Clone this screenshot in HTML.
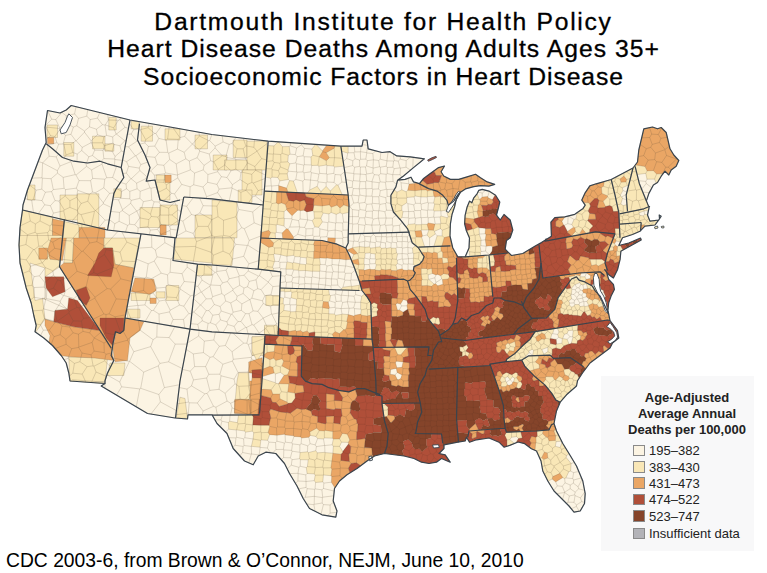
<!DOCTYPE html>
<html><head><meta charset="utf-8"><title>Heart Disease Deaths</title>
<style>
html,body{margin:0;padding:0;background:#fff}
body{width:767px;height:573px;position:relative;overflow:hidden;font-family:"Liberation Sans",sans-serif;color:#000}
.t{position:absolute;left:0;width:767px;text-align:center;font-size:23.5px;line-height:28px;white-space:nowrap;-webkit-text-stroke:0.3px #000;transform:scaleX(1.05);transform-origin:383px 0}
.foot{position:absolute;left:6px;top:549px;font-size:19.3px;line-height:24px;white-space:nowrap}
.lt{position:absolute;left:607px;width:160px;text-align:center;font-weight:bold;font-size:13px;line-height:16px;color:#222;white-space:nowrap}
.sw{position:absolute;left:633px;border:1px solid #8a8a8a;box-sizing:border-box;width:11.5px;height:11.5px}
.ll{position:absolute;left:649px;font-size:13px;line-height:17px;color:#222;white-space:nowrap}
</style></head><body>
<svg width="767" height="573" viewBox="0 0 767 573" style="position:absolute;left:0;top:0">
<rect x="601" y="376" width="153" height="175" fill="#f8f8f9"/>
<polygon points="47.5,110.5 60,113 66.2,110 71.2,105.5 130,120 170,127 211.8,134.5 268.2,141.2 340.8,146.2 362,146.2 363.2,140 367,140 368.2,148.8 382,152.5 390.1,151.7 396.8,155.9 410.2,156.8 424.4,158.8 413.5,167.6 403.5,176 397.6,180.2 405.1,179.4 411,177.2 413.5,181.9 419.4,183.6 423.6,178.5 430.3,173.5 438.6,167.6 444.5,166 441.1,171.8 443.7,176 450.4,179.4 458.7,179.4 467.1,176.9 475.5,174.3 480.5,177.7 487.2,181.9 494.7,184.4 488.9,186.1 480.5,185.6 473.8,186.6 465.4,188.9 460.4,192.3 456.2,199.5 454.5,207 452,214.5 450.4,223.8 450,236 452.8,248 457.8,256.8 465.2,256.8 469,248 469.5,238 466.3,230.5 464.6,223.8 465.1,215.4 467.1,207 469.6,201.1 471.8,202.8 473.8,197.8 477.2,193.6 478.8,190.3 482.2,189.4 488.9,191.1 495.6,195.3 499.8,202 498.5,207.5 496.5,215 500.2,220 504,214.5 510.2,220 512.8,230 510.2,237.8 506.5,240.5 505.2,249.2 511.5,255.5 522.8,253.5 535.2,246 541.4,242.6 551.4,236.3 550.9,222.1 554.8,217.6 564.8,216.8 574.8,214.3 583.1,208.4 585.2,205.1 581.8,200.1 584.8,193.4 589.8,185.9 596.2,183.8 611.2,179.5 633,168 637.5,162 638.8,150 643.8,128.8 652.5,127 657.5,128.8 661.2,127.5 666.2,132.5 670,148.8 673.8,155 678.8,160.5 676.2,166.2 671.2,170 668.8,175 665,171.2 661.2,176.2 657.5,182.5 653.4,185 648.9,193.4 646.4,200.9 649.1,207.6 647.5,215 650,221.2 658.8,220 661.2,216.2 659.2,215 659.5,218.8 655,225 645,226.2 640,231.2 632.5,234.5 622.5,237.8 618.8,245.5 628.8,243 640.5,238 641.2,240 631.2,245.5 621.2,251 620.9,251 620.1,259.4 617.6,269.4 613.4,278 608.4,274.4 604.7,269.7 606.4,271.9 608.7,279.4 613.4,284.4 614.4,289.4 611.1,296.1 608.7,302.7 607.9,310.8 608.7,314.1 610,320.5 617.5,330.5 618.8,338 612.5,343 610,348 600,355.5 590,363 582.5,373 577.5,380.8 576.5,386 566.5,394.8 560.2,402.2 556.5,411 554,423.5 556.5,431 562.8,443.5 569,453.5 576.5,466 582.8,481 585.2,493.5 584.5,503.5 580.2,511 574,512.2 569,506 561.5,498.5 554,491 547.8,481 542.8,471 541,461 536.5,451 531.4,448.7 524.7,443.7 518.1,442 509.7,445.4 504,447.2 499,442.2 489,438 476.5,439.8 469.5,442.2 466.5,437.2 465.2,441 457.8,442.2 444,444.8 444,448.5 439,453.5 445.2,454.8 450.2,462.2 441.5,458.5 436.5,462.2 429,463.5 421.5,462.2 414,458.5 404,456 384.5,453.5 374.5,456 367,461 357,468.5 347,474.8 339.5,481 334.5,488.5 333.2,501 337,511 335.8,517.2 322,514.8 309.5,508.5 303.2,498.5 297,486 289.5,473.5 284.5,463.5 275.8,453.5 265.8,452.2 258.2,456 253.2,464.8 244.5,461 233.2,448.5 227,433.5 217,423.5 212,414.8 188,414.8 187.5,419 175,418 147.5,413.5 101.2,386 105,383.5 70,381 68.8,373 66.2,363 61.2,355.5 52.5,345.5 43.8,338 35,331.8 36.2,325.5 33.8,315.5 31.2,303 26.2,288 22.5,273 20,263 19,245 20,227.5 22.5,210 23,205 27.5,190 35,170 42.5,150 46.2,142.5 45,127.5" fill="#fcf4e3"/>
<defs><clipPath id="west"><path d="M60 112.7l-12.4-2.5l-0.1 0l-0.1 0l-0.1 0l0 0.1l-0.1 0l0 0.1l0 0.1l-2.5 17l1.2 14.9l-0.4 0.9l-3.3 6.6l-15 40l-4.5 15l0 0.1l-0.5 5l-2.5 17.5l-1 17.5l1 18l0 0.1l2.5 10l3.7 15l5 15l2.6 12.5l2.4 9.9l-1.2 6.2l0 0.1l0 0.1l0 0.1l0.1 0l8.8 6.2l8.7 7.5l8.7 10l4.9 7.4l2.6 10l1.2 7.9l0 0.1l0 0.1l0.1 0l0 0.1l0.1 0l0.1 0l34.1 2.4l-3.1 2l0 0.1l-0.1 0.1l0 0.1l0 0.1l0 0.1l0.1 0l0 0.1l3.8 2.2l42.5 25.3l0.1 0l0.1 0l27.5 4.5l0.5 0l12 1l0.1 0l0.1-0.1l0.1-0.1l0-0.1l0.5-3.9l23.5 0l0.2 0.2l0 0.1l0.1 0.1l0.1 0l47.2-0.4l0.1 0l0.1-0.1l0.1 0l0-0.1l0-0.1l2.6-33.8l2.5-36.8l0.6-9.1l12.8 0.7l0.1 0l0.1 0l0-0.1l0.1 0l0-0.1l0-0.1l1.8-47.5l0.8-16.2l0-0.1l0-0.1l-0.1 0l-0.1-0.1l-0.1 0l-22.3-2.6l2.6-30.9l2.4-33l1.1-13.8l3.9-50l0-0.1l-0.1-0.1l-0.1-0.1l-0.1 0l-56.4-6.7l-41.7-7.5l-40-7l-58.8-14.5l-0.1 0l-0.1 0l-0.1 0l0 0.1l-5 4.4z"/></clipPath></defs>
<g clip-path="url(#west)" stroke="#5a4a3a" stroke-opacity="0.36" stroke-width="0.55">
<polygon points="108.8,117.5 116.2,117.5 116.2,130 108.8,130" fill="#f9e7b7"/>
<polygon points="92.5,136.2 105,136.2 105,148.8 92.5,148.8" fill="#f9e7b7"/>
<polygon points="105,143.8 113.8,143.8 113.8,151.2 105,151.2" fill="#f9e7b7"/>
<polygon points="47,125 57.5,125 57.5,137.5 47,137.5" fill="#f9e7b7"/>
<polygon points="63.8,142.5 73.8,142.5 73.8,156.2 63.8,156.2" fill="#f9e7b7"/>
<polygon points="131.2,121.2 138.8,121.2 138.8,128.8 131.2,128.8" fill="#f9e7b7"/>
<polygon points="141.2,126.2 152.5,126.2 152.5,141.2 141.2,141.2" fill="#f9e7b7"/>
<polygon points="165,128.8 180,128.8 180,140 165,140" fill="#f9e7b7"/>
<polygon points="195,135 207.5,135 207.5,148.8 195,148.8" fill="#f9e7b7"/>
<polygon points="156.2,175 165,175 165,181.2 156.2,181.2" fill="#f9e7b7"/>
<polygon points="60,195 80,195 80,220 60,220" fill="#f9e7b7"/>
<polygon points="77.5,193.8 98.8,193.8 98.8,230 77.5,230" fill="#f9e7b7"/>
<polygon points="27.5,185 35,185 35,200 27.5,200" fill="#f9e7b7"/>
<polygon points="113.8,188.8 121.2,188.8 121.2,197.5 113.8,197.5" fill="#f9e7b7"/>
<polygon points="140,207.5 160,207.5 160,227.5 140,227.5" fill="#f9e7b7"/>
<polygon points="160,205 177.5,205 177.5,225 160,225" fill="#f9e7b7"/>
<polygon points="195,215 211.8,215 211.8,237.8 195,237.8" fill="#f9e7b7"/>
<polygon points="155,180 170,180 170,200 160,200" fill="#f9e7b7"/>
<polygon points="22.5,210 52.5,217.5 52.5,237.8 20,237.8 20,227.5" fill="#f9e7b7"/>
<polygon points="47.5,137.5 53.8,137.5 53.8,143.8 47.5,143.8" fill="#eaa665"/>
<polygon points="165,175 171.2,175 171.2,182.5 165,182.5" fill="#eaa665"/>
<polygon points="78.8,227.5 105,227.5 105,237.8 78.8,237.8" fill="#eaa665"/>
<polygon points="160,225 166.2,225 166.2,235 160,235" fill="#eaa665"/>
<polygon points="52.5,218.8 64.5,221.5 63,238.8 52.5,238.8" fill="#eaa665"/>
<polygon points="64.5,221.5 78.8,225 78.8,238.8 63,238.8" fill="#f9e7b7"/>
<polygon points="233.2,140 247,140 247,157.5 233.2,157.5" fill="#f9e7b7"/>
<polygon points="247,141.2 267,141.2 267,170 247,170" fill="#f9e7b7"/>
<polygon points="213.2,155 227,155 227,170 213.2,170" fill="#f9e7b7"/>
<polygon points="224.5,160 247,160 247,170 224.5,170" fill="#f9e7b7"/>
<polygon points="242,170 262,170 262,195 242,195" fill="#f9e7b7"/>
<polygon points="238.2,190 252,190 252,202.5 238.2,202.5" fill="#f9e7b7"/>
<polygon points="268.2,148.8 287,148.8 287,177.5 268.2,177.5" fill="#f9e7b7"/>
<polygon points="278.2,167.5 287,167.5 287,180 278.2,180" fill="#f9e7b7"/>
<polygon points="287,182.5 295.8,182.5 295.8,191.2 287,191.2" fill="#f9e7b7"/>
<polygon points="264.5,192.5 275.8,192.5 275.8,237.8 264.5,237.8" fill="#f9e7b7"/>
<polygon points="275.8,205 287,205 287,225 275.8,225" fill="#f9e7b7"/>
<polygon points="212,200 237,202.5 237,237.8 212,237.8" fill="#f9e7b7"/>
<polygon points="275.8,193.8 287,193.8 287,205 275.8,205" fill="#eaa665"/>
<polygon points="277,187.5 287,187.5 287,192.5 277,192.5" fill="#eaa665"/>
<polygon points="287,200 305.8,200 305.8,208.8 287,208.8" fill="#eaa665"/>
<polygon points="287,208.8 297,208.8 297,213.8 287,213.8" fill="#eaa665"/>
<polygon points="260.8,231.2 272,231.2 272,237.8 260.8,237.8" fill="#eaa665"/>
<polygon points="283.2,233.8 289.5,233.8 289.5,237.8 283.2,237.8" fill="#eaa665"/>
<polygon points="287,193.8 304.5,193.8 304.5,200 287,200" fill="#b04f39"/>
<polygon points="17.5,235.5 62.5,235.5 59.5,266.8 45,276.8 45,319.2 35,333 17.5,263" fill="#f9e7b7"/>
<polygon points="30,263 45,268 45,298 35,300.5" fill="#fcf4e3"/>
<polygon points="42.5,298 67.5,309.2 55,310.5 53.8,321.8 45,319.2" fill="#fcf4e3"/>
<polygon points="68.8,356.8 107.5,358 105,381.8 70,381.8" fill="#f9e7b7"/>
<polygon points="66.2,238 73.8,238 72.5,263 63.8,263" fill="#f9e7b7"/>
<polygon points="103.8,238 140,238 133.8,268 115,264.2 112.5,248 103.8,248" fill="#f9e7b7"/>
<polygon points="131.2,293 150,293 150,300.5 131.2,300.5" fill="#f9e7b7"/>
<polygon points="166.2,285.5 178.8,285.5 178.8,300.5 166.2,300.5" fill="#f9e7b7"/>
<polygon points="156.2,291.8 165,291.8 165,298 156.2,298" fill="#f9e7b7"/>
<polygon points="127.5,309.2 140,309.2 140,318 127.5,318" fill="#f9e7b7"/>
<polygon points="110,363 125,363 123.8,375.5 107.5,375.5" fill="#f9e7b7"/>
<polygon points="176.2,238 211.8,238 211.8,263 173.8,259.2" fill="#f9e7b7"/>
<polygon points="197.5,264.2 211.8,266 211.8,275.5 196.2,275.5" fill="#f9e7b7"/>
<polygon points="51.2,238 66.2,238 62.5,260.5 50,259.2 47.5,250.5" fill="#eaa665"/>
<polygon points="38.8,248 47.5,248 47.5,259.2 38.8,259.2" fill="#eaa665"/>
<polygon points="45,319.2 53.8,321.8 73.8,326.8 100,330.5 111.2,348 113.8,360.5 95,358 70,356.8 60,355.5 48.8,343 50,335.5 45,325.5" fill="#eaa665"/>
<polygon points="63.8,263 72.5,263 73.8,238 103.8,238 103.8,248 112.5,248 115,264.2 133.8,268 125,318 123.8,330 120,333 115.5,331.8 112,350.5 59.5,266.8" fill="#eaa665"/>
<polygon points="135,278 153.8,279.2 156.2,290.5 150,294.2 131.2,291.8" fill="#eaa665"/>
<polygon points="150,298 156.2,298 156.2,303.5 150,303.5" fill="#eaa665"/>
<polygon points="125,318 143.8,321.8 140,330.5 130,338 127.5,360.5 115,361.8 113.8,355.5 113,348 116.2,331.8 123.8,330" fill="#eaa665"/>
<polygon points="45,276.8 63.8,276.8 65,291.8 52.5,296.8 46.2,288" fill="#b04f39"/>
<polygon points="68.8,298 77.5,300.5 100,330.5 73.8,326.8 53.8,321.8 55,310.5 67.5,309.2" fill="#b04f39"/>
<polygon points="103.8,248 112.5,248 113.8,265.5 111.2,276.8 87.5,275.5 95,263 98.8,253" fill="#b04f39"/>
<polygon points="76.2,290.5 86.2,286.8 90,298 86.2,305.5 78.8,299.2" fill="#b04f39"/>
<polygon points="100,318 123.8,318 123.8,330 120,333 115.5,331.8 112.5,345.5 106.2,338 100,325.5" fill="#b04f39"/>
<polygon points="212,238 234.5,238 232,265.5 212,264.2" fill="#f9e7b7"/>
<polygon points="260.8,238 322,240.5 345.8,248 362,290.5 280,288 280.8,271.8 258.2,269.2" fill="#f9e7b7"/>
<polygon points="274.5,255.5 347,255.5 354.5,268 359.5,288 280.8,288 280.8,271.8 274.5,270.5" fill="#fcf4e3"/>
<polygon points="287,264.2 312,264.2 312,271.8 287,271.8" fill="#f9e7b7"/>
<polygon points="280,288 359.5,290.5 370.8,303 372,339.2 278.2,335.5" fill="#f9e7b7"/>
<polygon points="282,290.5 294.5,290.5 294.5,313 282,313" fill="#fcf4e3"/>
<polygon points="265.8,295.5 279.5,295.5 279.5,305.5 265.8,305.5" fill="#f9e7b7"/>
<polygon points="264.5,326.8 278.2,326.8 278.2,335.5 264.5,335.5" fill="#f9e7b7"/>
<polygon points="252,336.8 264.5,336.8 264.5,355.5 252,355.5" fill="#f9e7b7"/>
<polygon points="265.8,239.2 273.2,239.2 273.2,246.8 265.8,246.8" fill="#eaa665"/>
<polygon points="264.5,344.2 302,346 302,380.8 262,380.8" fill="#eaa665"/>
<polygon points="265.8,345.5 287,345.5 287,355.5 265.8,355.5" fill="#f9e7b7"/>
<polygon points="269.5,363 284.5,363 284.5,380.8 269.5,380.8" fill="#f9e7b7"/>
<polygon points="249.5,363 263.2,363 263.2,373 249.5,373" fill="#eaa665"/>
<polygon points="278.2,331 289.5,331 289.5,336 278.2,336" fill="#b04f39"/>
<polygon points="264.5,336.2 302,338 302,346 264.5,344.2" fill="#b04f39"/>
<polygon points="287,345.5 302,345.5 302,355.5 287,355.5" fill="#b04f39"/>
<polygon points="253.2,370.5 262,370.5 262,380.8 253.2,380.8" fill="#b04f39"/>
<polygon points="72.5,379.8 105,382.2 101.2,386 70,382.2" fill="#f9e7b7"/>
<polygon points="180,397.2 185,398.5 187.5,418.5 176.2,418" fill="#f9e7b7"/>
<polygon points="237,383.5 250.8,383.5 250.8,401 237,401" fill="#f9e7b7"/>
<polygon points="230.8,418.5 252,418.5 252,433.5 230.8,433.5" fill="#f9e7b7"/>
<polygon points="252,428.5 270.8,428.5 270.8,443.5 252,443.5" fill="#f9e7b7"/>
<polygon points="249.5,381 260.8,381 260.8,398.5 249.5,398.5" fill="#eaa665"/>
<polygon points="234.5,399.8 259.5,399.8 259.5,413.5 234.5,413.5" fill="#eaa665"/>
<polygon points="260.8,381 267,381 267,401 274.5,401 274.5,408.5 264.5,408.5 264.5,416 269.5,416 269.5,426 252,426 252,416 259.5,414.8" fill="#b04f39"/>
<polygon points="267,381 287,381 287,401 267,393.5" fill="#f9e7b7"/>
<polygon points="272,387.2 279.5,387.2 279.5,401 272,401" fill="#eaa665"/>
<polygon points="287,381 302,381 307,396 292,396" fill="#eaa665"/>
<polygon points="269.5,408.5 322,416 329.5,426 317,438.5 287,438.5 269.5,431" fill="#eaa665"/>
<polygon points="283.5,235.2 292.7,235.2 292.7,239.3 283.5,239.3" fill="#eaa665"/>
<polygon points="279.3,330.3 289.4,330.3 289.4,332.8 279.3,332.8" fill="#b04f39"/>
<polygon points="264.5,325.2 277.1,325.2 277.1,335.2 264.5,334.7" fill="#f9e7b7"/>
<polygon points="277.9,331 288.7,331 288.7,336.3 277.9,335.7" fill="#b04f39"/>
<polygon points="289.6,331 308.8,331.8 308.8,337.7 289.6,336.7" fill="#eaa665"/>
<polygon points="265.4,336.3 302.1,337.7 302.1,346.9 263.7,345.2" fill="#b04f39"/>
<polygon points="277.1,337.3 289.6,337.7 289.6,346 277.1,345.5" fill="#eaa665"/>
<polygon points="263.7,345.2 302.1,346.9 301.3,376.1 301.3,399.4 260.4,399.4" fill="#eaa665"/>
<polygon points="264.5,346 274.6,346.4 274.6,351 264.5,351" fill="#f9e7b7"/>
<polygon points="263.7,358.5 282.1,358.5 282.1,366.1 263.7,366.1" fill="#f9e7b7"/>
<polygon points="272.9,366.1 287.1,366.1 287.1,373.6 272.9,373.6" fill="#f9e7b7"/>
<polygon points="267.9,372.7 282.1,372.7 282.1,380.2 267.9,380.2" fill="#fcf4e3"/>
<polygon points="267,380.2 287.1,380.2 287.1,392.8 267,392.8" fill="#f9e7b7"/>
<polygon points="280.4,392.8 293.7,392.8 293.7,401.1 280.4,401.1" fill="#f9e7b7"/>
<polygon points="289.6,346.9 295.4,346.9 295.4,353 289.6,352.7" fill="#b04f39"/>
<polygon points="295.4,353.5 301.3,353.5 301.3,376.1 305.4,381.1 312.1,383.6 312.1,396.1 305.4,404.4 293.7,404.4 293.7,396.1 302.1,389.4 295.4,381.1 289.6,381.1 289.6,374.4 295.4,374.4" fill="#b04f39"/>
<polygon points="260.4,399.4 280.4,401.1 282.1,409.4 290.4,414.4 290.4,422.8 253.7,422.8 259.5,409.4" fill="#b04f39"/>
<polygon points="270.4,409.4 277.1,409.4 277.1,416.1 270.4,416.1" fill="#eaa665"/>
<polygon points="252,336.8 264.5,336.3 263.4,351 257,361 252,351" fill="#f9e7b7"/>
<polygon points="248.7,361.9 262,357.7 261.7,369.4 252,370.2 248.7,372.7" fill="#eaa665"/>
<polygon points="238.7,372.7 248.7,372.7 250.4,392.8 245.4,399.4 235.3,399.4 237,381.1" fill="#f9e7b7"/>
<polygon points="252,377.7 260.7,377.7 259.5,409.4 250.4,414.4 250.4,392.8" fill="#eaa665"/>
<polygon points="252,370.2 261.5,369.4 261.2,377.7 252,377.7" fill="#b04f39"/>
<polygon points="235.3,399.4 248.7,399.4 250.4,414.4 234.5,412.8" fill="#eaa665"/>
<polygon points="251.2,399.2 259.5,399.2 257.8,416.7 251.2,416.7" fill="#eaa665"/>
<polygon points="259.5,399.2 380.5,399.2 380.5,455.1 375.5,456.7 368.8,455.1 365.5,446.7 357.1,440.1 358.8,430 352.1,423.4 345.5,425 338.8,421.7 328.8,418.4 322.1,421.7 307.1,416.7 268.7,410 268.7,421.7 262,421.7 262,426.7 251.2,425 251.2,416.7 257.8,416.7" fill="#b04f39"/>
<polygon points="268.7,410 307.1,416.7 322.1,421.7 327.1,431.7 318.8,435.9 307.1,439.2 287,437.5 268.7,430.9 267.9,421.7" fill="#eaa665"/>
<polygon points="278.7,399.2 283.7,399.2 283.7,406.7 278.7,406.7" fill="#eaa665"/>
<polygon points="270.4,409.2 277,409.2 277,416.7 270.4,416.7" fill="#eaa665"/>
<polygon points="251.2,426.7 262,428.4 270.4,433.4 272,440.1 262,445.1 251.2,438.4" fill="#f9e7b7"/>
</g>
<path d="M278.3 141.9l-4.4 3.9l-6.1-0.3l-2.5 31.6l5.4 1.1l1.4-0.9l5.6 0.3l2.1 3.4l8.6-1.5l-1.1-5.7l1.1-2.6l-0.3-1.1l1.8-6.3l-2.1-2l0.5-6.5l1.8-1.1l-0.8-7.7l-6.8 0.2zM264.2 191.2l-1 13.8l-2 27.4l0 0.1l7.5-2.1l1.9 2.3l-2.5 5.6l0.7 0.1l4.9 4.7l-0.8 3.3l-4.1 0.9l-8.4-5.2l-2.2 27.1l15.2 1.8l0-2.7l-0.7-1l1.7-5.6l0.4-0.3l-1.1-6.9l0.7-0.6l6.4 0.9l0.1 0.1l6 1.4l0.1 0l6.6-1l1.2 1.3l5.1 0.2l0.5 0.5l5.8 0.5l0.3 5.9l-0.9 0.8l-5.8-0.6l-0.1-0.2l-6.2-1.3l-0.8 0.6l-5.5-1.1l-0.3 0.3l-1.1 6.8l0.2 0.2l6.8 0l0.8 0.8l4.6 0.3l0.5 0.5l6.7-0.3l0.1 0.2l7 0.7l0.1-0.2l7 0.2l0.4-0.4l0-6l0.4-0.5l-0.8-6.3l-5.8 0.1l-0.1-0.1l0.1-6.7l0.6-0.5l-0.2-5.6l-0.7-0.8l1.5-4.4l-39.4-1.6l-0.3-5.4l1-0.8l0-7.4l0.8-0.6l7 1.6l0.3-7.5l-0.4-0.4l0.1-6.5l2.4-1.9l0.3-0.8l-1.4-4.4l-3.8-1.6l-3.3 1l-2-1l0.4-11.2zM280 288l-0.1 3.3l4.3-0.1l0.6 0.7l5.9-0.5l1.1 1l-0.8 5.4l5.6 1.4l-0.4 5.6l0.4 0.4l-0.8 6.3l-5.1 0.3l-0.4-0.5l-6.4-1l0.5-5.5l-1.3-1.2l0.4-5.4l-3.9-0.9l-1.1 29.9l2.9 2.8l6.9 1.2l0.3 0.4l6.7-1.2l1.2 0.9l4.1-0.7l2.3 1.8l4.3-1.4l2 2.1l5.2-1.1l0.6 0.4l-0.3 4.6l19 0.7l0.1 0l-1.4-3.5l2.6-2.7l4.5 2.2l4.3-4l0.9 0.1l1.5-1.4l1.3-6.2l-0.7-0.8l1.4-6.8l-6.2-0.6l-0.2 0.3l-6.2 1l-1.1-1.4l-5.7-0.2l0.1-5.1l-6.3-1l-0.2-0.4l1-5.7l4.8 0.5l1.5-1.1l0.8-5.4l-1-0.7l-0.9-5.3zM275 344.7l-10.5-0.5l-0.8 11l3.4-2.8l7.1-0.9zM273.5 358.2l-3.5 1.4l-6.4-3l-0.8 12.6l7.2-2.8l2.9 0.9l1.2 5.7l1.3 1l5-1.6l3.7 2.9l3.6-0.4l1.8-5.1l-7.5-4l1.7-4.7l-1.6-2.3l-6.1 1.5zM262.2 378.4l-0.9 10.8l9.9 0.6l1.6 4.3l6.8 0l0.3 4.7l7.2 3.3l0.9 1.3l3.7-0.3l3.7-5l-0.4-4.6l-0.6-0.6l-6.5-0.9l0.9-8.1l-10.2-0.2l-0.2 0.1l-2.5-0.6l-0.5-0.5zM238.5 414.9l-1.2 7.7l-7.7-1.4l-1.3 1.4l0.4 6.6l7.6 0.9l0.3-0.2l7.9 1.2l1 1.2l6.8-1.1l1.4 1.6l-0.7 6.2l-1.6 7.3l8.7 0.9l0.7-6.8l0.5-0.4l6.3 0.3l2.1-5.7l-1.5-2.2l1.6-6l-0.8-1.3l-8.2 0.1l-0.1-0.1l-7.8-0.2l0.5-8.1l-1.2-2zM322.7 151.7l-0.2-0.8l-6.3-6.4l-0.6-0.1l-3.8 4.7l0.9 6.2l-1.8 1.7l0.3 8l0.5 0.5l6.2-0.1l1 0.8l7.3-1.2l0.7 0.6l6.7 0.5l0.9 1l9.4-1l-2.3-14.8l6.2 1.9l0.4-0.3l0-6.7l-7.4-0.1l-5.7-0.3l-1 2.3l-8 4.6l3.2 5l-3 3l-6.9-4zM288 192.3l9.4 0.4l-4.1-11.7l-3.9-0.4l-2.9 7.5zM317.3 186.2l-7.6 3.8l-2.4 3.2l35 1.5l-4.3-9.6l-1.5-0.3l-6.1 6.2l-4.2-4.7l-5.3 5.2zM313.8 205.2l-1 5.5l1 1.1l0.5 6.4l-2 2.5l2.5 6.2l3.9 0.4l3.8-5.3l-1.6-3.7l2.2-5.2l5.8 0.9l2.4-1.4l4.9 1.8l3.8-1.6l2.3 1l6.6-1.4l0.1-5.7l-5.2-1.8l-3.8 2.9l-3.1-2.7l-5.6 2.1l-1.9-2.4l-7 1.1l-0.1 0.1zM316.8 428.2l-7 3.6l0.5 3.6l5.7 1.2l1.6 2l5.9 0.5l0.9-1.2l8.4 0.3l0-6.7l-7.7-1.2l-0.7 0.6l-5.2-0.3zM315.9 450.7l-7.5 1.8l-0.9-0.7l-7.4 0.8l-0.6 6.1l0.9 1.1l7.8 0l-0.8 6.8l-1.1 1l0.8 5.9l7.2 0.5l0.8 1.2l-0.8 5.4l1.2 1.9l7.3-0.6l0.7-6.8l0.1-0.1l7.4 0.7l0.9-6.6l-0.9-1.3l1.9-14.5l8.3 1l1.8-2l-0.1-0.7l-3.3-5.2l1.9-4.2l6.8 0.2l1.5-2.5l-2.5-5.8l-5-0.8l-2.8 5.5l-6.2 0.3l-1.1 5.7l1.1 1.5l-0.5 6.9l-7.6-0.6l-0.3-0.3l-7.6 0.5zM359.6 246.5l-6.9 1.1l-0.1 0.1l4.8 5.8l-3.7 1l-2.4 5.5l0.2 0.5l6.7-1.5l0.9 5.3l-0.4 0.6l-6.1-1.7l0 0.1l1.9 4.7l3.2 9l1.6-1.5l-0.5-5.8l5.1 0.1l0.7-5.3l-0.6-0.4l0.2-5.5l0.5-0.4l0.4-4.9l5-0.4l0.6 0.6l4.4 0.4l0.2 5l0.5 0.6l-0.6 4.1l1.1 1.3l-1.3 4.6l0.5 0.6l4.5 0.6l1.4-1.3l4.3 0.6l5-0.6l1 1.1l4.9 0.3l0.5-0.6l-1-5.1l1.3-1.5l-0.1-3.5l-0.8-0.8l1.1-5.5l-1-0.8l-0.5-4.8l-4.4-0.2l-0.7-0.5l-4.5 0.8l-0.7-0.4l-4.2 0.4l-1.5-1.5l-4.5 0.5l-0.3 0.2l-4.7 0.5l-1.2-1.2l-4.5 0.5l-0.3-0.3zM362.1 290.6l-1.9-6.4l-0.9 0.9l-7.6 1.2l-0.3-0.2l-8.5 1.1l-1.6 1.6l-0.1 1.1zM364.7 293.8l-2.9 2.3l-1.3 6.2l0.1 0.2l0 6.6l0.5 0.8l-0.4 4.3l1 1.1l5.6 0.9l0.4-0.4l3.5-0.6l0.1 2.4l6.1-1.8l-0.4-4l1.5-2.2l-1.4-2.2l0.5-3.3l-3.6-1.7l-3 2l-0.1 0l-0.1-1.4l-3.8-6.2zM434 196.3l-1-6.3l-5.6 1l-1.3-1.2l-4.6 0.2l-0.2-0.1l-6.2 0.8l-7.4-0.5l-1.6 1.6l-4.3-2l-4.8 2.1l-2.9-2.1l-3.2 5.5l0 8.4l2.5 8.3l6.4 7.2l2.3-1.8l1-5.7l-1.3-1.5l0.1-4.3l5-3.1l-0.2-4.7l0.2-0.5l7.2-0.7l1-0.9l5.8 0.9l6.3 0.1l0.2-0.2zM439.8 196.2l-4.9 0.8l-1.3 6l0.9 1.1l-1.2 6.1l0.9 0.9l6.4-0.3l0.3 0.3l5.3-0.9l2 6.7l-1 0.8l-6.3-1.7l-0.9 1l0.7 6.4l-0.4 0.4l-5.1 0.1l-0.3 0.2l-1.5 6.1l-4.7-0.2l-1.7 5l2.6 3l5.8-4l-0.9-2.7l6-2.5l1.7 1.4l-0.2 5.7l-4.9-0.2l-3.4 10.8l-8.9 0.4l-3.2-9.7l-5.6-0.2l-1-5.9l6.2-0.6l0.4-0.5l7-0.1l-1.4-5.6l-5.5-0.1l-0.4 0.4l-5.4 0.1l-0.9-1l-6.7 0.7l-2.2 2.6l1.5 1.8l4.6 14l3.5 2.9l-3.2 2.4l0.4 4.9l0.7 0.6l-0.2 4.6l-0.1 0.1l0 6l2 1.8l4.4-2l3.1-3.8l1.3-3.7l-2.9-4.3l5.4 0.4l1-0.7l4.7 1.1l1.6-1.1l3.4 1l0.5 5.3l4.3-0.2l0.8 5.2l5.3-0.9l-0.6-4.2l-4.9-0.7l0.1-5.2l-1.6-1.3l-0.3-4.7l1 0l2.4-8.7l5.8-1.4l0.3-12.4l1.6-9.3l2.5-7.5l0.4-1.4l-1.9-1.6l-6-0.5l-0.4-6.3l-6-0.3zM421.7 268.5l-0.6 0.5l0.1 5.2l0.9 5.4l-0.6 0.8l0 4.9l0.5 0.5l5.2-0.3l0.2 0.2l4.2 0.6l2.6-2.2l-5.4-4.7l-0.4-0.2l-0.1-4.4l4-1.3l-0.5-5.1l-4.5 1l-0.8-0.8zM442.5 279.7l5.5-0.7l1.6-2.2l-1.1-2.3l-4.9-0.9l-2.9 2.1l0.9 3.2zM433.4 317l-4.1 3.1l3 4l2.6-0.6l3.6 1.3l1.7-1.4l-1-5.2l-1.3-0.7l-1.7 0.6zM400.8 354.9l6.4-7.7l0-0.1l-12.6 0.2l0 0.2l3.1 7.1zM385 403.4l-3 0.1l1.9 13.5l2.6-0.3l1.5-1.6l0.1-4.9l-0.2-0.3l0.3-2.7l-3-2.6zM477 193.8l-3.2 4l-2 4.9l-2.2-1.6l-2.5 5.9l-2 8.4l-0.2 2.4l9.2 1.4l0.3-0.3l4.4-1.3l-1.7-6.2l0.7-0.5l0.5-5.7l1.6-1.2l0.4-2.8l-0.6-1.7l-0.3-0.2zM479.4 234.1l-0.4-6.4l-0.8-0.8l-5.1 2.2l-0.8-0.2l-5.9 1.8l3 7.3l-0.4 10l-1 2.3l1.5 1.4l0.1 4.8l11.4-0.9l-0.6-3.2l0.6-0.8l-0.9-5.2l0.8-0.7l0.2-5l0.2-0.3l-2-6.1zM493.3 254.5l-4.3 0.5l-3.2 0.2l-3.2 2.7l-4.4 0.2l-0.7 0.9l0.2 3.6l-0.5 0.5l0.2 5.1l4.8-0.6l0.4 0.3l4.1 0.1l2.1 2l1.6 0l-0.3-3.2l4.3-1l0.3-3.8l0.3-0.5zM535.1 331.7l-5 7.5l-6.7 5.8l-8.4 8.4l-8.3 5.8l-0.8 2.5l15.8-1.5l3.4 6.5l4.3 4.4l4.2-1.2l0.3-0.4l5.5-1.2l-0.1-3.6l-3.9-2.8l3.3-4l-0.6-2.3l12-0.4l1.1 1l1.1-2l0-5l4-1.4l0.7 0.7l3.5 0.8l3.2-3l0.1-0.3l5.2-2.1l-1.9-4.6l-4.4-0.8l1.7-4.2l2.8-0.8l1.1-2.8l4.1-0.4l0.8 0.6l-0.7 5.9l0.4 0.4l-1.6 6.1l5.8 0.6l0.4-3.1l2.6-1.1l0.8-3.8l-2.4-1.3l-0.7-4.3l-0.2-0.1l0.4-5.5l-20.7 3.4l-0.1 0l1.7 3.9l-1.3 2.5l1.1 2.9l3.6 1.3l-0.4 4.5l-5.3 0.8l-0.6 0.7l-5.5-1.2l-0.5-4.4l0.6-0.5l1.3-4.5l0.8-0.5l1.5-5zM539.2 334.8l2.6-1.6l3 1.1l1.1 4.1l-1.6 1l-2.5-0.4l-3.5 2.3l-1.4-0.3l-1.3-3.6l3.3-2.6zM529.1 352.6l-0.2-1.4l3.2-1.8l1.5 0.9l-1 4.9l0.2 0.5l-4.4 0.2l-2.7 1.6l-0.1-0.1l0.1-1.2zM547.8 351.6l-3.9 2.5l-2.1-4.6l6-2.2zM515.7 346.3l-0.8-4.8l-5.7 2.3l-1.2-0.8l-2.6 2.1l0.5 3l-1.8 1.8l2.6 4l0.5 0.1l2.3-3.3l4.4 0.7l0.8-4.2zM468.4 347.6l-1.9-3l-3.6 2.4l-3.4-0.3l0.5 4.6l2.1 0.8l-0.1 4.4l0.3 0.1l3.2-1.2l2.3 1.2l1.7-3.5l-3.7-2zM508.8 373.1l-2.7-0.7l-3.6 2.2l-0.3 1.6l-1 0.7l-1.3 3.3l1.6 2.2l-0.6 3l1 1.4l3.9-0.3l1.6-1.6l-0.8-2.9l-0.9-0.7l-0.6-3.3l2.6-1.3l2.4 3l2.4-2.8l2 1.3l-0.9 3.7l3.9 0.9l-1.1 4.7l2.1 1.1l2.2-0.8l1.7-3.7l-1.7-2.5l-1.4 0l-2.7-3.9l1.3-2.7l-0.5-2.2l-2-0.5l-3.5 2.3l-2.8-1zM518.5 438.6l3.9-0.6l-1.6-6.4l-14.3 0.5l-1.9 3.1l2.3 4.8l-0.1 0.1l0.1 6.2l2.8-0.9l5.1-2l-5.1-3.8l1.9-2.3l4.9-0.6zM565.4 287.5l-0.1 0l-1.3 1.9l-5.9 8.3l-0.6 1.9l0 0.1l4.4 0.6l1 2.7l-1.5 1.5l-0.2 3.2l-1.2 0.9l0.7 4.7l2 0.7l0.7 0.9l4.7-0.8l1.1 0.9l2.8-0.1l0.4 0.4l5.1 0.3l0.1 0.1l3.5 0.6l2.5-4.3l1-0.2l2.6 4l2.9-0.9l1.4-2.9l-0.5-1.6l-0.9-0.4l-1.7-4.2l-3.6 0.7l-0.7-0.5l-4 0.5l-1-1.9l-4.3-0.1l-0.5 1.3l-2.5 1.3l-2.5-2l0.5-2l-1.1-2.1l3-2.2l-0.8-3.6l0.3-0.7l0.2-0.2l0.6-5.2l-0.5-0.8l3.3-3.7l0.2 0l4.8-1.8l1.1 1.6l2 0.5l3.4-1.4l1.2 5.1l2.7-0.1l1.4 1.6l3-0.2l0.8 1.2l0.8 0.9l0.9-1.5l-1.3-3.5l-3.3-0.6l-0.2-0.3l-7.5-4.2l1.2-2.6l-1-2.6l-4.6 0l-0.3-0.8l-4.9-1.4l-0.7 1.2l-5.2 1l-0.5 0.9l0.6 2l1 0.9l-1.5 2l0.3 0.3l1.5 5.2l-3.8 1zM559.2 376.1l-3.6 4l-1.2-0.5l-1.6-2.9l-6.8-0.1l-0.5 1l0.2 1.8l-3 3.8l2.4 1.9l6.7 8.3l4.1 6.7l4.3 2.1l6.3-7.4l10-8.8l1-5.2l1.7-2.7l-1.7-3.7l-2.4-0.7l-1-1.6l-2.9-1l-2.1-2.4l-4.4 0.4l-1 1.7l1.1 4l3.7 1.5l1 2l-1.8 2.2l-2.3 0.3l-2.4-1.4l-0.2-1.6zM555.8 428.7l-0.1 0l-1.8 2.3l1.6 4.7l0.1 0.1l-0.3 4.6l-6.3 0.4l-1.2-3.4l-1.5-0.1l-3.6-3.5l0.3-3.5l-6 0.6l0.1 5.3l-1.2 0.9l0.1 5.6l-0.3 0.2l-0.8 7.4l1.6 0.7l4.5 10l1.8 10l5.1 10.2l4.3-2.1l0.6-2.5l7.1-3.1l2.9 4.1l1.9 1.1l1.3-0.8l2.8-6.1l1.9-0.7l0.4-7.5l0.1-0.1l-4.9-5.9l0.2-2l2.7-1.9l-6.4-10.2l-0.8-1.7l-0.1 0l-1.7 5.7l-4.9-1.2l0.9-4.7l5.5-0.3l-5.2-10.3zM544.4 452.2l2.8 0.7l0.6 5.1l-4 1.4l-2.1-1.7zM604.2 181.4l-0.7 4.9l-2.1 1.3l0.5 5.8l5.4 2.3l0.2 1.3l-4.5 4.3l2.5 5.2l4.2-1l2.2 1.2l1.3 5l5.3-0.3l0.3 1.1l0.7 16l-4.7-0.1l0.4 5.4l-0.2 0l-1.8 4.4l2.5 1l0.4 1.9l4 0.6l0.1 0.8l0 0.1l2.3-4.8l10-3.3l7.5-3.3l0.6-0.5l0.4-5.7l3.1-0.1l0.8 1.5l0.1-0.2l10-1.2l3.6-5l-8.6 1.1l-2.4-6.1l0-0.3l-3-0.5l-1.2 1.7l-3.4-0.7l-0.9-1.4l0.3-1l4.7-1.7l0-0.1l4.4-0.5l0.6-2.9l-9.8-24.2l-2.1-8.8l8.5-1.2l1.2 5.9l7.6-0.1l1.7 4.1l1.3-0.8l3.7-6.3l1.6-2l-0.3-0.5l-5.9 0.2l-3.2-3.3l-6.3 0.3l-2.1-4.5l-9.7-1.6l-2.3 3.2l-21.8 11.5zM621 182.1l-1-3l3.9-2.9l2.7 3.4l-0.6 2.2zM626.2 195l0.7 9.5l-3.6 1l-2.5-1.5l1.8-5.6l-0.8-1.5l-1.1-0.7l-0.3-1.1l2.5-4.6l-0.6-2.7l5.1-2.2l1 0.5zM589.7 203.8l-1.6-1.1l-4.5 0.1l1.5 2.3l-2 3.3l-6.3 4.4l0.2 0.3l-1.1 5.8l-1.9 0.6l-2.2 5l1.7 2.8l1.4 0.6l0.5 3.6l-4 4.2l0.1 0.6l7.9-1.5l-0.1-0.4l3.2-5.3l3.8 4.4l3.2-0.6l0.4-3.4l3.3-3.5l-5.5-5.5l0.7-1l1.3-6.1l-1.4-2.5l2.3-4.8zM615.3 245.3l-0.6-1.8l-3.1-1l-3.1 7.9l1 0.6l3.9-0.6l0-3.4zM590 259.2l1.6 6.4l4.6-1.1l2 1.7l6.9-3.6l0.3-0.9l-3.5-2.5zM598.1 299.3l-3.4-0.6l-2.2 1.7l-3.1-1.7l-0.5 0l-2.2 2.7l2 4l4.1-2l1.1 0.9l3.2 0.3l1.7 2.8l3.8-1.1l0.9-1.9l0.6-0.4l-2.2-4.4l-2.7 1.2zM623.1 250l-2.7-4.6l-2.9 1.1l-0.3 4.6l-0.9 0.5l0.4 4.7l3.8-0.7l0.4-4.5l0.3-0.1z" fill="#f9e7b7" fill-rule="evenodd"/>
<path d="M335.2 145.8l-0.1 0l-8.4-0.6l-4.3 5.7l0.2 0.7l-3.3 5.2l7.1 4l3-3.1l-3.2-5l8-4.5zM288 192.3l-1.4-4.2l-8-2.5l0.1 6.2l-2.1-0.1l-0.4 11.3l2.1 1l3.2-1l3.9 1.5l1.3 4.4l-0.3 0.8l5.6 6.1l5.8-5.5l1.9 0.1l0.6 0.3l3.8-0.4l2.4-5.9l-2-4.6l-4.7 1.5l-3.8-1.7l-2.4 1.5l-4.8-0.8l-2.8-8.1zM304.9 193l1.2 3.8l7.9 2l-0.6 5.6l0.4 0.9l8.5 0.8l0.1-0.1l6.9-1.1l1.9 2.4l5.7-2l3.1 2.6l3.8-2.9l5.2 1.7l0-1.7l-0.8-10zM286.4 228.8l-4.3 4.2l0.7 5.9l10.4 0.5l0.4-2.3l-5.7-8.2zM268.7 230.3l-7.5 2.1l-0.8 9.8l8.4 5.2l4.2-1l0.8-3.3l-4.9-4.8l-0.6 0l2.4-5.7zM314.9 240.2l-1.5 4.4l0.7 0.8l0.2 5.6l-0.6 0.5l-0.1 6.7l0.2 0.2l5.8-0.1l0.3-0.3l6.4 0.3l0.5-0.3l5.1 0.7l0.2 0.2l7.7 0.2l0.1-0.1l6.1 0.8l5-0.5l0-0.1l-1.5-3.7l-2.6-5.3l6.8 4.4l3.9-1l-5-5.9l-5.8 2.3l-1-2l-8.8-3.8l-2-0.6l0.5-5.3l-0.4-0.4l-7.2-0.1l-0.3 4l-5.6-1.3zM323.3 301.4l-1 5.8l0.3 0.5l6.3 1l0.6-0.8l-1.2-6zM295.4 330.3l-6.8 1.2l-0.3 4.3l-9-0.3l-3.7 4.7l1.8 4.6l-2.5-0.1l-0.8 6.8l-7 0.8l-3.4 2.8l-0.1 1.5l6.3 3.1l3.6-1.4l2.4 2.1l6.1-1.5l1.6 2.3l-1.7 4.7l7.5 4l-1.8 4.9l-3.5 0.4l-5.5 8.5l10.1 0.3l-0.9 8.1l6.6 0.9l0.5 0.6l9.4-1.6l-1.1-6.5l-7.1-0.7l-0.5-0.6l-5.8-1.2l-1.1-6.9l8.8 0.5l0-6.5l0.1-0.1l0.1-6.6l-1.6-1.4l1.2-5.1l4.5-1.8l0.2-9.1l-9.3-0.5l1.8 5.1l-0.9 2.8l-3.4 1.4l-2-1.2l-0.6-8.2l2.4 0l1.3-4.1l0.3-0.3l0.6-4.9l16.7 0.7l0.4-3.8l-2.1-2.1l-4.3 1.4l-2.3-1.8l-4.1 0.7zM272.9 367.2l-3-0.9l-7.1 2.8l-0.5 7.5l11.9-3.6zM271.3 389.7l-10-0.6l-0.5 6.3l9.8 2.6l1.7 4.4l3.7 0.2l3.1 3.9l8.5-2.4l0.4-0.7l-0.8-1.3l-7.3-3.3l-0.2-4.8l-6.8 0zM311.2 411.2l-5.4-2.4l-4.1 0.7l-4.7-1.4l-6.7 5.1l-3.5-0.7l-0.2 0.1l-7.7-0.9l-0.2-0.3l-8.2-2.4l-1.3 2.6l1.6 6.6l-0.6 0.7l-1.3 6.2l0.8 1.3l-1.6 6l1.5 2.3l7.2 0.5l0.1 0.1l7.7-1l0.5 0.6l8.4 0.9l0.4 0.7l6.7 0.5l1 1l7.3-0.8l1.4-1.8l-0.4-3.5l6.8-3.6l2.5 2.4l5.2 0.3l0.7-0.6l7.7 1.2l-0.1 6.6l0.6 0.9l6.2-0.2l2.9-5.4l4.8 0.7l2.5 5.7l-1.5 2.5l0.3 1.6l2.2 2.6l-0.6 6.7l-1.4 0.7l0.5 7.4l-8.2-1.1l0.2-6.1l-8.4-1l-1.9 14.6l0.9 1.4l-0.9 6.5l0.8 0.9l-0.3 5.6l3.5 5.7l4.6-6.9l7.5-6.2l3-1.9l-1.5-4.6l2.7-4.8l5.2-0.7l4.4 2.9l6.2-4.7l6.9-4.6l-1.5-1.5l-0.5-7l-7.4-0.3l0.9-8.5l-0.3-0.5l-8.1 1l-0.4-0.3l0.4-7.6l0.7-0.6l0.4-6.8l-0.9-1l-0.7-3.9l-2.3-0.7l-4.1-5.9l0.7-3.4l-0.5-1.1l1-5.3l1.3-1.8l2.4-1l2.4-4.3l-2.1-6.6l-6.5 2.5l-10-1.5l-0.9-0.3l4.8 7.8l-0.7 3.1l-7.7-0.6l0.2-5.8l-8.4-0.9l0 8.1l0.2 0.1l-0.1 6.8l7.9 1.2l1.4-1.2l5.7 0.4l0.8 6.8l-1.2 1l-0.8 7.2l-6.3-1.2l0.5-6.3l-0.5-0.6l-7.7 0.5l0.3 6.5l-0.9 0.9l-7.7-1.6l0.1-5.7l-5.4-1.3zM358.3 258.9l-6.8 1.5l1.1 2.9l6.1 1.7l0.5-0.7zM385.2 275.1l0.4-0.3l4.4 0.8l0.5-0.3l7.5 2.5l0.7 1.1l0 0.5l-1.7 0.1l0.5 8.2l-0.2 0.2l-0.1 4.4l0.9 1l-1.1 5.1l-4.7-0.5l-0.9 1.1l-0.1 5l0.1 0.1l0 6.2l0.2 0.1l-0.1 5.7l0.5 0.5l4.7 0.1l0.4 0.3l6.1-1.7l0-3.1l-3.8-2.3l-1.9 0.2l-1.6-5.7l1.2-1.2l3.4 0.8l2.8-4.6l3.8 1.4l1.8-2.1l5.4-1.1l1.5-1.6l5.3 7.4l0.8-0.8l-0.3-6.2l4.7 0.5l1.1 5l5.4-1.3l1.1 1.2l4.4-0.1l0.1 0.1l-0.3 5.6l5.4-0.6l0.4-0.6l5.6 0.8l1.9-1.8l-3.4-5.3l-2.1-0.6l-1.4-3.3l1.1-3.2l1.5-0.5l4.6 3.4l2.3-2.4l3.7 3.3l-0.3-9.4l4.1 1.4l2.8-0.9l0.8 0.7l4.5 0.3l0 3.9l0.5 0.6l-0.4 4.2l-0.5 0.6l1.3 4.4l4-0.4l0.4-0.4l4.5 1.1l1.2-1.1l3.4 0l0.1-5.4l0.1-0.1l4.5 0.9l0.8-0.9l3.2-0.7l-0.8-8.6l4.4 0.7l0.3-0.2l4.5-0.2l0.4-0.4l4.7-0.8l-0.5-4.2l0.6-0.6l4.3 0l0.9 4.1l4.9-0.3l0.3 0.3l4.8-0.2l1.1 4l5.4 0.8l-0.5-6.1l4.5-0.3l0.5-3.9l4.4-1.2l-1.1-4.5l0.5-0.9l-1.5-4.4l0.6-0.9l-0.6-4.8l0.5-0.6l-0.5-4.5l0-0.1l-0.2-4.6l-5.1 1.3l-0.5-0.5l0.1-4.1l-0.1 0l-6.2 3.8l-11.3 1.9l-2.6-2.6l-1.6 0.2l-3 3.3l0 3.7l1.1 0.9l0.5 4.3l4 0.1l0.4-0.3l5.2 0.5l0.5 3.9l-0.1 0.1l-5.3 0.4l-0.7 0.9l-4.4 0.3l-0.3 0.3l-4.2-0.2l-0.9-5l-4.3 1.1l-0.7 4.4l-4.6-0.3l-0.1-1.5l-1.6 0l-2-2l-4.2-0.1l-0.3-0.3l-4.8 0.6l-0.2-5l0.5-0.5l-0.2-3.6l0.6-0.8l4.4-0.2l3.2-2.7l0-0.1l-20.6 1.6l-3.9 0l1.8 1.8l4.8 0.7l-0.1 5.2l-0.2 0.2l0.6 3l4 1.4l1.7-1.2l3.4 0.4l0 4.2l1.7 1.6l3.3-1.8l3.8 1.7l0.2 2l1.1 1.1l0.2 4.2l-4.8 0.7l0-4.5l-3.7-1.6l-1.4 2.1l-4.5 0.1l-0.4-0.3l-2.9-0.3l-0.8-3.1l0.4-1.1l-2-4.3l-3.5 1.8l-0.2 2.6l-0.4 0.4l-3.5 0.4l-3-2.2l0.2 6.3l2.3-1l1.7 1.5l-1.4 3.8l-2.4 1l0-1.8l-4.4-4.4l-3.3-0.6l-1.6 2.1l-5.6 0.7l0.5 4.6l-5.1 1.6l-2.3-2.1l-1.4 0.3l-2.5 2.2l-4.2-0.6l-0.2-0.2l-5.2 0.3l-0.4-0.5l0-4.8l0.6-0.7l-0.9-5.4l-0.1-5.2l0.5-0.5l4.8 0.1l0.8 0.8l4.5-1l0.4 5l3.8 1.5l1.4-0.6l3.3 1.4l2.9-2.1l4.9 0.8l0.9-2.5l-2.4-3.8l1.7-2.2l3.4 1.9l4.6-4.1l-0.3-9.5l-3.6-6.3l-2.8-11.9l-5.8 1.4l-2.4 8.7l-1 0.1l0.3 4.7l1.6 1.4l-0.1 5.1l4.9 0.8l0.6 4.1l-5.2 0.8l-0.7-5.2l-4.3 0.2l-0.5-5.3l-3.5-1l-1.6 1.1l-4.7-1.1l-1 0.7l-5.5-0.4l0.4 0.6l2.5 3.8l-1.2 3.7l-3.1 3.8l-5.7 2.5l-0.6 3.6l-5.4-0.5l-0.8 0.6l-3.6-0.4l-1.5-1.2l-5.1 1.4l-0.4 0.6l-4.8-0.3l-1-1.1l-5.1 0.6l-4.3-0.6l-1.4 1.3l-4.4-0.6l-0.5-0.5l-4.5 0.1l-0.5-0.5l-5.8 1.1l-0.4-0.4l-5.2-0.2l0.5 5.9l-1.5 1.4l1.5 4.3l16-0.7l0-0.1l-0.6-4.2l0.8-0.7l4.3 0.2l0.9-0.8zM369.5 287.7l-8 1.2l0 0.1l0.5 1.5l2.9 3.7l5.9-0.2zM360.8 314.1l-6 1.1l-0.9 0.9l-5.7-1.6l0 0.1l-1.5 6.8l0.7 0.8l-1.2 6.2l-1.5 1.3l-1-0.1l-4.2 4l-4.5-2.2l-2.7 2.8l1.4 3.5l20.3 0.8l0.2-5.4l-0.4-4.7l0.6-1l-1-5.1l1-1.5l6.1 0.5l0.8 1l5.9 0.3l-0.3 5.9l-0.3 0.4l0.3 6l-0.2 0.2l-0.5 3.8l-3-0.1l-0.3 7l0.2 0.2l9.9 0.3l-1-7.1l-0.7-24.1l-3.7 0.6l-0.3 0.4l-5.6-0.9zM422.3 180l-2.9 3.5l-3.7-1l-1.1 0.9l-5.5 0.6l-1.4 6.3l7.3 0.5l6.3-0.8l0.2 0.1l4.6-0.2l1.3 1.2l5.5-1l1 6.2l1 0.7l4.9-0.7l0.7 0.7l6.1 0.3l0.3 6.3l6 0.5l1.9 1.5l1.4-6.1l4.2-7.2l5-3.4l8.4-2.3l6.7-0.9l8.4 0.4l5.8-1.7l-7.5-2.5l-6.7-4.2l-5-3.4l-16.8 5l-8.3 0l-6.7-3.3l-2.5-4.2l3.3-5.8l-5.9 1.6l-4.7 3.3l2.1 4.6l5.3 0l-2.2 6.5l-0.8 0.6l-4.4-0.1l-0.5 0.7l-6.4 1zM414.9 231l1.1 6.1l5.6 0.1l0.9-1.3l-1.2-5.4zM414.5 304l-6.8-0.5l-0.8 2.3l0.7 3.6l0.2 0.1l1.8 6.2l5.1 0.2l0.2-5.2l-1-1zM391.2 322l-5.8-1l-0.7 0.7l0.8 6.3l-0.2 0.2l0.4 4.9l-0.7 0.7l0.4 7.3l0.4 0.3l0 5.9l-4 0.1l-0.1 0.2l2.1 2.3l6.4 1l-0.6 5.5l-5.2-0.6l-1.2 1.2l1.2 5.2l-0.9 1.2l0.3 4.4l-0.2 0.3l0.5 6.6l0.1 0.2l4.7 0.9l0.8 4.2l1.3 1.2l0.2 4.1l5.2 1.4l1.7-1.3l4.5 1.7l0.1-0.1l6 0l0-5.8l-0.4-0.4l0.3-5.6l1.1-1.2l-1-5.2l0.7-0.9l0-5.3l-6.1-0.8l0-4.1l5.4-1.6l-1.1-9l-0.4 0l-6.4 7.7l-3-0.2l-3.1-7.1l0-0.2l-0.6-0.1l-4-7l1.2-1.2l-0.1-4.6l0.8-0.8l-0.1-5.6l-0.9-0.8l0.5-4.9zM396.5 361.3l6.6 0.6l-1.2 5.4l-5 0.4l-1.4-4.9zM397.1 372.5l4.8 2.5l-1.3 3.8l-2.5 1l-0.7-0.3l-2.3-4.6l-4.9-0.7l0.5-4.6l5.6-1.2zM397.5 340.1l-2.2 7.2l8.9-0.1l-1.9-6.9l-4.2-0.6zM387.9 415l-1.4 1.7l3.9 6l1.1-0.2l3.5-3.7l-0.1-1.9l-1-1.3zM474.2 219.1l-9.3-1.3l-0.3 5.1l6.4 1.6l1.3 4.5l0.8 0.2l5.2-2.3l-0.1-0.7l-3.9-4.5zM428.7 230.1l4.8 0.2l1.5-6.2l-6.8-1.2l-1.1 1.5l1.5 5.5zM473.2 355.3l-1.8-3l-2 0.7l-1.6 3.6l0.7 1.9l0.8 0.5l2.9-1zM487.8 196.6l-5.6 0.4l-2.5 2.5l0.5 1.7l-0.4 2.7l-1.6 1.2l-0.5 5.7l-0.7 0.6l1.7 6.3l0.3 0l4.1-1.8l-0.3-4.3l0.5-0.6l-1.7-5.7l5.3 0.3l1.1-1.2l3.2 0.1l2.3-2.5l-1-2.2l-4.3-2zM490.4 228.5l-4.9 0.2l-0.5 5l1 1.1l-0.8 5l0.1 0.1l0.9 6.3l4.9-0.4l1.5 1.3l5.4-1.7l-1.4-6l0.5-0.8l-0.9-4.3l-4.5-1l-0.5-4.2zM497.3 306.4l-3.1 2.1l0.6 2.1l-1.9 3.6l-0.2 0.1l-1.6 2.4l2 3.6l0.9 0.2l3.2-3.3l3.4 3l2.9-3.7l-0.9-2.6l-3-0.7l-0.4-0.9l1.2-4zM489.6 317l-2.1-1.6l-2.6 1.6l-1.8-1.1l-3 2.5l0 0.1l2.9 2.8l0 0.3l-2.3 3.1l0 0.3l4.5 1.8l1.4-2.5l0.7-0.4l2.5 0.4l1-3.1l-2.5-1.6zM500.8 340.9l-4.5 2l0.8 3.4l-1.2 1.5l0.6 3.6l1.7 1.4l1.9-0.4l1.7-2.7l2.4 0.2l1.8-1.8l-0.5-2.9l2.5-2.1l1.2 0.8l5.6-2.3l0.8 4.7l-1 0.9l-0.8 4.1l-4.4-0.7l-2.3 3.3l2.7 3.1l5.2-3.6l5.8-5.7l-0.5-0.6l0.6-4.3l-1.7-2.4l1.8-3.2l-4.6-3.1l-2.3 5.2l-3.4-1.2l-3.3 2.3l-1.8-1l-3.9 1.9zM502.6 374.7l-2.3-3.8l-1.1-0.1l-2.3 1.7l-0.2 2.9l-2.3 1.7l4 11.3l0.4 1.6l2.5-0.7l1.8 3l3.5-1.8l2.5 1l1.5-2.2l3.6-0.4l1-1.2l1.2-0.2l1.2-4.7l-4-1l-0.9 0.4l-0.9 2l-2.7 1.1l-1.7-0.5l-1.6 1.6l-3.8 0.3l-1-1.3l0.6-3l-1.6-2.2l1.2-3.3l1-0.6zM475.9 423.9l-0.6-0.4l-6.3 5.6l0.2 1.8l-0.2 0.1l-0.1 0.5l3.2 2.4l-0.5 4l0.8 0.9l4.2-1.8l-0.2-4.7l0.6-0.9l5.3 2.7l2-0.5l0.1-3.9l-5.5 0.5zM544.8 334.2l-3-1.1l-2.6 1.6l-0.4 0l-3.3 2.6l1.3 3.8l1.5 0.3l3.6-2.3l2.4 0.4l1.7-1.1zM538 355.5l0 0.1l0.6 2.2l-3.4 4.1l4 2.8l0.1 3.5l-5.5 1.3l-0.2 0.3l-4.3 1.2l4.4 4.4l-1.6 3.2l1.2 2.3l0.5 0.2l4.6-1.5l0.5 0.5l0.2 5.5l0.7 0.5l2.7 0l2.2-1.4l-1.9-1.5l3-3.8l-0.2-1.8l0.5-0.9l6.7 0.1l1.5 2.8l1.3 0.6l3.7-4l3.4 1.7l0.2 1.6l2.5 1.4l2.4-0.3l1.8-2.2l-1.1-2.2l-3.6-1.4l-1.1-4l0.9-1.7l-2.8-5.2l-4.2-0.1l-2.9-4.7l-4.7 3.9l0.7 2.8l-3.6 2.2l-1.3-0.8l-0.5-2.4l-4.3-1.3l1.2-4.2l0.4-0.2l4 2.9l0.5-0.2l1.7-3.7l5.9 0.8l0.2-0.6l-1.6 0l-3.3-3.2zM521.8 377l-3.9-2l-1.4 2.7l2.7 4l1.5 0l1.6-2.3zM516.4 397.5l-1 2.1l2.6 2.8l1.6-0.2l0.2-0.2l-1.2-5.1zM511 420.5l-3.5-3.2l-1.9 1.1l-1.6 0.1l0.6 4.8l2.3-0.6l0.9 0.4l2.1-0.9zM523.8 425.3l-0.9-1.3l-4.4 2l-0.1 0.3l-5.2 0.4l-0.1 0.1l0.6 2.1l2.8 1.5l2.2-1.5l1.9 2.8l2.9-0.1l0.1-0.6l-1.5-2.9zM529.4 440.5l1.7 2.5l-1.9 4.1l2.2 1.6l3.6 1.6l0.8-7.3l0.3-0.3l-0.1-5.6l-4.6-0.9zM584.8 193.4l-3 6.7l1.8 2.7l4.5 0l1.6 1l5.1-5.1l2.4-0.4l1.7 2.4l-1.7 6.4l0.8 1.1l6.8-0.6l0.8-1.1l-2.5-5.2l4.5-4.3l-0.2-1.3l-5.4-2.3l-0.5-5.8l2.1-1.3l0.7-4.8l-8.1 2.3l-6.4 2.1zM596.1 219.2l-0.9-5.2l-5.6-0.6l-1.3 6.2zM565 216.8l0-0.1l-7 0.6l0.1 2.3l-2.5 1.8l0 4.9l4.1 1.3l3.9-2.4l-1.6-3.9zM567.3 232.3l4.2 3.5l4-4.3l-0.6-3.7l-1.4-0.6l-6.1 4.4zM579.2 234.4l0.1 0.3l-13.1 2.5l-0.7 5.2l0.5 0.5l0.6 5.9l0.4 0.3l4.8-1.3l1.1-2.3l-1.3-3.2l1.8-3.5l3.8 1.1l3.5-2.5l4.3 2.1l1.5-0.8l5.3 2.3l2.5-1.7l3.3 0.3l2.2 2.6l4.9-1l3.6 3.3l-5.6 6.1l4.6 3.1l-2 7.9l3.6 0l1.5-2.4l2.8 0.9l1.5 3.2l5-1.9l0.4-2l0.4-3.9l-3.8 0.7l-0.3-4.6l0.9-0.5l0.3-4.6l-2.4-1.2l-1.9 1.7l0 3.3l-3.8 0.6l-0.9-0.6l3-7.7l3.1 1l1.5-2.5l-0.5-2l-2.4-0.9l-0.1 0.2l-5.5-2.8l-1.9 1.2l-5.4-3.4l-0.4-1.2l-4.5-0.4l-9.2 1.6l-3.8-4.4zM578.7 259.9l-2.4 0.8l-5.9-5.1l-0.9 0l-2.2 5.9l3.7 3.6l-2.9 4.5l2.4 4.5l-11.5 1.6l0 0.1l2.1 3.4l2.6 0.1l1.4-1.6l3.8 0l0.5-0.9l5.1-1l0.7-1.2l4.9 1.4l1.1-3.1l5.2-0.3l0.1 0.3l4.1 3l-0.4 2.6l-4.2 0.8l-1.3 2.6l5.8 3.2l0.8-5.1l4.3-0.3l0.6 2.4l2.5 2.1l0.9 0.1l1.1-0.8l0.3-5.3l-0.5-0.5l0.5-5l4.1 3.3l-2.9 2.1l0 0.1l3.4 2.9l3.3-1.5l-0.2-0.2l-2.3-7.5l-1.2-1.7l2-0.9l-2.1-6.3l0.1-0.5l-7 3.6l-1.9-1.7l-4.7 1.1l-1.6-6.3l-0.9-0.6l-0.3-0.8l-8.2-2l-0.2 0.1zM590.2 288.4l-2.6 0.1l-0.3 0.2l-3.6 0.2l-1.4 1.6l1 2.3l3 0.7l0 3.3l2.5 2l0.5 0l3.2 1.7l2.2-1.7l3.4 0.6l1.1 1.5l2.7-1.2l-1.8-3.6l-4.7-5l-0.7-1.3l-3 0.2zM563 303l-1.1-2.8l-4.4-0.6l-2.7 9.8l-6.2 6.2l1.1 3l1.8 0.4l2.1 3.2l-0.1 0.5l-0.3 0.4l-0.1 3.2l2.5 2.1l1.8-0.3l1.1-3.2l0-0.1l0.8-5.2l-1.4-0.9l-0.2-0.5l0.6-4l2.5-0.9l-0.7-4.7l1.2-0.8l0.2-3.3zM592.9 303.3l-4.2 2l-0.3 0.5l1.7 4.2l0.8 0.5l0.5 1.5l-1.4 2.9l2.1 2.7l2.2-0.8l2.5 2.5l3.2-2.3l2 3.9l5.5-0.8l2.5 0.4l-1.3-6.4l-0.7-3.3l0.3-3.9l-2.9 0.2l2.5 5.5l-2.1 0l-1.8-2.1l0.3-1.2l-1.7-3.1l-3.8 1.1l-1.7-2.8l-3.2-0.3zM581.3 330.3l-3.6 0l0.7 4.4l2.4 1.2l-0.8 3.8l2.6 1.2l3-2.9l-0.2-0.8l2.1-2.8l-1.2-2.8l-3.1 1.4zM592.1 350.8l-2.3 0.3l-1.5 1.9l-2.9 0.2l-1.3 2.9l2 2.4l-1 2.2l-2 0.8l-1.6 3.9l4.5 3l4-5.4l13.1-9.8l-4.5-2l-3.4 2.9zM554.7 420.1l-3.4 0.3l-3 0.9l-0.8 2.8l-1.7 1.4l3.6 3.5l-0.4 0.8l-6.1 0.6l-0.3 3.4l3.7 3.5l1.4 0.2l1.3 3.4l6.4-0.5l0.3-4.7l-0.1-0.1l-1.6-4.6l1.8-2.2l-1.7-5.3zM544.4 452.1l-2.8 5.6l2.2 1.8l4.1-1.5l-0.6-5.1zM552.1 479.1l3.6 2.8l7.2-4.3l-3-4.3l-7.2 3.2zM661.2 127.5l-3.7 1.2l-5-1.7l-8.7 1.8l-5 21.2l-1.3 12l-2.2 2.9l9.7 1.6l2.1 4.5l6.3-0.3l3.2 3.3l5.8-0.2l0.3 0.5l2.3-3l3.8 3.7l2.4-5l5-3.8l2.6-5.7l-5-5.5l-3.8-6.2l-3.8-16.3zM626.1 181.9l0.6-2.4l-2.7-3.4l-4.1 2.9l1.1 3.2zM641 224.9l-0.5 5.8l4.4-4.4l-0.8-1.5zM604.2 345.5l-1.4 0.8l1.3 6.2l4.5-3.4z" fill="#eaa665" fill-rule="evenodd"/>
<path d="M285.9 192.1l2.8 8.3l4.9 0.8l2.4-1.5l3.8 1.7l4.6-1.5l2 4.5l-2.4 5.9l2.9 1.6l6-1.1l0.9-5.6l-0.3-0.8l0.6-5.7l-8-2l-1.2-3.7zM354.4 320.7l-1.1 1.5l1 5.2l-0.6 0.9l0.4 4.8l-0.1 5.4l1.1 0.1l-0.2 7l0.1 0.1l8 0.2l0.3-7l3 0.1l0.5-3.8l0.2-0.2l-0.3-6.1l0.3-0.3l0.2-6l-5.9-0.4l-0.8-1zM278.5 327.2l-0.3 8.2l-13.2-0.7l-0.5 9.5l13 0.7l0.1-0.1l-1.9-4.6l3.6-4.6l9.1 0.3l0.3-4.3l-0.3-0.5l-6.9-1.2zM309.2 333l-0.4 3.7l-16.7-0.7l-0.6 5l-0.3 0.3l-1.3 4.1l-2.4-0.1l0.6 8.4l2.1 1.2l3.4-1.4l1-2.9l-1.8-5l7.7 0.4l0.8-1l2.3-0.4l3.7 5.7l4.8 0.5l0.3-0.2l1-6.5l-1-1.1l1.1-6.1l1.3 0.1l0.3-4.6l-0.7-0.5zM326.8 344.9l0.3-0.3l7.2-0.3l0.1 0.2l0 6.7l5.9 1.4l2.3-7.5l-0.5-0.5l-0.4-6.6l-21.3-0.9l0.1 6.6zM297.2 356.8l-1.2 5.2l1.6 1.4l-0.1 6.6l-0.1 0.1l0 6.5l-8.8-0.6l1.1 7.1l5.9 1.1l0.5 0.7l7 0.7l1.1 6.3l-9.3 1.6l0.4 4.5l-3.6 5l-3.8 0.3l-0.4 0.7l-8.3 2.4l-3.1-3.9l-3.8-0.2l-1.6-4.3l-9.8-2.6l-1.5 19.4l-7.3 0l1.2 2.1l-0.5 8l7.9 0.3l0.1 0.1l8.2-0.1l1.3-6.3l0.6-0.7l-1.6-6.6l1.3-2.5l8 2.4l0.2 0.3l7.8 0.9l0.2-0.1l3.5 0.7l6.7-5.1l4.6 1.3l0.1 0.1l4.2-0.7l5.5-6.6l-0.2-1.7l2.2-5.1l3-0.4l4.2 5.8l-2.3 3.4l2 4.9l-1.4 1.4l-4.9-1.6l-2.9 2.2l1.2 4.1l5.4 1.3l-0.1 5.6l7.8 1.7l1-1l-0.3-6.4l7.6-0.5l0.4 0.5l-0.5 6.4l6.5 1.1l0.8-7.1l1.2-1l-0.8-6.9l-5.8-0.5l-1.4 1.2l-7.8-1.2l0.1-6.7l-0.2-0.2l0-7.9l8.2 0.9l-0.2 5.8l7.8 0.6l0.8-3.2l-4.7-7.6l0.7 0.1l10 1.6l8-3.2l-2.6-2.3l-6.9 0.9l-0.7-0.7l-6.6 0.1l-0.3-8l-6.8 0.5l-0.5-0.5l-7 0l-0.5-0.5l-6.1-0.1l-1.4 1.1l-6.2-1.2l-3.9 3.8l-1.9-0.7l-4-5l0.4-21zM357.3 395.8l-2.4 4.4l4 3.2l1.3 6.4l-2 1.5l-7.4-2l-0.8 3.5l4.1 6l2.3 0.6l0.7 3.9l0.9 1l-0.4 6.8l-0.7 0.6l-0.4 7.7l0.4 0.3l8.2-1.1l0.9-4.3l7.1-1.3l0.5-0.7l7.9 0.3l-0.5-7.1l-7.3-1l0.2-5.8l10-2.2l-1.8-13l0-2.1l7.4-2.3l0.3 0.3l6.2-1l0.1-0.1l0-1.8l3.6-4l-3.2-2.2l-4.4 2l-0.8-0.1l-1.6-1.6l-0.7-2.2l-5-1.3l-3.6 7.5l-1.2 0.8l-3-0.6l0-0.2l-2.3 2.1l-8.1-2.1l-0.9 1zM350.2 453.3l0.6-6.8l-2.3-2.5l-5.7 7.6l0.1 0.7l-1.8 1.9l-0.2 6.2l8.4 1.1l-0.5-7.5zM348.4 468.3l1.6 4.7l7-4.5l3.8-2.8l-4.3-3l-5.4 0.7zM385.1 275l-4.5-0.2l-0.9 0.8l-4.4-0.2l-0.8 0.7l0.6 4.3l-15.9 0.7l2.3 7.9l8-1.2l1.3 6.1l-5.9 0.2l0 0.1l2.1 2.6l3.8 6.2l0 1.5l0.2 0l3-1.9l3.5 1.6l-0.5 3.3l1.3 2.1l-1.4 2.2l0.4 4l-6.1 1.7l0.3 8.9l7.3 1l0.6 0.8l-1.3 5.1l1 1.2l0 4.9l0.8 0.9l-1.5 4.8l1.1 2.3l-6.4 0.1l0.3 3.1l-4.8 2.7l-0.1 6.8l1.2 0.7l4.4-1.3l0.2 2.3l2.9-0.4l0.6 0.8l-0.5 7l6.4-1.1l0.2-0.2l-0.3-4.5l0.9-1.2l-1.2-5.2l1.1-1.1l5.3 0.5l0.6-5.6l-6.5-1l-2-2.3l4.1-0.1l0-6l-0.4-0.3l-0.4-7.3l0.7-0.7l-0.4-4.9l0.2-0.2l-0.8-6.3l0.6-0.6l5.8 0.9l0.9-5.5l-0.5-0.5l0.1-5.6l-0.2-0.1l0-6.2l-0.1-0.2l-5.5 0.5l-0.2 0.1l-2.2 0.2l-3.7-2.3l0.2-3.8l-0.3-0.3l0.5-5.1l5.7-0.4l0.4 0.5l5 0.5l0.9 4.2l4.9 0.5l1.1-5.2l-0.9-1l0.1-4.4l0.2-0.2l-0.5-8.2l1.7 0l0-0.7l-0.8-1.1l-7.5-2.5l-0.5 0.3l-4.4-0.8zM390 340.2l4 7.1l1.3 0l2.3-7.2l-6.4-1.2zM403.2 357.6l0 4.3l6.1 0.8l0 5.2l5.6 0.1l1.1-5.8l-0.6-0.5l0.1-5.2l-0.8-0.8l-0.4-8.7l-6.8 0.1l1.1 8.9zM381.8 380l2.6 2l5.3-2l-0.7-4.3l-4.8-0.9zM401.4 392.5l1.4 6.2l5.7-0.3l0.2-6l-7.1-0.2zM387.8 409.9l0.2 0.3l0 4.9l5.8 0.6l1.1 1.3l5.1-2.6l4.6 2.9l1.7-8.2l4.7 2.1l4-2.7l-1.2-5.5l-28.8 0.4l0.1 1.2l3 2.6zM408.2 439.3l-4.5 1.6l-0.9 1.7l1.6 3l-0.4 3.1l-2 2l2.2 5.4l9.8 2.4l7.5 3.7l7.5 1.3l7.5-1.3l5-3.6l8.7 3.6l-5-7.4l-6.1-1.3l4.5-4.5l-2.1-15l-9.8-0.2l-1 4.5l-4.5 0.9l0.1 5.8l1.3 1.9l-5.7 4.7l-2.3-2.9l-4.5 0.4l-2.2-2l-0.3-2.5l-0.5-0.7l-0.1-0.9zM433.9 170.9l-3.6 2.6l-6.7 5l-1.3 1.5l4.7 4.3l6.4-1l0.6-0.7l4.3 0.1l0.9-0.6l2.3-6.6l-5.4-0.1zM461.4 256.8l-3.6 0l-1.4-2.5l0.2 9.5l-4.5 3.9l-3.5-1.8l-1.7 2.3l2.4 3.9l-0.9 2.4l1.2 2.4l3.3 0.6l4.3 4.4l0.1 1.8l2.5-1l1.4-3.9l-1.8-1.6l-2.2 1l-0.2-6l2.9 2.1l3.5-0.4l0.5-0.5l0.2-2.5l3.3-1.7l2 4.2l-0.4 1l0.8 3.2l3 0.3l0.3 0.3l4.6-0.2l1.4-2l3.6 1.6l0 4.5l5-0.7l-0.2-4.4l-1.1-1.1l-0.3-2l-3.8-1.7l-3.3 1.8l-1.6-1.5l-0.1-4.3l-3.4-0.4l-1.7 1.2l-4-1.4l-0.5-2.9l0.2-0.2l0.1-5.2l-4.8-0.8zM447.1 292.2l-1.6 0.5l-1.1 3.4l1.4 3.2l2.1 0.6l3.4 5.3l-1.8 1.7l-5.6-0.8l-0.4 0.6l-5.3 0.6l0.3-5.5l-0.2-0.2l-4.4 0.1l-1.1-1.2l-5.3 1.3l-1.1-5l-4.9-0.5l0.3 6.3l-0.7 0.7l-5.3-7.4l-1.5 1.6l-5.5 1.1l-1.8 2.2l0.7 2.7l6.7 0.6l-0.6 5.6l1 1l-0.2 5.2l0.4 0.5l5.8-0.2l1.1 5.4l4 0l1.2-5.2l0.5 1.4l1.7 2.3l4.1-3l2.8 1.1l1.7-0.6l1.2 0.6l1 5.2l-1.6 1.3l-3.6-1.3l-2.6 0.6l5.3 6.1l1.3-1.7l5.7 1.2l1.4 1.7l3-2.1l3.8-5l5-1.2l2.2-2.9l2.2 0.8l2-1.5l1.6 0.8l1.7 2.9l-0.8 2.2l3.4 2l0.9 2.3l-0.5 1.8l-2.2 0.9l-0.3 4.4l-2.3 1l0.5 2.6l-1 0.1l-1.3 0l2.6 4l0 0.3l1.8 2.9l-2.6 3.5l3.7 2l1.9-0.7l1.8 2.9l-1 2.6l-2.8 1l-0.7-0.5l-0.8-1.8l-2.3-1.3l-3.2 1.2l-0.3-0.1l-2.5 0.3l-1 4.4l0.2 0.1l0.3 3.7l4.4 0.6l0.7 1.7l26.1-1.7l-0.1-0.8l4.4 12.5l2.3-1.8l0.2-2.9l2.2-1.6l1 0.1l2.3 3.7l3.7-2.2l2.5 0.7l0.4 0.5l2.8 1l3.5-2.3l2 0.5l0.4 2.2l3.9 2l0.5 2.3l-1.5 2.2l1.6 2.5l-1.6 3.7l3.3 2.2l1.8-0.9l0.1-4.1l1.8-1.1l2 0.5l1.6 2.7l3.2 0.1l0.9 3.4l2.9 0.7l-0.3 4.6l0.2 0.1l4.4 0l0.3 4.8l1 1.3l-3.2 3.8l0.3 1.9l-0.9 1.1l0 3.2l2.8 2.4l-0.9 2.9l1.3 2.1l2.4-0.2l2.6 2.1l3-0.9l3.4-0.4l1.8-9.1l2.2-5.2l-1.7-2.9l1.1-1.8l-2.2-1l-4.1-6.7l-6.7-8.3l-0.5-0.4l-2.1 1.3l-2.7 0l-0.6-0.5l-0.2-5.5l-0.6-0.5l-4.6 1.5l-0.4-0.1l-1.2-2.3l1.6-3.2l-8.7-8.7l-3.4-6.6l-15.7 1.5l0.7-2.4l3.2-2.2l-2.7-3.1l-0.5-0.1l-2.5-3.9l-2.4-0.3l-1.8 2.8l-1.8 0.3l-1.6-1.3l-0.6-3.6l1.2-1.5l-0.8-3.4l4.4-1.9l0.9 0.4l3.9-1.9l1.9 1l3.2-2.3l3.4 1.2l2.3-5.2l4.5 3l-1.8 3.2l1.7 2.5l-0.6 4.2l0.6 0.6l2.6-2.7l6.7-5.8l5-7.5l-51.8 6.3l-0.3-0.9l-0.9-0.9l-3.5-0.5l-0.4-3.2l2.9-1.9l1.1 0.5l0.5-0.2l2.7-3.5l-0.2-0.7l-4.4-1.8l0-0.2l2.3-3.1l0-0.3l-2.9-2.9l3-2.4l1.7 1.1l2.6-1.6l2 1.5l-1.3 2.6l2.5 1.7l2.5-1l-2-3.6l1.6-2.4l0.2 0l1.9-3.7l-0.6-2l3.1-2.1l2.9 1.8l2.4-0.8l0.8-2.2l-1.2-2.4l2.6-2.6l-4.2-2.1l0.4-0.5l0.7-5.5l0.7-0.6l3.7-0.1l0.6-0.8l0.3-4l4.1-1l0.4-0.5l-0.9-4.2l-4.5 0l-0.6 0.7l0.5 4.1l-4.7 0.8l-0.3 0.4l-4.5 0.2l-0.3 0.2l-4.5-0.7l0.8 8.6l-3.2 0.7l-0.7 0.9l-4.5-0.9l-0.2 0.2l-0.1 5.3l-3.3 0l-1.2 1.1l-4.5-1.1l-0.4 0.4l-3.9 0.4l-1.2-4.3l0.4-0.6l0.4-4.2l-0.5-0.6l0-3.9l-4.6-0.4l0.3 4.8l-1 1l0.4 3.6l-0.3 0.3l-6.7 0.5l-0.1-2l-3.6-3.3l-2.4 2.4zM467.2 420.7l-0.7-0.7l-9.9 0.6l1 11.8l10.9 1l-1.1 5.4l2.1 3.4l7-2.4l12.5-1.7l10 4.1l5 5l3-0.9l-0.1-6.1l0.1-0.2l-2.2-4.8l1.8-3l-1.4-3.7l-5-0.1l-0.6 0.1l2.5 6.1l-4.3 1.9l-1.5-1.1l-4.4 0.6l-2-2.1l1.5-4.7l-0.1 0l-7 0.5l-0.1 3.9l-1.9 0.4l-5.4-2.7l-0.6 1l0.2 4.7l-4.1 1.7l-0.7-0.8l0.5-4.1l-3.2-2.3l0-0.5l0.3 0l-0.2-1.9l-2.6-3.3zM483.1 215.9l-4.1 1.7l-0.3 0l-4.3 1.2l-0.3 0.3l0.1 2.7l3.9 4.4l0.1 0.7l0.8 0.8l6.1 0.6l0.4 0.5l4.9-0.2l0.7 0.5l0.5 4.3l4.5 0.9l1.2-1.4l5.5-0.6l5.1-0.1l0.1-0.1l4 0.5l0.8-2.6l-2.6-10l-6.2-5.5l-3.8 5.4l-1.6-2.2l-0.1 0l-0.4 0.6l-4.5-5.2l-4.4 1.6l-0.7 1.6l-3.6 0.7zM464.6 222.8l0 1l1.8 7l6-1.8l-1.4-4.6zM478.8 381.8l-6 0.2l-0.9 1.4l-6.3-1l-0.8 0.7l0.1 5.6l-0.8 0.5l-0.2 6.2l2.3 1.3l0.1 4.4l0.2 0.1l6.3-0.5l0.3 0.4l6.4-0.6l0.3 0.5l0.3 5l-0.6 0.7l1.2 6.5l5.2 0.3l1.4 4.9l5-0.2l1.9 2.6l5.6-1.4l0.5-1.5l-1.3-3.2l1.6-3.3l-2-3.7l-4.4-0.5l-0.9-1l0.2-6.1l-0.2-0.2l-6-0.2l-1.4-5.3l-0.4-0.2l-1.1-5.6l1.8-1.9l-0.6-4.6l-0.9-0.7l-5.6 0.6zM478.8 430.2l1.8-0.1l2.9-5.2l4.4 1.9l1.9-1.6l-2.6-6.7l-3.6 2.2l-4.5-2.9l-4.4 3.1l0.6 2.7l0.5 0.4zM495.2 195l-2.8 4.8l1 2.1l-2.2 2.5l-3.2-0.1l-1.1 1.2l-5.4-0.3l1.8 5.9l3.6-1.2l0.9 0.5l5.2-1.5l0.9 0.5l3.1-0.9l1.2 0.2l1.6-6.7l-4.2-6.7zM493.3 254.5l0 0.1l1.6 6.9l-0.3 0.4l-0.3 3.9l-4.3 0.9l0.4 4.8l4.8 0.3l0.7-4.4l4.2-1.1l0.9 5l4.2 0.2l0.4-0.3l4.3-0.3l0.7-0.9l5.3-0.4l0.2-0.1l-0.5-4.1l-5.3-0.5l-0.4 0.3l-3.9-0.1l-0.5-4.2l-1.1-0.9l0-3.7l2.9-3.2l0-0.1zM513.3 394.8l-2 2.2l0.8 3.8l-0.5 1l0.7 1.4l-0.2 3l2.3 1.7l2.3-1l2.4 1.3l2-1.5l3.3 0.2l0.4-5.3l2.9-0.3l2.3-3.8l-0.3-0.8l-1.8-1.5l-3.5 0.3l-1.1 1.7l-4.7-0.4l-0.1 0.1l1.2 5.1l-0.1 0.1l-1.6 0.2l-2.5-2.8l1-2zM503.5 409.3l0.5 9.2l1.6 0l1.9-1.1l3.4 3.1l2.5-0.5l0.4-1.4l3.6-2.3l1.4 0.2l0.9 1l4.4 0.4l0.6 2.2l3.9 1.6l1.5-3.5l-2.6-2.2l1.2-2.8l-3.9-2.3l-1.5 1.4l-2.6 0l-1.7-1.9l-4.2 1.7l-0.9-0.3l-1.8 0.6l-1.4-0.9l-3.6 0.4l-1.6-2.9zM520.7 431.6l1.6 6.4l-3.8 0.5l-2.7 4.5l2.3-0.9l6.6 1.6l4.6 3.5l1.9-4.2l-1.7-2.5l2-4.2l4.5 0.9l1.2-0.9l-0.2-5.4zM550.9 222.1l0.4 14.2l-9.9 6.3l-6.2 3.4l-3 1.8l0.8 0.7l1.5 4.5l0.2 4.6l-0.1 0.1l0.6 4.5l-0.5 0.6l0.6 4.8l5.2-0.6l0.5-3.6l1.8 14.6l27.8-3.8l-2.4-4.6l2.9-4.5l-3.7-3.6l2.2-5.8l0.7 0l6 5.1l2.5-0.8l1.7-4l0.1-0.1l8.1 1.9l0.4 0.9l0.9 0.6l11.8 0l3.5 2.4l-0.3 1.3l2 6.3l-1.9 0.8l-0.1 0.1l3.2 4.1l0.4-0.3l0.3 0.8l4.5 3.2l4.2-8.6l2.1-8.1l-0.1 0l-4.9 1.9l-1.5-3.1l-2.8-1l-1.6 2.4l-3.4 0l2-7.8l-4.6-3.1l5.6-6.1l-3.6-3.3l-5 0.9l-0.6 2.4l-4 2.2l1.3 6l-0.3 0.3l-5.5-0.3l-0.7 0.5l-5.6-2.5l-0.2-1.1l3.6-3.5l-3.5-3.9l0.8-2.8l-4.4-2.1l-3.5 2.5l-3.8-1.1l-1.9 3.6l1.3 3.2l-1.1 2.2l-4.7 1.3l-0.4-0.3l-0.5-5.8l-0.5-0.5l0.7-5.2l5.3-0.9l-0.1-0.6l-4.2-3.5l0.1-0.6l-3.2-6.3l-0.7-0.2l-3.8 2.4l-4-1.2l0-4.9l2.5-1.8l-0.1-2.3l-3.3 0.3zM550.6 300.9l1.2-3.7l-3-2.9l-1-0.1l-0.4 0.3l-1.2 4.1l-2.1 0.7l-3.7-2.9l-2.1 2.3l-2 0.3l-1.6 3.9l0.8 1.3l1.7 0.5l2 4.1l0.1 0l3.9-1.5l1.7 2.8l4.2 0.2l1-0.8l0.2-1.9l-2.8-2.9l1.9-3.5zM548.6 315.5l-2.2 2.3l-8.1 0.3l0.1 0.8l-1.3 2.7l-4.4 1l0 0.2l0.1 0.8l-1.7 3.5l1.5 2l3.1 0l2.2 2.2l17.7-2.9l-2.4-2.1l0.1-3.1l0.3-0.4l0.1-0.6l-2.1-3.3l-1.9-0.4zM556.2 339.4l-5.6-0.9l-0.7 0.6l0.5 4.5l5.6 1.2l0.6-0.8zM556.3 347.7l-4.1 1.5l0 5l-1.1 1.9l2.3 2.3l5.4-0.2l-0.6-2.4l2.9-3l3.2 0.7l2.2-3.1l3.6 0.5l1.4-1.8l3.4-0.1l2.2 4l2.2 0.2l1.5 3.1l3.3-0.1l1.3-2.9l3-0.2l1.4-1.9l2.2-0.3l3.2 3.3l3.5-2.9l4.4 1.9l1-0.8l-1.2-6l1.3-0.8l4.4 3.5l1.4-1.1l2.5-5l6.3-5l-1.3-7.5l-7.5-10l-2.5-0.5l-5.5 0.8l-2-3.9l-3.2 2.3l-2.5-2.5l-2.1 0.8l-2.1-2.6l-2.8 0.8l-2.7-4l-1.1 0.2l-2.5 4.3l-3.4-0.6l-0.1-0.1l-5-0.3l-0.5-0.4l-2.7 0.1l-1.1-0.9l-4.8 0.8l-0.6-0.9l-2.1-0.7l-2.5 1l-0.6 4l0.2 0.5l1.4 0.9l-0.8 5.3l-1.1 3.2l20.6-3.3l-0.4 5.5l0.2 0.1l3.6 0l1.9 2.7l3-1.4l1.2 2.7l-2.1 2.8l0.2 0.7l-2.9 2.9l-2.5-1.2l-2.7 1.1l-0.4 3.1l-5.7-0.6l-1.4 0.9l-0.9-0.2l-5.3 2l0 0.4l-3.2 2.9l-3.5-0.8zM599.1 328l4.9-0.2l0.9 1.8l2 0.9l4.8-2l0.6 4.9l-3.7 1.6l-0.6 1.3l-6.2-1.4l-1.2 0.5l-1.8-0.5l-0.2-0.1l-3.2-0.8l-2.2-5l4.3-2.3zM554.9 359.1l-0.1-0.3l-5.9-0.8l-1.8 3.7l-0.4 0.2l-4-2.9l-0.5 0.2l-1.2 4.4l4.3 1.2l0.5 2.4l1.4 0.9l3.7-2.3l-0.7-2.7zM568.9 277.6l-3.8 0l-1.5 1.6l-2.5-0.1l-1.1 2l2.3 3.1l-0.3 1.4l-1.6 1.4l2.4 4.1l2.6-3.5l1.5 1.5l3.9-1l-1.5-5.3l-0.3-0.3l1.5-2l-1-0.9zM583.1 366.4l-6.5-4.4l-1.7 2.5l-4.2 1.1l-1.6 3.2l2 2.3l3 1.1l1 1.6l2.4 0.7l3.4-2.2l0.1-3.6zM597.3 198.2l-2.6 0.4l-5.1 5.2l0.9 2.3l-2.3 4.8l1.5 2.6l5.4 0.6l0.9 5.1l-7.7 0.3l-0.7 1l5.5 5.5l-3.3 3.5l-0.3 3.4l6-1l4.5 0.4l0.3 1.2l5.5 3.4l1.9-1.2l5.5 2.8l1.8-4.6l0.3-0.1l-0.4-5.4l4.7 0.2l-0.8-16.1l-0.2-1.2l-5.3 0.3l-1.3-4.9l-2.2-1.3l-4.3 1l-0.8 1.1l-6.7 0.6l-0.7-1l1.7-6.5zM637.2 242.2l4-2.2l-0.7-2l-3.4 1.4zM632.3 241.4l-3.8 1.6l1.3 3.3l3.9-2.1zM624.5 244l-3.9 1l-0.2 0.5l2.7 4.5l4-2.2zM605.2 276l-4.2-3.4l-0.7 5.1l0.6 0.5l-0.3 5.2l-1 0.8l1.5 5.1l2.4 1.3l0.3 0.4l-0.2 0.9l2.1 4.7l-2.6 3.1l4 2.3l-2.2 3.9l0.5 1.2l2.9-0.2l0.4-4.2l2.4-6.6l3.3-6.7l-1-5l-4.5-4.8l-3.2 1.4l-3.4-2.9zM590.4 285.1l0.6 0.3l5.3-3.3l-0.6-2.5l-4.5 0.3z" fill="#b04f39" fill-rule="evenodd"/>
<path d="M379.5 328.2l-0.7-0.9l-7.3-0.9l0.5 12.8l0.9 7l-9.8-0.3l-0.1-0.1l-8-0.2l0.2-7.1l-13.6-0.5l0.4 6.6l0.5 0.5l-2.3 7.4l-5.7-1.3l0-6.7l-0.2-0.3l-7.3 0.3l-0.3 0.3l-6.2-1.2l-0.1-6.5l-7-0.3l-1.1 6.2l1 1.1l-1 6.4l-0.2 0.2l-4.7-0.5l-3.8-5.7l-2.4 0.4l-0.8 1l1.5 0.1l-0.6 30.1l4.1 5l2 0.8l3.8-3.8l6.2 1.2l1.4-1.1l6.1 0.1l0.4 0.5l7.1 0l0.5 0.5l6.7-0.5l0.3 8l6.6-0.1l0.8 0.7l6.9-0.9l2.5 2.2l-1.5 0.6l2.1 6.6l7.6-0.2l0.9-1l8.1 2.1l2.2-2l0.1 0l3 0.7l1.3-0.8l3.5-7.5l4.9 1.2l0.7 2.2l1.6 1.7l0.9 0.1l4.4-2l3.1 2.1l-3.5 3.9l-0.1 1.9l-6.1 1l-0.4-0.3l-7.5 2.3l0 2.2l31.8-0.4l1.1 5.4l-3.9 2.6l-4.8-2.1l-1.6 8.2l-4.6-2.9l-5.2 2.6l0.1 1.9l-3.4 3.6l-1 0.2l-4-6l-2.5 0.3l-0.2-0.5l-10 2.2l-0.1 5.9l7.2 1.1l0.5 6.9l-7.8-0.3l-0.6 0.7l-7.1 1.3l-0.9 4.4l0.3 0.5l-0.9 8.5l7.4 0.4l0.5 6.9l1.5 1.6l0.7-0.5l10-2.4l19.8 2.5l-2.2-5.4l2-1.9l0.4-3.2l-1.6-3l0.9-1.7l4.4-1.5l3.7 3.6l0.1 1l0.5 0.6l0.3 2.5l2.2 2.1l4.5-0.4l2.4 2.9l5.8-4.7l0-0.2l-1.3-1.9l-0.1-5.7l4.5-0.9l1-4.4l9.7 0.1l2 15l0.5-0.5l0.1-3.7l13.7-2.6l7.4-1.2l1.3-3.7l0.9 1.6l0.1 0l1.1-5.5l-10.9-1l-1-11.7l9.8-0.6l0.6 0.6l-0.7 5.1l2.7 3.4l6.3-5.6l-0.6-2.6l4.3-3.1l4.5 2.9l3.6-2.2l2.5 6.6l-1.8 1.5l-4.5-1.9l-2.9 5.3l10.8-0.8l-1.5 4.6l2.1 2.2l4.4-0.6l1.5 1.1l4.4-2l-2.5-6l5.5 0l1.3 3.6l14.2-0.5l0-0.1l-1.9-2.8l-2.3 1.5l-2.8-1.5l-0.5-2l5.3-0.4l0.1-0.4l4.3-1.9l0.8 1.1l-1.7 2.9l1.5 3l-0.1 0.5l13.1-0.6l12.5-1.2l0.5-0.9l-3.6-3.4l1.7-1.3l0.7-2.8l-2.6-2.2l-2.3 0.2l-1.3-2l0.9-2.9l-2.8-2.4l0-3.2l0.9-1.1l-0.3-1.9l3.2-3.8l-1-1.3l-0.3-4.9l-4.5 0l-0.1 0l0.3-4.6l-2.9-0.7l-1-3.5l-3.1-0.1l-1.6-2.7l-2.1-0.5l-1.9 1.2l-0.1 4.1l-1.7 0.8l-3.3-2.2l-2.2 0.8l-2.1-1.1l-1.2 0.3l-1 1.1l-3.7 0.5l-1.4 2.1l-2.5-1l-3.5 1.8l-1.8-3l-2.4 0.7l-0.5-1.5l-8.4-24.2l0.1 1.3l-26 1.6l-0.6-1.7l-4.4-0.5l-0.3-3.7l-0.1-0.2l0.9-4.2l2.5-0.3l0.1-4.4l-2.1-0.9l-0.5-4.4l3.3 0.3l3.7-2.4l0-0.4l-2.6-3.9l1.2 0.1l1.1-0.1l-0.5-2.7l2.3-0.9l0.3-4.4l2.1-0.9l0.6-1.9l-0.9-2.4l-3.4-1.9l0.8-2.2l-1.8-3l-1.6-0.8l-2 1.5l-2.2-0.8l-2.2 3l-5 1.2l-3.8 5l-3 2l-1.4-1.7l-5.7-1.2l-1.3 1.7l-5-5.6l-5-6.6l-0.5-1.6l-1.3 5.3l-3.9 0l-1-5.4l-5.9 0.2l-0.4-0.5l-5-0.2l-1.7-6.2l-0.2-0.1l-4.6 2.9l0 3l-6 1.7l-0.4-0.3l-4.7-0.1l-0.9 5.5l0.3 0.3l-0.5 4.9l0.9 0.8l0.1 5.6l-0.8 0.7l0.1 4.7l6.4 1.2l0.5-0.4l4.1 0.6l2 6.8l10-0.1l0.4 8.6l0.8 0.8l-0.1 5.2l0.6 0.6l-1.1 5.6l-5.4-0.1l-0.8 0.9l1 5.3l-1.1 1.1l-0.3 5.7l0.4 0.5l0 5.6l-5.9 0l-0.1 0.1l-4.5-1.7l-1.7 1.3l-5.1-1.4l-0.2-4l-1.4-1.3l-5.3 2l-2.4-1.9l2.3-5.2l-0.1-0.1l-0.5-6.7l-6.3 1.1l0.5-6.9l-0.7-0.9l-2.9 0.4l-0.2-2.3l-4.4 1.3l-1.1-0.6l0.1-6.7l4.7-2.7l-0.2-3.1l6.5-0.1l-1.2-2.4l1.5-4.8l-0.8-0.9l0-4.9l-1-1.2zM402.9 398.6l-1.5-6.1l0.2-0.2l7 0.2l-0.2 5.8zM510.9 420.4l-1.1 1.7l-2 0.9l-0.9-0.4l-2.3 0.6l-0.6-4.7l-0.4-9.1l1.8-0.3l1.7 2.9l3.6-0.4l1.4 0.9l1.8-0.6l0.9 0.3l4.2-1.7l1.7 1.9l2.7-0.1l1.4-1.3l3.8 2.2l-1.2 2.8l2.6 2.2l-1.4 3.4l-3.8-1.6l-0.6-2.2l-4.4-0.4l-0.9-1l-1.5-0.2l-3.7 2.4l-0.4 1.3zM516.7 406.8l-2.2 1l-2.4-1.7l0.3-2.9l-0.7-1.4l0.5-1l-0.8-3.8l2-2.1l3 2.7l2.2-0.7l4.8 0.4l1.1-1.7l3.4-0.3l1.8 1.5l0.2 0.7l-2.3 3.7l-2.9 0.3l-0.3 5.3l-3.3-0.2l-2 1.5zM492.4 418.1l-5 0.2l-1.4-4.9l-5.2-0.3l-1.2-6.4l0.6-0.7l-0.3-5.1l-0.3-0.5l-6.4 0.6l-0.4-0.4l-6.3 0.5l-0.1-0.1l-0.1-4.3l-2.3-1.4l0.2-6.1l0.8-0.4l-0.1-5.6l0.7-0.7l6.3 1l1-1.4l5.8-0.2l0.4 0.2l5.6-0.6l0.8 0.6l0.5 4.5l-1.8 1.9l1.2 5.7l0.4 0.3l1.4 5.3l6 0.2l0.2 0.1l-0.2 6.1l0.9 1.1l4.4 0.4l2 3.7l-1.6 3.3l1.3 3.2l-0.5 1.4l-5.5 1.4zM320.7 400.9l-4.2-5.9l-3.2 0.4l-2.2 5.1l0.2 1.7l-5.5 6.7l5.3 2.4l3-2.2l4.8 1.6l1.6-1.5l-2.1-4.9zM354.9 400.2l-2.3 0.9l-1.4 1.8l-1 5.5l0.6 1l7.4 2l2.1-1.6l-1.3-6.5zM385.9 292.7l-5.8 0.4l-0.5 5.2l0.3 0.3l-0.2 3.8l3.7 2.4l2.3-0.2l0.2-0.1l5.5-0.5l0.1-4.9l0.8-1.1l-0.9-4.2l-5.1-0.6zM498.1 218.4l0.5-0.7l-2-2.7l1.6-6.3l-1.2-0.3l-3.1 0.9l-0.9-0.5l-5.2 1.5l-0.9-0.5l-3.6 1.2l-0.6 0.6l0.3 4.3l1.9 1.2l3.6-0.7l0.7-1.6l4.4-1.6zM492.5 247l-0.4 4.1l-2.6 3.7l0 0.2l19.4-2.1l0-0.1l-3.6-3.6l1.2-8.7l3.7-2.7l1.8-5.3l-4-0.5l-0.2 0.1l-5 0.1l-5.6 0.6l-1.1 1.5l0.9 4.3l-0.5 0.8l1.4 6zM457.4 287.1l0.3 11.5l6.9-0.5l0.3-0.4l-0.4-3.6l1-1l-0.3-4.8l-0.9-0.7l-2.8 0.9zM490.7 321.2l-1 3l-2.4-0.4l-0.8 0.4l-1.3 2.5l0.1 0.6l-2.6 3.5l-0.5 0.1l-1.1-0.4l-3 1.9l0.4 3.3l3.5 0.6l0.9 0.8l0.3 1l51.9-6.4l2.8-0.4l0-0.1l-2.2-2.2l-3.1 0.1l-1.4-2l1.7-3.5l-0.1-0.9l4.3-1l1.4-2.8l-0.1-0.7l8-0.4l8.4-8.4l3.3-11.7l4.8-6.6l-2.4-4.1l1.5-1.4l0.5-1.5l-2.4-3l1-1.9l-2-3.5l-16.3 2.2l-1.8-14.9l-0.5 4l-5.1 0.5l-0.7 1l1.5 4.4l-0.5 0.9l1.1 4.5l-4.4 1.1l-0.4 3.9l-4.6 0.3l0.6 6.1l-5.3-0.7l-1.2-4.1l-4.8 0.2l-0.3-0.3l-4.9 0.4l-0.4 0.4l-4.1 1l-0.3 4.1l-0.5 0.7l-3.7 0.1l-0.8 0.7l-0.7 5.4l-0.4 0.6l4.2 2.2l-2.6 2.5l1.2 2.5l-0.8 2l-2.3 0.9l-1.2 4l0.5 1l3 0.7l0.8 2.4l-2.8 3.7l-3.4-3l-3.2 3.3l-0.8-0.2zM537.3 304.6l-1.7-0.5l-0.8-1.3l1.6-3.8l1.9-0.2l2.1-2.3l3.7 2.9l2.1-0.7l1.3-4.1l0.3-0.3l1 0.1l2.9 2.9l-1.2 3.5l-1.2 0.3l-1.9 3.6l2.8 3l-0.2 1.7l-0.9 0.8l-4.1-0.2l-1.8-2.8l-4 1.5zM534.6 253l-1.5-4.6l-0.8-0.7l-3.3 2l-0.1 4.1l0.5 0.6zM637.2 239.4l-4.9 2.1l1.4 2.7l3.6-2zM586.5 238.6l-1.5 0.8l-0.8 2.8l3.5 3.9l-3.6 3.4l0.2 1.2l5.7 2.6l0.7-0.5l5.6 0.2l0.3-0.3l-1.3-5.9l4-2.2l0.6-2.5l-2.3-2.6l-3.3-0.3l-2.5 1.7zM627.1 247.8l2.7-1.5l-1.2-3.3l-4.2 1.1zM597.5 326.6l-4.4 2.4l2.3 5.1l3.2 0.8l0.2 0.1l1.8 0.5l1.2-0.5l6.2 1.4l0.7-1.3l3.7-1.6l-0.7-5.2l-4.8 2.1l-2-0.9l-0.9-1.8l-4.9 0.2zM575 348.9l-3.5 0.1l-1.4 1.8l-3.6-0.5l-2.3 3.1l-3.2-0.7l-2.9 3.1l0.7 2.3l-3.9 0.2l-0.2 0.5l0.1 0.4l2.8 4.7l4.2 0.1l2.9 5.2l4.4-0.4l1.7-3.1l4.1-1.1l1.7-2.5l5 3.3l1.6-3.9l2-0.7l1-2.4l-2.1-2.3l-3.3 0.1l-1.4-3.1l-2.2-0.2zM586 368.4l-3-2.1l-2.1 2.4l-0.1 3.6l-3.4 2.2l1.8 3.7l3.3-5.2zM556.9 402.9l1.8 2.9l1.5-3.6l-2.1-1.1z" fill="#85442a" fill-rule="evenodd"/>
<path d="M253.4 416.9l7.5 2M253.4 416.9l-0.6 8l7.9 0.2M259.8 409.1l-0.4 5.7l-7.2 0.1l1.2 2M259.8 409.1l2.3 2.5M260.2 404.1l-0.4 5M260.2 404.1l10 1M272.3 402.4l-1.6-4.4l-9.8-2.6l-0.7 8.7M260.7 425.1l0.1 0.1l8.2-0.1l1.2-6.2M260.7 425.1l0.2-6.2M260.9 418.9l1.3-1.3M262.2 417.6l-0.1-6M262.1 411.6l7.1 0M262.2 417.6l8 1.3M264.8 339.5l-0.3 4.7l4.8 0.2M269.4 335l-4.3-0.2l-0.3 4.7M264.8 339.5l5-0.4M270.2 418.9l0.7-0.7l-1.7-6.6M269.2 411.6l1.4-2.5M269.3 344.4l8.2 0.4l-1.8-4.6M269.3 344.4l1.4-4.2M278.2 335.5l-8.8-0.5M269.8 339.1l-0.4-4.1M269.8 339.1l0.9 1.1M270.6 409.1l-0.4-4M270.2 405.1l2.1-2.7M270.6 409.1l8.1 2.3M270.7 340.2l5 0M279.1 406.5l-3-3.9l-3.8-0.2M275.7 340.2l3.6-4.7M279.3 335.5l-1.1 0M281.4 330l-2.9-2.8l-0.3 8.3M278.7 411.4l0.1 0.3l7.8 1l0.2-0.2M278.7 411.4l0.4-4.9M287.5 404.1l-8.4 2.4M279.3 335.5l2.2 0.1M281.5 335.6l6.9 0.3l0.2-4.3l-0.3-0.4l-6.9-1.2M281.5 335.6l-0.1-5.6M286.8 412.5l3.5 0.8l6.7-5.2M286.8 412.5l0.7-8.4M291.7 403l-3.7 0.4l-0.5 0.7M292.7 345.6l-0.7-0.1l-2.1-0.1M289.9 345.4l-2.4-0.1l0.7 8.4l2 1.1l3.4-1.3l0.9-2.9l-1.8-5M291.5 341l-0.2 0.3l-1.4 4.1M291.5 341l6.6 0.5M298.6 336.3l-6.5-0.3l-0.6 5M291.7 403l5.3 5.1M295.4 398.1l-3.7 4.9M292.7 345.6l7.8 0.3M295.4 398.1l6.9 2.4M304.2 392l-9.3 1.5l0.5 4.6M295.6 384.2l0.5 0.6l7.1 0.7M297.4 376.6l-8.8-0.6l1.1 7.1l5.9 1.1M295.6 384.2l1.8-7.6M306.1 196.7l-1.2-3.7l-8.9-0.4M296 199.6l0-7M296 192.6l-10-0.4l2.7 8.2l4.9 0.8l2.4-1.6M296 199.6l3.8 1.8l4.6-1.6M297 408.1l4.7 1.4M297.4 376.6M297.4 376.6l5 0.9M297.5 370l-0.1 0.1l0 6.5M297.5 370l3.9 0.1M297.6 363.4l-0.1 6.6M301.8 355.1l-4.6 1.7l-1.2 5.2l1.6 1.4M297.6 363.4l4-0.5M298.1 341.5l3.2 3.4M298.1 341.5l0.5-5.2M305.5 336.6l-6.9-0.3M300.5 345.9l1.5 0.1l-0.2 9.1M300.5 345.9l0.8-1M301.3 344.9l2.3-0.3M302.4 377.5l-1.1-1.4l0.1-6M301.4 370.1l0-0.4M301.4 369.7l8.9 1.6M301.4 369.7l0.2-5.8M301.6 363.9l0-1M301.6 363.9l9.6-1.1M301.6 362.9l0.1-2l0-3.9M301.7 409.5l0 0.1l4.1-0.8M301.7 409.5l0.6-9M301.7 357l0.1-1.9M304.2 355.8l-2.5 1.2M302.3 400.5l0.5-0.5M306.5 381.5l-1.1-0.4l-3-3.6M302.8 400l8.3 0.5M302.8 400l1.5-7.9M303.2 385.5l1 6.5M303.2 385.5l3.3-4M303.6 344.6l3.8 5.7M303.6 344.6l1.1-1.2M304.2 355.8l7.7 2.2M307.4 350.3l-3.2 5.5M304.2 392l0.1 0.1M304.3 392.1l6.7 1.2M304.4 199.8l2 4.6M304.4 199.8l1.7-3.1M304.7 343.4l0.8-6.8M304.7 343.4l7.7-0.4M308.9 336.7l-3.4-0.1M305.8 408.8l5.3 2.4M305.8 408.8l5.6-6.6M313.4 204.4l0.6-5.7l-7.9-2M306.4 204.4l7 0M306.4 204.4l-2.3 5.8l2.8 1.6l6-1.1l0.9-5.5l-0.4-0.8M307.3 381.8l-0.6-0.2l-0.2-0.1M312.2 383.6l-0.1 0l-4.8-1.8M307.3 381.8l3.9-3.7M307.4 350.3l4.7 0.4M313.4 336.9l-4.5-0.2M314.7 336.9l0.3-4.5l-0.6-0.5l-5.2 1.1l-0.3 3.7M310.3 371.3l0.8 1.1M310.3 371.3l2.2-6.8M311 393.3l2.4 2.1M311 393.3l1.2-9.7M311.2 378.1l-0.1-5.7M311.1 372.4l7.1-1M311.4 402.2l-0.3-1.7M311.1 400.5l2.3-5.1M311.1 411.2l1.3 4.1l5.4 1.3M314.1 409l-3 2.2M311.2 378.1l6.2 1.1M311.2 362.8l1.3 1.7M311.2 362.8l0.7-4.8M311.4 402.2l2.6 2.3M311.9 358l0.1-0.1M312 357.9l0.1-7.2M312 357.9l7-0.6M312.1 350.7l0.3-0.2M317.9 384.1l-0.1 0l-5.6-0.5M312.4 343l0.9 1.1M312.4 343l1-6.1M312.4 350.5l6.4 1M312.4 350.5l0.9-6.4M312.5 364.5l6.3 0.8M313.3 344.1l6.3 0.4M313.4 395.4l3.1-0.3M314.7 336.9l-1.3 0M314.1 409l-0.1-4.5M314 404.5l4.4-0.2M318.9 410.7l-4.8-1.7M320.4 337.2l-5.7-0.3M316.5 395.1l4.2 5.8M316.5 395.1l2-2M317.9 384.1l-0.5-4.9M317.4 379.2l1.4-1.1M317.8 416.6l-0.1 5.6l7.7 1.7l0.9-1l-0.3-6.5M317.8 416.6l0.2-0.3M319.3 384.2l-1.4-0.1M318 416.3l8 0M318 416.3l0.9-5.6M318.8 378.1l-0.6-6.7M318.2 371.4l0.5-0.5M318.4 404.3l2 4.9M320.7 400.9l-2.3 3.4M318.5 393.1l7.4 0.2M318.5 393.1l0.8-8.9M318.7 370.9l6.7 1.7M318.7 370.9l0.2-5.5M318.8 365.3l0.1 0.1M318.8 365.3l0.2-8M318.8 378.1l6.1 0.1M319.2 357l-0.4-5.5M318.8 351.5l0.8-0.8M318.9 365.4l6.5-0.6M320.4 409.2l-1.5 1.5M319 357.3l0.2-0.3M319.2 357l6.7 0.8M324.9 385.8l-2.8-1.4l-2.8-0.2M319.6 350.7l7.2 0.2M319.6 350.7l0-6.2M319.6 344.5l0.9-0.9M320.4 409.2l5.6-0.4M327.6 337.4l-7.2-0.2M320.5 343.6l-0.1-6.4M320.5 343.6l6.2 1.3M320.7 400.9l5.5 0.8M327.3 387l-2.4-1.2M324.9 385.8l0.4-7.1M324.9 378.2l0.4 0.5M324.9 378.2l0.5-5.6M325.3 378.7l7.1 0.1M325.4 372.6l0.8-0.9M325.4 364.8l1.1 1M325.4 364.8l0.5-7M325.9 393.3l0.3 0.3M325.9 393.3l1.4-6.3M325.9 357.8M325.9 357.8l1-6.8M325.9 357.8l6.8 0.7M326 416.3l0 0.1M326 416.3l0-7.5M326 408.8l0.3-0.3M326 416.4l7.7-0.5M326.2 393.6l8.2 1M326.2 401.7l0-8.1M326.3 408.5l0.1-6.7l-0.2-0.1M326.2 371.7l6.5 1.1M326.2 371.7l0.3-5.9M334.1 409.7l-7.8-1.2M326.5 365.8l6.7-0.5M326.8 350.9l-0.1-6M326.7 344.9l0.3-0.3M326.8 350.9l0.1 0.1M326.9 351l7.2 0.5M327 344.6l0.6-7.2M327 344.6l7.3-0.3M332.6 388.7l-3.8-1l-1.5-0.7M334.5 337.7l-6.9-0.3M332.4 378.8l0.5 0.5M332.4 378.8l0.3-6M336.3 389.6l-0.4-0.1l-3.3-0.8M332.6 388.7l0.3-9.4M332.7 372.8l0.4-0.4M332.7 358.5l1 1.3M332.7 358.5l1.4-7M332.9 379.3l6.8-0.5M333.1 372.4l7.2 0.8M333.1 372.4l0.6-6.6M333.2 365.3l0.5 0.5M333.2 365.3l0.5-5.5M333.7 359.8l6.8-1.2M333.7 415.9l0.4 0.6M333.7 415.9l0.4-6.2M333.7 365.8l6.6 0.8M334.1 351.5l0.4-0.3M340.8 416.9l1.3-1l-0.9-6.9l-5.7-0.4l-1.4 1.1M334.1 416.5l6.7 0.4M334.1 416.5l-0.5 6.4l6.5 1.1l0.7-7.1M334.3 344.3l0.2 0.2M334.3 344.3l0.2-6.6M334.4 394.6l-0.2 5.8l7.8 0.5l0.8-3.1l-4.8-7.7M334.4 394.6l3.4-4.6M334.5 351.2l5.8 1.3M334.5 351.2l0-6.7M341.6 338l-7.1-0.3M334.5 344.5l7.6 0.1M337.8 390l-1.2-0.3l-0.3-0.1M336.3 389.6l3.6-2.9M338 390.1l-0.2 0l0-0.1M338 390.1l0.8 0.2l8.7 1.4M339.9 386.7l-0.2-7.9M339.7 378.8l0.5-0.5M339.9 386.7l6.7-0.1M340.2 378.3l6.9 1.5M340.2 378.3l0.1-5.1M340.3 352.5l0.4 0.6M340.3 352.5l2.2-7.4M341.1 372.1l-0.8-5.5M340.3 366.6l0.3-0.3M340.3 373.2l0.8-1.1M340.5 358.6l1 1.2M340.5 358.6l0.2-5.5M340.6 366.3l0.9-6.5M340.6 366.3l7.6-0.3M340.7 353.1l7.4-0.2M341.1 372.1l5.8 0.3M341.5 359.8l5.7 0.1M348.9 338.3l-7.3-0.3M342.1 344.6l-0.5-6.6M342.1 344.6l0.4 0.5M342.5 345.1l5 0.4M348.7 454l-5.8-1.7M342.9 452.3l-1.8 1.9l-0.2 6.2l8.4 1.1l-0.6-7.5M348.7 454l1.5-0.7l0.6-6.8l-2.3-2.5l-5.6 7.6l0 0.7M346.6 386.6l0.7 0.7M346.6 386.6l0.5-6.8M346.9 372.4l0.9 1.1M346.9 372.4l1.7-6.1M347.1 379.8l0.4-0.4M348.2 366l-1-6.1M347.2 359.9l0.7-0.8M347.5 391.7l-0.2-4.4M347.3 387.3l6.9-0.9M347.5 391.7l1.3 0.2l6.4-2.6M347.5 345.5l0.3 0.2M347.5 345.5l1.4-7.2M347.5 379.4l6.5 0.2M347.5 379.4l0.3-5.9M348.1 352.9l-0.3-7.2M347.8 345.7l7.1-0.1M347.8 373.5l7.3-0.7M347.9 359.1l7.9 0.9M347.9 359.1l0.3-6.1M348.1 352.9l0.1 0.1M348.2 353l6.6 0M348.2 366l0.4 0.3M348.6 366.3l5.8 0.2M354 338.5l-5.1-0.2M358.2 411.4l-7.4-2M350.8 409.4l-0.7 3.4l4.1 6l2.3 0.6M354.9 400.2l-2.3 0.9l-1.3 1.8l-1.1 5.4l0.6 1.1M354 379.6l0.5 0.8M354 379.6l1.4-6.3M355.2 338.5l-1.2 0M354.2 333.1l-0.2 5.4M354.2 333.1l5.7 1M354.4 327.4l-0.6 0.9l0.4 4.8M354.2 386.4l2.6 2.3M354.2 386.4l0.3-6M361.3 322.3l-0.8-1l-6.1-0.6l-1 1.5l1 5.2M354.4 327.4l5.5-0.2M354.4 366.5l0.4 0.6M354.4 366.5l1.4-6.5M354.5 380.4l7.9 0.3M355.1 372.8l-0.3-5.7M354.8 367.1l7.8-0.1M356.1 359.6l-1.3-6.6M354.8 353l0.3-0.4M354.9 400.2l4 3.1M357.3 395.9l-2.4 4.3M354.9 345.6l0.1 0M354.9 345.6l0.3-7.1M355 345.6l8 0.2M355.1 352.6l-0.1-7M355.1 352.6l7.7-0.9M355.1 372.8l0.3 0.5M359.7 338.7l-2.5-0.1l-2-0.1M355.2 389.3l2.1 6.6M356.8 388.7l-0.1 0l-1.5 0.6M355.4 373.3l7 1.1M355.8 360l0.3-0.4M356.1 359.6l5.9 0M356.5 419.4l0.6 3.9l1 1M356.5 419.4l1.8-2.2M361.3 388.7l-4.5 0M357.3 395.9l7.6-0.3M357.6 431.1l6.9 0.9M357.6 431.1l-0.7 0.6l-0.3 7.6l0.3 0.3l8.2-1M358.1 424.3l-0.5 6.8M358.1 424.3l7 0M358.3 417.2l-0.1-5.8M360.2 409.8l-2 1.6M358.3 417.2l7.4 0.7M358.9 403.3l1.3 6.5M358.9 403.3l6.8-1.4M363.3 338.9l-0.2-0.1l-3.4-0.1M359.7 338.7l0.6-4.1M359.9 334.1l0.4 0.5M359.9 334.1l1.4-5.3M359.9 327.2l1.4 1.6M359.9 327.2l1.4-4.9M360.2 409.8l5.3 0.2M360.3 334.6l6.4 0.5M366.4 389.2l-1.4-0.5l-3.7 0M361.3 388.7l1.4-7.4M366.7 328.9l0.3-0.3l0.2-6l-5.9-0.3M361.3 328.8l5.4 0.1M362 359.6l1.2 1.1M362 359.6l1.4-7.2M362.4 380.7l0-6.3M362.4 374.4l0.2-0.2M362.4 380.7l0.3 0.6M362.6 374.2l0-7.2M362.6 367l0.4-0.5M362.6 374.2l6.7-0.7M362.7 381.3l6.7 0.1M362.8 351.7l0.6 0.7M362.8 351.7l0.3-5.8M363.1 345.9l-0.1-0.1M363 345.8l0.3-6.9M363 366.5l7 1.4M363 366.5l0.2-5.8M373 346.3l-9.9-0.4M363.2 360.7l5.4-0.6M363.3 338.9l3 0.1l0.4-3.9M363.4 352.4l5.3 0.9M364.5 432l1.5 2.2M364.5 432l1.7-6.5M365.7 401.9l-0.8-6.3M364.9 395.6l0.9-0.9M365.1 438.6l0.3 0.5M365.1 438.6l0.9-4.4M365.1 424.3l1.1 1.2M365.1 424.3l0.6-6.4M372.6 441.6l-7.2-2.5M365.4 439.1l-0.9 8.5l7.4 0.4M366.3 417.3l-0.8-7.3M365.5 410l0.4-0.4M365.7 417.9l0.6-0.6M365.7 401.9l1.1 1.2M365.8 394.7l8.1 2M365.8 394.7l0.6-5.5M365.9 409.6l7.1 0.8M365.9 409.6l0.9-6.5M366 434.2l7.1-1.3M366.2 425.5l6.5 0.1M366.3 417.3l6.5 0.3M368.1 389.9l-1.7-0.7M366.7 335.1l0.2-0.2l-0.2-6M366.8 403.1l6.4-0.8M376.2 393.1l-2.8-1l-5.3-2.2M368.1 389.9l1.9-2.5M368.5 280.7l1.5 6.7M368.5 280.7l-9.2 0.4l0.2 0.7l2.1 7.1l7.9-1.1M374.5 280.5l-6 0.2M369.7 360.8l-1.1-0.7M368.6 360.1l0.1-6.8M368.7 353.3l4.7-2.7M368.9 299.9l1.9 3.1l0 1.5l0.2 0l3-2M370.8 294l-5.9 0.2l2.1 2.6l1.9 3.1M372.8 296.8l-3.9 3.1M369.3 373.5l0.5 0.6M369.3 373.5l0.7-5.6M370 387.4l-0.6-6M369.4 381.4l1.3-1.2M369.5 287.8l1.3 6.2M370 287.4l-0.5 0.4M370.5 367.4l-0.8-6.6M374.1 359.5l-4.4 1.3M370.7 380.2l-0.9-6.1M369.8 374.1l5.4-0.4M370 287.4l3.6-0.4M370 367.9l0.5-0.5M370 387.4l6 0.1M370.5 367.4l4.2-0.2M370.7 380.2l5.1 0.5M370.8 294l1.5 0.8M371.4 322.1l0.2 4.3M377.4 315.8l-6.1 1.7l0.1 4.6M371.4 322.1l7.8-0.9M371.6 326.4l7.2 0.9M371.6 326.4l0.2 6.9M371.8 333.3l6.4 0M371.8 333.3l0.2 5.9l0.1 0.9M371.9 448l0.5 6.9l1.4 1.5l0.7-0.4l6-1.5M371.9 448l0-0.1M380 448l-8.1-0.1M371.9 447.9l0.7-6.3M372.1 340.1l0.6 4.5M372.1 340.1l7.1-0.7M372.3 294.8l0.5 2M372.3 294.8l2.7-2.7M374.3 440.2l-1.7 1.4M373.6 432.3l-0.9-6.7M372.7 425.6l1-1.1M372.7 344.6l5.7 0.5M372.7 344.6l0.3 1.7M372.8 296.8l1.1 1M372.8 417.6l1 1M372.8 417.6l0.6-6.8M373.1 347.5l-0.1-1.2M373 410.4l0.4 0.4M373 410.4l1.1-7M374.3 440.2l-1.2-7.3M373.1 432.9l0.5-0.6M373.4 350.6l-0.2-2.6l-0.1-0.5M373.1 347.5l6.5-0.1M373.2 402.3l0.9 1.1M373.2 402.3l0.7-5.6M373.4 410.8l9.7 0.2M373.4 350.9l0-0.3M373.8 355.9l-0.3-4.2l-0.1-0.8M373.4 350.9l4.9-0.1M373.6 432.3l7.9 0.3M375 292.1l-1.4-5.1M373.6 287l0.7-0.7M373.7 424.5l7.2 1M373.7 424.5l0.1-5.9M373.8 418.6l10.1-2.1M373.8 355.9l4.4 1.4M374.1 359.5l-0.3-3.6M373.9 396.7l2.3-2M373.9 297.8l5.8 0.5M374 302.5l-0.1-4.7M374 302.5l3.6 1.6M374.3 361.8l-0.1-1.7l-0.1-0.6M374.1 403.4l8 1.1M374.3 286.3l5.9 0.9M374.3 286.3l0.2-5.8M374.7 367.2l-0.4-5.4M374.3 361.8l2.9-0.5M380.4 440.6l-6.1-0.4M375.2 280.4l-0.7 0.1M375 371.2l-0.3-3.9l0-0.1M375 292.1l4.2-0.2M375.2 373.6l-0.2-2.4M375 371.2l2.3-2M379.7 275.6l-4.4-0.2l-0.8 0.7l0.7 4.3M375.2 280.4l5-0.2M375.2 373.6l8.9 1.1M375.2 373.7l0-0.1M375.8 380.7l-0.6-7M375.8 380.7M375.8 380.7l6.1-0.7M375.9 384.8l-0.1-4l0-0.1M375.9 384.8l8 2.2M376 387.5l-0.1-2.7M376.2 393.1l-0.2-5.6M376.2 394.7l0-1.6M379.2 395.4l-3-0.6l0-0.1M377.2 361.3l0.6 0.9M377.2 361.3l1-4M377.3 369.2l0.5-7M377.3 369.2l6.4-1.1M378.7 316.8l-1.3-1M378.4 309.6l-1.4 2.2l0.4 4M377.6 304.1l-0.5 3.3l1.3 2.2M377.6 304.1l2.1-1.7M377.8 362.2l5.8 1.2M378.2 357.3l0.2-0.2M378.2 333.3l1 1.2M378.2 333.3l1.2-5.1M378.4 357.1l-0.1-6.3M378.3 350.8l3.5-3.2M380.6 309.7l-2.2-0.1M379.6 347.4l-1.2-2.3M378.4 345.1l1.6-4.8M378.4 357.1l4.9-0.1M379.2 321.2l-0.5-4.4M381.3 315.7l-2.6 1.1M378.8 327.3l0.6 0.9M378.8 327.3l0.9-5.5M382 401.3l0-5.3l-2.8-0.6M379.2 395.4l1.3-0.8M379.2 321.2l0.5 0.6M379.2 291.9l0.9 1.2M379.2 291.9l1-4.7M379.2 339.4l0.8 0.9M379.2 339.4l0-4.9M379.2 334.5l5.9-0.7M379.4 328.2l6 0M379.6 347.4l2.2 0M379.7 298.3l0.2 0.3M379.7 298.3l0.4-5.2M379.7 321.8l5-0.1M379.7 275.6l0.5 4.6M385.2 275.1l-4.6-0.3l-0.9 0.8M379.7 302.4l3.7 2.4M379.7 302.4l0.2-3.8M379.9 298.6l5.4-0.2M380 340.3l5.4 0.8M380.5 454.5l-0.5-6.5M380.9 446.9l-0.9 1.1M380.1 293.1l5.8-0.3M380.2 287.2l0.1-0.1M380.2 280.2l0.5 0M380.3 287.1l5.6 0.9M380.3 287.1l0.4-6.9M380.4 440.6l0.5 6.3M380.6 440.3l-0.2 0.3M380.5 394.6l3.8 0M380.5 394.6l3.5-7.5M380.5 454.5l4-1M380.6 440.3l6.9 0.3M381.6 432.7l-1 7.6M380.6 309.7l2.2 1.8M383.4 304.8l-2.8 4.9M380.7 280.2l4.1-0.2M381.5 432.6l-0.6-7.1M380.9 425.5l3.8-3.8M380.9 446.9l5.6 0.6M385.6 317.9l-4.3-2.2M382.8 311.5l-1.5 4.2M381.5 432.6l0.1 0.1M381.6 432.7l6.3-0.1M381.8 347.6l0-0.2M381.8 347.4l4.1 0l0-6l-0.5-0.3M383.8 349.8l-2-2.2M384.4 382l-2.5-2M381.9 380l2.3-5.2M382 403.5l0-2.2M389.5 399l-7.5 2.3M382.1 404.5l-0.1-1M382 403.5l3 0M383.1 411l-1-6.5M385.7 311.5l-2.9 0M383.9 416.5l-0.8-5.5M383.6 363.4l0.9-1.2l-1.2-5.2M383.3 357l1.1-1.2M383.4 304.8l2.3-0.2M383.7 368.1l0.2-0.2l-0.3-4.5M384.1 374.7l-0.4-6.6M384.4 355.8l5.2 0.6l0.6-5.5l-6.4-1.1M384.4 355.8l-0.6-6M383.9 417l0-0.5M383.9 387l0.1 0.1M383.9 387l0.5-5M383.9 417l0.6 4l0.2 0.7M390.4 422.7l-3.9-6.1l-2.6 0.4M384 387.1l5 1.3M384.2 374.8l-0.1-0.1M389.7 380l-0.8-4.3l-4.7-0.9M384.3 394.6l5.1 4M389.6 390.6l-5.3 4M389.7 380l-5.3 2M384.5 453.5l6.4 0.8M386.5 447.5l-2 6M384.7 421.7l1 3.3M385.4 328.2l0.1-0.2l-0.8-6.3M384.7 321.7l0.7-0.7M384.8 280l0.4-4.9M384.8 280l1 0M385 403.5l0.1 1.1l3 2.6M390.4 403.4l-5.4 0.1M385.4 341.1l-0.3-7.3M385.1 333.8l0.6-0.7l-0.3-4.9M390 275.5l-4.4-0.8l-0.4 0.4M385.3 298.4l0.5 0.5M385.3 298.4l1-5.1M385.4 321l5.8 1M385.4 321l0.2-3.1M386.9 316.2l-1.3 1.7M385.7 425l2.2 7.6M385.7 425l2.9-0.4M385.7 311.5l1.2 4.7M387 310.4l-1.3 1.1M385.7 304.6l1.3 5.8M385.7 304.6l0.2-0.2M385.8 298.9l5.6 0.1M385.9 304.4l-0.1-5.5M386 287.9l-0.2-7.9M385.8 280l2.2-0.1l1.6-0.1M385.9 304.4l5.5-0.4M385.9 292.8l0.4 0.5M385.9 292.8l0-4.8M385.9 288l0.1-0.1M386 287.9l5.5-0.8M386.3 293.3l5 0.5M386.6 447.3l-0.1 0.1l0 0.1M386.6 447.3l2.9 0.1M387.5 440.6l-0.5 5.4l-0.4 1.3M386.9 316.2l4.7-0.1M387 310.4l4.5-0.1M387.6 439.5l-0.1 1.1M387.6 439.5l3.9 1.2M388 432.7l0.2 0.8l-0.6 6M387.9 432.6l0.1 0.1M391.2 431.5l-3.2 1.2M388 410.2l6 0.6M388 410.2l0 4.9l5.8 0.5M388.1 407.2l-0.3 2.7l0.2 0.3M391.8 404.3l-3.7 2.9M388.6 424.6l2.6 6.8M390.4 422.7l-1.8 1.9M389 388.4l0.6 2.2M389 388.4l2.2-3.1M389.4 398.6l0.1 0.4M389.4 398.6l1.8-6.3M391.6 451.7l-2.1-4.3M389.5 447.4l2.4-3.5M389.5 399l0.3 0.3M389.6 279.8l0.4-4.3M389.6 279.8l2.1-0.1M389.6 390.6l1.6 1.7M391.2 385.3l-0.2-4.1l-1.3-1.2M390.4 403.4l-0.6-4.1M389.8 399.3l6.2-0.9M397.1 279.5l1.7-0.1l0-0.6l-0.8-1l-7.5-2.5l-0.5 0.2M392 403.4l-1.3 0l-0.3 0M391.5 422.4l-1.1 0.3M390.9 454.3l6.7 0.9M390.9 454.3l0.7-2.6M391.2 322l0.2 0.3M391.2 322l0.8-5.5M392.9 433.7l-1.7-2.2M391.2 431.4l0 0.1M396.5 427.1l-5.3 4.3M391.2 338.9l6.4 1.2M391.2 338.9l-1.1 1.2l4 7.2l1.2 0l2.3-7.2M392 333.6l-0.8 0.7l0 4.6M396.4 386.7l-5.2-1.4M391.2 392.3l0.9 0.1M392.3 298l-1-4.2M391.3 293.8l0.4-0.5M391.5 310.3l0-6.2l-0.1-0.1M391.4 304l0-5M391.4 322.3l-0.4 4.9l0.9 0.8M391.4 322.3l6-0.2M391.4 299l0.9-1M391.5 287.1l0.2 0.3M391.5 287.1l0.2-7.4M391.6 316.1l0-5.7l-0.1-0.1M396.5 427.1l-5-4.7M394.9 418.8l-3.4 3.6M391.9 443.9l-0.4-3.2M391.5 440.7l0.3-0.3M397.6 449.6l-6 2.1M392 316.5l-0.4-0.4M391.7 287.4l5.7 0.5M391.7 293.3l0-5.9M391.7 293.3l5.6-1M391.7 279.7l4.7-0.2l0.7 0M391.8 404.3l3.5 4.9M392 403.4l-0.2 0.9M391.8 440.4l1.1-6.7M391.8 440.4l5.4-1M391.9 328l0.1 5.6M391.9 328l5.2-0.4M391.9 443.9l4.8 2.2M392 333.6l5.1 0.1M396.5 403.3l-4.5 0.1M397.1 317l-0.4-0.4l-4.7-0.1M396.1 396.4l-4-4M392.1 392.4l4.4-2.1M392.3 298l4.8 0.5l1-5.2l-0.8-1M392.9 433.7l6.2 0.6M393.8 415.6l1.1 1.4M394 410.8l-0.2 4.8M394 410.8l1.3-1.6M394.9 417l0 1.8M400 414.3l-5.1 2.7M394.9 418.8l5 3M395.3 409.2l2.6-0.4M396.5 403.3l-0.5-4.9M396 398.4l0-0.1M396 398.3l6.5 0.7M396 398.3l0.1-1.9M399.7 392.5l-3.6 3.9M396.5 390.3l-0.1-3.6M402.6 387l-4.5-1.6l-1.7 1.3M397 427.1l-0.5 0M398.7 403.3l-2.2 0M396.5 390.3l3.2 2.2M396.7 446.1l0.9 3.5M399.9 442.5l-3.2 3.6M399.4 429.4l-2.4-2.3M397 427.1l2.9-5.3M397.4 287.9l0.2-0.2l-0.5-8.2M398 321.5l-0.9-4.5M403.1 315.2l-6 1.8M397.1 327.6l0.3 0.2M397.1 327.6l0.3-5.5M397.1 333.7l0.3 0.2M397.1 333.7l0.3-5.9M399.9 442.5l-2.7-3.1M397.2 439.4l1.9-5.1M397.3 292.3l0.1-4.4M398.1 339.8l-0.7-5.9M397.4 333.9l5.6-1M397.4 327.8l5 0.4M397.4 322.1l0.6-0.6M397.6 340.1l0.5-0.3M397.6 449.6l1.8 1.1M397.6 455.2l6.4 0.8l0.3 0.1M397.6 455.2l1.8-4.5M397.9 408.8l1.6 1M397.9 408.8l0.8-5.5M398 321.5l4.4 0.3M398.1 339.8l4.2 0.5M401.8 403.2l-3.1 0.1M399.1 434.3l0.2-0.1M399.3 434.2l3.1 1M399.3 434.2l0.1-4.8M405.1 427.2l-5.7 2.2M399.4 450.7l2.6-0.1M400 414.3l-0.5-4.5M399.5 409.8l6.1-1.8M399.7 392.5l1.7 0M399.9 421.8l2.4-0.5M402.8 442.6l-2.9-0.1M404.6 417.3l-4.6-3M402.9 398.7l-1.5-6.2M401.4 392.5l0.2-0.2M401.6 392.3l7 0.2M401.6 392.3l1-5.3M401.8 403.2l0.7-4.2M403.6 403.2l-1.8 0M402 450.6l2.3 5.5M402 450.6l2-1.8M402.3 340.3l1.9 6.9l3.3-0.1M402.3 340.3l1.3-1.2M402.3 421.3l3 5.4M402.3 421.3l2.4-3.9M402.4 435.2l1.3 5.7M407 433.1l-4.6 2.1M403 332.9l-0.6-4.7M402.4 328.2l1-1M403.4 327.2l-1-5.4M402.4 321.8l0.2-0.1M402.5 399l0.4-0.3M408.7 386.9l-6 0.1l-0.1 0M402.6 321.7l0.7-6.2M402.6 321.7l5.4-0.5M404.5 445.6l-1.7-3M402.8 442.6l0.9-1.7M408.4 398.4l-5.5 0.3M403 332.9l0.5 0.4M403.1 315.2l0.2 0.3M409.6 315.7l-1.8-6.2l-0.1-0.2l-4.6 2.9l0 3M403.3 315.5l4.8 1.5M403.4 327.2l4.9 0M403.6 339.1l-0.1-5.8M403.5 333.3l4.9-0.7M403.6 403.2l2.1 4.7M409.4 403.1l-5.8 0.1M403.6 339.1l5.3-0.1M403.7 440.9l4.5-1.5M404 448.8l5 1.9M404 448.8l0.5-3.2M404.3 456.1l4.4 1.1M412.1 444l-7.6 1.6M404.7 417.4l-0.1-0.1M406.3 409.1l-1.7 8.2M408.9 418l-4.2-0.6M405.1 427.2l1.9 5.9M405.3 426.7l-0.2 0.5M411.2 424.6l-5.9 2.1M405.6 408l0.7 1.1M405.7 407.9l-0.1 0.1M405.7 407.9l6.6-4.8M406.3 409.1l4.7 2M407 433.1l2 0.9M407.5 347.1l1.1 9M407.5 347.1l1.6 0M408 321.2l1.2 1.2M408 321.2l0.1-4.2M408.1 317l1.5-1.3M411.9 443l-3.7-3.6M408.2 439.4l0.8-5.4M408.3 327.2l0.8 0.9M408.3 327.2l0.9-4.8M408.4 332.6l0.4 0.4M408.4 332.6l0.7-4.5M408.4 398.4l0.6 0.5M408.6 392.5l-0.2 5.9M408.6 381.2l0.1 5.7M409.6 374l-1.1 1.1l-0.3 5.7l0.4 0.4M408.6 381.2l6.4-0.5M408.6 392.5l0.1-0.1M408.6 356.1l0.7 0.5M408.6 356.1l-5.4 1.5l0 4.2l6.1 0.9M408.7 392.4l7.3 0.3M408.7 392.4l0-5.4M408.7 457.2l5.3 1.3l2.7 1.3M408.7 457.2l1.2-2M408.7 386.9l0 0.1M408.7 387l6.2-0.1M408.8 333l5.9 0.7M408.9 339l-0.1-6M408.9 339l0.5 0.4M408.9 418l2.3 6.6M411.4 416.2l-2.5 1.8M409.4 403.1l-0.4-4.2M409 398.9l6.9-1.1M409 450.7l0.9 4.5M409 450.7l3.9-3.6M409 434l0.1 0M409.1 328.1l5.3 0.2M409.1 347.1l0.3-7.7M409.1 347.1l5.2-0.1M409.1 434l6 2.9M409.1 434l3.9-4.8M409.2 322.4l5.1-0.7M409.3 356.6l0.6 5.5M409.3 356.6l5.3-0.9M409.3 362.7l0.1 5.2M409.9 362.1l-0.6 0.6M412.3 403.1l-2.9 0M409.4 367.9l5.4 0M409.4 367.9l-0.7 0.9l0.9 5.2M409.4 339.4l4.3-0.5M414.6 315.9l-5-0.2M409.6 374l5.3 0.7M409.9 362.1l5.4-0.4M409.9 455.2l5.1-1.3M411 411.1l0.4 5.1M411 411.1l4-2.6M411.9 424.9l-0.7-0.3M416.5 416.8l-5.1-0.6M413 429.2l-1.1-4.3M411.9 424.9l5.6-2.4M411.9 443l0.2 1M415.1 436.9l-3.2 6.1M412.6 444.6l-0.5-0.6M413.8 403.1l-0.7 0l-0.8 0M412.9 447.1l-0.3-2.5M412.6 444.6l6.4-1.4M415 449.2l-2.1-2.1M416.2 430.5l-3.2-1.3M413.7 338.9l1.4 1.3M413.7 338.9l1-5.2M413.8 403.1l1.2 5.4M416.5 403l-2.7 0.1M414.6 355.7l-0.3-8.7M414.3 347l0.5 0M414.8 327.9l-0.5-6.2M414.3 321.7l0.2-0.2M414.8 303.8l-0.5-6.2M414.3 297.6l-5.5 1l-1.7 2.2l0.7 2.7l6.6 0.6M421.1 303.4l-5.2-7.3l-0.1-0.2l-1.5 1.7M414.8 333.7l-0.4-5.4M414.4 328.3l0.4-0.4M414.4 304.1l-0.6 5.6l1 1M414.4 304.1l0.4-0.3M414.5 321.5l6.2 1.4M414.5 321.5l0.5-5.2M414.6 355.7l0.8 0.8M414.6 315.9l0.4 0.4M414.8 310.7l-0.2 5.2M414.7 333.7l0.1 0M414.8 347l0.3-6.8M414.8 347l2.6 0M414.8 303.8l6.9 0.4M414.8 310.7l6.6-1.6M414.8 327.9l5.9-0.2M414.8 333.7l5.8 0.2M414.8 367.9l1.5 1.6M414.8 367.9l1.1-5.7M416 392.7l-1.1-5.8M414.9 386.9l0.4-0.7M414.9 374.7l0.4 0.6M414.9 374.7l1.4-5.2M415 408.5l3.1 2M415 316.3l5.9-0.2M415.3 386.2l-0.3-5.5M415 380.7l0.2-0.2M415 453.9l0-4.7M415 449.2l4.6-0.4M416.1 454.7l-1.1-0.8M415.1 340.2l5.2-0.7M418 436.1l-2.9 0.8M415.2 380.5l6.4 0.7M415.2 380.5l0.1-5.2M415.3 375.3l7-0.1M415.3 361.7l0.6 0.5M415.3 361.7l0.1-5.2M415.3 386.2l4.1-0.1M415.4 356.5l5.5-0.9M416.5 403l-0.6-5.2M415.9 397.8l2.2-3.1M415.9 362.2l5.2 0.5M416 392.7l2.1 2M416.7 459.8l-0.6-5.1M421.9 453.3l-5.8 1.4M416.2 430.5l-0.3 1.6l-0.7 1.4l3.3 0.1M416.8 426.7l-0.6 3.8M416.3 369.5l4.9-0.8M416.5 416.8l2.2 2.8M418.1 410.5l-1.6 6.3M420.3 403l-3.8 0M416.7 459.8l3.6 1.8M417.5 422.5l-0.7 4.2M416.8 426.7l7.7-0.3M417.4 347l3.7 4M417.4 347l4.5-0.1M417.9 421.4l-0.3 0.7l-0.1 0.4M417.8 393l0.5 1.7M419.1 387l-1.5 5.1l0.2 0.9M417.8 393l6.2-0.1M418.7 419.6l-0.8 1.8M417.9 421.4l6.8-1M418 436.1l2.1 2.3M418.5 433.6l-0.5 2.5M418.1 410.5l3.3-0.7M418.1 394.7l0.2 0M418.3 394.7l0.7 3.1l0.3 1.2M418.5 433.6l7.3 0.1M420.6 414.9l-1.3 3.2l-0.6 1.5M419 443.2l1.4 1.9M420.1 438.4l-1.1 4.8M419.4 386.1l-0.3 0.9M419.1 387l4.8-0.2M419.3 399l0.8 3.1l0.2 0.9M419.3 399l5.2-0.7M421.6 381.2l-1.5 2.5l-0.7 2.4M419.6 448.8l2.3 2.9M419.6 448.8l0.8-3.7M425.8 438.8l-5.7-0.4M420.3 403l0.1 0.9M420.3 461.6l1.2 0.6l1.9 0.3M422.8 454.6l-2.5 7M421.9 346.9l-1.6-7.4M420.3 339.5l0.2-0.2M420.4 403.9l0.3 1.9l0.6 3.2M420.4 403.9l4.5 0M420.4 445.1l5.9-0.1M420.5 339.3l0.1-5.4M420.5 339.3l6.7 0M420.6 333.9l0.2-0.3M420.6 414.9l3.9 0.4M421.4 409.8l0.4 2.3l-1.2 2.8M420.8 333.6l-0.1-5.9M420.7 327.7l0.2-0.3M420.9 327.4l-0.2-4.5M420.7 322.9l1.2-1.3M420.8 333.6l5.3 0.2M421.9 321.6l-1-5.5M420.9 316.1l0.1-0.1M420.9 355.6l0.8 0.9M420.9 355.6l0.2-4.6M420.9 327.4l5.5 0.3M421 316l0.4-6.9M421 316l6-0.3M421.1 303.4l0.6 0.8M421.8 302.6l-0.7 0.8M421.1 351l7.4-0.9M421.7 368l-0.6-5.3M421.1 362.7l0.1-0.1M422.3 375.2l-1.1-6.5M421.2 368.7l0.5-0.7M421.2 362.6l0.5-6.1M421.2 362.6l6.4-0.7M421.3 409l3.5 0M421.3 409l0.1 0.8M421.4 309.1l2-2.3M422.6 379.5l-1 1.7M421.7 304.2l0.1 0.2l1.6 2.4M421.7 356.5l6.2-0.2M421.7 368l5.3 0.4M427.4 301.8l-1.1-4.9l-4.8-0.5l0.3 6.2M421.8 302.6l5.5-0.5M421.9 453.3l0.9 1.3M421.9 451.7l0 1.6M421.9 321.6l4-0.1M421.9 346.9l2.4 0M427.7 446.9l-5.8 4.8M422.3 375.2l1.9 1.6M422.6 379.5l2.1 3M424.2 376.8l-1.6 2.7M427.2 455.7l-4.4-1.1M423.4 462.5l5.6 1l2-0.4M423.4 462.5l3.9-2.6M423.4 306.8l1.7 2.6l0.2 0.5M424 392.9l-0.1-6.1M423.9 386.8l0.3-0.3M424 392.9l0.4 0.3M424.2 386.5l5.8 1.5M424.2 386.5l0.5-4M424.5 376.3l-0.3 0.5M424.3 346.9l2.9-2.9M424.3 346.9l4.7-0.1l-0.5 3.3M424.9 397.7l-0.5-4.5M424.4 393.2l5.1-1.2M424.7 420.4l-0.2-5.1M424.5 415.3l0.2-0.2M424.5 426.4M424.5 426.4l0.5-5.6M425.2 403.6l-0.7-5.3M424.5 398.3l0.4-0.6M426.2 433.7l-1.7-7.3M424.5 426.4l6-0.6M426.6 369.3l-1.5 6.1l-0.6 0.9M424.5 376.3l4.8-0.7M424.7 420.4l0.3 0.4M424.7 415.1l6.4 0.2M424.7 415.1l0.6-5.5M424.7 382.5l5.5-0.6M424.8 409l0.5 0.6M424.8 409l0.1-5.1M424.9 397.7l6.1 0.4M424.9 403.9l0.3-0.3M425 420.8l5.2 0.3M425.2 403.6l5.5 0M425.3 309.9l0.9 3.3M425.3 309.9l2.8-3.4M425.3 409.6l5.1-0.3M426.2 439.2l-0.4-0.4M425.8 438.8l0-5.1M425.8 433.7l0.4 0M425.9 321.5l1.2 1M425.9 321.5l1.2-5.3M427.3 339.1l-1.2-5.3M426.1 333.8l0.5-0.5M426.2 433.7l2.3 0.1l2.3 0M426.2 313.2l0.8 2.5M426.2 313.2l6.4-0.6M426.3 445l-0.1-5.8M426.2 439.2l4.5-0.9M427.7 446.9l-1.4-1.9M426.4 327.7l0.4 0.4M426.4 327.7l0.7-5.2M426.6 333.3l0.2-5.2M426.6 333.3l5.5-0.2M426.6 369.3l0.2-0.6l0.2-0.3M430.2 369.1l-3.6 0.2M426.8 328.1l5.2-0.2M427 368.4l0.8-1.4l0.9-1.5M427 315.7l0.1 0.5M427.1 322.5l3.9-0.3M427.1 316.2l0.5 1.6l1.7 2.3M427.2 344l0-4.7M427.2 339.3l0.1-0.2M427.2 344l5 0.8M427.2 455.7l0.1 4.2M430.5 453.7l-3.3 2M428.1 306.5l-0.8-4.4M427.3 302.1l0.1-0.3M427.3 339.1l4.8-0.8M427.3 459.9l3.5 2.3M433.9 301.7l-1.1-1.1l-5.4 1.2M427.6 361.9l2 2.2M427.6 361.9l0.3-5.6M427.7 446.9l2.8 6.8M427.7 446.9M432.4 445.3l-4.7 1.6M427.9 356.3l0.8-0.8M428.1 306.5l4.4 0.5M428.1 175.2l4.9 4.2M428.1 175.2l-4.5 3.3l-1.3 1.6l4.7 4.1l6.4-1l0.5-0.7M436.1 175.5l-2.2-4.6l-3.6 2.6l-2.2 1.7M428.5 350.2l-0.7 5.3l0.9 0M428.5 350.1l0 0.1M428.5 350.2l4.3 0M428.7 355.5l3.9 0M431.7 366.5l-3-1M428.7 365.5l0.9-1.4M429.3 375.6l0.3 0.3M429.3 375.6l0.9-6.5M431 322.2l-1.7-2.1M429.3 320.1l4.1-3M429.5 392l0.8 0.7M429.5 392l0.5-4M429.6 364.1l2.2-3.7l0.3-1.8M429.6 375.9l5.8 0.2M430.5 381.6l-0.9-5.7M430 388l0.7-0.6M430.7 387.4l-0.5-5.5M430.2 381.9l0.3-0.3M430.5 425.8l-0.3-4.7M430.2 421.1l0.7-0.6M432.2 369l-2 0.1M431 398.1l-0.7-5.4M430.3 392.7l6.1-0.4M430.4 409.3l0.3 0.3M430.4 409.3l0.3-5.7M430.5 453.7l2.5 0.6M430.5 425.8l1.2 1.3M430.5 381.6l5.1-0.1M430.7 403.6M430.7 403.6l0.8-5.1M430.7 403.6l5.6 1.1M430.7 387.4l4.9 0.2M430.7 438.3l4.1 2.7M431.8 433.8l-1.1 4.5M431.2 415.2l-0.5-5.6M430.7 409.6l5.9-0.5M430.8 462.2l0.2 0.9M430.8 462.2l3.2-4.5M430.8 433.8l1 0M430.8 433.8l0.9-6.7M430.9 420.5l5.6 0.9M430.9 420.5l0.2-5.2M432.3 324l-1.3-1.8M431 398.1l0.5 0.4M431 463.1l5.5-0.9l2.1-1.6M431.1 415.3l0.1-0.1M431.2 415.2l5.6-0.3M431.5 398.5l4.7-0.8M432.2 369l-0.5-2.5M435 363.1l-3.3 3.4M431.7 427.1l4.8-1.5M431.8 433.8l5.4 0.1M432.1 333.1l-0.1-5.2M432 327.9l1.9-2.1M432.1 358.6l0.5 0.3M432.1 358.6l0.5-3.1M432.1 333.1l0.5 0.5M432.1 338.3l1.4 1.1M432.1 338.3l0.5-4.7M432.8 350.2l-0.6-5.4M432.2 344.8l0.2-0.2M435.7 368.8l-3.5 0.2M432.3 324l0.3 0.4l1.3 1.4M438.5 324.8l-3.6-1.4l-2.6 0.6M436.5 450.1l-4.1-4.8M434.8 441l-2.4 4.3M432.4 344.6l4.5 0M432.4 344.6l1.1-5.2M432.7 312.5l-0.2-5.5M432.5 307l0.7-0.6M432.6 333.6l6.5-0.5M433.4 317.1l-0.8-4.5M432.6 312.6l0.1-0.1M432.6 355.5l0.7-4.3M432.6 358.9l2.4 4.2M437.8 356.1l-5.2 2.8M432.7 312.5l5.3-0.5M432.8 350.2l0.6 0.5M433 454.3l1 3.4M436.3 451.8l-3.3 2.5M433.9 182.5l-0.9-3.1M433 179.4l3.1-3.9M433.2 306.4l4.6 1.2M433.2 306.4l0.7-4.7M433.3 351.2l3.7 1.8M433.3 351.2l0.1-0.5M433.4 317.1l2.8 1.1l1.7-0.7M433.4 350.7l0.1-0.4l2.6-4.2M433.5 339.4l7.6-0.1M433.9 325.8l0.6 0.7l3.1 3.6M438.1 307.3l0.3-5.5l-0.1-0.1l-4.4 0M433.9 182.5l4.4 0.1l0.9-0.6l2.2-6.5l-5.3 0M434 457.7l4.6 2.9M434.8 441l0.1 0M434.9 441l5.8 4.6M437.3 438.3l-2.4 2.7M435 363.1l2.3 0.4M436.1 380.8l-0.7-4.7M435.4 376.1l0.9-1.3M436.4 386.5l-0.8-5M435.6 381.5l0.5-0.7M436.4 392.3l-0.8-4.7M435.6 387.6l0.8-1.1M436.3 374.8l-0.6-6M438.8 368.6l-3.1 0.2M436.1 346.1l3.8 2.9M436.1 346.1l0.6-1.1M436.1 380.8l5.1-0.5M436.2 397.7l0.8 0.7M436.2 397.7l0.5-5M436.3 374.8l5.9 0.9M436.6 409.1l-0.3-4.4M436.3 404.7l0.9-1M439.3 453.2l-3-1.4M436.3 451.8l0.2-1.7M436.4 392.3l0.3 0.4M436.4 386.5l5.7-0.1M436.5 425.6l0.6 0.5M436.5 425.6l0-4.2M440.7 445.6l-4.2 4.5M436.5 421.4l1.2-1.3M436.6 409.1l0.4 0.4M436.7 345l0.2-0.4M441.2 343.7l-4.5 1.3M436.7 392.7l5.1-0.5M436.8 414.9l0.1 0.2M436.8 414.9l0.2-5.4M436.9 344.6l1.6-2.6l2.6-0.3M437.7 420.1l-0.8-5M436.9 415.1l5.7-0.6M437 353l0.8 3.1M439.7 351.2l-2.7 1.8M437.2 403.7l-0.2-5.3M437 398.4l5 0M437 409.5l5.9-0.5M437.1 426.1l5.5 0.4M437.3 433.9l-0.2-7.8M437.2 433.9l0.1 0M437.3 438.3l-0.1-4.4M437.2 403.7l5.7 0.4M442.2 438.8l-4.9-0.5M437.3 433.9l3.7 0.1M438.3 364.6l-1-1.1M437.3 363.5l3.3-5M437.6 330.1l0.9 1l0.6 2M437.6 330.1l1.3-1.7M437.7 420.1l4.8 0.6M438 312l-0.2-4.4M437.8 307.6l0.3-0.3M437.8 356.1l2.6 1.7M437.9 317.5l1.3 0.7M437.9 317.5l0.4-5.2M438 312l0.3 0.3M443.5 306.7l-5.4 0.6M438.8 368.6l-0.5-4M443.6 364.4l-5.3 0.2M438.3 312.3l5 0.1M438.9 328.4l-0.4-3.6M440.2 323.4l-1.7 1.4M438.6 460.6l2.9-2.1l0.5 0.2M441.8 368.4l-1.5 0.1l-1.5 0.1M438.9 328.4l5.7 1.1M439.1 333.1l0.7 2M439.2 318.2l1 5.2M439.2 318.2l4.4-0.9M440.5 453.8l-1.5-0.3l0.3-0.3M439.3 453.2l4.2-4.2M443.2 353.2l-3.5-2M439.7 351.2l0.2-2.2M439.8 335.1l0.8 2.8M440.6 337.9l-5.2-0.5l4.4-2.3M439.8 335.1l1.7-0.9l1-0.7M439.9 349l3.2-1.8M440.2 323.4l3.9-0.4M440.6 358.5l-0.2-0.7M440.4 357.8l3-3.6M443.2 454.4l-2.7-0.6M442.6 454.8l-2.1-1M440.6 358.5l3.3 1.9M440.6 337.9l1.5 0.2M441.1 339.3l-0.5-1.4M440.7 445.6l2.3-0.3M441 434l0.5 0l0.5 3.9M441 434l1.9-2.3M441.1 341.7l0.7-0.1l-0.7-2.3M441.6 342.7l-0.5-1M441.2 343.7l1.9 3.5M441.6 342.7l-0.4 1M441.2 380.3l0.6 0.7M441.2 380.3l1-4.6M445.4 341.5l-3.8 1.2M442.8 375.2l-1-6.8M445.5 368.2l-3.7 0.2M441.8 381l5.8 0.1M442.1 386.4l-0.3-5.4M443 397.5l-1.2-5.3M441.8 392.2l0.4-0.4M442 458.7l8.2 3.5l-5-7.4l-2-0.4M442 458.7l0.6-3.9M443 403.9l-1-5.5M442 398.4l1-0.9M442 437.9l0.2 0.9M442 437.9l7.3-1M442.1 338.1l2.5 0.2M443.8 334.9l-1.7 3.2M442.1 386.4l0.4 0.3M442.2 438.8l0.8 6.5M442.2 391.8l6.1 0.5M442.2 391.8l0.3-5.1M442.2 375.7l0.6-0.5M443.1 425.9l-0.6-5.2M442.5 420.7l0.7-0.6M442.5 386.7l5.2-0.5M443.8 334.9l-1.3-1.4M442.5 333.5l1.8-1.2l1.7-1.1M443.2 454.4l-0.6 0.4M442.6 414.5l1 1M442.6 414.5l0.3-5.5M442.9 431.7l-0.3-5.2M442.6 426.5l0.5-0.6M442.8 375.2l4.2 0.4M443.1 408.8l-0.2-4.7M442.9 404.1l0.1-0.2M442.9 409l0.2-0.2M442.9 431.7l6-0.1M443 397.5l4.8-0.1M443 403.9l4.8-1.1M443 445.3l0.5 3.7M443.1 408.8l4.9 0.8M443.1 347.2l2.8 0.8M443.1 425.9l5.4-0.3M443.4 354.2l-0.2-1M445.9 348l-2.7 5.2M443.2 420.1l5.5 0.5M443.2 420.1l0.4-4.6M443.3 312.4l0.5 0.4M443.3 312.4l0.2-5.7M443.4 354.2l4.4 1.6M449.5 307l-5.6-0.8l-0.4 0.5M443.5 449l0.5-0.5l0-3.7l6.5-1.2M443.6 415.5l5.1-0.9M443.6 364.4l1.9 2M443.9 360.4l-0.3 4M443.6 317.3l1.2 1.5M443.6 317.3l0.2-4.5M446.2 335.1l-2.4-0.2M443.8 312.8l5.2-0.5M446.2 359.6l-2.3 0.8M444.1 323l0.7 0.7M444.1 323l0.7-4.2M444.6 338.3l1.8 0.2M444.6 338.3l0.8 3.2M444.6 329.5l1.4 1.7M444.6 329.5l0.2-5.8M444.8 323.7l5 0.2M444.8 318.8l4.8-0.7M447.5 342.7l-2.1-1.2M445.5 366.4l0 1.8M448.4 368.1l-2.9 0.1M445.5 366.4l4.1-3.1M445.9 348l0.2 0M446 331.2l1.3-0.9M446.1 348l2.2 1.2M447.5 342.7l-1.4 5.3M449.6 363l-3.4-3.4M447.8 355.8l-1.6 3.8M446.2 335.1l0.5 0.6M448.1 331.5l-1.9 3.6M446.4 338.5l0.8 0.1l2.7 0.3M446.4 338.5l0.3-2.8M446.7 335.7l3.7 1M447 375.6l0.7 0.6M447 375.6l1.4-7.5M447.3 330.3l0.8 1.2M447.3 330.3l1.7-1.1l1.5-2M449.3 341.9l-1.8 0.8M447.9 386l-0.3-4.9M447.6 381.1l0.8-1.3M448.3 392.3l-0.6-6.1M447.7 386.2l0.2-0.2M448.4 379.8l-0.7-3.6M447.7 376.2l5.5-2M447.8 402.8l1.4 1.1M447.8 402.8l0-5.4M447.8 397.4l0.5-0.4M449.2 355.2l-1.4 0.6M447.9 386l5.5 0M447.9 299.9l3.4 5.3M451.7 295.6l-4.5-3.3l-1.6 0.4l-1.1 3.3l1.4 3.3l2 0.6M451.7 297.6l-3.8 2.3M449 414.2l-1-4.6M448 409.6l0.8-0.9M448.1 331.5l4.1 0.2M448.3 349.2l0.9 6M448.3 349.2l4.2-1.1M448.3 397l5.1 1.1M448.3 397l0.2-4.5M448.3 392.3l0.2 0.2M452 367.8l-3.6 0.3M448.4 379.8l6.1 0.8M448.5 425.6l0.5 0.6M448.5 425.6l0.4-4.8M448.5 392.5l5.3-1M448.7 420.6l0-6M448.7 414.6l0.3-0.4M448.7 420.6l0.2 0.2M448.8 408.7l7.9 0.2M448.8 408.7l0.4-4.8M449.5 436.5l-0.6-4.9M448.9 431.6l0.8-1M448.9 420.8l7.7-0.6M449.7 430.6l-0.7-4.4M449 426.2l8-1.8M449 414.2l7.6 0.5M449.6 318.1l-0.6-5.8M449 312.3l0.3-0.2M449.2 355.2l0.8 0.2M449.2 403.9l5-1M450.5 443.6l-1.2-6.7M449.3 436.9l0.2-0.4M449.3 312.1l6.7 0.8M449.3 312.1l0.2-5.1M449.3 272.1l-0.8 2.4l1.1 2.3l3.3 0.7M452.1 267.8l-3.5-1.9l-1.7 2.3l2.4 3.9M449.3 272.1l3-1.7M452.4 343.5l-3.1-1.6M449.9 338.9l-0.6 3M451.3 305.2l-1.8 1.8M449.5 436.5l5.8-0.3M449.6 363.3l0-0.3M449.6 363l3-4.5M449.8 323.9l-0.2-5.8M449.6 318.1M452.3 365.3l-2.7-2M449.6 318.1l5.5 0M449.7 430.6l7.8 0.3M449.8 323.9l1.9 1.7M449.9 338.9l0.5 0M452.6 358.5l-2.6-3.1M450 355.4l4.6-3.6M450.4 338.9l5.6 0.6M450.4 336.7l0 2.2M452.4 335.3l-2 1.4M452.8 329.7l-2.3-2.5M450.5 327.2l1.2-1.6M450.5 443.6l5-1M457.2 304.7l-5.9 0.5M451.7 295.6l0 2M457.7 296.6l-3.7-3.4l-2.3 2.4M451.7 325.6l1.1-1.4M451.7 297.6l6.1 3M452 367.8l0.3-2.5M452.8 367.8l-0.8 0M452.3 270.4l-0.2-2.6M456.7 263.8l-4.6 4M452.2 331.7l0.4 0.8M452.2 331.7l0.6-2M455.8 271.9l-3.5-1.5M452.3 365.3l1.9-0.6M452.5 348.1l-0.1-4.6M452.4 343.5l2.7-1.2M455.8 338l-3.4-2.7M452.4 335.3l0.2-2.8M454 349.1l-1.5-1M452.6 358.5l1.1 0.1M452.6 332.5l5.8 0.3M454.9 328l-2.1 1.7M453.2 374.2l-0.4-6.4M457.7 367.5l-4.9 0.3M452.8 324.2l2.3-6M452.8 324.2l1.7-0.4M452.9 277.5l4.3 4.4M455.8 271.9l-2.9 5.6M453.2 374.2l0.7 0.7M454.2 391.1l-0.8-5.1M453.4 386l3-3.4M454.2 402.9l-0.8-4.8M453.4 398.1l1.2-1.2M453.7 358.6l2 2.3M457.4 355l-3.7 3.6M454.6 396.9l-0.8-5.4M453.8 391.5l0.4-0.4M454.5 380.6l-0.6-5.7M453.9 374.9l3.7-0.3M454 349.1l0.6 2.7M459.1 346.3l-5.1 2.8M454.2 391.1l3 0.1M454.2 402.9l2.6 1.9M454.2 364.7l3.4 1.8M455.7 360.9l-1.5 3.8M454.5 323.8l0.4 4.2M454.5 323.8l2.6-0.6M454.5 380.6l1.9 2M454.6 396.9l2.5-0.1M454.6 351.8l2.5 1.7M454.9 328l2.2 0.6M455.1 318.2l0-0.1M455.1 318.2l5.4-1.9M455.1 318.1l0.1-0.1l0.8-5.1M455.1 342.3l3.9 3.6M455.1 342.3l0.9-2.8M455.5 442.6l-0.2-6.4M455.3 436.2l2.4-3M455.5 442.6l2.3-0.4l0.7-0.1M455.7 360.9l2.9 0.2M456.9 271.6l-1.1 0.3M456.1 339.5l-0.3-1.5M458.8 334.2l-3 3.8M456 312.9l0-0.6M456 339.5l0.1 0M456 312.3l4.1 0.1M456 312.3l0.4-2.1l0.4-3.1M456.1 339.5l5 0.6M456.4 382.6l1 0M456.6 414.9l-0.1 3.6l0.1 1.7M456.6 414.7l0 0.2M456.6 414.9l9.4-0.5M456.7 408.9l-0.1 5.5l0 0.3M456.6 262.4l2.3 1.6M456.6 262.4l0.1 1.4M463.1 258.5l-1.8-1.7l-3.5 0l-1.4-2.5l0.2 8.1M456.6 420.2l0.1 0.5M456.9 271.4l-0.2-7.6M456.7 420.7l0.3 3.7M456.7 420.7l9.8-0.6M456.8 407.3l-0.1 1.6M456.8 407.3l9 0.5M456.8 404.8l0 2.5M456.8 307.1l3.5 0.3M456.8 307.1l0.3-1.8l0.1-0.6M456.9 401.3l-0.1 3.5M456.9 271.6l0-0.2M456.9 271.4l3.1-2.7M456.9 272.1l0-0.5M456.9 272.1l3 2.1l3.5-0.3l0.4-0.5l0.2-2.6M457.1 278.3l-0.2-6.2M457.1 396.8l-0.2 4.5M456.9 401.3l9.5-0.3M457 424.4l0.1 0.9l0.1 1M457.1 396.3l0 0.5M457.2 391.2l-0.1 5.1M457.1 396.3l6.8-1M457.1 328.6l1.3 4.2M459.3 327.1l-2.2 1.5M457.4 355l-0.3-1.5M457.1 353.5l2.9-2.2M459.6 325.1l-2.5-1.9M457.1 323.2l0.7-0.2l2.2-3M457.2 281.9l-0.1-3.6M457.2 281.9l0.1 1.8l2.5-1l1.4-3.9l-1.8-1.5l-2.3 1M457.2 426.3l0.3 4.6M457.2 426.3l9.2-0.5M457.2 304.7l0.6-4.1M457.2 389.2l0 2M457.4 382.7l-0.1 4.2l-0.1 2.3M457.2 389.2l7 0M459.5 356.7l-2.1-1.7M457.4 382.7l7.5 0.4M457.4 382.6l0 0.1M457.5 377.8l-0.1 4.8M457.6 374.6l0 0.2l-0.1 3M457.5 377.8l7.1-0.9M457.5 430.9l0.1 1.1l0.1 0.4M457.6 366.5l0.1 1M457.6 366.5l1.5-1.6M457.6 294.5l0.1 2.1M461.6 288.5l-4.2-1.3l0.2 7.3M461.6 293l-4 1.5M457.8 367.5l-0.2 7.1M457.7 432.4l10.8 1M457.7 432.4l0 0.2l0 0.6M457.7 298.6l0-0.2l0-1.8M457.8 367.5l-0.1 0M457.8 300.6l0-0.1l-0.1-1.9M464.5 298.1l-6.8 0.5M457.7 433.2l0.8 8.9M457.8 300.6M457.8 300.6l3.3 3.1M460.1 367.4l-2.3 0.1M458.4 332.8l0 0.1M458.8 334.2l-0.4-1.3M458.4 332.9l3.1-2.1M458.5 442.1l6.7-1.1l1.3-3.8l1 1.6M458.8 361.2l-0.2-0.1M458.6 361.1l0.9-4.4M458.8 361.2l4.4 0.1M459.1 364.9l-0.3-3.7M460.6 335.4l-1.8-1.2M460 268.7l-1.1-4.7M458.9 264l4.8-0.3M459 345.9l0.1 0.4M459 345.9l3.4-5.7M463.5 365.4l-4.4-0.5M459.6 346.7l-0.5-0.4M461.6 328.8l-2.3-1.7M459.3 327.1l0.3-2M459.5 356.7l2.6-0.2M462.4 323.8l-2.8 1.3M459.6 346.7l3.3 0.4l3.6-2.4M460 351.3l-0.4-4.6M460 320l2.2 0.8M460 320l1.5-2l1.6 0.8M462.1 356.5l0-4.4l-2.1-0.8M460 268.7l2.2 0.3M460.1 367.4l4.3 3.3M464.1 367.1l-0.8 0.1l-3.2 0.2M460.1 312.4l0.3 0.3M460.1 312.4l0.2-5M460.3 307.4M460.3 307.4l0.8-3.7M460.3 307.4l5 0.8M460.5 316.3l-0.1-3.6M460.4 312.7l5.3-0.6M460.5 316.3l2.6 2.5M460.6 335.4l0.8 4.1M463.7 334.6l-3.1 0.8M461.1 303.7l3.3-0.9M461.1 340.1l1.3 0.1M461.1 340.1l0.3-0.6M461.4 339.5l3.9-1.9M464.6 332.5l-3.1-1.7M461.5 330.8l0.1-2M461.6 288.5l0 4.5M465.1 288.4l-0.8-0.8l-2.7 0.9M464.5 294.1l-2.9-1.1M461.6 328.8l3.6-2.1M462.3 356.6l-0.2-0.1M464 270.8l-1.8-1.8M462.2 269l2.5-4.6M462.2 320.8l0.2 3M462.2 320.8l2-1.5M462.3 356.6l1.4 3.4M468.5 358.4l-0.7-1.8l-2.3-1.2l-3.2 1.2M462.4 340.2l1.5 0.2M462.4 323.8l3.1 2.1M463.1 318.8l0.3 0.2M467.7 264.7l0.1-0.2l0.2-5.2l-4.9-0.8M463.7 263.7l-0.6-5.2M463.2 361.3l0.8 2.1M463.7 360l-0.5 1.3M463.4 319l0.8 0.3M463.4 319l2.3-2.6M463.5 365.4l0.6 1.7M464 363.4l-0.5 2M463.7 360l4.8-1.6M465.3 337.6l-1.6-3M464.6 332.5l-0.9 2.1M463.7 263.7l1 0.7M466.2 396.7l-2.3-1.4M463.9 395.3l0.3-6.1M463.9 340.4l1.3 0.1l1.1-0.2M463.9 340.4l2.7 3.9M469.5 362.6l-5.5 0.8M464 270.8l3.5-1.7M470.4 366.7l-6.3 0.4M464.2 389.2l0.7-0.4M464.2 319.3l1.6 0.9M464.6 376.9l-0.2-6.2M464.4 370.7l5.8-0.4M465.9 307.4l-1.5-4.6M464.4 302.8l0.3-0.3M464.5 294.1l0.4 3.6M465.4 293.1l-0.9 1M464.7 302.5l-0.2-4.4M464.9 297.7l-0.4 0.4M464.6 376.9l0.8 0.6M466.2 331.8l-1.6 0.7M464.7 302.5l5.5 0.3M464.7 264.4l3 0.3M464.9 388.8l0-5.7M464.9 383.1l0.7-0.7M464.9 297.7l4.4 0.3M464.9 388.8l5.1 1.2M469.6 292.6l0.1-3.9l-4.6-0.3M465.1 288.4l0.3 4.7M465.2 326.7l1 5.1M465.5 325.9l-0.3 0.8M465.8 311.9l-0.5-3.7M465.3 308.2l0.6-0.8M465.3 337.6l0.5 0.1M465.6 382.4l-0.2-4.9M465.4 377.5l5.8-1.1M465.4 293.1l4.2-0.5M466.7 325.3l-1.2 0.6M465.6 382.4l6.3 1M465.7 316.4l4.3 0.6M465.7 316.4l0-4.3M465.7 312.1l0.1-0.2M466.4 414l-0.6-6.2M465.8 407.8l0.9-0.9M465.8 337.7l0.5 2.6M465.8 337.7l2.3-1M465.8 320.2l0.7 0.3l3.2-3.2M467.5 323.1l-1.7-2.9M465.8 311.9l4.7 0.2M465.9 307.4l4.1-1.2M466.5 420.1l-0.5-5.7M466 414.4l0.4-0.4M466.2 331.8l2.2 0.5M466.4 401l-0.2-4.3M470.5 393.6l-4.3 3.1M466.3 340.3l2.9-0.4l2.4-0.3M466.4 401l0.1 0.2M466.4 414l5.9-0.1M466.4 425.8l2.7 3.3M466.4 425.8l0.7-5.1M466.7 406.9l-0.2-5.7M466.5 401.2l6.3-0.5M466.5 344.7l1.8 2.9M466.6 344.3l-0.1 0.4M466.5 420.1l0.6 0.6M466.6 344.3l5.3-2.6M466.7 406.9l6.6 0.5M470.1 327.2l-3.4-1.9M466.7 325.3l0.8-2.2M467.1 420.7l6.5-0.6M467.5 269.1l2 4.3M468.2 267.6l-0.7 1.5M467.5 438.8l2 3.4l3.2-1.1M467.7 437.5l-0.2 1.3M469.8 321.9l-2.3 1.2M468.2 267.6l-0.5-2.9M471.6 437.9l-3.9-0.4M468.5 433.4l-0.8 4.1M468.1 336.7l3.5 2M468.4 332.3l-0.3 4.4M472.2 269.1l-4-1.5M472.7 348.9l-4.4-1.3M468.3 347.6l-2.6 3.5l3.7 2l1.9-0.8M468.4 332.3l2.1-0.9M469.3 359l-0.8-0.6M468.9 431.5l-0.4 1.9M471.6 437.9l0.6-4l-3.3-2.4M468.9 431.5l0.1-0.5l0.2 0l-0.1-1.9M469.1 429.1l6.2-5.5M469.3 359l0.2 3.6M472.2 357.9l-2.9 1.1M470.5 302.4l-1.2-4.4M469.3 298l0.5-0.6l0.3-4.2l-0.5-0.6M470.7 364.5l-1.2-1.9M469.5 273.4l-0.4 1l0.7 3.2l3 0.3M472.2 271.9l-2.7 1.5M469.7 317.3l0.8 1.5M469.7 317.3l0.3-0.3M473.3 323.8l-3.5-1.9M469.8 321.9l0.7-3.1M470 317l1-1M470 306.2l0.4 0.6M470 306.2l0.2-3.4M470 390l0.5 3.6M470 390l2.1-2.3M471 329.6l-0.9-2.4M470.1 327.2l3.2-3.4M470.2 302.8l0.3-0.4M471.2 376.4l-1-6.1M470.2 370.3l3.1-3.8M470.4 366.7l0.3-2.2M473.3 366.5l-2.9 0.2M470.4 306.8l4.8 0.3M470.7 311.9l-0.3-5.1M471 316l-0.5-3.9M470.5 312.1l0.2-0.2M470.5 331.4l2.7 2.4M470.5 331.4l0.5-1.8M470.5 393.6l2.3 1.8M474.5 301.9l-4 0.5M470.5 318.8l3.3 0.7M470.7 364.5l3.6-1.6M470.7 311.9l4.2-0.6M471 316l0.5-0.5l1.6-0.5M475.8 328.1l-4.8 1.5M471.2 376.4l0.6 0.4M471.3 352.3l1.9 3M471.3 352.3l1.4-3.4M471.6 338.7l0.1 0.9M471.6 338.7l1.9-3.5M472.4 438.7l-0.8-0.8M471.6 339.6l0.3 2.1M471.6 339.6l0.1 0M471.7 339.6l5.6-0.8M472.8 382.1l-1-5.3M471.8 376.8l5.9-2M472.1 387.7l-0.2-4.3M471.9 383.4l0.9-1.3M471.9 341.7l1.6 1.5M472.1 387.7l6.1 1.4M475 359.8l-2.8-1.9M473.2 355.3l-1 2.6M472.2 269.1l0 2.8M477.3 272.5l0-4.2l-3.4-0.5l-1.7 1.3M472.2 271.9l2.3 1.2M473.6 420.1l-1.3-6.2M472.3 413.9l1.1-1.3M472.4 438.7l0.3 2.4M476.6 437l-4.2 1.7M472.7 348.9l0.2-0.2M472.7 441.1l3.8-1.3l3-0.4M472.8 400.7l0.3 0.4M472.8 400.7l0-5.3M472.8 277.9l0.3 0.2l4.6-0.1l1.4-2M474.5 273.1l-1.7 4.8M472.8 395.4l5.3-1M472.8 382.1l5.9-0.3M476 349.5l-3.1-0.8M472.9 348.7l0.6-5.5M473.4 407.4l-0.3-6.3M473.1 401.1l6.4-0.6M475.5 317.1l-2.4-2.1M473.1 315l4.2-1.4M473.2 355.3l4.3-0.7M473.5 335.2l-0.3-1.4M473.2 333.8l3.1-2.2M476.5 366.3l-3.2 0.2M474.5 323.6l-1.2 0.2M473.4 412.6l-0.1-5.2M473.3 407.4l0.1 0M473.4 412.6l6.4 1.4M473.4 407.4l6.2-0.7M473.5 343.2l3.8-0.6M477.4 336.4l-3.9-1.2M473.6 420.1l1.1 0.9M473.8 319.5l1.2 3.5M473.8 319.5l1.7-2.4M476.9 364.5l-2.6-1.6M474.3 362.9l0.7-3.1M475.2 307.1l-0.7-5.2M479.4 302.7l-4.5-1.1l-0.4 0.3M477.3 272.5l-2.8 0.6M474.5 323.6l1.3 4.5M475 323l-0.5 0.6M475.3 423.6l-0.6-2.6M474.7 421l4.4-3.1M474.9 311.3l2.4 2.3M474.9 311.3l0.6-3.9M475 359.8l2.6-0.9M477.5 322.4l-2.5 0.6M475.2 307.1l0.3 0.3M475.3 423.6l0.5 0.3M477.7 316.9l-2.2 0.2M475.5 307.4l3.8-0.7M475.8 423.9l3 6.3l1.8-0.1M482.9 423.5l-7.1 0.4M475.9 328.2l-0.1-0.1M476.3 331.6l-0.4-3.4M475.9 328.2l3.6-0.6M476 349.5l1.5 5.1M479.7 347.6l-3.7 1.9M476.3 331.6l1.9 0.9M477.7 374.8l-1.2-8.5M476.9 366.3l-0.4 0M479.3 439l-2.7-2M482.3 434l-5.3-2.6l-0.7 0.9l0.3 4.7M476.9 364.5l0 1.8M483.2 365.9l-3.9 0.3l-2.4 0.1M479.4 362.7l-2.5 1.8M477.3 338.8l0.1-2.4M477.3 338.8l1.2-0.2M479.7 346.8l-2.4-4.2M477.3 342.6l1.4-2.2M477.3 313.6l0.3-0.1l0.8-0.3M479 274.1l-1.7-1.6M478.5 335.7l-1.1 0.7M477.5 322.4l3.2 2.3M479.1 318.4l-1.6 4M477.5 354.6M477.5 354.6l0.1 4.3M477.5 354.6l4-0.6M477.6 358.9l1.5 1.1M477.7 316.9l1.4 1.5M478.4 313.2l-0.7 3.7M477.7 374.8l1 0.7M478.1 394.4l1.5 1.3M478.1 394.4l0.1-5.3M478.2 332.5l0.3 3.2M481.1 330.5l-2.9 2M478.2 389.1l1.2-1M478.2 226.2l0 0.7l0.8 0.8l6.1 0.5M479 217.7l-0.3-0.1l-4.3 1.3l-0.3 0.3l0.1 2.5l4 4.5M480.8 222.6l-2.6 3.6M478.4 313.2l0.6-0.2l1.1-1.1M478.5 338.6l0.2 1.8M478.5 338.6l1.5-0.2l3.2-0.4M478.5 335.7l3.6 0.5M478.7 340.4l4.7 1.4M478.7 381.8l0-6.3M478.7 375.5l5.8-0.6M478.7 381.8l0.4 0.3M479 217.7l1.8 4.9M483.1 215.9l-4.1 1.8M479.1 276l-0.1-1.9M486.4 276l-0.3-2.1l-3.8-1.6l-3.3 1.8M479.4 388.1l-0.3-6M479.1 382.1l5.6-0.7M479.1 318.4l1 0M479.1 360l0.3 2.7M484 357.7l-4.9 2.3M479.1 417.9l4.5 2.9M479.1 417.9l0.7-3.9M479.1 276l3.7 1.5M479.3 306.7l0.2 0.1M479.3 306.7l0.1-4M479.5 439.4l-0.2-0.4M482.3 434l-3 5M483.9 301.6l-3.3 0l-1.2 1.1M479.4 388.1l4.9 0.4M479.4 362.7l3.4 1.9M479.5 439.4l6-0.9M480.5 311.5l-1-4.7M479.5 306.8l5.3-0.4M479.5 400.5l0.4 0.4M479.5 400.5l0.1-4.8M479.5 327.6l1.6 2.9M480.8 324.9l-1.3 2.7M480.8 413.1l-1.2-6.4M479.6 406.7l0.5-0.7M479.6 395.7l5.9-1.5M481.4 349.2l-1.7-1.6M479.7 346.8l0 0.8M484 343.1l-4.3 3.7M479.8 414l1-0.9M480.1 406l-0.2-5.1M479.9 400.9l6.9-0.5M480.7 324.7l2.4-3.1l0-0.3l-3-2.9M480.1 318.4l3.1-2.4M482.7 313.1l-2.6-1.2M480.1 311.9l0.4-0.4M480.1 406l6.4 0.5M480.5 311.5l4.1-4.1M483.4 424.8l-2.8 5.3M480.6 430.1l3.7-0.3M480.8 324.9l-0.1-0.2M480.8 413.1l5.1 0.4M485.2 326.7l-4.4-1.8M480.8 222.6l3.9-0.4M481.1 330.5l1.1 0.5M481.5 354l-0.1-4.8M481.4 349.2l5.2-0.4M481.5 354l2 1.4M482.1 336.2l0.9 0.9M482.1 336.2l0.1-5.2M482.2 331l0.5-0.1M484.2 433.6l-1.9 0.4M483.2 316l-0.5-2.9M482.7 313.1l3.7-1.8M482.7 330.9l3.8 1.7M482.7 330.9l2.7-3.6M482.8 277.5l0 4.6l4.8-0.7l-0.1-4.3l-1.1-1.1M486.4 276l-3.6 1.5M482.8 364.6l0.4 1.3M482.8 364.6l2.8-5.2M483.4 424.8l-0.5-1.3M483.6 420.8l-0.7 2.7M483 337.1l0.2 0.9M486.8 333.6l-3.8 3.5M484.9 217l-1.8-1.1M483.3 211l-0.5 0.6l0.3 4.3M483.2 316l1.7 1l2.6-1.6M483.9 365.9l-0.7 0M483.2 338l1.4-0.2M486.9 205.6l-5.4-0.4l1.8 5.8M483.3 211l3.6-1.1M483.4 341.8l0.6 1.3M483.4 341.8l1.2-4M487.9 426.7l-4.5-1.9M483.5 355.4l0.5 2.3M486.8 352.5l-3.3 2.9M483.6 420.8l3.6-2.2M483.9 301.6l0.1 0M488.7 296.9l-4.5-0.8l-0.1 0.1l-0.2 5.4M484.7 374.6l-0.8-8.7M490.1 365.5l-6.2 0.4M485.6 359.4l-1.6-1.7M484 343.1l2.3 1.1M484.8 306.4l-0.8-4.8M484 301.6l4.7-0.7M484.2 433.6l1.4 0.9M484.3 429.8l-0.1 3.8M485.5 394.2l-1.2-5.7M484.3 388.5l1.8-1.8M487.6 429.5l-3.3 0.3M484.7 381.4l-0.2-6.5M484.5 374.9l0.2-0.3M484.6 337.8l2.2-0.2M486.4 311.3l-1.8-3.9M484.6 307.4l0.6-0.6M484.7 381.4l0.8 0.7M484.7 222.2l1 0.9M484.7 222.2l0.2-5.2M484.7 374.6l5.7 0.3M484.8 306.4l0.4 0.4M488.5 216.4l-3.6 0.6M485.1 228.2l0.4 0.5l4.9-0.2M485.1 228.2l0.6-5.1M485.4 327.3l-0.2-0.6M489.7 324.2l-2.4-0.3l-0.7 0.4l-1.4 2.4M485.2 306.8l1.3-1.3l1.1-0.4M485.4 327.3l3 1.9M485.5 394.2l0.4 0.3M486.1 386.7l-0.6-4.6M485.5 382.1l5.6-1.7M485.6 434.5l-0.1 4M485.5 438.5l3.5-0.5l2.4 1M489.8 433.9l-4.2 0.6M485.6 359.4l2 0.3M485.7 223.1l4.9-0.7M487.2 399.7l-1.3-5.2M485.9 394.5l6.4-2.1M487.3 418.3l-1.4-4.8M485.9 413.5l0.7-1M486.1 386.7l5.9 1.2M486.3 344.2l0.3 4.6M487.6 343.4l-1.3 0.8M487.4 311.6l-1-0.3M486.5 332.6l0.3 1M488.4 329.2l-1.9 3.4M486.6 412.5l-0.1-6M486.5 406.5l0.2-0.2M486.6 348.8l0.1 0.1M486.6 412.5l5.9-0.7M486.8 352.5l-0.1-3.6M486.7 348.9l4.6-0.2M486.7 406.3l0.1-5.9M486.7 406.3l6.5-0.1M491 354.9l-4.2-2.4M486.8 400.4l0.4-0.7M486.8 333.6l1.4 0.8M488.8 339.9l-2-2.3M486.8 337.6l2.1-0.3M486.9 209.9l0-4.3M491.2 204.5l-3.2-0.2l-1.1 1.3M486.9 209.9l0.9 0.5M487.2 418.6l2.5 6.6M487.2 418.6l0.1-0.3M487.2 399.7l6 0.2M492.4 418.1l-5.1 0.2M487.5 315.4l-0.1-3.8M487.4 311.6l1-0.3M487.5 315.4l2 1.6M491.3 344.4l-3.7-1M487.6 343.4l1.2-3.5M487.6 359.7l1.9 2M491 354.9l-3.4 4.8M490.5 308.4l-2.9-3.3M487.6 305.1l1.8-0.8M487.6 429.5l0.3-2.8M491.3 429.2l-3.7 0.3M487.8 210.4l1.4 4.3M487.8 210.4l5.2-1.6M489.7 425.2l-1.8 1.5M488.9 337.3l-0.7-2.9M488.2 334.4l3.9-1.9M490.7 328.8l-2.3 0.4M488.4 311.3l4.3 3M490.5 308.4l-2.1 2.9M492.2 220.9l-3.7-4.5M488.5 216.4l0.7-1.7M489.4 304.3l-0.7-3.4M488.7 300.9l0.3-0.5M489 300.4l-0.3-3.5M492.7 295.3l-3.3 0.7l-0.7 0.9M491.7 339.5l-2.9 0.4M488.9 337.3l0.7-0.1l2.4-0.3M489 300.4l4.1 0.2M489.2 214.7l4.4-1.6M489.4 304.3l3-1.2M490.1 365.5l-0.6-3.8M489.5 361.7l5-2.1M489.5 317l-1.2 2.6l2.4 1.6M489.5 317l1.6-0.3M491.3 326l-1.6-1.8M490.7 321.2l-1 3M489.7 425.2l3.5-0.1M491.9 436.1l-2.1-2.2M489.8 433.9l1.5-4.7M490 364.2l2.3 6.5M490 364.2l0.2 1.3l-0.1 0M493 363.7l-3 0.5M490.4 228.5l0.7 0.6M490.4 228.5l0.2-6.1M491.1 380.4l-0.7-5.5M490.4 374.9l2.5-2.2M492.7 307.9l-2.2 0.5M490.6 222.4l1.6-1.5M492.6 331.2l-1.9-2.4M491.3 326l-0.6 2.8M493.2 320.2l-2.5 1M491.5 354.8l-0.5 0.1M493.2 320.2l-2.1-3.5M491.1 316.7l1.6-2.4M491.1 380.4l0.6 0.4M491.1 229.1l0.5 4.3l4.5 0.9M491.1 229.1l5.1-1.5M491.2 204.5l1.8 4.3M493.4 201.9l-2.2 2.6M493.4 325.1l-2.1 0.9M494.3 429l-3 0.2M491.3 348.7l1 4M491.3 348.7l0.6-0.6M491.9 348.1l-0.6-3.7M494.2 341.8l-2.9 2.6M491.4 439l6.9 2.9M491.9 436.1l-0.5 2.9M495 357.4l-3.5-2.6M491.5 354.8l0.8-2.1M491.7 339.5l2.5 2.3M492 336.9l-0.3 2.6M492 387.9l-0.3-7.1M491.7 380.8l4-0.2M491.9 348.1l4-0.3M496.3 435.5l-4.4 0.6M492 387.9l0.1 0.1M492 336.9l1.4-0.1M492.3 392.4l-0.2-4.4M492.1 388l5.5-1.8M492.1 332.5l1.3 4.3M492.1 332.5l0.5-1.3M498.1 252.4l-5.9-1.2M492.2 251.2l-2.7 3.6l0 0.1l3.8-0.4M498 245.4l-5.4 1.7l-0.4 4.1M495.1 220.7l-2.9 0.2M492.3 370.7l0.6 2M492.3 370.7l0.4-0.2M492.3 392.4l0.3 0.3M492.3 352.7l4.3-1.3M494.2 420.7l-1.8-2.6M492.4 418.1l1.8-3.4M492.4 303.1l0.3 4.8M492.4 303.1l0.4-0.1l0.2-0.9M492.5 293.1l0.2 2.2M496.3 287.5l-4.4-0.8l0.6 6.4M492.5 293.1l3.7-1.3M494.2 414.7l-1.7-2.9M492.5 411.8l1.7-4.5M492.6 392.7l7.2 0.6M493.2 399.9l-0.6-7.2M492.6 331.2l3.1-0.5M492.7 370.5l4.3 2M492.7 370.5l2.4-3.8M493.1 300.6l-0.2-2.2l-0.2-3.1M492.7 314.3l0.2-0.1l2-3.6l-0.7-2M494.2 308.6l-1.5-0.7M492.9 372.7l1.3 3.7l0.3 0.7M493 208.8l0.9 0.6M493 302.1l0.2-0.8M495 301.8l-2 0.3M495.1 366.7l-2.1-3M496.4 363.2l-3.4 0.5M493.2 301.3l-0.1-0.7M494 320.5l-0.8-0.3M493.2 301.3l0.8-3.3l2.7 0M494.3 429l-1.1-3.9M493.2 425.1l0.5-0.5M493.2 406.2l1 1.1M493.2 406.2l0.3-6.1M493.2 399.9l0.3 0.2M493.3 254.5l1.7 7M493.3 254.5l4-0.4M493.4 336.8l2.8-0.4l0.4 0M496 202.3l-2.6-0.4M499 200.8l-3.4-5.5l-0.4-0.3l-2.7 4.8l0.9 2.1M497 327.1l-3.6-2M493.4 325.1l1.2-3.2M493.5 400.1l8-1.2M493.6 213.1l4.6 5.3M493.9 209.4l-0.3 3.7M493.7 424.6l6.8 0.4M493.7 424.6l0.5-3.9M493.9 209.4l3.1-1M494 320.5l0.6 1.4M500.6 320.2l-3.4-3l-3.2 3.3M494.2 407.3l4.4 0.4M494.2 414.7l4.8 0M494.2 308.6l3.2-2.2M499.8 419.4l-5.6 1.3M494.9 341.9l-0.7-0.1M496.4 428.8l-2.1 0.2M494.4 265.8l1.5 1.5M494.4 265.8l-4.4 0.9l0.5 4.7l4.7 0.3l0.7-4.4M495 261.5l-0.4 0.4l-0.2 3.9M494.5 359.6l1.9 3.6M494.5 359.6l0.5-2.2M495.7 380.6l-1.2-3.5M494.5 377.1l2.2-1.7l0.3-2.9M494.6 321.9l4.1 1.3M496.3 342.9l-1.4-1M494.9 341.9l2-5.6M495 301.8l2.5 1.9M496.7 298l-1.7 3.8M495 261.5l4.4 0M496.6 356.8l-1.6 0.6M496.4 227.3l-1.3-6.6M498.2 218.4l-3.1 2.3M495.1 366.7l1.8 0.1M495.7 330.7l1.7 2.7M495.7 330.7l1.7-2.2M497.6 386.2l-1.9-5.6M495.9 267.3l4.2-1.1M496.6 351.4l-0.7-3.6M495.9 347.8l1.3-1.5l-0.9-3.4M496 202.3l1 6.1M499 200.8l-3 1.5M496.1 234.3l0.9 4.3M496.1 234.3l1.1-1.4M497.2 232.9l-1-5.3M496.2 227.6l0.2-0.3M498 298l-1.8-6.2M496.2 291.8l0.3-0.3M496.3 342.9l4.5-1.9M496.5 291.5l-0.2-4M501.1 287.1l-4.5 0.2l-0.3 0.2M497.8 436.5l-1.5-1M496.3 435.5l0.1-6.7M499.3 362.7l-2.9 0.5M496.4 227.3l5.5 0M499.7 428.5l-3.3 0.3M496.5 291.5l5.3 0.7M498.2 352.8l-1.6-1.4M496.6 336.4l0.8-3M496.6 336.4l0.3-0.1M496.6 356.8l3.7 1.8M498.2 352.8l-1.6 4M496.7 298l1.3 0M496.9 336.3l2.4-0.3M499.2 370.8l-2.3-4M496.9 366.8l2.9-2.3M497 372.5l2.2-1.7M497 208.4l1.2 0.3M497.4 328.5l-0.4-1.4M498.7 323.2l-1.7 3.9M497 238.6l-0.5 0.7l1.5 6.1M502.8 238l-5.8 0.6M497.2 232.9l5.6-0.6M497.3 254.1l2 2M497.3 254.1l1-0.1M497.4 306.4l2.9 1.9M497.5 303.7l-0.1 2.7M497.4 333.4l3.9-0.1M497.4 328.5l3 0.4M500.7 302.3l-3.2 1.4M498.9 390l-0.5-1.6l-0.8-2.2M498.3 441.9l-0.5-5.4M502.2 434.6l-4.4 1.9M498 245.4l0.7 0.4M498 298l1.8 0M498.3 254l-0.2-1.6M499.1 250.8l-1 1.6M498.2 218.4l1.8 1.3M498.2 218.4M498.5 217.8l-0.3 0.6M498.5 217.8l-2-2.8l1.7-6.3M498.2 208.7l0.3-1.2l1.3-5.5l-0.8-1.2M500.1 352.4l-1.9 0.4M498.3 254l9-0.9M498.3 441.9l0.7 0.3l0.1 0.1M500 219.7l-1.5-1.9M498.6 407.7l2 3.7M498.6 407.7l3.8-5.6M499.9 322.6l-1.2 0.6M499.1 250.8l-0.4-5M498.7 245.8l4.4-0.8M498.9 390l0.1 0.5l0.8 2.8M503.1 392.3l-1.8-3l-2.4 0.7M499 414.7l1.2 3.2M500.6 411.4l-1.6 3.3M508.4 252.4l-9.3-1.6M499.1 442.3l4.9 4.9l2.9-0.9l-0.1-6.2M499.1 442.3l7.7-2.2M499.2 370.8l1 0.2M499.3 256.1l5 0.2M499.4 261.5l-0.1-5.4M499.3 362.7l1-4.1M499.4 362.7l-0.1 0M499.3 336l1.5 5M499.3 336l0.4 0l2.5-0.3M499.8 364.5l-0.4-1.8M504.3 361.9l-4.9 0.8M499.4 261.5l0.4 0.3M499.7 428.5l2.5 6.1M500.1 428.5l-0.4 0M501.5 423.9l-1.7-4.5M500.2 417.9l-0.4 1.5M499.8 364.5l1.8 0.9M499.8 298l0.4 0l0.4 0.2M500.7 302.3l-0.9-4.3M500.7 265.5l-0.9-3.7M499.8 261.8l4.5-1.8M499.8 393.3l0.4 1.4M502.8 326l-2.9-3.4M499.9 322.6l0.8-2.1M500.3 219.9l-0.1 0.1l-0.2-0.3M500.1 428.5l0.4-3.5M505.2 428.5l-5 0l-0.1 0M503 355.6l-2.9-3.2M506.7 353.9l-2.5-4l-2.4-0.3l-1.7 2.8M500.1 266.2l0.9 5.1l4.2 0.2l0.4-0.4M500.1 266.2l0.6-0.7M500.2 417.9l3.8-0.4M500.2 371l2.3 3.6l3.6-2.2M500.2 371l2.3-2.2M500.2 394.7l1.3 4.2M502.9 393.4l-2.7 1.3M500.3 358.6l2-0.8M500.3 219.9l1.8 1.4M508.7 218.6l-4.7-4.1l-3.7 5.4M500.3 308.3l-1.1 4l0.4 1l3 0.6M500.3 308.3l2.4-0.8M501.9 331.5l-1.5-2.6M500.4 328.9l2.4-2.9M500.5 425l1-1.1M500.6 411.4l3.1 0M500.7 320.5l-0.1-0.3M503.5 316.4l-2.9 3.8M500.6 298.2l4.3 2.1M500.6 298.2l0.5-0.6M500.7 265.5l4.3 0.4M505.2 321.4l-4.5-0.9M502.3 302.9l-1.6-0.6M500.8 341l0.9 0.4l3.9-1.9M501.1 297.6l0.7-5.4M501.1 297.6l6.3-1.5M502.5 291.5l-1.4-4.4M506.2 285.8l-4.8 0.9l-0.3 0.4M501.3 333.3l0.9 2.4M501.3 333.3l0.6-1.8M501.5 423.9l3.2 0.1M501.5 398.9l0.4 1.5M502.5 368.8l-0.9-3.4M501.6 365.4l3.2-1.4M501.8 292.2l0.7-0.7M501.9 400.4l0.5 1.7M505.4 399.3l-3.5 1.1M501.9 227.3l0.2 0.2M501.9 227.3l0.2-6M504.7 331l-2.8 0.5M502.1 221.3l4.2-0.3M502.8 232.3l-0.7-4.8M502.1 227.5l6.2-1.1M502.2 434.6l2.5 0.6M502.2 335.7l2.3-0.3M502.3 302.9l1.2 2.4M504.9 300.3l-2.6 2.6M502.3 357.8l3.7 3.5M502.3 357.8l0.7-2.2M502.4 402.1l0.5 1.7l0.3 1.1M502.5 368.8l2.3 0.4M502.5 291.5l3.7 0M502.6 313.9l0.9 2.5M505 311.7l-2.4 2.2M502.7 307.5l2.5 3.3M502.7 307.5l0.8-2.2M502.8 232.3l0 5.7M502.8 232.3M503.1 238.2l-0.3-0.2M502.8 326l1.3-0.1M502.8 232.3l5.1-0.1M502.9 393.4l3.2 3.4M503.1 392.3l-0.2 1.1M506.7 353.9l-3.7 1.7M503.1 245l0-6.8M508.5 238.2l-5.4 0M509.1 391.5l-2.5-1.1l-3.5 1.9M503.1 245l2.5 1.2M503.2 404.9l3.3 0.5M503.2 404.9l0.2 0.7l0.2 3.8M503.5 316.4l3.3 1.4M503.5 305.3l5.1-0.3M503.6 409.4l0.1 2M505.4 409.1l-1.8 0.3M503.7 411.4l0.1 2.3M503.8 413.7l0.2 3.8M506.2 413.5l-2.4 0.2M504 417.5l0 1M504.6 423.3l-0.6-4.8M504 418.5l1.6-0.1l1.9-1.1M504.1 325.9l1.6 2.3M505.9 323.8l-1.8 2.1M504.3 260l0-3.7M504.3 256.3l3-3.2M504.3 361.9l0.5 2.1M505.9 361.7l-1.6 0.2M505.9 265.1l-0.5-4.2l-1.1-0.9M505.6 339.5l-1.1-4.1M504.5 335.4l2-0.2M504.6 423.3l0.1 0.7M507.8 423l-0.9-0.3l-2.3 0.6M504.7 424l0.3 2.4l0.1 1.5M506.8 440.1l0.1-0.1l-2.2-4.8M504.7 435.2l1.8-3M504.7 331l2.3 1.9M505.7 328.2l-1 2.8M504.8 369.2l1.3 3.2M507.8 366.2l-3 3M504.8 364l2.6 1M504.9 300.3l0.3 0.2l2.6 0.4M505.6 271.1l-0.6-5.2M505 265.9l0.9-0.8M508.6 314.7l-3.6-3M505 311.7l0.2-0.9M505.1 427.9l0.1 0.6M507.8 427.7l-2.7 0.2M505.2 321.4l0.7 2.4M507 318.6l-1.8 2.8M505.2 428.5l1.3 3.7M505.2 310.8l3.3-1.9M507.7 402.1l-2.3-2.8M505.4 399.3l0.7-2.5M507.1 411.9l-1.7-2.8M506.9 406.6l-1.5 2.5M505.6 271.1l4.3-0.3l0.7-0.9M505.6 339.5l1.8 1l3.3-2.3M508.4 252.4l-3.2-3.2l0.4-3M505.6 246.2l0.9-5.7l2.6-1.9M509.5 328.3l-3.8-0.1M505.9 323.8l2.5 0.3M505.9 361.7l0.1-0.4M509.7 361.3l-3.8 0.4M509.9 265.2l-4-0.1M506 361.3l0.7-2.1l3.2-2.2l-2.7-3l-0.5-0.1M506.1 396.8l1.4-0.7M506.1 372.4l2.7 0.7M506.2 285.8l0.8 0.8M511.5 285.2l-0.9-4.2l-4.3 0l-0.7 0.7l0.6 4.1M507.6 295.8l-1.4-4.3M506.2 291.5l0.6-0.8M507.6 417l-1.4-3.5M506.2 413.5l0.9-1.6M508.3 226.4l-2-5.4M506.3 221l2.4-2.4M506.5 335.2l0.5-2.3M506.5 335.2l0.4-0.1l3.2-0.4M506.5 432.2l2.8-0.1M506.5 405.4l0.4 1.2M506.5 405.4l1.2-3.3M506.8 290.7l5.7 0.1M506.8 290.7l0.2-4.1M506.8 317.8l0.2 0.8M508.7 315.1l-1.9 2.7M506.9 406.6l3.1 1M507 318.6l3.4 1.9M507 332.9l2.7-1.4M507 286.6l4.1-0.9M507.1 411.9l3.6-0.4M507.3 253.1l1.6-0.2l-0.5-0.5M507.4 365l0.4 1.2M509.7 361.3l-2.3 3.7M508.3 301l-0.9-4.9M507.4 296.1l0.2-0.3M507.5 396.1l3.8 0.9M507.5 396.1l1.6-4.6M507.5 417.3l3.4 3.2M507.5 417.3l0.1-0.3M507.6 417l4-2.5M507.6 295.8l4.2-0.7M511.6 401.8l-3.9 0.3M507.8 423l0 4.7M509.9 422.1l-2.1 0.9M507.9 427.8l-0.1-0.1M507.8 366.2l2.8 2M507.8 300.9l0.5 0.1M508.7 304.8l-0.9-3.9M507.9 232.2l0.6 6M507.9 232.2l0.1-0.1M507.9 427.8l1.4 4.3M512.1 426.6l-4.2 1.2M508 232.1l3.9 0.5M508 232.1l0.8-5.3M508.3 226.4l0.5 0.4M508.3 301l2.5 0.3l1.5 0.2M510.2 327.3l-1.8-3.2M508.4 324.1l2.2-2.9M508.5 238.2l0.6 0.4M508.5 308.9l2.8 2.1M508.5 308.9l0.1-3.9M508.6 314.7l0.1 0.4M511.3 311l-2.7 3.7M508.6 305l0.1-0.2M511.8 226.3l-1.6-6.3l-1.5-1.4M508.7 315.1l3.9 1.6M508.7 304.8l2.1-0.1M508.8 373.1l0.3 0.6l2.8 0.9l3.5-2.2M510.6 368.2l-1.8 4.9M508.8 226.8l3-0.5M509.1 238.6l1.1-0.8l1.7-5.2M509.1 391.5M513.4 394l-4.3-2.5M514.2 388.9l-3.7 0.4l-1.4 2.2M509.3 432.1l2.6-0.1M509.5 328.3l0.2 3.2M510.2 327.3l-0.7 1M511.6 361.1l-1.9 0.2M509.7 331.5l1.3 0.8M509.9 422.1l2.2 4.5M510.9 420.5l-1 1.6M510.6 269.9l-0.7-4.7M510.6 269.9l5.3-0.4l0.1 0l-0.4-4l-5.3-0.6l-0.4 0.3M510.7 411.5l-0.7-3.9M510 407.6l2.1-1.5M510.7 338.2l-0.6-3.5M510.1 334.7l1.6-0.2M511.3 327l-1.1 0.3M510.4 320.5l0.2 0.7M512.8 317.1l-2.4 3.4M510.6 368.2l2.3-0.4M510.6 321.2l2.5 1.4M510.7 338.2l3.4 1.2l2.3-5.3M512.1 412.5l-1.4-1M510.8 304.7l3.7 3.2M513.6 301.7l-2.8 3M510.9 420.5l2.4-0.6M511.7 334.5l-0.7-2.2M511 332.3l3.1-1.2M512.5 290.8l-1.4-5.1M511.1 285.7l0.4-0.5M513.3 310.9l-2 0.1M511.3 397l0.8 3.8M513.4 394.9l-2.1 2.1M514.5 328.9l-3.2-1.9M511.3 327l2.2-2.9M516.7 285.2l-0.3-0.3l-4.9 0.3M511.6 414.5l2.2 4.1M512.1 412.5l-0.5 2M513.7 366.7l-2.1-5.6M515.5 360.7l-3.9 0.4M512.4 403.2l-0.8-1.4M511.6 401.8l0.5-1M511.7 334.5l2-0.2M511.9 232.6l0.9-2.6l-1-3.7M511.8 295.1l1.2 1.1M511.8 295.1l0.9-4.1M513.7 428.8l-1.8 3.2M511.9 432l4.7-0.2M513.9 411.9l-1.8 0.6M512.1 406.1l2.3 1.7M512.1 406.1l0.3-2.9M512.1 400.8l3.3-1.3M513.1 426.8l-1-0.2M512.3 301.5l1.3 0.2M512.3 301.5l0.7-5.3M516.4 403.9l-4-0.7M512.5 290.8l0.2 0.2M512.8 317.1l-0.2-0.4M512.6 316.7l2.1-4M512.7 291l3.7-0.5M515.2 318.5l-2.4-1.4M515.4 372.4l-2.5-4.6M512.9 367.8l0.8-1.1M513 296.2l3.7-0.1M513.5 324.1l-0.4-1.5M513.1 322.6l2.3-2M513.2 426.8l-0.1 0M515 421.9l-1.9 4.9M513.7 428.8l-0.5-2M513.2 426.8l5.2-0.5l0.1-0.3M514.7 312.7l-1.4-1.8M514.5 307.9l-1.2 3M513.3 419.9l1.7 2M513.3 419.9l0.5-1.3M516.4 397.5l-3-2.6M513.4 394.9l0-0.9M513.4 394l0.9-1M516.1 325.1l-2.6-1M513.6 301.7l0.4 0.1l1.2 0.5M516.5 430.4l-2.8-1.6M515.3 332.3l-1.6 2M513.7 334.3l2.6-0.3M513.7 366.7l3.4-1.1M513.8 418.6l3.6-2.4M514.8 412.1l-0.9-0.2M514.4 407.8l-0.5 4.1M514.1 331.1l1.2 1.2M514.1 331.1l0.4-2.2M514.2 388.9l0.1 4.1M518.5 388.6l-2.1-1.2l-1.2 0.3l-1 1.2M514.3 393l4.4-0.1M514.4 407.8l2.3-0.9M514.5 307.9l2-1.1M514.5 328.9l1.6-0.7M514.7 312.7l3.1 0.8M514.8 412.1l2.6 4.1M519 410.4l-4.2 1.7M517.3 422.3l-2.3-0.4M515.4 320.6l-0.2-2.1M518.1 316.9l-2.9 1.6M515.2 302.3l1.1 0.5M516.5 306.8l-1.3-4.5M515.8 331.7l-0.5 0.6M515.4 320.6l3.1 1.6M515.4 372.4l2 0.5M518 402.4l-2.6-2.9M515.4 399.5l1-2M517.5 364l-2-3.3M522.1 360.9l-0.4-0.8l-6.2 0.6M515.8 331.7l3 2M518 328.9l-2.2 2.8M516.1 325.1l0 3.1M518.1 323.9l-2 1.2M516.1 328.2l1.9 0.7M516.3 302.8l1.8 0.7l1.7 0.7M516.3 302.8l1.7-2.2M516.4 334.1l-0.1-0.1M516.3 334l1.8-0.2l0.7-0.1M516.4 334.1l4.6 3.1M516.7 406.9l-0.3-3M518 402.4l-1.6 1.5M516.4 290.5l1.1 0.8M516.4 290.5l0.3-5.3M516.4 397.5l2.1-0.6M516.6 431.8l-0.1-1.4M516.6 431.8l4.1-0.2l-1.9-2.8l-2.3 1.6M517.3 306.9l-0.8-0.1M522.6 289l-1.1-4l-4.8 0.2M518 300.6l-1.3-4.5M516.7 296.1l1-1.4M519.1 408.1l-2.4-1.2M517.1 365.6l2.9 2.4M517.1 365.6l0.4-1.6M518.5 426l-1.2-3.7M517.3 422.3l1.7-1.2M517.3 306.9l3.1 3M519.8 304.2l-2.5 2.7M517.4 372.9l0.5 2.1l3.9 2.1M520 370.7l-2.6 2.2M517.4 416.2l1.5 0.2M517.7 294.7l-0.2-3.4M517.5 291.3l4.2-1.1M522.1 360.9l-4.6 3.1M517.7 294.7l5 1.3M517.8 313.5l0.3 3.4M519.9 312.2l-2.1 1.3M518 300.6l4.4-1M519.5 327.6l-1.1 0.8l-0.4 0.5M519.6 402.2l-1.6 0.2M518.1 316.9l2.8 2.4M520.7 326.7l-2.6-2.8M518.5 322.2l-0.4 1.7M518.5 396.9l1.2 5.1M518.6 396.9l-0.1 0M519 392.5l-0.5-3.9M520.7 387.8l-2.2 0.8M520.5 320.7l-2 1.5M518.5 426l4.4-2M518.6 396.9l4.8 0.3M518.7 392.9l-0.1 4M519 392.5l-0.3 0.4M518.8 333.7l0.1 0l0.8-0.1M518.9 416.4l0.8 1.1M518.9 416.4l1.8-4M522.9 392.9l-3.9-0.4M519 410.4l1.7 2M519.1 408.1l-0.1 2.3M519 421.1l3.8 1.9M519 421.1l0.7-3.6M521.1 406.6l-2 1.5M520.3 328.4l-0.8-0.8M520.7 326.7l-1 0.7l-0.2 0.2M519.6 402.2l1.5 4.4M519.7 402l-0.1 0.2M519.7 333.6l0.6-5.2M519.7 333.6l3.4-0.4M523.6 400.6l-3.9 1.4M519.7 417.5l4.4 0.3M519.8 304.2l3 1.3l0.1-0.3M519.9 312.2l2.5 1.7M520.4 309.9l-0.5 2.3M520 368l0 2.7M524.4 365.2l-4.4 2.8M520 370.7l4 1.8M524.3 328.8l-4-0.4M524 307.8l-3.6 2.1M520.5 320.7l3.1 3.8M520.9 319.3l-0.4 1.4M523.6 324.5l-2.9 2.2M520.7 412.4l2.7-0.1M524 390l-3.3-2.2M522.3 384.1l-1.6 3.7M520.9 342.9l-0.6 4.2l0.5 0.5l2.6-2.6l3.2-2.8M521 337.2l-1.8 3.2l1.7 2.5M525.3 341.5l-4.4 1.4M522.6 318.5l-1.7 0.8M521 337.2l0.4-0.1M524.4 406.9l-3.3-0.3M521.4 337.1l2.2 1.1M523.1 333.2l-1.7 3.9M523.1 295.4l-1.4-5.2M521.7 290.2l0.9-1.2M521.8 377.1l0.5 2.3M524.3 373.1l-2.5 4M524.4 365.2l-2.3-4.3M522.3 379.4l-1.6 2.2l1.6 2.5M526.9 379.1l-4.6 0.3M522.3 384.1l3.5 0.9M522.4 313.9l0.2 4.6M522.4 313.9l2.7-0.6M522.5 438.1l-0.1-0.1M522.4 438l-3.9 0.5l-2.7 4.4l2.3-0.9l5.7 1.5M523.5 431.5l-2.8 0.1l1.7 6.4M522.4 299.6l2.1 1.9M522.4 299.6l0.3-3.6M522.5 438.1l1.7 2.9M529 432.8l-6.5 5.3M525.1 318.7l-2.5-0.2M528 289.8l-5.4-0.8M522.7 296l0.4-0.6M522.8 423l0.1 1M524.7 420l-1.9 3M522.9 424l0.9 1.2M522.9 392.9l1.6 2.6M524 390l-1.1 2.9M522.9 305.2l0.7 1.7M522.9 305.2l1.6-3.6M523.1 333.2l1.2-0.2M523.1 295.4l5.8-1.4M523.4 397.2l0.2 3.4M523.4 397.2l1.1-1.7M524.7 417l-1.3-4.7M523.4 412.3l1.4-1.4M523.6 431.1l-0.1 0.4M523.5 431.5l2.6-0.1l2.9-0.1M524.7 401.5l-1.1-0.9M523.6 306.9l4.2 0.8M523.6 306.9l0.3 0.8l0.1 0.1M523.9 324.3l-0.3 0.2M523.8 425.2l-1.7 2.9l1.5 3M526.4 428.6l-2.8 2.5M523.6 338.2l1.7 3.3M523.6 338.2l3.9-2.3M523.8 425.2l2.2 0.8M523.8 443.5l0.9 0.2l4.6 3.4l1.9-4.2l-1.8-2.4M523.8 443.5l0.4-2.5M523.9 324.3l1.2 1.7M525.9 322.8l-2 1.5M524 372.5l0.3 0.6M524 372.5l2.2-4.7M524 307.8l2.1 2.9M525.7 389.1l-1.7 0.9M524.1 417.8l0.6 2.2M524.1 417.8l0.6-0.8M524.2 441l5.2-0.5M524.3 333l0-4.2M524.3 333l0.9-0.1M524.3 373.1l3 1.3M524.3 328.8M527.8 329.5l-3.5-0.7M524.3 328.8l0.8-2.8M526.2 367.8l-1.1-1.1l-0.7-1.5M525.3 407.6l-0.9-0.7M524.7 401.5l-0.3 5.4M524.5 395.5l3.4-0.3M529.2 302.1l-4.7-0.5M524.5 301.6l0-0.1M524.5 301.5l2-4.7l1.9-2.2M527.5 416l-2.8 1M527.6 401.3l-2.9 0.2M528.6 421.6l-3.9-1.6M524.8 410.9l3.8 2.3M524.8 410.9l0.5-3.3M525.9 322.8l-0.8-4.1M525.1 318.7l0.9-0.5M526.7 315.4l-1.6-2.1M525.1 313.3l1-2.6M525.1 326l2.6-0.7M527.5 335.9l-2.3-3M525.2 332.9l2.9-0.4l1-0.1M525.3 407.6l3.3-0.6M526.6 342.2l-1.3-0.7M528.9 390.7l-3.2-1.6M525.8 385l-0.1 4.1M525.8 385l1.9-1.2M527.4 321.7l-0.7 0.5l-0.8 0.6M526 318.2l4.3 1.3M526.7 315.4l-0.7 2.8M526 426l0.4 2.6M526 426l3.5-2.4M526.1 310.7l1.1 1.5M530.4 372l-4.2-4.2M530.5 430.9l-4.1-2.3M526.6 342.2l0.5-0.4M529 314.7l-2.3 0.7M527.7 383.8l-0.8-4.7M527.9 377.9l-1 1.2M528.5 337l-1.4 4.8M527.1 341.8l3-2.6l1-1.4M527.2 312.2l1.8 2.5M527.4 312l-0.2 0.2M527.3 374.4l0.6 3.5M527.3 374.4l3.1-2.4M528.4 322.9l-1-1.2M530.3 319.5l-2.9 2.2M527.4 312l5.3 0.4M527.8 307.7l-0.4 4.3M527.5 416l2.6 2.2M528.6 413.2l-1.1 2.8M527.5 335.9l0.3 0.1M530.2 404.5l-2.6-3.2M527.6 401.3l2.3-3.8M527.7 325.3l1.7 1.9M527.7 325.3l0.7-2.4M527.7 383.8l2 0.6M527.8 307.7l1.8-1.3M527.8 329.5l1.3 2.9M529.4 327.2l-1.6 2.3M528.5 337l-0.7-1M527.8 336l2.5-2.7M532.1 378.6l-4.2-0.7M527.9 395.2l1.8 1.5M528.9 390.7l-1 4.5M528 289.8l2.5 2.3M532 283.3l-4.5 0.4l0.5 6.1M528.4 294.6l2.1 4.4M528.4 294.6l0.5-0.6M532.7 322.8l-4.3 0.1M531.1 337.8l-2.6-0.8M528.6 407l2.4 4.9M530.1 405.5l-1.5 1.5M528.6 421.6l0.9 2M530.1 418.2l-1.5 3.4M530.8 412.4l-2.2 0.8M529.8 390.2l-0.9 0.5M528.9 294l1.4-1.6M529 314.7l1.5 2M529 431.3l0 1.5M529 431.3l1.5-0.1M531.5 436.2l-2.5-3.4M529.1 332.4l0.8-0.1l0.3 0M529.6 306.4l-0.4-4.3M529.8 301.7l-0.6 0.4M531.1 327.1l-1.7 0.1M529.4 440.5l2.1-4.3M529.5 423.6l1.5 0.5M529.6 306.4l3 1.6M529.7 396.7l0.2 0.8M529.7 396.7l3.9-2.6M531.4 387.1l-1.7-2.7M529.7 384.4l3.7-3.5M534.8 302.8l-5-1.1M529.8 301.7l0.7-2.7M533.6 392.3l-3.8-2.1M529.8 390.2l1.6-3.1M529.9 397.5l3.7 2.5M530.1 418.2l2.8-0.9M534.4 407.5l-4.3-2M530.1 405.5l0.1-1M534 401.2l-3.8 3.3M530.2 332.3l0.1 1M530.2 332.3l0.9-0.1M534.3 293.3l-4-0.9M530.3 292.4l0.2-0.3M531.7 318.4l-1.4 1.1M530.3 333.3l2.7 1.6M532.1 378.6l1.6-3.2l-3.3-3.4M530.5 431.2l0-0.3M531.8 428.1l-1.3 2.8M530.5 316.7l1.2 1.7M532.7 312.4l-2.2 4.3M530.5 299l4-1.3M530.5 292.1l3.5-4.1l0.1-0.2M530.5 431.2l6-0.2l0.2 0M533.1 415.5l-2.3-3.1M531 411.9l-0.2 0.5M531.8 428.1l-0.8-4M531 424.1l2.1-1M531 411.9l3.9-2.4M531.1 337.8l1.9-2.9M531.1 332.2l1.5-3.1M531.1 332.2l4-0.5M531.1 327.1l1.5 2M532.8 323.6l-1.7 3.5M531.4 387.1l3.1 0M531.5 436.2l4.5 0.9l1.2-0.8l-0.2-5.3M531.7 318.4l0.5 0M536.6 428l-4.8 0.1M532 283.3l3 3M536.8 278.3l-4.3 1.1l-0.5 3.9M533.4 380.9l-1.3-2.3M532.2 318.4l0.6 4.3M532.2 318.4l4.5-0.2M532.3 247.8l0.7 0.6M532.3 247.8l-3.3 1.9l0 4.1l0.5 0.5l5.1-1.3M538.9 244l-3.7 2l-2.9 1.8M533.6 310.3l-1-2.3M532.6 308l2.9-3.8M532.6 329.1l3.1-0.1M533.1 312.1l-0.4 0.3M532.8 323.6l-0.1-0.8M532.7 322.8l0.1-0.1M532.8 322.7l4.3-1M536 326.3l-3.2-2.7M534.7 419.2l-1.8-1.9M532.9 417.3l0.2-1.8M533 334.9l2.1-3.2M533 248.4l1.6 4.6M533 248.4l6.2-1.4M533.1 415.5l3.6-2M533.1 423.1l5.2 2.5M534.7 419.2l-1.6 3.9M537 315.8l-3.9-3.7M533.1 312.1l0.5-1.8M533.8 381l-0.4-0.1M533.6 394.1l0-1.8M535.4 390.6l-1.8 1.7M533.6 400l0.4 1.2M536.5 396.1l-2.9 3.9M539.2 308.8l-5.6 1.5M533.6 394.1l2.9 2M536 385.7l-2.2-4.7M539.1 385.6l-0.1-5.6l-0.6-0.4l-4.6 1.4M534 401.2l2.5 1.5M536.5 288.8l-2.4-1M534.1 287.8l0.9-1.5M534.5 297.7l-0.2-4.4M534.4 293.2l-0.1 0.1M534.4 293.2l6.1 1.4M536.5 288.8l-2.1 4.4M534.9 409.5l-0.5-2M534.4 407.5l2.5-3.7M534.5 297.7l1.8 1.3M534.5 387.1l0.9 3.5M536 385.7l-1.5 1.4M534.6 253l0.2 4.6M534.6 253M534.6 253l5.2-0.6M536.7 419.1l-2 0.1M534.8 257.6l5.6 0.2M534.8 257.6l-0.1 0.1l0.6 4.5M535.5 304.2l-0.7-1.4M536.3 299l-1.5 3.8M535 409.5l-0.1 0M535 286.3l1.3-2.3M535 409.5l1.7 4M540.2 408.9l-5.2 0.6M535.1 331.7l2.8-0.5M535.3 262.2l-0.6 0.6l0.7 4.8M535.3 262.2l5.6 0M535.4 267.6l-0.7 0.9l1.6 4.4M535.4 267.6l5.1-0.6M538.4 391.3l-3-0.7M535.5 304.2l1.8 0.4M535.7 329l2.2 2.2M535.7 329l0.3-2.7M538.7 324.6l-2.7 1.7M539.1 385.6l-3.1 0.1M536.3 272.9l-0.6 0.9l1.1 4.5M536.3 272.9l3.6-0.7M536.3 284l2.4 2.8M536.3 284l2.3-4.1M538.3 298.7l-2 0.3M536.9 403.8l-0.4-1.1M536.5 402.7l2.3-2.4M538.1 395.9l-1.6 0.2M538.1 288.2l-1.6 0.6M536.6 428l0.1 3M538.3 425.9l-1.7 2.1M536.7 413.5l0.4 0.2M536.7 318.2l0.3-2.4M536.7 318.2l1.6-0.1M536.7 431l0.3 0M539.1 423.2l-2.4-4.1M538.7 417.4l-2 1.7M536.8 278.3l1.9 1.4M536.9 403.8l3.8 2.1M537 315.8l3.1-2M537 431l4.5-0.5M537.1 321.7l1.6 2.9M537.1 321.7l1.4-2.8M537.1 413.7l1.6 3.7M537.1 413.7l3-1.6M537.3 304.6l1.9 4.2M540 302.6l-2.7 2M537.9 331.2l0.4 0M538.2 396l-0.1-0.1M538.1 395.9l0.3-4.6M541.2 292.2l-3.1-4M538.7 286.8l-0.6 1.4M538.8 400.3l-0.6-4.3M538.2 396l4.5-0.1M538.3 425.6l0 0.3M538.3 425.6l0.8-2.4M538.3 331.2l2.8-4.5M538.3 331.2l6.9-1.1M540 302.6l-1.7-3.9M540.4 296.4l-2.1 2.3M538.5 318.9l-0.2-0.8M538.3 318.1l5.2-0.2M539.4 426.4l-1.1-0.5M538.7 391.1l-0.3 0.2M542.6 321.4l-4.1-2.5M538.6 279.9l3.2 3.6M538.6 279.9l0.1-0.2M540.2 325.1l-1.5-0.5M541.8 284.9l-3.1 1.9M542.5 391.8l-3.8-0.7M538.7 391.1l1.1-5.1M542.1 417.4l-3.4 0M538.7 279.7l0.3-0.5l0.2-1.8M542.9 400.8l-4.1-0.5M539.2 247l-0.3-3M541.9 242.3l-0.5 0.3l-2.5 1.4M539.1 423.2l3.9-2.3M539.8 386l-0.7-0.4M539.2 308.8l0.1 0M539.8 252.1l-0.6-5.1M539.2 277.4l0.7-5.2M542.7 276.8l-3.5 0.6M540.1 313.8l-0.8-5M539.3 308.8l3.9-1.5M541.5 430.5l-2.1-4.1M539.4 426.4l5.6-0.6M539.8 252.4l0-0.3M539.8 252.1l3.2-0.3M542.5 386.1l-2.7-0.1M540.4 257.8l-0.4-3.4l-0.2-2M539.9 272.2l0-0.2l0.1-0.6M540 271.4l2 0.3M540 271.4l0.5-4.4M542.9 303.3l-2.9-0.7M543 414.5l-2.9-2.4M540.1 412.1l0.1-3.2M543.3 314.5l-3.2-0.7M540.2 408.9l0.9-1.1M541.1 326.7l-0.9-1.6M542.6 321.4l-2.4 3.7M540.4 296.4l3.7 3M540.5 294.6l-0.1 1.8M540.9 261.7l-0.5-3.9M540.5 267l0.5-4M540.5 294.6l0.7-1M541.1 407.8l-0.4-1.9M540.7 405.9l3.2-3.8M540.9 262.2l0-0.5M543.1 261.5l-2.2 0.2M541 263l-0.1-0.8M541 263l0.9 7.9M544 408.8l-2.9-1M541.1 326.7l3.2 0.7M541.2 293.6l6.2 0.9M541.2 292.2l0 1.4M545.5 288l-4.3 4.2M541.5 430.5l2.6-0.2M545.3 287.4l-3.5-2.5M541.8 283.5l0 1.4M541.8 283.5l4-3.7M545.3 247.9l-3.4-5.6M545.7 239.9l-3.8 2.4M541.9 270.9l0.1 0.8M541.9 270.9l4.4-0.6M542 271.7l0.7 5.1M543.4 419.4l-1.3-2M542.1 417.4l0.9-2.9M542.7 395.9l-0.2-4.1M543.5 390.7l-1 1.1M542.5 386.1l1 4.6M548.1 388.8l-3-3.7l-0.5-0.4l-2.1 1.4M543.6 321.2l-1 0.2M542.7 276.8l0.1 1.2l2.7-0.4M542.7 395.9l0.2 4.9M542.7 395.9M542.7 395.9l3.5-0.3M544 305.2l-1.1-1.9M544.1 299.4l-1.2 3.9M542.9 400.8l1 1.3M543 420.9l2.2 4.6M543 420.9l0.4-1.5M544.4 413.6l-1.4 0.9M543 251.8l4 4.3M545.3 247.9l-2.3 3.9M543.1 261.5l4.8 4.7M547 256.1l-3.9 5.4M543.2 307.3l1.8 2.8M543.2 307.3l0.8-2.1M543.5 317.9l-0.2-3.4M543.3 314.5l0.3-0.2M543.4 419.4l2.3-0.1M543.5 317.9l0.7 0M543.5 390.7l3.2 0.4M543.6 321.2l2.2 4.3M544.4 320.4l-0.8 0.8M543.6 314.3l4.9 0.5M545 310.1l-1.4 4.2M543.9 402.1l1.5 0.1M544 408.8l1.1 2.5M547.1 406.3l-3.1 2.5M547.4 304.7l-3.4 0.5M544.1 299.4l2.1-0.7M545 425.8l-0.9 4.5M544.1 430.3l4.9-0.5l0.4-0.8l-3.6-3.5M544.2 317.9l0.2 2.5M544.2 317.9l2.2-0.1l2.2-2.2M545.2 330.1l-0.9-2.7M544.3 327.4l1.5-1.9M548 320.4l-3.6 0M549 415.8l-4.6-2.2M544.4 413.6l0.7-2.3M545 310.1l4.1 0.2M545.2 425.5l-0.2 0.3M545.1 411.3l3.3-0.5M545.2 330.1l4.8-0.8M545.2 425.5l0.6 0M548 247.2l-2.7 0.7M545.3 287.4l0.2 0.6M548.7 282.8l-3.4 4.6M545.3 364.8l0.6 2.4l1.3 0.8l3.7-2.2l-0.7-2.7M546.7 361.9l-4-2.8l-0.5 0.1l-1.2 4.4l4.3 1.2M545.3 364.8l1.4-2.9M545.4 402.2l0.5 0.4M547.5 398l-2.1 4.2M545.5 288l1.4 1M545.8 279.8l-0.3-2.2M545.5 277.6l0.4 0M547.6 240.6l-2.5 0.5l0.6-1.2M551.3 232.9l0.1 3.4l-5.7 3.6M548.3 421.4l-2.6-2.1M545.7 419.3l3.3-3.5M548.7 282.8l-2.9-3M545.8 325.5l2.3-0.4M545.8 425.5l1.7-1.4l0.8-2.7M547.1 406.3l-1.2-3.7M545.9 402.6l6.3-0.8M547.8 272.5l-1.9 5.1M545.9 277.6l1-0.2l3.5-0.4M549.4 301.2l-3.2-2.5M546.2 298.7l1.2-4.2M547.5 398l-1.3-2.4M546.2 395.6l1.4-2M546.3 270.3l1.5 2.2M546.3 270.3l1.6-4.1M547.6 393.6l-0.9-2.5M546.7 391.1l1.4-2.3M547.1 361.8l-0.4 0.1M547.8 294.2l-0.9-5.2M546.9 289l4.6-0.6M548.7 256.1l-1.7 0M549.2 407.3l-2.1-1M547.1 361.8l3.1 1.3M554.8 358.8l-5.9-0.8l-1.8 3.8M550.3 307.7l-2.9-3M549.4 301.2l-2 3.5M547.4 294.5l0.4-0.3M550.6 398.3l-3.1-0.3M547.6 393.6l4.5 0.5M550 243.7l-2.4-3.1M555.6 239.2l-2.1 0.3l-5.9 1.1M553.5 274.5l-5.7-2M547.8 294.2l1 0.1M547.9 266.2l3.5-1.5M549 323.7l-1-3.3M548 320.4l1.7-1.9M552 250.5l-4-3.3M548 247.2l2-3.5M552.2 394l-0.4-0.6l-3.7-4.6M548.1 325.1l2.1 2.8M548.1 325.1l0.9-1.4M548.3 421.4l3-1M551 413.5l-2.6-2.7M548.4 410.8l0.8-3.5M548.9 315.3l-0.4-0.5M548.5 314.8l0.6-4.5M549.7 318.5l-1.1-2.9M548.6 315.6l0.3-0.3M549.7 256.9l-1-0.8M548.7 256.1l3.3-5.6M549.9 282.8l-1.2 0M548.8 294.3l3 2.9M552.7 291.6l-3.9 2.7M548.9 315.3l4-4M553.3 323.2l-4.3 0.5M549 415.8l0.4-0.1M549.1 310.3l1-0.9M551.5 406.7l-2.3 0.6M550.5 300.9l-1.1 0.3M549.4 415.7l1.9 4.7M549.4 415.7l1.6-1.6M551.7 264.2l-2-7.3M549.7 256.9l6.7-0.2M553.3 323.2l0.3-0.4l0-0.6l-2.1-3.2l-1.8-0.5M551.9 287.6l-2-4.8M553.2 280.7l-3.3 2.1M550 329.3l0.2-1.4M550 329.3l5.6-0.9l-2.5-2.1M554 243.1l-4 0.6M550.1 309.4l2.8 1.9M550.3 307.7l-0.2 1.7M550.2 363.1l4.6-4M550.2 327.9l2.9-1.6M553.4 305.7l-3.1 2M550.4 277l2.8 3.7M550.4 277l3.5-0.5M552.9 302.2l-2.4-1.3M551.8 297.2l-1.3 3.7M550.6 398.3l1.6 3M552.1 394.1l-1.5 4.2M551 414.1l4.4 2.5M551 413.5l0 0.6M553.1 411.1l-2.1 2.4M551.1 228.7l0.2 4.2M552.6 220.1l-1.7 2l0.2 6.6M555.6 226.3l-4.5 2.4M555.4 236.7l-4.1-3.8M551.3 420.4l0 0.1l3.4-0.4l0.7-3.5M556.1 270.9l-4.7-6.2M551.4 264.7l0.3-0.5M551.5 406.7l1.6 4.4M552.4 405.5l-0.9 1.2M551.5 288.4l1.2 3.2M551.5 288.4l0.4-0.8M556.3 262.2l-4.6 2M554.9 296.3l-3.1 0.9M556.7 285.9l-4.8 1.7M552 250.5l3.5-0.7M552.2 394l-0.1 0.1M552.2 401.8l0.5 1M552.2 401.3l0 0.5M555.1 398.7l-2.9-4.7M552.2 401.3l2.9-2.6M552.2 354.2l-1.1 1.9l2.3 2.3l1.5-0.1M557 348.5l-0.7-0.8l-4.1 1.5l0 5M555.3 354.2l-3.1 0M557.8 407.9l-5.4-2.4M552.7 402.8l-0.3 2.7M552.6 220.1l3.1 1.3M555.7 221.4l2.5-1.8l-0.1-2.3l-3.3 0.3l-2.2 2.5M552.7 291.6l3.1 1.4M552.7 402.8l4.3 0.1M553.4 305.7l-0.5-3.5M552.9 302.2l4.5-2M552.9 311.3l1.9-1.9l0.8-2.8M553.1 326.3l0.2-3.1M556.6 410.8l-3.5 0.3M553.2 280.7l1.3 0M555.6 306.6l-2.2-0.9M553.9 276.5l-0.4-2M553.5 274.5l2.6-3.6M553.9 276.5l2.8-0.4M554 243.1l2 6.2M556.6 239l-2.6 4.1M554.5 280.7l1.5 1.6M554.5 280.7l2.2-4.6M554.8 358.8l0 0.3M554.9 358.3l-0.1 0.5M554.8 359.1l2.8 4.7l4.3 0.2M554.9 358.3l3.9-0.2M554.9 296.3l2.6 3.6M555.8 293l-0.9 3.3M558.1 401.2l-2.2-1.1l-0.8-1.4M558.2 355.8l-2.9-1.6M557 348.5l-1.7 5.7M555.4 416.6l1.1-5.6l0.1-0.2M555.6 239.2l-0.2-2.5M555.4 236.7l4.6-3.5M556.4 256.7l-0.9-6.9M555.5 249.8l0.5-0.5M555.6 306.6l1.8-6.4M559.7 227.6l-4.1-1.3M555.6 226.3l0.1-4.9M556.6 239l-1 0.2M556.3 292.7l-0.5 0.3M556.7 285.9l-0.7-3.6M556 282.3l4-1.2M556 249.3l3.8-0.4M556.5 270.8l-0.4 0.1M556.3 262.2l3.9 3.6M557.7 257.9l-1.4 4.3M560.9 293.8l-4.6-1.1M556.3 292.7l1.5-5.8M556.4 256.7l1.3 1.2M556.5 270.8l5.3 2.5M560.2 265.8l-3.7 5M556.6 410.8l1.2-2.9M557.4 238.8l-0.5 0.1l-0.3 0.1M557.8 286.9l-1.1-1M556.7 276.1l2.3-0.3M560.5 349.2l-3.5-0.7M558.7 405.8l-1.7-2.9M557 402.9l1.1-1.7M561.2 242.5l-3.8-3.7M564.6 237.5l-7.2 1.3M557.4 300.2l0.1-0.3M557.5 299.9l0.6-2.2l2.8-3.9M560.9 257.3l-3.2 0.6M557.8 407.9l0.9-2.1M557.8 286.9l2.7 0.1M558.7 405.8l1.5-3.6l-2.1-1M558.8 358.1l-0.6-2.3M561.1 352.7l-2.9 3.1M562.9 325.2l-4.4-0.3M558.5 324.9l-1.2 3.2l6-0.9M559.3 319.6l-0.9 5.2l0.1 0.1M558.8 358.1l5.6-0.2M561.1 279.2l-2.1-3.4M559 275.8l3.2-0.5M563.4 314.8l-0.7-0.8l-2-0.7l-2.4 0.9l-0.7 4l0.3 0.5l1.4 0.9M559.3 319.6l0.5-0.1M560 233.2l-0.3-5.6M567.3 232.2l0.1-0.6l-3.2-6.3l-0.7-0.2l-3.8 2.5M559.8 248.9l1.3 0.8M559.8 248.9l1.4-6.4M559.8 319.5l3.9 2.3M563.3 315.8l-3.5 3.7M564.4 234.2l-4.4-1M562.4 284.1l-2.4-3M560 281.1l1.1-1.9M560.2 265.8l1.8-0.2M560.5 349.2l0.6 3.5M563.7 346.3l-3.2 2.9M560.5 287l2.3 4.1M562 285.6l-1.5 1.4M560.9 293.8l1.9-2.7M560.9 257.3l3.3 4.5M562.1 255.8l-1.2 1.5M561.1 352.7l3.2 0.7M563.7 279.3l-2.6-0.1M561.1 249.7l1 6.1M561.1 249.7l5.5-1M565.5 242.4l-4.3 0.1M561.8 273.3l0.4 2M561.8 273.3l3.4-4M561.9 364l2.8 5.1l4.4-0.3M564.7 360.1l-2.8 3.9M565.9 286.8l-3.9-1.2M562 285.6l0.4-1.5M565.2 269.3l-3.2-3.7M562 265.6l2.2-3.8M568.3 254.7l-6.2 1.1M562.2 275.3l8.4-1.1l-2.4-4.6M564.6 282.3l-2.2 1.8M562.8 291.1l1.2-1.7l1.4-1.9M562.9 325.2l0.4 2M564.2 323.5l-1.3 1.7M563.3 327.2l5.6-1M565.7 318.9l-2.4-3.1M563.4 314.8l-0.1 1M569.2 315l-1-1l-4.8 0.8M563.7 279.3l0.9 3M569.4 279.6l-0.5-1.9l-3.8 0l-1.4 1.6M566.5 350.4l-2.8-4.1M569.9 344.1l-0.9-0.2l-5.2 2l-0.1 0.4M564.2 323.5l-0.5-1.7M563.7 321.8l2-2.9M564.2 261.8l3.2-0.3M567.2 324l-3-0.5M564.3 353.4l1.3 3M564.3 353.4l2.2-3M564.6 237.5l-0.2-3.3M567.3 232.2l-2.9 2M564.7 360.1l-0.3-2.2M564.4 357.9l0.8-0.1M566.3 237.2l-1.7 0.3M566.1 282.6l-1.5-0.3M568.7 361.3l-4-1.2M565.6 356.4l-0.4 1.4M565.2 357.8l4.9-0.2l2 1.4M568.2 269.6l-3-0.3M565.4 287.5l1.5 1.5l3.9-0.9l-1.5-5.3l-0.3-0.3M565.4 287.5l0.5-0.7M566.6 248.7l-0.5-5.8l-0.6-0.5M565.5 242.4l0.8-5.2M565.6 356.4l5.1-2M565.7 318.9l2.1-0.2M565.9 286.8l0.2-0.3l1.2-1.7M566.1 282.6l1.2 2.2M569.4 279.6l-3.3 3M566.3 237.2l5.3-1l-0.2-0.5l-4.1-3.5M570.1 350.9l-3.6-0.5M567 249l-0.4-0.3M568.3 254.7l-1.3-5.7M571.8 247.8l-4.8 1.2M567.2 324l1.7 2.2M569.6 320.7l-2.4 3.3M567.3 284.8l1.7-2.3M568.2 269.6l2.9-4.5l-3.7-3.6M567.4 261.5l2.2-5.8M567.8 318.7l1.8 2M567.8 318.7l1.4-3.7M569.6 255.7l-1.3-1M568.7 361.3l2.1 4.3M572.1 359l-3.4 2.3M568.9 326.2l3.6-0.5M569 282.5l1.4-2l-1-0.9M569.1 368.8l2.1 2.3l2.9 1M569.1 368.8l1.7-3.2M572.5 315.3l-0.5-0.4l-2.8 0.1M570.8 320.8l-1.2-0.1M569.6 255.7l0.7-0.1M569.9 344.1l1.6 4.9M577 343.9l-5.7-0.7l-1.4 0.9M570.1 350.9l0.6 3.5M571.5 349l-1.4 1.9M570.3 255.6l6 5.2l2.4-0.9l1.8-4M574.5 251.9l-4.2 3.7M570.7 354.4l2.4 2.2M570.8 365.6l4.1-1.1M572.7 324.8l-1.9-4M570.8 320.8l1.8-1.4M574.9 349l-3.4 0M574.5 251.9l-2.7-4.1M572.8 245.5l-1 2.3M572.1 359l0.2 0.1M572.3 359.1l4.3 2.9M573.2 357.1l-0.9 2M577.6 315.7l-0.1-0.2l-5-0.2M572.5 315.3l0.1 4.1M572.5 325.7l0.2-0.9M572.5 325.7l5.5-0.9M572.6 319.4l3.8 1.2M576.9 321.6l-4.2 3.2M572.8 245.5l6.6 0.3M577.2 239.9l-3.8-1.2l-1.8 3.6l1.2 3.2M573.2 357.1l-0.1-0.5M573.1 356.6l4.1-3.7M578.3 359.3l-5.1-2.2M574.1 372.1l1 1.7l2.3 0.7M574.1 372.1l2.5-3.6M576.7 251.9l-2.2 0M576.6 368.5l-1.7-4M574.9 364.5l1.7-2.5M577.2 352.9l-2.3-3.9M577.9 345.4l-3 3.6M576.4 320.6l0.5 1M576.4 320.6l1.2-4.9M576.6 362l1 0.7M576.6 368.5l4.3 0.2M580.5 255.9l-3.8-4M579.4 245.8l-2.7 6.1M577.3 321.9l-0.4-0.3M577 343.9l0.9 1.5M582.6 340.8l-2.5-1.2l-2.6 1.2l-0.5 3.1M577.2 352.9l2.2 0.2M577.2 239.9l2.4 5.6M585.1 239.5l-4.4-2.2l-3.5 2.6M577.3 321.9l0.9 2.8M582 320.5l-4.7 1.4M577.4 374.5l1.8 3.6l3.1-4.8M580.9 372.3l-3.5 2.2M577.6 362.7l1.2 0.8l2.8 1.9M577.6 362.7l0.7-3.4M581.1 316.2l-3.5-0.5M578.7 345.7l-0.8-0.3M578 324.8l-0.4 5.4l0.1 0.1l3.6 0M578 324.8l0.2-0.1M578.2 324.7l3.8-0.6l0.1 0M579.9 358.6l-1.6 0.7M578.7 345.7l2.8 5.1M583.3 344.2l-4.6 1.5M579.4 353.1l1.4 3.2M579.4 353.1l2.1-2.3M579.5 245.7l-0.1 0.1M579.5 245.7l4.7 3.8M579.6 245.5l-0.1 0.2M584.3 242.2l-4.7 3.3M583.1 361.5l-3.2-2.9M580.8 356.3l-0.9 2.3M580.5 255.9l0.1 0M580.6 255.9l8.1 1.9M584.3 250.7l-3.7 5.2M580.8 356.3l3.3-0.2M582.3 373.3l-1.4-1M580.9 368.7l0 3.6M583 366.4l-2.1 2.3M583 319.2l-1.9-3M587.3 315.8l-2.7-4.1l-1 0.3l-2.5 4.2M581.3 330.3l1.9 2.8l3.1-1.5M583.2 328.6l-1.9 1.7M581.5 350.8l1.5-0.2M583 366.4l-1.4-1M581.6 365.4l1.5-3.9M582 320.5l0.4 3.6M583 319.2l-1 1.3M582.1 324.1l1.1 4.5M582.1 324.1l0.3 0M582.3 373.3l0.2-0.3l3.5-4.6l-3-2M582.4 324.1l0.2-0.1l3.3-0.5M582.6 340.8l0.7 3.4M585.5 337.9l-2.9 2.9M583 350.6l2.4 2.6M583 350.6l3.3-3.9M584.2 319.3l-1.2-0.1M583.1 361.5l2.1-0.7l0.9-2.4l-2-2.3M586 329.2l-2.8-0.6M586.3 345.5l-3-1.3M584.1 356.1l1.3-2.9M584.3 250.7l-0.1-1.2M584.2 249.5l3.6-3.3M586.9 323.3l-2.7-4M586.5 317.8l-2.3 1.5M587.8 246.2l-3.5-4M584.3 242.2l0.8-2.7M590 253.3l-5.7-2.6M591.8 240.9l-5.3-2.3l-1.4 0.9M585.4 353.2l3-0.1l1.4-2M585.5 337.9l2 1.4M587.5 334.4l-2.2 2.8l0.2 0.7M585.9 323.5l1.6 2.2M585.9 323.5l1-0.2M586 329.2l0.6 1.2M587.5 325.7l-1.5 3.5M586.3 331.6l1.2 2.8M586.6 330.4l-0.3 1.2M586.3 346.7l3.5 4.4M586.3 346.7l0-1.2M588.2 344l-1.9 1.5M589.9 319.9l-3.4-2.1M586.5 317.8l0.8-2M590.4 330.4l-3.8 0M586.9 323.3l1.9-0.3M592.1 317.5l-2-2.6l-2.8 0.9M590.2 334.5l-2.7-0.1M587.5 339.3l0.7 4.7M591.6 337.4l-4.1 1.9M587.5 325.7l3.2 0.5M590.7 246.2l-2.9 0M588.2 344l4 0.1M588.7 257.8l0.4 0.9l0.9 0.5l6.2 0M588.7 257.8l1.3-4.5M588.8 323l1.1-3.1M588.8 323l1.6-0.2l1.9-0.3M589.8 351.1l2.3-0.2M591.5 319.3l-1.6 0.6M590.7 252.8l-0.7 0.5M591.9 336l-1.7-1.5M590.4 330.4l-0.2 4.1M592.3 328.8l-1.9 1.6M590.5 206.1l6.7 1M590.5 206.1l-2.3 4.8l1.5 2.5l5.5 0.6M597.2 207.1l1.7-6.4l-1.6-2.5l-2.6 0.5l-5 5.1l0.8 2.3M590.7 246.2l0 6.6M591.3 245.7l-0.6 0.5M596.2 253l-5.5-0.2M590.7 326.2l1.6 2.6M592.3 322.5l-1.6 3.7M595.2 246.8l-3.9-1.1M591.3 245.7l0.5-4.8M591.5 319.3l2.6 2.9M592.1 317.5l-0.6 1.8M591.6 337.4l2.3 3.6M591.9 336l-0.3 1.4M599.8 242.1l-2.2-2.5l-3.3-0.4l-2.5 1.7M595.4 334.1l-3.5 1.9M592.1 350.9l3.1 3.3l3.5-3M594 346.7l-1.9 4.2M596.8 319.3l-2.5-2.5l-2.2 0.7M594 346.7l-1.8-2.6M592.2 344.1l1.7-3.1M592.3 322.5l1.8-0.3M592.3 328.8l0.8 0.2M593.1 329l2.3 5.1M593.1 329l4.4-2.4M593.2 226l-3.4 3.5l-0.3 3.4l6-1.1l3.6 0.4M596 219.2l-7.7 0.3l-0.7 1l5.6 5.5M593.2 226l2.4 0M593.9 341l1.9-0.4M598.2 347l-4.2-0.3M594.1 322.2l1.8-0.3l0.4-0.1M595.2 214l0.8 5.2M597.8 212l-2.6 2M595.2 246.8l1.4 5.9M599.2 244.5l-4 2.3M598.6 334.8l-3.2-0.7M595.6 226l3.6 5.5M598.1 221.6l-2.5 4.4M599.1 342.8l-3.3-2.2M595.8 340.6l3-5.6M598 221.2l-2-2M596.2 253l0 6.2M596.6 252.7l-0.4 0.3M596.2 259.2l5.7 0M596.3 321.8l0.5-2.5M596.3 321.8l0.9-0.1M596.6 252.7l4.4-0.8M602 320.9l-2-3.9l-3.2 2.3M597.5 326.6l-0.3-4.9M597.2 321.7l3.2-0.6l1.5-0.2M598 208.2l-0.8-1.1M599.1 327.9l-1.6-1.3M597.8 212l4.6 3.2M598 208.2l-0.2 3.8M598.1 221.6l-0.1-0.4M598 221.2l4.4-5.1M604.7 207.5l-6.7 0.7M605.4 224.4l-7.3-2.8M598.7 351.2l-0.5-4.2M599.5 345.9l-1.3 1.1M598.8 335l-0.2-0.2M598.6 334.8l0.5-6.9M598.7 351.2l4.4 2l1-0.8l-1.2-6.1M598.8 335l1.8 0.5M599.1 232.2l0.9 0.1M599.2 231.5l-0.1 0.7M599.1 342.8l0.4 3.1M601.9 339.8l-2.8 3M599.1 327.9l4.9-0.1M599.2 231.5l5.8-3.7M602.6 250.7l-3.4-6.2M599.8 242.1l-0.6 2.4M599.5 345.9l3.4 0.4M602.7 250.7l5.6-6.2l-3.6-3.3l-4.9 0.9M608.3 233.1l-8.3-0.8M600 232.3l0.3 1.2l5.5 3.3l1.9-1.1M600.6 335.5l1.3 4.3M601.8 335l-1.2 0.5M604.1 283.6l-3.4-0.1M600.7 283.5l-1.1 0.7l1.6 5.1l2.3 1.2M601 278.2l-0.3 5.3M602.2 278.1l2.9-2.1l-4.1-3.4l-0.6 5.1l0.6 0.5M602.2 278.1l-1.2 0.1M601 251.9l0.9 7.3M602.6 250.7l-1.6 1.2M608 336.3l-6.2-1.3M601.8 335l3.1-5.5M601.9 259.2l3.4 2.5M606.3 341.8l-4.4-2M604.7 326l-2.8-5.1M601.9 320.9l0.1 0M608.7 320.2l-1.2-0.2l-5.5 0.9M605.7 281l-3.5-2.9M602.4 216.1l0-0.9M602.4 215.2l3.1-3.2M607.5 220.2l-5.1-4.1M602.7 250.7l-0.1 0M605.4 261.6l1.9-7.9l-4.6-3M602.9 346.3l1.3-0.7M603.5 290.5l0.3 0.5M605.3 285.4l-1.8 5.1M603.8 291l-0.2 0.9l2.2 4.7M603.8 291l4.8-0.2M604 327.8l0.9 1.7M604 327.8l0.7-1.8M604.1 283.6l1.2 1.8M605.7 281l-1.6 2.6M604.2 345.6l4.4 3.5l1.4-1.1l1.3-2.6M604.2 345.6l2.1-3.5M608.3 324.2l-3.6 1.8M605.5 212l-0.8-4.5M613.2 211.6l-1.2-4.9l-2.3-1.2l-4.2 1l-0.8 1M604.9 329.5l2 0.9M605 227.8l3.8 3.2M605.4 224.4l-0.4 3.4M605.3 285.4l4.4 0.3M605.3 261.7l-0.3 1.3l1.5 4.4M605.3 261.7l0.1-0.1M608.9 261.6l-3.5 0M607.8 222l-2.4 2.4M605.5 212l5.7 2M611.6 282.5l-2.7-2.9l-3.2 1.4M605.8 296.6l2.1 0.1M605.8 296.6l-2.7 3.1l4 2.3M606.3 342.1l0-0.3M608.4 338.4l-2.1 3.4M606.3 342.1l5 3.3M606.5 267.4l0.6 1.9M606.5 267.4l3.2-3.3M606.9 330.4l1.7 4.6M611.7 328.4l-4.8 2M607.5 270.4l-0.4-1.1M607.1 269.3l-2 0.9l3.2 4l0.3-0.3M607.1 302l-2.2 3.9l0.5 1.2l2.9-0.2l0.4-4.2l0.3-1M607.1 302l1.9-0.3M608.6 273.9l-1.1-3.5M610.8 270.3l-3.3 0.1M607.5 220.2l0.3 1.8M611.2 214l-3.7 6.2M607.7 235.7l5.5 2.7l1.8-4.6M608.3 233.1l-0.6 2.6M613.1 223.6l-5.3-1.6M609.8 299.8l-1.9-3.1M607.9 296.7l1.8-2.2M608.4 338.4l-0.4-2.1M608.6 335l-0.6 1.3M608.9 233.2l-0.6-0.1M612.4 327.1l-4.1-2.9M608.7 320.2l-0.4 4M614.8 340.1l-6.4-1.7M608.6 290.8l1.1 3.7M608.6 290.8l1.5-1.5M608.6 335l3.8-1.6M608.6 273.9l0.3 0.9l2.2 1.5M614.4 326.4l-4.4-5.9l-1.3-0.3M608.9 233.2l-0.1-2.2M608.8 231l5.2-3.2M609.7 264.1l-0.8-2.5M614.7 263.2l-1.5-3.1l-2.8-1l-1.5 2.5M615 233.8l-6.1-0.6M609 301.7l0.8-1.9M613.6 265.9l-3.9-1.8M610.1 289.3l-0.4-3.6M609.7 285.7l1.9-3.2M609.7 294.5l2 0.5M609.8 299.8l1.3-3.7l0.6-1.1M614 290.2l-3.9-0.9M610.8 270.3l3 3.3M613.7 266.1l-2.9 4.2M611.1 276.3l2.3 1.7l2.1-4.2M613.8 273.6l-2.7 2.7M611.2 214l0.8-0.3M611.3 345.4l1.2-2.4l2.8-2.2M614 290.2l0.4-0.8l-1-5l-1.8-1.9M611.7 295l2.3-4.8M611.7 328.4l0.7 5M612.4 327.1l-0.7 1.3M612 213.7l3 3.9M612 213.7l1.2-2.1M612.4 333.4l2.2 1M614.4 326.4l-2 0.7M614 227.8l-0.9-4.2M613.1 223.6l0.8-0.7M619 217.3l-0.1-3.4l-0.1-1.4l-0.2-1.1l-5.4 0.2M613.6 265.9l0.1 0.2M614.7 263.2l-1.1 2.7M613.7 266.1l4.2 2.3M613.8 273.6l1.7 0.2M613.9 222.9l1.1-5.3M619.3 222.3l-5.4 0.6M614 227.8l0.9 0.6M617.8 332.5l-0.3-2l-3.1-4.1M614.8 340.1l-0.2-5.7M614.6 334.4l3.2-1.9M617.9 268.4l1.7-7l-4.9 1.8M615.3 340.8l-0.5-0.7M614.9 228.4l4.7 0.2l-0.2-4.3l-0.1-2M615 233.8l0.2 0l-0.3-5.4M615 217.6l4-0.3M615.3 340.8l3.5-2.8l-1-5.5M615.5 273.8l2.1-4.4l0.3-1M619.3 222.3l-0.3-5M624.5 244.1l2.6 3.7M624.5 244.1l-3.8 0.9l-0.3 0.5l2.7 4.5l4-2.2M628.5 243.1l-4 1M627.1 247.8l2.7-1.5M629.8 246.3l-1.3-3.2M632.3 241.5l-3.5 1.5l-0.3 0.1M629.8 246.3l1.4-0.8l2.5-1.4M632.3 241.5l1.4 2.6M637.2 239.4l-4.9 2.1M633.7 244.1l3.5-1.9M637.2 239.4l0 2.8M637.2 242.2l4-2.2l-0.7-2l-3.3 1.4M348.4 468.3l1.6 4.6l7-4.4l3.7-2.8l-4.2-2.9l-5.4 0.7l-2.7 4.8M464.7 222.9l-0.1 0.9l1.7 6.7l0.1 0.2l5.9-1.8l-1.3-4.4l-6.3-1.6M556.6 344l-0.5-4.6l-5.5-0.8l-0.6 0.5l0.4 4.5l5.6 1.1l0.6-0.7M590.4 285.1l0.6 0.3l5.3-3.4l-0.6-2.3l-4.5 0.2l-0.8 5.2" fill="none" stroke="#3a2a20" stroke-opacity="0.2" stroke-width="0.5"/>
<path d="M19.1 246.3l0.7 12.7M19.9 228.9l-0.9 16.1l0.1 1.3M25.9 244.5l-6.8 1.8M26.3 259.8l-6.5-0.8M19.8 259l0.2 4l2.5 10l0.1 0.4M19.9 228.9l7.6 5.8M20.2 225.9l-0.2 1.6l-0.1 1.4M22.5 210l-2.3 15.9M20.2 225.9l10.1-4.8M28.7 211.5l-6.2-1.5M24.9 198.6l-1.9 6.4l-0.5 5M22.6 273.4l3.1 12.6M29.1 271l-6.5 2.4M31.7 200.3l-6.8-1.7M29.4 185l-1.9 5l-2.6 8.6M25.7 286l0.5 2l4.1 12.2M25.7 286l6.2-0.6M25.9 244.5l7.6 5M27.5 234.7l-1.6 9.8M26.3 259.8l4.2 6.5M33.5 249.5l-7.2 10.3M35.1 232.3l-7.6 2.4M33.5 212.6l-4.8-1.1M30.3 221.1l-1.6-9.6M34 276.7l-4.9-5.7M29.1 271l1.4-4.7M29.4 185l6.8 5.1M32 178.1l-2.6 6.9M30.3 300.2l0.9 2.8l1.6 7.9M33.9 297.2l-3.6 3M30.3 221.1l5.1 2.8M30.5 266.3l11.6-3.5M31.7 200.3l1.8 12.3M33.1 199.6l-1.4 0.7M34.2 287.5l-2.3-2.1M31.9 285.4l2.1-8.7M38.2 161.4l-3.2 8.6l-3 8.1M32 178.1l10-0.3M32.8 310.9l1 4.6l2 8.4M32.8 310.9l9.4-0.7M42 200.6l-8.9-1M36.2 190.1l-3.1 9.5M38.3 213.7l-4.8-1.1M34.4 249.5l-0.9 0M45.7 299.4l-11.8-2.2M33.9 297.2l0.3-9.7M39.4 275.8l-5.4 0.9M34.2 287.5l10-0.4M42.1 262.8l-7.7-13.3M34.4 249.5l4.4-3.3M35.1 232.3l1.9 1.4M35.4 223.9l-0.3 8.4M40 221l-4.6 2.9M35.8 323.9l4.6 0.9M35.8 323.9l0.4 1.6l-1.2 6.3l5.5 3.8M36.2 190.1l5.6-0.9M37 233.7l1.8 12.5M37 233.7l10.7-1.1M42.6 162.9l-4.4-1.5M45.7 143.4l-3.2 6.6l-4.3 11.4M40.9 214.3l-2.6-0.6M38.3 213.7l6.4-8.9M38.8 246.2l3-0.1M39.4 275.8l5.4 6.7M45.4 267.6l-6 8.2M50 226l-10-5M40 221l0.9-6.7M40.4 324.8l2.9 5.4M44.4 318.7l-4 6.1M40.5 335.6l3.3 2.4l7.4 6.4M43.3 330.2l-2.8 5.4M51.9 216.9l-7.2-1.7l-3.8-0.9M41.8 189.2l3.6 3M42.4 178.2l-0.6 11M41.8 246.1l7.7 6.5M41.8 246.1l6.9-6.1M42 177.8l0.4 0.4M42.6 162.9l-0.6 14.9M44.7 204.8l-2.7-4.2M45.4 192.2l-3.4 8.4M42.3 262.9l-0.2-0.1M44.4 318.7l-2.2-8.5M42.2 310.2l1.4-1.3M42.3 262.9l3.1 4.7M49.4 255.2l-7.1 7.7M42.4 178.2l8.7 0.5M42.7 162.9l-0.1 0M57.4 170.7l-14.7-7.8M42.7 162.9l6.4-6.7M43.3 330.2l6-0.1M43.6 308.9l11 2.8M43.6 308.9l2.1-9.5M46.8 290.2l-2.6-3.1M44.2 287.1l0.6-4.6M55.9 321.4l-11.5-2.7M44.7 204.8l5.7 0.9M44.8 282.5l8.7-7.4M45.1 126.6l0.7 0.4M45.1 126.6l-0.1 0.9l1 12.1M45.3 125.7l-0.2 0.9M47.5 110.5l-2.2 15.2M51.7 119.2l-6.4 6.5M45.4 267.6l7.4 3.2M45.4 192.2l6.2-0.6M45.7 299.4l0.7-0.8M45.7 143.4l1.7 1.3M46 139.6l0.2 2.9l-0.5 0.9M45.8 127l13.6 1.5M50.6 135.8l-4.8-8.8M46 139.6l4.6-3.8M46.4 298.6l13.8 2.7M46.8 290.2l-0.4 8.4M53.4 288.2l-6.6 2M47.4 144.7l0.3 0.3M49.1 156.2l-1.7-11.5M61.8 112.1l-1.8 0.9l-12.5-2.5M51.7 119.2l-4.2-8.7M48.7 240l-1-7.4M47.7 232.6l2-2.7M47.7 145l4.8 3.8l3.3 2.9M56.9 142.7l-9.2 2.3M48.7 240l4.1 2.1M56.2 156.9l-7.1-0.7M54.1 336.7l-4.8-6.6M49.3 330.1l6.6-8.7M60.1 261.3l-10.7-6.1M49.5 252.6l-0.1 2.6M49.5 252.6l5.2-4.3M62.6 236.4l-12.9-6.5M49.7 229.9l0.3-3.9M50 226l1.2-1.2M50.4 205.7l3 7.4M50.4 205.7l4.6-5.1M50.6 135.8l4.3 0.7M53.3 189.6l-2.2-10.9M51.1 178.7l6.4-5.5M51.2 224.8l12.5 1.2M53.3 217.3l-2.1 7.5M51.2 344.4l1.3 1.1l2.7 3.1M54.1 336.7l-2.9 7.7M51.6 191.6l3.4 9M51.6 191.6l1.7-2M55.8 119.6l-4.1-0.4M53.3 217.3l-1.4-0.4M53.4 213.1l-1.5 3.8M54.7 248.3l-1.9-6.2M52.8 242.1l9.8-5.7M52.8 270.8l0.7 4.3M52.8 270.8l6.9-5.6M53.3 189.6l10.8-1.3M64.4 219.9l-11.1-2.6M63.4 295.7l-10-7.5M57.6 279.9l-4.2 8.3M53.4 213.1l10.3-2.2M53.5 275.1l4.1 4.8M60.1 334.7l-6 2M54.6 311.7l2.6 9.2M60.4 302.7l-5.8 9M61.3 249.6l-6.6-1.3M54.9 136.5l2 6.2M59.5 130l-4.6 6.5M55 200.6l3.8 0.4M55.2 348.6l6 6.9l2.8 4.2M55.2 348.6l10.9-4.3M59.7 127.9l-3.9-8.3M61.9 112.4l-6.1 7.2M55.8 151.7l0.7 0.5l2 1.9M58.7 144.1l-2.9 7.6M57.2 320.9l-1.3 0.5M60 166l-3.8-9.1M58.5 154.1l-2.3 2.8M56.9 142.7l1.8 1.4M57.6 321l-0.4-0.1M57.4 170.7l0.1 2.5M60 166l-2.6 4.7M57.5 173.2l5.7 4.2M57.6 279.9l2.8 0.7M57.6 321l4.3 5.1M68.9 312.9l-11.3 8.1M58.5 154.1l4 3.4l1.6 0.5M58.7 144.1l4.4-0.1M64.3 209.9l-5.5-8.9M58.8 201l6.4-5M59.4 128.5l0.1 1.5M59.4 128.5l0.3-0.6M65.5 135.4l-6-5.4M59.7 127.9l7.1-4M66.3 277.5l-6.8-10.7l0.2-1.6M59.7 265.2l0.1-1.1l0.3-2.8M70.9 161.7l-10.9 4.3M65.9 339.3l-5.8-4.6M60.1 334.7l1.8-8.6M60.1 261.3l0.2-2.2M60.2 301.3l0.2 1.4M60.2 301.3l3.2-5.6M73.7 260.6l-13.4-1.5M60.3 259.1l1-9.5M60.4 280.6l5.2 10.1M60.4 280.6l5.9-3.1M60.4 302.7l8.9 8.6M61.3 249.6l1-9.4M61.8 112.1l0.1 0.3M76 106.7l-4.8-1.2l-5 4.5l-4.4 2.1M66.2 115.8l-4.3-3.4M61.9 326.1l7.6 0.9M62.3 240.2l8.2 0.8M62.3 240.2l0.3-3.8M62.6 236.4M62.6 236.4l1.1-10l0-0.4M63.9 144.5l-0.8-0.5M63.1 144l2.4-8.6M64.1 188.3l-0.9-10.9M63.2 177.4l12-2.8M63.9 295.4l-0.5 0.3M65.8 220.2l-2.1-9.3M63.7 210.9l0.6-1M63.7 226l0.7-6.1M66 155l-2.1-10.5M63.9 144.5l7-0.1M74 298.6l-10.1-3.2M65.6 290.7l-1.7 4.7M64 359.7l2.2 3.3l2.6 10l0.5 3.1M64 359.7l3.9-1.2M65.5 189.6l-1.4-1.3M64.1 158l3.2 1.1l4.2 1.3M64.1 158l1.9-3M69.9 207.4l-5.6 2.5M64.4 219.9l1.4 0.3M65.2 196l4.7 4.7M65.2 196l0.3-6.4M65.5 135.4l5.5-1.1M65.5 189.6l10.9-1.5M65.6 290.7l6.4-4.2M65.8 220.2l4 0.9l1.8 0.4M66.1 344.3l-0.2-5M73.1 332.8l-7.2 6.5M72.7 152.5l-6.7 2.5M71.7 348.7l-5.6-4.4M66.8 123.9l-0.6-8.1M74.6 113.9l-8.4 1.9M67.7 279.7l-1.4-2.2M66.8 123.9l6.6 3.1M72 286.5l-1.1-1.8l-3.2-5M77.1 271.3l-9.4 8.4M74.4 363.4l-6.5-4.9M67.9 358.5l3.8-9.8M68.9 312.9l4.3 8M69.3 311.3l-0.4 1.6M76.9 307.4l-7.6 3.9M69.3 376.1l0.7 4.9l15.8 1.1M72.8 373.2l-3.5 2.9M69.5 327l3.6 5.8M73.2 320.9l-3.7 6.1M69.9 207.4l0-6.7M69.9 200.7l6.6-3.3M77.3 210.4l-7.4-3M70.5 241l11.2 10.4M81.7 227.7l-11.2 13.3M75.2 174.6l-4.3-12.9M71.5 160.4l-0.6 1.3M70.9 144.4l1.8 8.1M75.8 140.8l-4.9 3.6M71 134.3l4.8 6.5M73.4 127l-2.4 7.3M71.5 160.4l2.3 0.8l3.2 0.4M71.6 221.5l5 1.2l5.4 1.3M78.6 213.5l-7 8M71.7 348.7l6.9-1.3M74.8 290.8l-1.1-1.7l-1.7-2.6M72.7 152.5l4.5 1.5M72.8 373.2l9.4 0.9M74.4 363.4l-1.6 9.8M73.1 332.8l5.4 1.4M73.2 320.9l8.3 0.2M73.4 127l3.3-1.2M73.7 260.6l3.4 10.7M81.7 251.4l-8 9.2M74 298.6l2.9 8.8M77.5 295.1l-3.5 3.5M79.9 361.7l-5.5 1.7M78.5 118.4l-3.9-4.5M74.6 113.9l1.4-7.2M77.5 295.1l-2.7-4.3M74.8 290.8l11.4-4.4M75.2 174.6l0.8 0.5M75.8 140.8l0.4 0M87.7 109.6l-11.7-2.9M79 180.6l-3-5.5M76 175.1l10.6-8.7M76.2 140.8l6 6.6M84.5 132.2l-8.3 8.6M76.4 188.1l1.3 2.2M79 180.6l-2.6 7.5M76.5 197.4l4.6 6.1M76.5 197.4l1.2-7.1M76.7 125.8l7.8 5.2M78.5 118.4l-1.8 7.4M78.9 307.8l-2-0.4M77 161.6l8.8 1.2M77.2 154l-0.2 7.6M77.1 271.3l11.7 4M81.7 150.5l-4.5 3.5M77.3 210.4l1.3 3.1M81.1 203.5l-3.8 6.9M83.5 304.4l-0.8-1.1l-5.2-8.2M77.7 190.3l11.6 4.2M78.5 334.2l0.3 12.9M83 331.4l-4.5 2.8M86.8 116.1l-8.3 2.3M78.6 213.5l2.4 1.1M82 353l-3.4-5.6M78.6 347.4l0.2-0.3M78.8 347.1l13.3-4.7M83.6 318.3l-4.7-10.5M78.9 307.8l5-2.7M90.6 180.7l-11.6-0.1M87.1 366.7l-7.2-5M82 353l-2.1 8.7M85.2 224.7l-4.2-10.1M81 214.6l13.5-3.4M87.8 201.2l-6.7 2.3M83 331.4l-1.5-10.3M81.5 321.1l2.1-2.8M88.8 156.8l-7.1-6.3M81.7 150.5l0.5-3.1M82.9 251.2l-1.2 0.2M89.8 243l-8.1-15.3M82 224l-0.3 3.7M91.1 354.8l-9.1-1.8M82 224l3.2 0.7M82.2 374.1l3.6 8M82.2 374.1l4.9-7.4M82.2 147.4l9-4.8M93.8 261.7l-10.9-10.5M89.8 243l-6.9 8.2M89.7 332.9l-6.7-1.5M83.9 305.1l-0.4-0.7M94.8 298.1l-11.3 6.3M91.7 317.3l-8.1 1M91.7 317.3l-7.8-12.2M84.5 131l0 1.2M84.5 131l5-4.1M91.1 140.8l-6.6-8.6M85.2 224.7l5.7 1.4l0.4 0.1M85.8 162.8l0.8 0.1M86.6 166.4l-0.8-3.6M85.8 382.1l5.6 0.4M86.2 286.4l8.8 10.8M86.2 286.4l2.6-11.1M86.6 162.9l0.9 0.1l12.3-1.8M86.6 162.9l2.2-6.1M91.6 169.9l-5-3.5M90.1 119.6l-3.3-3.5M86.8 116.1l0.9-6.5M87.1 366.7l6-0.9M99.8 112.6l-12.1-3M95.1 210.5l-7.3-9.3M89.3 194.5l-1.5 6.7M88.8 275.3l5-2.6M88.8 156.8l3.6-1.3M89.3 194.5l3.2-2.4M96.4 129.2l-6.9-2.3M89.5 126.9l0.6-7.3M94.2 337.9l-4.5-5M89.7 332.9l5-10.9M96.8 241.7l-7 1.3M97.4 118.1l-7.3 1.5M92.5 192.1l-1.9-11.4M92.6 178.4l-2 2.3M91.2 142.6l-0.1-1.8M91.1 140.8l6.4-6.1M93.1 365.8l-2-11M94.1 351.1l-3 3.7M91.4 142.8l-0.2-0.2M91.3 226.2l0.2 0l7.2 1.7M94.5 211.2l-3.2 15M91.4 382.5l13.6 1M91.4 382.5l4.6-10.5M91.4 142.8l11.3 0M94.7 150.2l-3.3-7.4M91.6 169.9l1 8.5M102 164.1l-10.4 5.8M92.9 319.3l-1.2-2M92.1 342.4l2 8.7M92.1 342.4l2.2-4.4M92.4 155.5l7.4 5.7M94.7 150.2l-2.3 5.3M95.5 192.7l-3-0.6M92.6 178.4l12.2 0.8M94.7 322l-1.8-2.7M103.9 314l-11 5.3M93.1 365.8l0.8 0.4M97.3 274l-3.5-1.3M93.8 272.7l0-11M93.8 261.7l10.6-7.1M93.9 366.2l2.1 5.8M104.6 360.9l-10.7 5.3M94.1 351.1l10.2 1.5M94.3 338l-0.1-0.1M94.2 337.9l6.9-5.8M104 343l-9.7-5M95.1 210.5l-0.6 0.7M101.1 332.1l-6.4-10.1M103 150.4l-8.3-0.2M94.8 298.1l9.1 15.9M95 297.2l-0.2 0.9M107.1 288.6l-12.1 8.6M95.6 210.5l-0.5 0M95.5 192.7l7.8 10.1M103.8 187.8l-8.3 4.9M105.1 220.1l-9.5-9.6M103.3 203.8l-7.7 6.7M96 372l10.4 4.3M97.5 134.7l-1.1-5.5M96.4 129.2l6.1-4.5M104.7 245.9l-7.9-4.2M99.3 228.1l-2.5 13.6M107.1 288.6l-9.8-14.6M113.2 267.6l-15.9 6.4M102.5 124.7l-5.1-6.6M97.4 118.1l2.4-5.5M97.5 134.7l6.4 2.2M98.7 227.9l0.6 0.2M98.7 227.9l6.4-7.8M99.3 228.1l8.2 1.9M99.8 161.2l0.2 0l0.9 0.3M107.6 114.5l-7.8-1.9M100.9 161.5l1.7 0.6M100.9 161.5l2.9-2.9M102.8 334.9l-1.7-2.8M106.7 177.7l-4.7-13.6M102 164.1l0.6-2M102.5 124.7l2.5 0.3M102.6 162.1l4.9 1.7l7 1.9M102.7 142.8l1.5 3.1M103.9 136.9l-1.2 5.9M106.9 341.3l-0.1-0.2l-4-6.2M102.8 334.9l2.9-2M103.8 158.6l-0.8-8.2M103.6 149.7l-0.6 0.7M103.3 203.8l0-1M103.3 202.8l6.3-9.5M111.4 207.5l-8.1-3.7M112.2 151.2l-8.6-1.5M103.6 149.7l0.6-3.8M103.8 187.8l5.8 5.5M104.8 179.2l-1 8.6M114.5 159l-10.7-0.4M106.5 135.4l-2.6 1.5M103.9 314l2.1 0.5M104.3 352.6l-0.3-9.6M106.9 341.3l-2.9 1.7M104.2 145.9l8.8-2.9M105.9 354.3l-1.6-1.7M104.4 254.6l8.8 13M104.4 254.6l1.6-4.9M110.6 366.9l-6-6M104.6 360.9l1.3-6.6M106 249.7l-1.3-3.8M104.7 245.9l13.4-14.7M106.7 177.7l-1.9 1.5M105 383.5l0 4.8M105 383.5l-3.8 2.5l3.8 2.3M106.4 376.3l-1.4 4.5l0 2.7M105 388.3l11.5 6.8M105 125l1.5 10.4M105.3 124.9l-0.3 0.1M105.1 220.1l4.2-0.2M113.6 127.8l-8.3-2.9M105.3 124.9l3.1-4.9M114.8 334.8l-9.1-1.9M105.7 332.9l0.3-18.4M105.9 354.3l5.7-1.4M120.1 252.2l-14.1-2.5M106 314.5l3.1-0.6M106.9 374.8l-0.5 1.5M106.5 135.4l6.2 1.5M112.6 177.5l-5.9 0.2M119.7 382l-12.8-7.2M110.6 366.9l-3.1 6.1l-0.6 1.8M112.1 349.5l-5.2-8.2M110.6 289l-3.5-0.4M107.5 230l6.1 0.7M109.3 219.9l-1.8 10.1M120.5 117.7l-12.9-3.2M107.6 114.5l0.8 5.5M108.4 120l10 0.3M109.1 313.9l5.9 2.9M109.1 313.9l7.1-15M109.3 219.6l0 0.3M114.8 223.7l-5.5-4.1M110.7 211.4l-1.4 8.2M109.6 193.3l4.6-0.4M116.2 298.9l-5.6-9.9M120.8 278.9l-10.2 10.1M112.4 357.8l1.4 2.7l-3.2 6.4M110.7 211.4l8.8 1M111.4 207.5l-0.5 3l-0.2 0.9M112.9 199.2l-0.5 2.8l-1 5.5M111.6 352.9l-0.4 2.6l1.2 2.3M112.1 349.5l-0.1 1l-0.4 2.4M112.8 344.2l-0.7 5.3M112.2 151.2l2.8 5.3M114 144.4l-1.8 6.8M129.4 361.4l-17-3.6M120.2 182.9l-7.6-5.4M116.6 166.2l-4 11.3M112.7 136.9l0.3 6.1M112.7 136.9l3.5-2.8M114.8 334.8l-1.8 8.2l-0.2 1.2M112.8 344.2l14.8-4M118.5 199.8l-5.6-0.6M114.2 192.9l-0.4 0.9l-0.9 5.4M113 143l1 1.4M116.4 268.4l-3.2-0.8M116.2 134.1l-2.6-6.3M118.4 120.3l-4.8 7.5M113.6 230.7l4.2 0.5l0.3 0M113.6 230.7l1.2-7M120 145.8l-6-1.4M116.4 188.4l-0.2 0.4l-2 4.1M114.5 165.7l2.1 0.5M114.5 165.7l0.3-6.2M114.5 159l0.3 0.5M115 156.5l-0.5 2.5M119.1 221.3l-4.3 2.4M114.8 159.5l7.7 0.9M120.8 332.9l-0.8 0.6l-4.5-1.7l-0.7 3M115 156.5l6.3-5.4M115 316.8l5.8 16.1M115 316.8l10.6-2M116.2 298.9l12.3 0.9M116.4 134.1l-0.2 0M116.4 134.1l8.5 6.6M125 127.3l-8.6 6.8M116.4 268.4l4.4 10.5M122.3 261.1l-5.9 7.3M116.4 188.4l5.3 3M120.2 182.9l-3.1 4.5l-0.7 1M116.5 395.1l19.8 11.7M121.6 386.8l-5.1 8.3M116.6 166.2l4.6 1.3M118.1 231.2l3.7 0.4M118.4 120.3l1.6-0.7M118.5 199.8l4 10M120.5 198.3l-2 1.5M127.7 225.4l-8.6-4.1M119.5 212.4l-0.4 8.9M122.3 210.6l-2.8 1.8M119.7 382l1.9 4.8M129.4 361.4l-9.7 20.6M125 127.3l-5-7.7M120 119.6l0.5-1.9M121.3 151.1l-1.3-5.3M120 145.8l4.9-5.1M122.3 261.1l-2.2-8.9M126.9 242.1l-6.8 10.1M120.5 182.4l-0.3 0.5M130 120l-9.5-2.3M120.5 198.3l9.3 0.5M121.7 191.4l-1.2 6.9M126.1 184.1l-5.6-1.7M122.8 173.5l1 4l-3.3 4.9M123.1 331.1l-2.3 1.8M131.9 281.5l-11.1-2.6M121.2 167.5l1.6 6M121.2 167.5l1.3-7.1M124.1 151.9l-2.8-0.8M121.6 386.8l18.1 2.1M126.5 188.8l-4.8 2.6M121.8 231.6l3.6 0.4M121.8 231.6l5.1 10.5M135.7 261.6l-13.4-0.5M122.3 210.6l6.9 4.8M122.5 209.8l-0.2 0.8M130.7 203.3l-8.2 6.5M122.5 160.4l0.1-0.4M126.6 161.7l-4-1.7M122.6 160l1.5-8.1M122.8 173.5l3.6-0.4M127.7 339.3l-4.6-8.2M125 318l-1.2 12.5l-0.7 0.6M124.1 151.9l1-5.3M124.9 140.7l1.3-0.1M128.5 128.3l-3.5-1M131 319l-6-1M125 318l0.6-3.2M128.5 146.8l-3.4-0.2M125.1 146.6l1.1-6M125.4 232l12.4 1.4M127.7 225.4l-2.3 6.6M125.6 314.8l0.4-2.2l0.8-3.9M126.1 184.1l0.4 4.7M130.8 178.7l-4.7 5.4M126.2 140.6l1.1-6.3M126.4 173.1l4.4 5.6M128.6 166.4l-2.2 6.7M126.5 188.8l3.3 2.6M128.6 166.4l-2-4.7M126.6 161.7l8.7-5.9M131 319l-4.2-10.3M126.8 308.7l0.2-1.2l0.2-0.8M126.9 242.1l11.6 4.8M127.2 306.7l0.7-4.1l0.6-2.8M127.2 306.7l10.5-1.3M127.3 134.3l0.1 0l1.1-6M131.2 134l-3.9 0.3M127.6 340.2l6.2 11.5M127.7 339.3l-0.1 0.9M129.6 224.2l-1.9 1.2M139.8 329.9l-12.1 9.4M128.5 128.3l0.2-1.4l0.7-3.8M128.5 299.8l1.9-10.3M128.5 146.8l6.8 9M136.9 141.2l-8.4 5.6M139.3 168.1l-10.7-1.7M129.6 224.2l-0.4-8.8M129.2 215.4l7.5-4.3M129.6 361.3l-0.2 0.1M133.6 129.8l-4.2-6.7M129.4 123.1l0.6-3.1M134.7 224.8l-5.1-0.6M143.7 372.1l-14.1-10.8M133.8 351.7l-4.2 9.6M129.8 198.8l0-7.4M129.8 191.4l7.3-2.6M131.1 200.4l-1.3-1.6M139.8 121.7l-9.8-1.7M135.2 292.1l-4.8-2.6M130.4 289.5l1.2-6l0.3-2M136.7 211.1l-6-7.8M130.7 203.3l0.4-2.9M130.8 178.7l0.4 0.1M137.9 320.2l-2.9-0.5l-4-0.7M139.9 198.3l-8.8 2.1M131.2 178.8l5.4 4.3M131.2 178.8l8.7-8.2M136.9 141.2l-5.7-7.2M131.2 134l2.4-4.2M131.9 281.5l0.3-1.1l0.7-3.9M132.9 276.5l11.5 1.5M132.9 276.5l2.8-14.9M138.9 128.6l-5.3 1.2M150.7 346.6l-16.9 5.1M138.1 227.9l-3.4-3.1M139.8 217.9l-5.1 6.9M137.7 305.4l-2.5-13.3M143.6 290.5l-8.4 1.6M135.3 155.8l0.6 0M135.7 261.6l0.4-1.8l0.1-0.8M135.9 155.8l4.9 8.8M135.9 155.8l6.9-5.1M136.2 259l12 4.8M136.2 259l0.1-0.5l2-10.4M136.3 406.8l11.2 6.7l3.4 0.6M136.3 406.8l3.4-17.9M137.1 188.8l-0.5-5.7M136.6 183.1l9.6-4.6M136.7 211.1l0.1 0M136.8 211.1l3 6.8M141.7 208.1l-4.9 3M138.1 141.3l-1.2-0.1M140.2 191.3l-3.1-2.5M137.7 305.4l0.3 0.1M137.8 233.4l3.2 0.4M138.1 227.9l-0.3 5.5M138.4 320.3l-0.5-0.1M138 305.5l-0.1 14.7M144.9 304.9l-6.9 0.6M148.1 226.7l-10 1.2M139.5 144.1l-1.4-2.8M138.1 141.3l-0.6-1.3l1.3-10.6M138.3 248.1l0.2-1.2M151.8 247.3l-13.5 0.8M145.1 321.5l-6.7-1.2M138.4 320.3l1.4 9.6M138.5 246.9l2.5-13.1M138.8 129.4l1.3 0.3M138.8 129.4l0.1-0.8M138.9 128.6l0.9-6.9M139.9 170.6l-0.6-2.5M140.8 164.6l-1.5 3.5M142.8 150.7l-3.3-6.6M144.9 143l-5.4 1.1M139.7 388.9l1-0.6M149.2 123.4l-9.4-1.7M139.8 217.9l9.1 1.7M139.8 329.9l13.3 9.8M139.9 198.3l3.5 3.3M140.2 191.3l-0.3 7M146.6 176.5l-6.7-5.9M145.7 139.6l-5.6-9.9M140.1 129.7l7.9-2M150 187.8l-9.8 3.5M140.7 388.3l18.2 6.2M143.7 372.1l-3 16.2M147.8 162l-7 2.6M141 233.8l8.3 0.9M150.5 214.1l-8.8-6M143.4 201.6l-1.7 6.5M145.7 156.9l-0.7-1.9l-2.2-4.3M151.8 200.1l-8.4 1.5M148.2 294.4l-4.6-3.9M143.6 290.5l0.8-12.5M158.3 365.9l-14.6 6.2M144.4 278l1.8-0.8M148.4 146.4l-3.5-3.4M145.7 139.6l-0.8 3.4M151.5 310.5l-6.6-5.6M144.9 304.9l3.3-10.5M157.2 323.6l-9.9-1.8l-2.2-0.3M145.1 321.5l6.4-11M154.6 133.4l-8.9 6.2M147.8 162l-0.8-2.1l-1.3-3M145.7 156.9l0.6-0.4M146.2 277.2l5.3 1.5M146.2 277.2l2-13.4M146.2 178.5l0.5 1.1M146.2 178.5l0.4-2M155.1 157.3l-8.8-0.8M146.3 156.5l2.1-10.1M146.6 176.5l1.1-0.7M147.3 181.1l-1.1 0.1l0.5-1.6M146.7 179.6l0.7-2.7l0.3-1.1M147.3 181.1l2.7 6.7M155 180l-7.7 1.1M147.7 175.8l0.3-0.9l1.1-4.2M149.1 170.7l0.9-3.2l-2.2-5.5M148 127.7l6.6 5.7M148 127.7l1.2-4.3M150.3 230.1l-2.2-3.4M148.9 219.6l-0.8 7.1M148.2 263.8l6-2.7M148.2 294.4l4.9-1.3M148.4 146.4l6.4-0.3M151.3 216.5l-2.4 3.1M150.8 170.9l-1.7-0.2M161.8 125.6l-12.6-2.2M149.3 234.7l2.3 0.3M149.3 234.7l1-4.6M151 188.3l-1-0.5M150.3 230.1l7.1-0.7M151.3 216.5l-0.8-2.4M150.5 214.1l3.6-12.3M159.9 363.4l-9.2-16.8M150.7 346.6l2.4-6.9M150.8 170.9l3.5 4.2M157.3 164.6l-6.5 6.3M150.9 414.1l24.1 3.9l0.5 0M160.4 401.9l-9.5 12.2M151 188.3l0.8 11.8M156.7 186.9l-5.7 1.4M157.7 217l-6.4-0.5M151.5 278.7l5.4 9.4M161.2 273.2l-9.7 5.5M153.4 310.4l-1.9 0.1M151.6 235l6.4 0.7l3 0.4M151.6 235l0.2 12.3M155.3 250l-3.5-2.7M151.8 200.1l2.3 1.7M153.1 339.7l3.7-2.6M153.1 293.1l6.2 7.9M156.9 288.1l-3.8 5M153.4 310.4l5.6 3.6M159.3 301l-5.9 9.4M154.1 201.8l4.9 0.2M154.2 261.1l7 12.1M157 256.9l-2.8 4.2M155 180l-0.7-4.9M154.3 175.1l10.5-1.4M154.6 133.4l1.3 0.1M154.8 146.1l4.6 6.2M154.8 146.1l4-7.7M155.5 181.9l-0.5-1.9M155.1 157.3l2.2 7.3M159.4 152.3l-4.3 5M157 256.9l-1.7-6.9M164.9 242.7l-9.6 7.3M164 182.3l-8.5-0.4M156.7 186.9l-0.7-2.8l-0.5-2.2M155.9 133.5l2.9 4.9M161.8 125.6l-5.9 7.9M158.1 192.5l-1.4-5.6M169.2 337.6l-12.4-0.5M156.8 337.1l0.4-13.5M156.9 288.1l8.6-0.8M170.9 259l-13.9-2.1M159.3 323.9l-2.1-0.3M157.3 164.6l6.6 0.7M161.1 234.3l-3.7-4.9M157.4 229.4l3.7-4.8M161.1 224.6l-3.4-7.6M157.7 217l2.5-1.9M160.8 200.2l-0.8-0.2l-1.9-7.5M158.1 192.5l8.3-4.2M164.4 387.6l-6.1-21.7M159.9 363.4l-1.6 2.5M158.8 138.4l7.3 1.8M158.9 394.5l1.5 7.4M158.9 394.5l5.5-6.9M159 202l1.8 3.4M160.8 200.2l-1.8 1.8M159 314l0.3 9.9M159 314l10.4-2.1M170.4 325.8l-11.1-1.9M165.2 300.1l-5.9 0.9M167.8 152.4l-8.4-0.1M168.6 361.8l-8.7 1.6M160.2 215.1l8.4 0M160.2 215.1l0.6-9.7M176.4 410.6l-16-8.7M160.8 205.4l7.9 2.8M163.5 200.9l-2.7-0.7M161 236.1l3.3 0.3M161.1 234.3l-0.1 1.8M170.1 230.4l-9 3.9M161.1 224.6l7.8 1.1M161.2 273.2l6.3 1.6M169.2 126.9l-7.4-1.3M174.8 201.3l-4.8 1.2l-6.5-1.6M171.7 193.3l-8.2 7.6M163.9 165.3l1.6 7.6M163.9 165.3l5.8-5.8M166.3 184.8l-2.3-2.5M164 182.3l0.8-8.6M164.3 236.4l2.8 0.4l3.9 0.4M164.9 242.7l-0.6-6.3M164.4 387.6l15.2-2.9M164.8 173.7l0.7-0.8M174.1 247.7l-9.2-5M170.2 310.2l-5-10.1M167 297l-1.8 3.1M165.5 287.3l1.5 9.7M165.5 287.3l2.5-2.8M165.5 172.9l12 2.2M166.1 140.2l1.7 12.2M167.6 139l-1.5 1.2M166.3 184.8l0.1 3.5M177.8 177.9l-11.5 6.9M166.4 188.3l5.3 5M176.5 297.6l-9.5-0.6M167.5 274.8l0.5 9.7M167.5 274.8l2.6-2.5M178.3 139.3l-10.7-0.3M167.6 139l1.6-12.1M167.8 152.4l0.9 0.7M168 284.5l11.9 3.5M182.4 368.6l-13.8-6.8M175.2 344.1l-6.6 17.7M168.6 215.1l0.3 10.6M168.9 214.9l-0.3 0.2M169.7 159.5l-1-6.4M168.7 153.1l8.7-4M168.9 214.9l-0.2-6.7M168.7 208.2l6-6.2M171.9 214.9l-3 0M168.9 225.7l0.7 0.7M172.8 127.5l-2.8-0.5l-0.8-0.1M169.2 337.6l6 6.5M174.8 326.6l-5.6 11M169.4 311.9l3.7 7.6M170.2 310.2l-0.8 1.7M169.6 226.4l0.9 2.8M178.7 220.3l-9.1 6.1M169.7 159.5l6.5 4.4M170.1 230.4l0.9 6.8M170.5 229.2l-0.4 1.2M182.1 273.7l-12-1.4M170.1 272.3l0.8-13.3M179.5 305.1l-9.3 5.1M174.8 326.6l-4.4-0.8M173.1 319.5l-2.7 6.3M177.6 230.2l-7.1-1M170.9 259l2.4-1.9M171 237.2l4 0.5M174.5 193.9l-2.8-0.6M171.9 214.9l6.8 5.4M178 210l-6.1 4.9M187.3 130.1l-14.5-2.6M172.8 127.5l7.1 10.1M173.1 319.5l10.4-0.1M182.7 262l-9.7-1.5l0.3-3.4M173.3 257.1l0.5-5.9l0.3-3M174.1 248.2l8.6 13.8M174.1 248.2l0-0.5M174.1 247.7l0.1-0.7M174.2 247l0.8-9.3M195.6 246.4l-21.4 0.6M174.5 193.9l3.5 6.6M181.7 184.4l-7.2 9.5M174.7 202l3.3 8M174.7 202l0.1-0.7M178 200.5l-3.2 0.8M184.8 328.3l-10-1.7M175 237.7l1.2 0.1l0.3-1.7M175.2 344.1l11.9 0M175.5 418l12 1l0.5-4.2l1.5 0M175.9 414.7l-0.4 3.3M176.4 410.6l-0.5 4.1M188.3 413.1l-12.4 1.6M176.2 163.9l1.4 10.9M176.2 163.9l9.6-5.1M177.2 403.9l-0.8 6.7M179.5 305.1l-3-7.5M180.3 289.1l-3.8 8.5M176.5 236.1l1.1-5.9M186 231l-9.5 5.1M179.2 387.5l-2 16.4M177.2 403.9l11.3-1.8M184.2 152.3l-6.8-3.2M177.4 149.1l0.9-9.8M177.5 175.1l0.3 2.8M177.6 174.8l-0.1 0.3M177.6 230.2l1.9-9.9M190.4 169.9l-12.8 4.9M177.8 177.9l3.9 6.5M178 210l3.1 1.7M183.4 199.2l-5.4 1.3M179.9 137.6l-1.6 1.7M179.5 220.3l-0.8 0M179.2 387.5l7.8 1.6M179.6 384.7l-0.4 2.8M179.5 220.3l0-0.3M183.8 306.2l-4.3-1.1M179.5 220l3.4 1.1M179.5 220l0.7-3.4l0.9-4.9M182.2 369.3l-2.2 11.7l-0.4 3.7M184.7 136.3l-4.8 1.3M179.9 288l0.4 1.1M179.9 288l4.3-6.5M180.3 289.1l10.2 6.7M181.1 211.7l1.1-6.1M181.7 184.4l8.4 2.4M184.2 281.5l-2.1-7.8M182.1 273.7l5.1-6.5M186.7 206.3l-4.5-0.7M182.2 205.6l1.2-6.4M190.2 371.2l-8-1.9M182.4 368.6l-0.2 0.7M186.1 349.3l-2.7 14.1l-1 5.2M187.1 262.6l-4.4-0.6M182.9 221.1l3.1 9.9M182.9 221.1l8.6-6.6M183.4 199.2l0.4-2.2l6 0.4M184.8 328.3l-1.3-8.9M183.5 319.4l5.3-5.9M188.8 313.5l-5-7.3M190.5 295.8l-6.7 10.4M195.4 282.5l-11.2-1M185.8 158.8l-1.6-6.5M184.2 152.3l8.2-8.2M192.4 144.1l-7.7-7.8M187.3 130.1l-2.6 6.2M190 329.2l-5.2-0.9M189.3 161l-3.5-2.2M193.2 233.4l-7.2-2.4M186.1 349.3l7.2 4.6M187.1 344.1l-1 5.2M191.5 214.5l-4.8-8.2M193.4 197.6l-6.7 8.7M188.5 402.1l-1.5-13M187 389.1l4.5-3.2M187.3 343.1l-0.2 1M193 263.5l-2.9-0.4l-3-0.5M187.1 262.6l0.1 4.6M187.2 267.2l9.3 6.1M199 132.2l-11.7-2.1M190 329.2l-2.7 13.9M198.6 336.1l-11.3 7M189.5 414.8l-1.2-1.7M189.2 402.8l-0.9 10.3M188.5 402.1l0.7 0.7M191.8 313.9l-3-0.4M189.2 402.8l8.1 0.2M189.3 161l1.1 8.9M197.2 157.7l-7.9 3.3M189.5 414.8l12.6 0M189.8 197.4l3.6 0.2M189.8 197.4l0.3-10.6M199 330.3l-9-1.1M190 329.2l0.6-5.5M190.1 186.8l3.6-2M193.5 379.9l-3.3-8.7M194.6 366.6l-4.4 4.6M194.6 173l-4.2-3.1M190.5 295.8l3.4-0.7M190.6 323.7l7.2 0.6M190.6 323.7l0.2-1.4l1-8.4M204.8 393.8l-13.3-7.9M191.5 385.9l2-6M195.5 215.5l-4-1M191.8 313.9l0.1-1.5M191.9 312.4l1.6-13.7M193.8 312.1l-1.9 0.3M192.4 144.1l0.1 0M199.3 150l-6.8-5.9M192.5 144.1l6.9-8.1M197.5 264.2l-4.5-0.7M193 263.5l2.8-16.5M196.5 241.6l-3.3-8.2M193.2 233.4l4.6-7M194.6 366.6l-1.3-12.7M193.3 353.9l10.1-1.3M193.4 197.6l6.2 0.4M193.5 379.9l13.1-1.9M193.5 298.7l6.9 6.2M193.5 298.7l0.3-2.1M193.7 184.8l9.3 2.2M194.6 173l-0.9 11.8M201.9 318.3l-8.1-6.2M200.4 304.9l-6.6 7.2M193.8 296.6l0.1-1.5M201.1 291.9l-7.3 4.7M193.9 295.1l0.4-3.4l0.7-5.6M205.6 366.6l-11 0M203.2 169.9l-8.6 3.1M195 286.1l3 0.2M195 286.1l0.4-3.6M195.4 282.5l0.4-3.3l0.4-3.9M197.8 226.4l-2.3-10.9M195.5 215.5l4.3-2.5M195.8 247l-0.2-0.6M196.5 241.6l-0.9 4.8M195.8 247l15.3 5.3M200.9 277.1l-4.7-1.8M196.2 275.3l0.3-2M196.5 273.3l1-9.1M211.9 235.6l-15.4 6M204 165.4l-6.8-7.7M199.7 151.2l-2.5 6.5M203.1 411l-5.8-8M197.3 403l7.5-9.2M197.5 264.2l7.1 0.4M197.8 226.4l10.4 0M197.8 324.3l1.2 6M202.3 320.8l-4.5 3.5M198 286.3l3.1 5.6M202 280.1l-4 6.2M204.3 341.1l-5.7-5M198.6 336.1l0.6-5.8M199.2 330.3l-0.2 0M211.9 134.5l-0.1 0l-12.8-2.3M199.4 136l-0.4-3.8M206.9 331.2l-7.7-0.9M199.3 150l0.4 1.2M208.8 140.7l-9.5 9.3M199.4 136l9.4 4.7M199.6 198l6.6 0.4M199.6 198l3.5 7.7M199.7 151.2l9.6 2.8M199.8 213l12 6.6M203.1 205.7l-3.3 7.3M200.4 304.9l0.3 0M206.2 310.6l-5.5-5.7M200.7 304.9l5.5-6M200.9 277.1l1.1 3M204 274.2l-3.1 2.9M201.5 292l-0.4-0.1M201.5 292l4.7 6.9M209.9 286.2l-8.4 5.8M201.9 318.3l0.4 2.5M206.2 310.6l-4.3 7.7M202 280.1l8.3 5.2M202.1 414.8l9.9 0l0.2 0.4M203.1 411l-1 3.8M208.1 323.4l-5.8-2.6M203 187l3.6 9.7M203 187l4.6-4.7M213.5 406.3l-10.4 4.7M217 206.1l-13.9-0.4M207.9 174.5l-4.7-4.6M204 165.4l-0.8 4.5M203.4 352.6l6.6 4.7M203.4 352.6l0.9-11.5M210.7 160.8l-6.7 4.6M212.9 274.4l-8.9-0.2M204.6 264.6l-0.6 9.6M204.3 341.1l9.5-1.1M204.6 264.6l0.3 0l0.9 0.1M204.8 393.8l2.3-0.4M205.6 366.6l3.2 7.7M210 357.3l-4.4 9.3M205.8 264.7l6.2 0.3l0.3 0M205.8 264.7l9.3 7.8M206.2 298.9l5.3-0.2M206.2 198.4l5.8 0.4l8.7 1.1M206.2 198.4l0.4-1.7M208.9 310.6l-2.7 0M206.6 378l3.2 12.4M206.6 378l2.2-3.7M206.6 196.7l11-4.1M215.4 332l-3.4-0.2l-5.1-0.6M206.9 331.2l1.2-7.8M207.1 393.4l6.4 12.9M209.8 390.4l-2.7 3M217 184.4l-9.4-2.1M207.6 182.3l0.3-7.8M207.9 174.5l9.8-2.8M210.4 322.8l-2.3 0.6M208.2 226.4l3.7 9.2M211.8 219.6l-3.6 6.8M208.8 374.3l11.1-0.1M209.7 140.6l-0.9 0.1M208.9 310.6l3.8 4.6M214.3 304.5l-5.4 6.1M210.7 160.8l-1.4-6.8M209.3 154l5.8-6.1M215.2 146.1l-5.5-5.5M211.9 134.5l-2.2 6.1M219 389.3l-9.2 1.1M212.6 296.7l-2.7-10.5M210.3 285.3l-0.4 0.9M213.1 356.7l-3.1 0.6M210.3 285.3l0.4-0.3M215.7 324.8l-5.3-2M210.4 322.8l2.3-7.6M220.4 285.5l-9.7-0.5M210.7 285l2.2-10.6M213.8 161.8l-3.1-1M213.4 255.2l-2.3-2.9M211.1 252.3l3.4-15.6M211.5 298.7l2.8 5.8M211.5 298.7l1.1-2M211.8 219.6l6.2-2.9M222.2 135.7l-10.3-1.2M214.5 236.7l-2.6-1.1M212.2 415.2l2.8 4.8M217.4 415.2l-5.2 0M212.3 265l4.5 0.4M212.3 265l1.1-9.8M212.6 296.7l9.2-3.1M212.7 315.2l6.4-0.9M215.1 272.5l-2.2 1.9M213.1 356.7l9.8 7.5M219.3 346.3l-6.2 10.4M213.4 255.2l9.6-4M213.5 406.3l2.4 0.9M213.8 340l5.5 6.3M215.4 332l-1.6 8M218.1 169.4l-4.3-7.6M213.8 161.8l8.4-6M220.2 306.5l-5.9-2M214.5 236.7l8.2-0.8M215 420l2 3.5l3.5 3.5M215 420l6-0.1M216.1 272.2l-1 0.3M215.1 147.9l7.1 7.9M215.2 146.1l-0.1 1.8M223.1 142l-7.9 4.1M219.2 332.2l-1.5-0.1l-2.3-0.1M219.2 332.2l-3.5-7.4M220.5 320l-4.8 4.8M217.4 415.2l-1.5-8M215.9 407.2l11.2-6.1M216.1 272.2l6.5 10.7M216.8 271.5l-0.7 0.7M216.8 271.5l0-6.1M226.1 270.2l-9.3 1.3M216.8 265.4l11.7 1.1M219 189.1l-2-4.7M221.4 176.7l-4.4 7.7M218 216.7l-1-10.6M217 206.1l3.7-6.2M222.4 415.1l-5 0.1M222.8 200.1l-5.2-7.5M217.6 192.6l1.4-3.5M217.7 171.7l3.7 5M217.7 171.7l0.4-2.3M218 216.7l5.5 3.6M224.8 165.1l-6.7 4.3M225.1 393.3l-6.1-4M219 389.3l2-13.5M219 189.1l12.9-1.3M219.1 314.3l1.4 5.7M219.1 314.3l2.1-3.3M223.1 332.4l-1.7-0.1l-2.2-0.1M219.3 346.3l6-0.8M219.9 374.2l1.1 1.6M222.9 364.2l-3 10M221.2 311l-1-4.5M225.7 301l-5.5 5.5M221.8 293.6l-1.4-8.1M220.4 285.5l2.2-2.6M220.5 427l5 5M220.5 427l1.4-5.8M220.5 320l6.5 1.8M220.7 199.9l2.1 0.2M221 419.9l0.9 1.3M221 419.9l1.4-4.8M221 375.8l13.1 3.3M221.2 311l10 3.3M227 177.5l-5.6-0.8M224.3 295.5l-2.5-1.9M221.9 421.2l6.5 1.4M235.9 137.4l-13.7-1.7M223.1 142l-0.9-6.3M222.2 155.8l3.7 0.8M230.1 415l-7.7 0.1M222.6 282.9l4.8-1.4M223 251.2l-0.3-15.3M222.7 235.9l0.7-0.5M222.8 200.1l4.8 0.6l1.6 0.2M232.4 361.1l-9.5 3.1M229.7 254.2l-6.7-3M230.8 332.8l-6.4-0.3l-1.3-0.1M227.7 324.5l-4.6 7.9M229.2 144.4l-6.1-2.4M223.4 235.4l6.6 1.1M223.5 220.3l-0.1 15.1M235.7 216.8l-12.2 3.5M225.7 301l-1.4-5.5M232.8 290.3l-8.5 5.2M231 170.8l-6.2-5.7M224.8 165.1l1.9-7.6M227.1 401.1l-2-7.8M235 383.8l-9.9 9.5M232.1 351.7l-6.8-6.2M225.3 345.5l5.5-12.7M225.5 432l1.5 1.5l1.7 4.2M225.5 432l3.2-2.8M230.7 302.9l-5-1.9M225.9 156.6l0.8 0.9M225.9 156.6l3.3-12.2M226.1 270.2l3 8.6M228.5 266.5l-2.4 3.7M226.7 157.5l8.3 1.4M232.4 184.7l-5.4-7.2M227 177.5l4-6.7M227.7 324.5l-0.7-2.7M227 321.8l4.2-7.5M227.1 401.1l3.5 2.1M233 289.2l-5.6-7.7M227.4 281.5l1.7-2.7M234.2 326.4l-6.5-1.9M228.7 429.2l-0.3-6.6M228.4 422.6l1.2-1.4M228.5 266.5l1.9 0.2M228.7 429.2l7.6 0.8M228.7 437.7l7.3 0.2M228.7 437.7l4 9.5M229.1 278.8l9.8-2.2M229.2 144.4l3-1M229.2 200.9l7.3 0.9M232.1 188.2l-2.9 12.7M229.6 421.2l7.8 1.5M229.6 421.2l0.5-6.2M229.7 254.2l2.5 4.9M235.8 244.3l-6.1 9.9M230 236.5l5.8 7.8M230 236.5l11.8-8.8M230.5 415l-0.4 0M230.4 266.7l5.4 0.5M232.2 259.1l-1.8 7.6M230.5 415l1.5-7.2M238.5 415l-8 0M232 407.8l-1.4-4.6M230.6 403.2l9.5-4.1M233.1 312.2l-2.4-9.3M236.4 299.7l-5.7 3.2M232.8 333l-0.4-0.1l-1.6-0.1M235.8 169.1l-4.8 1.7M231.2 314.3l0.7-0.3M231.9 314l6 7.6M231.9 314l1.2-1.8M231.9 187.8l0.2 0.4M232.4 184.7l-0.5 3.1M247.1 414.1l-15.1-6.3M233.3 359.3l-1.2-7.6M243.7 343.1l-11.6 8.6M240.9 192.3l-8.8-4.1M237 148.8l-4.8-5.4M232.2 143.4l3.7-6M232.2 259.1l11.5-2.8M232.4 361.1l5.6 11.3M233.3 359.3l-0.9 1.8M240 179.5l-7.6 5.2M232.7 447.2l0.5 1.3l6.6 7.3M232.7 447.2l2.4-1.9M232.8 290.3l4.3 5.9M233 289.2l-0.2 1.1M236.6 333.2l-3.8-0.2M232.8 333l10.9 10.1M239.7 285.3l-6.7 3.9M241.3 310.4l-8.2 1.8M251.3 357.3l-18 2M235 383.8l-0.9-4.7M234.1 379.1l3.9-6.7M236.7 332.9l-2.5-6.5M237.9 321.6l-3.7 4.8M235 158.9l0.8 0.5M235 158.9l2-10.1M238.9 386.3l-3.9-2.5M235.1 445.3l8 1.1M235.1 445.3l0.9-7.4M241.8 227.7l-6.1-10.9M238.8 209.5l-3.1 7.3M235.8 159.4l0 9.7M235.8 159.4l9.6-0.8M240.9 172.6l-5.1-3.5M247.3 245.5l-11.5-1.2M235.8 267.2l5.6 0.5l5.9 0.5M239.4 275.9l-3.6-8.7M243.2 138.2l-7.3-0.8M236 437.9l0.6-0.6M236.6 437.3l-0.3-7.3M236.3 430l0.3-0.2M241.9 303.9l-5.5-4.2M236.4 299.7l0.7-3.5M236.5 201.8l0.9 0.1l3.6 0.4M236.5 201.8l2.3 7.7M248.1 333.8l-1 0l-10.5-0.6M236.6 333.2l0.1-0.3M236.6 429.8l8 1.2M236.6 429.8l1.5-5.9M236.6 437.3l7 1.5M236.7 332.9l9.1-5.6M243.2 148.8l-6.2 0M237.1 296.2l6-2.7M237.4 422.7l0.7 1.2M237.4 422.7l1.1-7.7M237.9 321.6l3.1-0.1M238 372.4l10.1-0.4M238.1 423.9l7.1-0.5M245.7 414.9l-3.8 0l-3.4 0.1M238.8 209.5l13.9 2.4M240.1 399.1l-1.2-12.8M248.4 385.9l-9.5 0.4M238.9 276.6l0.8 8.7M238.9 276.6l0.5-0.7M244.1 275.2l-4.7 0.7M244 288l-4.3-2.7M239.8 455.8l4.7 5.2l4.2 1.8M239.8 455.8l2.8-3.3M247.7 184.3l-7.7-4.8M240 179.5l0.9-6.9M240.1 399.1l7 1.4M241 202.3l-0.1-10M240.9 192.3l5.1-2M240.9 172.6l1-0.4M241 202.3l3.2 0.4l4.2 0.5M245.8 327.3l-4.8-5.8M241 321.5l4.6-7.9M245.6 313.6l-4.3-3.2M241.3 310.4l0.6-6.5M241.8 227.7l2.5 1M249.6 299.6l-7.7 4.3M241.9 172.2l9.9 2.1M247.5 162.9l-5.6 9.3M242.6 452.5l8.7 1.7M242.6 452.5l0.5-6.1M243.1 446.4l0.9-0.9M243.1 293.5l6.5 6.1M243.1 293.5l0.9-5.5M243.2 148.8l2.2 9.8M245.8 145.9l-2.6 2.9M254.5 139.6l-11.3-1.4M243.2 138.2l2.6 7.7M244 445.5l-0.4-6.7M243.6 438.8l1.2-1.1M243.7 256.3l5.2 7.5M243.7 256.3l3.6-10.8M243.7 343.1l3.1 0.2M244 445.5l7.3 0.9M244 288l3.5-1.2M249.2 281.4l-5.1-6.2M244.1 275.2l4.1-4.2M244.3 228.7l4.9 11.7M254.2 222.9l-9.9 5.8M244.6 431l0.9 1.2M244.6 431l1.2-6.9M244.8 437.7l8.3 1.3M244.8 437.7l0.7-5.5M245.2 423.4l0.6 0.7M245.2 423.4l0.5-8.5M245.4 158.6l0.2 0.1M245.5 432.2l6.8-1.1M245.6 158.7l1.9 4.2M257 151.2l-11.4 7.5M245.6 313.6l3.4 0.1M247.5 414.9l-1.8 0M245.8 145.9l8.1 1.4M245.8 327.3l0.7 0.2M245.8 424.1l6.9 0.9M246 190.3l6.4 6.6M246 190.3l1.7-6M246.5 327.5l1.6 6.3M252 324.6l-5.5 2.9M246.8 343.3l1.4 1.2M249 333.9l-2.2 9.4M247.1 414.1l0-13.6M247.1 400.5l1.9-1.2M247.5 414.7l-0.4-0.6M247.3 268.2l1.2 0.1M247.3 268.2l1.6-4.4M247.8 245.2l-0.5 0.3M247.5 414.7l0 0.2M259.9 408.2l-12.4 6.5M252.2 414.9l-4.7 0M254.9 166.5l-7.4-3.6M253.9 290.7l-6.4-3.9M247.5 286.8l1.7-5.4M251.9 182.4l-4.2 1.9M259.6 252.5l-11.8-7.3M247.8 245.2l1.4-4.8M249 333.9l-0.9-0.1M248.1 372l0.1 0.1M248.1 372l3.4-13.4M248.2 271l10.2 5.1M248.5 268.3l-0.3 2.7M262.4 375.4l-14.2-3.3M248.2 372.1l0.6 13.3M252.1 355.5l-3.9-11M248.2 344.5l16.7-6.2M248.4 203.2l13 1.6M252.4 196.9l-4 6.3M250.6 395.7l-2.2-9.8M248.8 385.4l-0.4 0.5M248.5 268.3l9.7 0.9M248.7 462.8l4.5 2l5-8.8l1.3-0.6M248.7 462.8l2.6-8.6M248.8 385.4l13-1.9M248.9 263.8l10-3.2M258.8 334.4l-9.8-0.5M249 399.3l11.1 5.8M250.6 395.7l-1.6 3.6M252 324.6l-3-10.9M249 313.7l4.1-2.8M249.2 281.4l6.9-1.6M249.2 240.4l11.8-4.5M249.9 299.6l-0.3 0M249.9 299.6l3.2 11.3M251.8 298.2l-1.9 1.4M261.1 392.8l-10.5 2.9M251.5 358.6l-0.2-1.3M251.3 357.3l0.8-1.8M251.5 454l-0.2-7.6M251.3 446.4l0.1-0.1M251.3 454.2l0.2-0.2M251.4 446.3l8.6 0.9M251.4 446.3l1.7-7.3M251.5 358.6l11.4 8.7M251.5 454l7.6 0.9M262.5 300.8l-10.7-2.6M253.9 290.7l-2.1 7.5M251.9 182.4l-0.1-8.1M251.8 174.3l3.8-4M253.3 183l-1.4-0.6M253.7 325l-1.7-0.4M263.9 352.5l-11.8 3M252.8 424.9l0.6-8l-1.2-2M252.2 414.9l7.2-0.1l0.5-6.6M252.3 431.1l1.4 1.7M252.3 431.1l0.4-6.1M255.4 196.1l-3 0.8M254.2 222.9l-1.5-11M252.7 211.9l8.7-7.1M252.7 425l0.1-0.1M260.8 425.2l-0.1-0.1l-7.9-0.2M253.1 439M253.1 439l0.6-6.2M253.1 310.9l4.8 0.4M253.1 439l7.7 1.4M253.3 183l4.8 7.6M265.3 178.4l-12 4.6M253.7 325l5.4 8.1M263.2 318.2l-9.5 6.8M253.7 432.8l7-0.8M257.7 288.7l-3.8 2M253.9 147.3l3.1 3.8M253.9 147.3l0.6-7.7M261.7 225.8l-7.5-2.9M268.2 141.2l-13.7-1.6M254.9 166.5l0.7 3.8M261.6 158.6l-6.7 7.9M263.4 202.3l-8-6.2M258.1 190.6l-2.7 5.5M255.6 170.3l9.9 4.8M256.1 279.8l1.6 8.9M258.4 276.1l-2.3 3.7M257 151.2l4.6 7.4M257 151.1l0 0.1M268.1 142.8l-11.1 8.3M257.7 288.7l3.4 0.9M257.9 311.3l5.3 6.8M263.2 303.5l-5.3 7.8M258.1 190.6l6.4-1.7M261.9 269.6l-3.7-0.4M258.2 269.2l0.7-8.6M258.4 276.1l1.1-0.5M265.1 334.8l-6.3-0.4M258.8 334.4l0.3-1.3M258.9 260.6l0-0.3M258.9 260.3l8.2 0.1M258.9 260.3l0.7-7.7M259.1 333.1l6.8-4.7M259.1 454.9l0.4 0.5M259.1 454.9l1.1-7.5M259.5 455.4l6.3-3.2l4.9 0.6M268.2 282l-8.7-6.4M259.5 275.6l2.4-6M259.6 252.6l8 1.2M259.6 252.6l0-0.1M259.6 252.5l0.9-10.3M259.9 408.2l0.2-3.1M260 447.2l0.2 0.2M260 447.2l0.8-6.8M260.1 405.1l0.8-9.7M260.2 447.4l7.2 0.6M268.8 247.3l-8.3-5.1M260.5 242.2l0.3-4.2M260.7 432l0.6 0.7M260.7 432l0.1-6.8M260.8 440.4l0.5-0.5M260.8 238l7.4 0.3M260.8 238l0.2-2.1M269 425.1l-8.2 0.1M260.9 395.4l9.8 2.6M261.1 392.8l-0.2 2.6M261 235.9l0.2-3.1l0-0.4M261.4 389.2l-0.3 3.6M261.1 289.6l3.7 6.1M261.1 289.6l7.2-7.3M261.2 232.4l0.5-6.6M261.2 232.4l7.5-2M261.3 439.9l6.3 0.4M261.3 439.9l0-7.2M261.3 432.7l6.9-0.3M261.4 389.2l9.8 0.5M261.8 383.5l-0.4 5.7M261.4 204.8l1.8 0.2M261.6 158.6l5.1 1.4M261.7 225.8l0.1-1.7M262.2 378.5l-0.2 2.5l-0.2 2.5M261.8 224.1l7.4 0.4M261.8 224.1l0.6-8.1M263.5 269.8l-1.6-0.2M275.4 382.7l-13.2-4.2M262.3 376.6l-0.1 1.5l0 0.4M262.4 375.4l-0.1 1.2M262.3 376.6l11.8-3.7M262.8 369.1l-0.4 6.3M262.4 216l7.1 1.8M262.4 216l0.5-7.2M263.2 303.5l-0.7-2.7M262.5 300.8l2.3-5.1M262.9 367.3l-0.1 1.8M269.9 366.4l-7.1 2.7M262.9 208.8l7.3 0.3M262.9 208.8l0.3-3.8M263.7 356.6l-0.8 10.7M270.6 306.6l-7.4-3.1M263.2 205l0.2-2.7M266.8 326.4l-3.6-8.2M263.2 318.1l0 0.1M263.2 318.1l8.3-4M263.4 202.3l0.1-1.4M269.9 270.5l-6.4-0.7M263.5 269.8l3.8-3.1M263.5 200.9l7.3 1.3M263.5 200.9l0.8-9.7M263.7 356.6l6.2 3M263.8 355.2l-0.1 1.4M263.9 352.5l-0.1 2.7M263.8 355.2l3.3-2.8M264.5 344.2l-0.6 8.3M264.3 191.2l7.3 0.3M264.3 191.2l0.2-2.3M264.5 188.9l0.2-2.7M267 344.3l-2.5-0.1M264.5 344.2l0.4-5.9M264.7 186.2l0.3-4.6l0.3-3.2M264.7 186.2l6.6-0.4M264.8 295.7l6.2-1.2M264.9 338.3l0.2-3.5M265.1 334.8l5.2 0.3M265.3 178.4l0.1-1.3M265.4 177.1l5.3 1.1M265.4 177.1l0.1-2M265.5 175.1l0.6-6.5M270.3 335.1l-4.4-6.7M265.9 328.4l0.9-2M266.1 168.6l5.3 0.3M266.1 168.6l0.5-7.2M266.6 161.4l0.1-1.4M266.6 161.4l6.4-0.6M266.7 160l0.4-4.3l0.1-2M266.8 326.4l6.9-0.3M274.9 344.7l-7.9-0.4M267.1 352.4l-0.1-8.1M274.2 351.5l-7.1 0.9M267.3 266.7l-0.2-6.3M267.1 260.4l0.4-0.4M267.2 153.7l6.1 0.5M267.2 153.7l0.7-8.1M267.3 266.7l5.3 0.6M267.4 448l3.3 4.8M267.4 448l1.5-5.9M267.5 260l6.8 1.7M267.5 260l0.9-5.2M267.6 440.3l1.3 1.8M267.6 440.3l2-5.7M267.6 253.8l0.8 1M267.6 253.8l1.2-6.5M267.9 145.6l6 0.3M267.9 145.6l0.2-2.8M268.1 142.8l0.1-1.6M268.2 432.4l1.4 2.2M268.2 432.4l1.5-6M268.2 238.3l0.7 0M270.6 232.6l-2.4 5.7M278.3 141.9l-10.1-0.7M268.3 282.3l-0.1-0.3M268.2 282l4.2-5.6M272.9 286.6l-4.6-4.3M268.4 254.8l5.2-0.4M268.7 230.4l1.9 2.2M268.7 230.4l0.5-5.9M273 246.4l-4.2 0.9M268.9 238.3l5.1 0.2l1.5 0.1M268.9 238.3l4.8 4.8M268.9 442.1l6.7 0.5M269 425.1l0.7 1.3M270.9 418.2l-0.7 0.7l-1.2 6.2M269.2 224.5l0.3-0.3M269.5 224.2l0-6.4M269.5 217.8l0.3-0.2M269.5 224.2l6.7 0.7M269.6 434.6l7.2 0.6M269.7 426.4l6.8 1.4M269.8 217.6l1.3-7.4M269.8 217.6l7.1-0.1M273.3 270.9l-3.4-0.4M272.4 276.4l-2.5-5.9M269.9 359.6l0 6.8M269.9 359.6l3.6-1.3M272.9 367.3l-3-0.9M270.2 209.1l0.9 1.1M270.2 209.1l1.7-5.5M270.3 335.1l4.7 0.2M271.5 314.1l-0.9-7.5M272.9 304.7l-2.3 1.9M270.6 232.6l4.6 0.5M270.7 398l1.6 4.4l3.8 0.2M270.7 398l2.1-3.9M271.3 185.8l-0.6-7.6M270.7 178.2l1.3-1M270.7 452.8l2 0.3M270.8 202.2l1.1 1.4M270.8 202.2l1.3-10.7M278.8 411.7l-0.1-0.3l-8.1-2.3l-1.4 2.5l1.7 6.6M276.4 417.9l-5.5 0.3M271 294.5l1.9 1.5M271 294.5l1.9-7.9M271.1 210.2l6.5 1M272.8 394.1l-1.6-4.4M271.2 389.7l4.7-6.4M271.3 185.8l0.4 0.2M271.4 168.9l0.7 0.8M271.4 168.9l2.8-6.5M271.5 314.1l0.4 0.2M271.6 191.5l0.5 0M271.6 191.5l0.1-5.5M271.7 186l6.8-0.6M271.9 203.6l4.4-0.7M271.9 314.3l4.8 9.6M279.1 312.8l-7.2 1.5M272 177.2l5.8 0.3M272 177.2l0.1-7.5M272.1 191.5l4.6 0.3M272.1 169.7l6.3 0.9M280.6 275.7l-8.2 0.7M272.6 267.3l0.8 1.1M272.6 267.3l1.7-5.6M272.7 453.1l3.1 0.4l5.4 6.2M272.7 453.1l3.2-3.6M279.7 394.1l-6.9 0M274.1 372.9l-1.2-5.6M272.9 367.3l3-1.7M272.9 296l6.8 0.2M272.9 304.7l0-8.7M279.4 304.7l-6.5 0M272.9 286.6l7.2-0.7M273 246.4l1.5 1.6M273.7 243.1l-0.7 3.3M273 160.8l1.2 1.6M273 160.8l0.3-6.6M273.3 154.2l0.2-0.2M279.8 271.7l-3.2-0.4l-3.3-0.4M273.3 270.9l0.1-2.5M273.4 268.4l6.5-0.7M273.5 358.3l2.4 2.1M273.5 358.3l1.3-5.8M273.5 154l7.2 0.5M273.5 154l0.4-8.1M274.8 261.4l-1.2-7M273.6 254.4l0.8-0.6M273.7 326.1l1.3 9.2M273.7 326.1l3-2.2M273.7 243.1l5.8-4M273.9 145.9l4.4-4M274.1 372.9l1.3 1M274.2 351.5l0.6 1M274.9 344.7l-0.7 6.8M274.2 162.4l5.7 0.8M274.3 261.7l0.5-0.3M274.4 253.8l6.4 0.9M274.4 253.8l0.1-5.8M274.5 248l6.6-0.1M274.8 261.4l4.2 0.1M274.8 352.5l6.8 1.7M277.5 344.8l-2.6-0.1M275 335.3l3.2 0.2l0.3-8.3M275.5 238.6l-0.3-5.5M275.2 233.1l1.1-0.7M275.4 382.7l0-8.8M275.4 373.9l5-1.5M275.9 383.3l-0.5-0.6M275.5 238.6l1.1 0l2.9 0.2M275.9 449.5l-0.3-6.9M275.6 442.6l1.3-1.4M278.5 383.8l-2.6-0.5M275.9 449.5l7.5-0.1M275.9 365.6l0-5.2M275.9 360.4l6.2-1.6M275.9 365.6l4.5 1.3M276.1 402.6l3 3.9l8.4-2.4l0.5-0.7M276.1 402.6l3.8-3.8M276.3 232.4l-0.1-7.5M276.2 224.9l0.8-0.5M278.3 203.9l-2-1M276.3 202.9l0.4-11.1M276.3 232.4l5.8 0.6M276.4 417.9l1.1 1.1M278.8 411.7l-2.4 6.2M276.8 435.2l-0.3-7.4M276.5 427.8l1-0.8M276.7 191.8l2 0M276.7 323.9l1.9 0.1M276.8 435.2l0.1 0.1M276.9 441.2l7.5 1.8M276.9 441.2l0-5.9M276.9 217.5l1 1.2M276.9 217.5l0.7-6.3M276.9 435.3l7.7-1.1M277 224.4l7 1.6M277 224.4l0.9-5.7M277.5 427l7 0.1M277.5 427l0-8M277.5 419l7.5 1.3M283.3 345.1l-5.8-0.3M282.4 335.7l-3.1-0.2l-3.6 4.7l1.8 4.6M277.6 211.2l0.4-0.2M279.8 180.9l-2-3.4M277.8 177.5l1.7-3.7M277.9 218.7l6.1-0.6M278 211l6.1 0.6M278 211l0.3-7.1M278.3 141.9l4.2 4.8M278.3 141.9M290.6 142.7l-12.3-0.8M281.6 202.9l-3.3 1M279.5 173.8l-1.1-3.2M278.4 170.6l2-3.7M278.5 383.8l3 7.9M278.6 383.7l-0.1 0.1M278.5 327.2l2.9 2.8l6.9 1.2M278.5 327.2l0.1-3.2M278.5 185.4l0.2 0.3M278.5 185.4l1.3-4.5M278.6 383.7l10.2 0.2M284.2 375.2l-5.6 8.5M278.6 324l0.1-1.7M278.7 185.7l7.9 2.4M278.7 191.8l0-6.1M278.7 322.3l9.8 1.8M278.7 322.3l0.2-5.9M278.7 191.8l2.9 0.2M286.6 412.7l-7.8-1M278.9 316.4l10.5 0.3M278.9 316.4l0.1-1.8M279 314.6l0.1-1.8M279 314.6l4.8-4.2M279 261.5l0.8 0.8M279 261.5l1.9-6.6M279.1 312.8l0.1-3l0.2-5.1M279.4 304.7l0-0.6M279.4 304.1l0-1.6l0.2-5.2M279.4 304.1l3.7-0.5M279.5 173.8l7.7 0M279.5 239.1l2.5 3.6M279.5 239.1l0-0.3M279.5 238.8l3.3 0.1M279.6 297.3l3.9 0.9M279.6 297.3l0.1-1.1M279.9 398.8l-0.2-4.7M279.7 394.1l1.8-2.4M279.7 296.2l0.2-4.9M288.3 179.5l-8.5 1.4M279.9 267.7l-0.1-5.4M279.8 262.3l7.1-0.1M280.6 275.6l0.2-3.8l-1-0.1M279.8 271.7l1-3M280.4 166.9l-0.5-3.7M279.9 163.2l1-1M279.9 291.3l0.1-3.3M279.9 291.3l4.4-0.1M279.9 398.8l7.2 3.3M279.9 267.7l0.9 1M284.6 288.1l-4.6-0.1M280 288l0.1-2.1M280.1 285.9l0.1-1.5l0.1-1.8M280.3 282.6l0.3-6.9M280.3 282.6l5.4-0.8M280.4 372.4l0-5.5M280.4 366.9l1.5-1M280.4 372.4l3.8 2.8M280.4 166.9l7.6 3.2M280.6 275.7l0-0.1M280.6 275.6l4.3 0.5M280.9 162.2l-0.2-7.7M280.7 154.5l1.4-1.2M280.8 254.7l0.1 0.2M280.8 254.7l0.8-6M280.8 268.7l5.1 0.3M280.9 162.2l6.9-0.4M280.9 254.9l6 1.4M281.1 247.9l0.5 0.8M281.1 247.9l0.9-5.2M281.2 459.7l3.3 3.8l2.7 5.4M281.2 459.7l2.4-2.1M281.5 391.7l5.6 0.7M281.6 192l4.4 0.2M281.6 202.9l0-10.9M285.4 204.5l-3.8-1.6M281.6 248.7l6.2 0.7M281.6 354.2l0.5 0.6M281.6 354.2l1.9-9.1M281.9 365.9l7.5 3.9M283.6 361.1l-1.7 4.8M282 242.7l6.8 0.1M282.1 358.8l1.5 2.3M282.1 358.8l0-4M282.8 238.9l-0.7-5.9M282.1 233l4.3-4.2M282.1 153.3l6.2 2M282.1 153.3l0.4-6.6M282.1 354.8l6.1-1.1M288.4 335.9l-6-0.2M282.4 335.7l1.1 2M282.5 146.7l6.7-0.2M282.8 238.9l8.6 0.4M283.1 303.6l1.3 1.2M283.1 303.6l0.4-5.4M283.5 345.1l-0.2 0M283.3 345.1l0.2-7.4M283.4 449.4l0.4 0.5M283.4 449.4l1-6.4M287.5 345.3l-4-0.2M283.5 298.2l1.3-1M283.5 337.7l7.8 3.6M283.6 457.6l6.8 0.2M283.6 457.6l0.2-7.7M283.6 361.1l6.1 0.3M283.8 310.4l6.5 0.9M283.8 310.4l0.6-5.6M283.8 449.9l7.8 0.5M284 218.1l0.3 0.4M284 218.1l0.1-6.5M284 226l2.4 2.8M284 226l0.3-7.5M284.1 211.6l2.4-1.9M287.6 374.8l-3.4 0.4M284.3 291.2l0.5 0.6M284.3 291.2l0.3-3.1M284.3 218.5l7.5 0.3M284.4 443l1-0.8M284.4 304.8l5.3-0.4M284.5 427.1l1.1 1.5M284.5 427.1l0.9-6.1M285.9 288.2l-1.3-0.1M284.6 434.2l0.5 0.6M284.6 434.2l1-5.6M284.8 297.2l0-5.4M284.8 291.8l6-0.4M284.8 297.2l5.3 1.2M285.7 281.8l-0.8-5.7M284.9 276.1l1.3-1.4M285 420.3l0.4 0.7M285 420.3l1.6-7.6M285.1 434.8l8.4 1M285.4 442.2l-0.3-7.4M286.7 208.9l-1.3-4.4M285.4 204.5l3.3-4.1M285.4 442.2l6.4 0.7M285.4 421l8.3 0.3M285.6 428.6l7.9-0.2M285.7 281.8l0.8 0.6M290.7 288.3l-4.8-0.1M285.9 288.2l0.6-5.8M285.9 269l0.1 0.2M285.9 269l1-6.8M286 192.2l2 0.1M288.7 200.4l-2.7-8.2M286 269.2l6.9 0M286.2 274.7l-0.2-5.5M286.2 274.7l5.5 0.9M286.4 228.8l1.5 0.1M292 215.7l-5.5-6M286.5 209.7l0.2-0.8M286.5 282.4l5.2-0.6M286.6 188.1l1.4 4.2M286.6 188.1l2.9-7.5M290.3 413.3l-3.5-0.8l-0.2 0.2M286.7 208.9l6.9-1.5M286.9 262.2l0.3-0.3M287.2 261.9l-0.3-5.6M286.9 256.3l0.1-0.1M287 256.2l0.8-6.8M287 256.2l6.7-0.9M287.1 392.4l0 9.7M287.1 392.4l0.7-0.3M287.1 402.1l0.9 1.3M287.2 468.9l2.3 4.6l0.1 0.1M287.2 468.9l4.1-3.7M287.2 173.8l1.1 5.7M288.3 171.2l-1.1 2.6M287.2 261.9l5.5 1.1M287.5 345.3l2.4 0.1l1.4-4.1M288.2 353.7l-0.7-8.4M287.6 374.8l1 1.2M289.5 369.9l-1.9 4.9M287.8 161.8l2 2M287.8 161.8l0.5-6.5M287.8 392.1l6.6 0.9M287.8 392.1l1-8.2M287.8 249.4l0.2-0.2M287.9 228.9l5.7 8.2M287.9 228.9l1.9-1.8M288 403.4l3.7-0.4l3.7-4.9l-0.5-4.6M288 192.3l9.4 0.4M288 249.2l6.1 1.2M288 249.2l0.8-6.4M288 170.1l0.3 1.1M288 170.1l1.8-6.3M290.2 354.8l-2-1.1M288.3 155.3l1.8-1.1M288.3 179.5l1.2 1.1M288.3 171.2l8.3 0.7M288.3 331.2l0.3 0.4M288.3 331.2l0.2-7.1M292.1 336l-3.7-0.1M288.6 331.6l-0.2 4.3M288.5 324.1M288.5 324.1l1.3-6.8M288.5 324.1l5.7 0.2M288.6 331.6l6.8-1.2M288.6 376l8.8 0.6l0-6.5M289.7 383.1l-1.1-7.1M293.6 201.2l-4.9-0.8M288.8 383.9l0.9-0.8M288.8 242.8l2.6-2M290.1 154.2l-0.9-7.7M289.2 146.5l1-0.7M289.4 316.7l0.4 0.6M289.4 316.7l1.3-4.9M289.4 369.8l0.1 0.1M289.4 369.8l1.3-7.5M289.5 369.9l7.9 0.2M289.5 180.6l3.8 0.4M289.6 473.6l5.8 9.8M289.6 473.6l8.4-0.3M289.7 304.4l0.5 0.4M289.7 304.4l0.4-6M289.7 361.4l1 0.9M289.7 361.4l0.5-6.6M296.1 384.8l-0.5-0.6l-5.9-1.1M289.8 317.3l6 1.6M289.8 163.8l5.9-0.8M289.8 227.1l2.3-7.8M289.8 227.1l9.8-0.3M290.1 154.2l5.2 0.4M290.1 298.4l1-0.6M290.2 145.8l6.5 2.2M290.2 145.8l0.4-3.1M293.6 353.5l-3.4 1.3M290.3 311.3l-0.1-6.5M290.2 304.8l6.1 0M290.3 311.3l0.4 0.5M293.7 417.2l-3.4-3.9M301.7 409.6l0-0.1l-4.7-1.4l-6.7 5.2M290.4 457.8l1.6 1.9M290.4 457.8l1.7-6.6M301.6 143.5l-11-0.8M292.4 288.4l-1.7-0.1M290.8 291.4l-0.1-3.1M290.7 311.8l5.1-0.2M290.7 362.3l5.3-0.3M290.8 291.4l1.1 0.9M291.1 297.8l5.5 1.4M291.1 297.8l0.8-5.5M291.3 341.3l0.2-0.3l0.6-5M291.3 465.2l7.6 2.1M291.3 465.2l0.7-5.5M291.4 240.8l3.6 3.1M291.4 240.8l0-1.5M291.4 239.3l1.8 0M291.6 450.4l0.5 0.8M291.6 450.4l0.9-6.5M291.7 281.8l0.7 0.9M291.7 281.8l1.2-4.3M291.7 275.6l1.2 1.9M291.7 275.6l1.9-5.6M291.8 218.8l0.3 0.5M291.8 218.8l0.2-3.1M291.8 442.9l0.7 1M291.8 442.9l2.2-6.5M291.9 292.3l5-0.8M297.7 210.2l-5.7 5.5M292 459.7l7.6-1M292.1 451.2l7.7 1.1M292.1 219.3l6.5 1.3M292.1 336l4.2 0.2M292.4 282.7l6.1 0.8M292.4 288.4l0-5.7M297.1 288.5l-4.7-0.1M292.5 443.9l7.4 0.9M292.9 269.2l-0.2-6.2M292.7 263l0.8-0.5M292.9 269.2l0.7 0.8M292.9 277.5l6.3-0.6M293.2 239.3l8.2 0.4M293.6 237.1l-0.4 2.2M293.3 181l4.1 11.7M293.3 181l2.5-1.5M293.5 262.5l6.2 1.3M293.5 262.5l1.3-5.9M293.5 435.8l0.5 0.6M293.5 435.8l0.1-7.3M293.5 428.4l0.1 0.1M293.5 428.4l0.8-6.4M293.6 270l4.6 0.2M293.6 237.1l4.1-2.8M297.2 356.8l-3.6-3.3M294.5 350.6l-0.9 2.9M293.6 428.5l8.1 1M293.6 201.2l0 6.2M299.8 201.4l-3.8-1.8l-2.4 1.6M293.6 207.4l4.1 2.8M293.7 255.3l1.1 1.3M293.7 255.3l0.4-4.9M293.7 421.3l0.6 0.7M293.7 421.3l0-4.1M301.6 411.6l-7.9 5.6M294 436.4l6.6 0.5M294.1 250.4l0.2-0.2M294.2 324.3l0.9 0.9M294.2 324.3l1.6-5.4M294.3 422l7.6-0.6M294.3 250.2l6.7 0.5M294.3 250.2l0.7-6.3M294.4 393l0.5 0.5M294.4 393l1.7-8.2M301.9 350.2l0.1-4.2l-9.3-0.4l1.8 5M301.9 350.2l-7.4 0.4M294.8 256.6l5.2 0.2M294.9 393.5l9.3-1.5l-1-6.5l-7.1-0.7M295 243.9l5.1-0.4M295.4 330.4l-0.3-5.2M295.1 325.2l6.6-0.8M295.3 154.6l1.9 2.1M295.3 154.6l1.4-6.6M295.4 330.4l1.1 0.8M295.4 483.4l1.6 2.6l1.4 2.9M295.4 483.4l2.5-2.4M295.7 163l0.7 0.7M295.7 163l1.5-6.3M295.8 318.9l0.9-0.7M296.7 318.2l-0.9-6.6M295.8 311.6l0.1-0.1M295.8 179.5l7 1.6M295.8 179.5l1.2-7.3M295.9 311.5l6.2 0.4M295.9 311.5l0.8-6.3M297.4 370.1l0.1-0.1l0.1-6.6l-1.6-1.4M296 362l1.2-5.2M296.3 336.2l6.3 0.3M296.5 331.2l-0.2 5M296.3 304.8l0.4 0.4M296.3 304.8l0.3-5.6M296.4 163.7l7.5 1.4M296.6 171.9l-0.2-8.2M296.5 331.2l4.1-0.7M296.6 299.2l1.2-0.9M296.6 171.9l0.4 0.3M296.7 305.2l5.9 0.4M296.7 148l4.8-3.2M296.7 318.2l4.2 0.7M296.9 291.5l0.7 0.6M296.9 291.5l0.2-3M297 172.2l6-0.3M298.3 288.6l-0.3 0l-0.9-0.1M297.2 156.7l5.9-0.9M297.2 356.8l4.6-1.7l0.1-4.9M297.4 192.7l5.8 0.3M297.8 298.3l-0.2-6.2M297.6 292.1l5.3-0.1M297.7 234.3l7.7 2M297.7 234.3l2.1-7.2M299.8 210.3l-2.1-0.1M297.8 298.3l5.5 0.7M297.9 481l8.1 0.4M297.9 481l0.3-7.4M298 473.3l0.2 0.3M298 473.3l0.9-6M298.2 473.6l7.6 1.3M298.2 270.2l0.5 0.5M298.2 270.2l1.6-6.3M303.7 288.7l-5-0.1l-0.4 0M298.3 288.6l0.8-4.4M298.4 488.9l4.8 9.6l0.3 0.5M298.4 488.9l7.7-1.5M298.5 283.5l0.6 0.7M298.5 283.5l0.7-6.6M299.6 226.8l-1-6.2M298.6 220.6l1.5-1.6M299.2 276.9l-0.5-6.2M298.7 270.7l6.7-0.2M298.9 467.3l1.3-1M299.1 284.2l5.5-0.4M299.2 276.9M299.2 276.9l5.1 0.6M299.6 458.7l0.8 1M299.6 458.7l0.5-6.1M299.6 226.8l0.2 0.3M299.7 263.8l0.1 0.1M299.7 263.8l0.8-6.5M299.8 210.3l0-8.9M304.1 210.2l2.3-5.8l-2-4.6l-4.6 1.6M300.3 210.6l-0.5-0.3M299.8 452.3l0.3 0.3M299.8 452.3l0.1-7.5M299.8 263.9l5.8 0.7M299.8 227.1l4.8 0.4M299.9 444.8l1.2-1.1M300 256.8l0.5 0.5M300 256.8l1-6.1M300.1 452.6l7.4-0.8M300.1 219l7.5 0.8M300.1 219l0.2-8.4M301.6 250.3l-1.5-6.8M300.1 243.5l0.9-0.8M300.2 466.3l6.1 1.3M300.2 466.3l0.2-6.6M304.1 210.2l-3.8 0.4M300.4 459.7l7.8 0.1M300.5 257.3l5.8 0.5M300.6 330.5l2.3 1.8M300.6 330.5l1.4-5.8M300.6 436.9l1 1.1M300.6 436.9l1.1-7.4M301.7 324.4l-0.8-5.5M300.9 318.9l1.3-1.2M301 242.7l7 2M301 242.7l0.4-3M301 250.7l0.6-0.4M301.1 443.7l6.6 2.1M301.1 443.7l0.5-5.7M301.4 239.7l0.4 0l3.6 0.1M301.5 144.8l2.9 3.6M301.5 144.8l0.1-1.3M301.6 250.3l4.7 0.2M315.6 144.5l-14-1M301.6 438l7.3-0.8M302.8 415l-1.2-3.4M301.6 411.6l0.1-2M301.7 429.5l1-0.8M312.4 415.3l-1.3-4.1l-5.3-2.4l-4.1 0.8M301.7 324.4l0.3 0.3M301.9 421.4l0.1 0.1M301.9 421.4l0.9-6.4M302 324.7l6.1 0.6M302 421.5l7.9 0.6M302.7 428.7l-0.7-7.2M302.1 311.9l0.7 0.7M302.1 311.9l0.5-6.3M302.2 317.7l6.5 1.3M302.2 317.7l0.6-5.1M302.6 305.6l0.4-0.4M302.6 336.5l6.3 0.2l0.3-3.7M302.6 336.5l0.3-4.2M302.7 428.7l5.3 0.9M302.8 312.6l5.5-0.6M303.2 193l-0.4-11.9M302.8 181.1l1.7-1.5M310.2 417.3l-7.4-2.3M302.9 332.3l4.3-1.4M302.9 292l1 1.2M302.9 292l0.8-3.3M303 305.2l6 2.3M303 305.2l1.2-5.2M303 171.9l1 0.9M303 171.9l0.9-6.8M303.1 155.8l1.1 0.9M303.1 155.8l1.3-7.4M303.2 193l1.7 0M303.3 299l0.9 1M303.3 299l0.6-5.8M303.5 499l3.1 4.9M303.5 499l1.8-1.7M304.7 288.8l-1-0.1M303.9 293.2l6.2-0.1M303.9 165.1l0.5-0.4M304.5 179.6l-0.5-6.8M304 172.8l6.7-1M306.9 211.8l-2.8-1.6M304.2 300l5-0.4M304.2 156.7l6.8 0.3M304.4 164.7l-0.2-8M304.9 283.5l-0.6-6M304.3 277.5l0.7-0.6M304.4 148.4l7.4 0.7M304.4 164.7l6.9 0.3M304.5 179.6l6 0.5M304.7 288.8l-0.1-5M304.6 283.8l0.3-0.3M304.6 227.5l1.4 1.3M304.6 227.5l3.1-7.6M310.3 289l-1.9-0.1l-3.7-0.1M304.9 283.5l6.3 0.4M304.9 193l2.4 0.1M304.9 193l1.2 3.7l7.9 2M305 276.9l6.8 0.6M305 276.9l0.5-6.3M305.3 497.3l1.9-8.6M305.3 497.3l9.1-1M305.4 239.8l2.8 0.1M305.4 239.8l0-3.5M305.4 270.5l0.1 0.1M305.4 270.5l0.2-5.9M305.4 236.3l0.3-0.4M305.5 270.6l7 0.7M305.6 264.6l0.9-0.8M305.7 235.9l0.3-7.1M305.7 235.9l7.1-0.7M306 481.4l-0.2-6.5M305.8 474.9l1.3-1.4M306 481.4l0 0.1M306 228.8l7.1-0.2M306.1 487.4l-0.1-5.9M306 481.5l8.3-0.9M306.1 487.4l1.1 1.3M306.5 263.8l-0.2-6M306.3 257.8l0.8-0.8M307.1 473.5l-0.8-5.9M306.3 467.6l1.1-1M306.3 250.5l1.1 1.3M306.3 250.5l1.7-5.8M306.5 263.8l6.1 0.8M306.6 503.9l7.3 0.8M306.6 503.9l2.9 4.6l5.6 2.8M307.6 219.8l-0.7-8M312.9 210.7l-6 1.1M307.1 257l6.6 1.2M307.1 257l0.3-5.2M307.1 473.5l7.2 0.4M307.2 330.9l2 2.1M307.2 330.9l0.9-5.6M307.2 488.7l7.4 0.6M307.3 193.1l11.4 0.6M307.3 193.1l2.4-3.1M307.4 466.6l7.7 0.6M307.4 466.6l0.8-6.8M307.4 251.8l6.4-0.3M307.5 451.8l0.9 0.8M307.5 451.8l0.2-6M307.6 219.8l0.1 0.1M307.7 445.8l2.4-2.1M307.7 219.9l4.6 0.8M308 429.6l1.8 2.3M308 429.6l2.7-6.4M308 244.7l0.6-0.4M308.1 325.3l0.3-0.2M308.2 239.9l5 0.2M308.6 244.3l-0.4-4.4M308.2 459.8l1.2-1M308.3 312l1.5 1.8M308.3 312l0.7-4.5M309.4 458.8l-1-6.2M308.4 452.6l7.4-1.9M308.4 325.1l5.5 1M308.4 325.1l0.3-6.1M308.6 244.3l4.9 0.3M308.7 319M308.7 319l6.9 0.5M308.7 319l1.1-5.2M310.1 443.7l-1.2-6.5M308.9 437.2l1.4-1.8M309 307.5l1.5-1.2M309.2 299.6l1.1 0.9M309.2 299.6l0.9-6.5M309.2 333l5.2-1.1M309.4 458.8l5.3 1.2M309.7 190l0.8-9.9M309.7 190l7.5-3.7M310.3 435.4l-0.5-3.5M309.8 431.9l6.9-3.7M309.8 313.8l5.2-0.5M309.9 422.1l0.8 1.1M309.9 422.1l0.3-4.8M310.1 293.1l0.4-0.5M310.1 443.7l5.1 1.2M312.4 415.3l-2.2 2M316 436.5l-5.7-1.1M311.1 289l-0.8 0M310.5 292.6l-0.2-3.6M310.5 306.3l-0.2-5.8M310.3 300.5l5.3-0.7M310.5 180.1M310.5 292.6l5 1.2M310.5 306.3l5.2 1.3M310.5 180.1l7.2 0.8M310.5 180.1l0.9-7.4M310.7 171.8l0.7 0.9M310.7 171.8l1-6.3M310.7 423.2l5.5 0.5M311.3 165l-0.3-8M311 157l1.8-1.7M317.2 289.2l-6.1-0.2M311.1 289l0.1-5.1M311.2 283.9l0.1-0.1M311.3 165l0.4 0.5M311.3 283.8l7.2 0.4M311.3 283.8l0.5-6.3M311.4 172.7l7.6 1.4M311.7 165.5l6.2-0.2M311.8 277.5l0.5-0.6M312.8 155.3l-1-6.2M311.8 149.1l3.8-4.6M312.3 276.9l7.2 1.3M312.3 276.9l0.2-5.6M314.8 226.9l-2.5-6.2M312.3 220.7l2.1-2.5M317.7 422.2l0.1-5.6l-5.4-1.3M312.5 271.3l0.1-0.1M312.6 264.6l0.3 0.5M312.6 264.6l1.2-6.2M312.6 271.2l7 0.1M312.6 271.2l0.3-6.1M312.8 235.2l1 1.2M312.8 235.2l0.3-6.6M312.8 155.3l6.5 1.5M313.9 211.8l-1-1.1M313.8 205.2l-0.9 5.5M312.9 265.1l7-0.1M313.1 228.6l1.7-1.7M313.2 240.1l1.8 0.1M313.2 240.1l0.6-3.7M313.5 244.6l0.6 0.8M313.5 244.6l1.5-4.4M313.7 258.2l0.1 0.2M313.7 258.2l0.1-6.7M313.8 205.2l8.5 0.9M314 198.7l-0.6 5.7l0.4 0.8M313.8 251.5l0.5-0.5M313.8 258.4l5.8-0.2M313.8 236.4l5.8-0.2M313.9 211.8l8.2 0M314.4 218.2l-0.5-6.4M315.1 511.3l-1.2-6.6M313.9 504.7l0.3-0.4M314.4 331.9l-0.5-5.8M313.9 326.1l0.7-0.5M314 198.7l4.6-3.5M314.1 245.4l6.4 0M314.3 251l-0.2-5.6M314.2 504.3l0.2-7.9M314.2 504.3l8-1.3M314.3 473.9l0.9 1.3M314.3 473.9l1.1-6.3M314.3 251l5.9 1.2M314.3 480.6l1.3 1.9M314.3 480.6l0.9-5.4M314.4 496.3l0 0.1M314.4 496.3l0.2-7M320.9 218.2l-6.5 0M314.4 331.9l0.6 0.5M314.4 496.4l8 1.2M314.6 489.3l0.4-0.4M314.6 325.6l6.6 0.8M314.6 325.6l1.2-5.9M315.1 467.2l-0.4-7.2M314.7 460l2.1-1.4M318.6 227.3l-3.8-0.4M315 240.2l5 0.2M315.6 319.5l-0.6-6.2M315 313.3l0.7-0.7M315 332.4l-0.3 4.5l6.7 0.3M315 332.4l6.2 0M315 488.9l6.9 0.9M315 488.9l0.6-6.4M315.1 511.3l5.9 3M315.1 467.2l0.3 0.4M315.2 475.2l8.2-0.1M315.2 444.9l1.2 1.7M315.2 444.9l2.4-6.3M315.4 467.6l7.3-0.4M315.5 293.8l0.5 0.7M315.5 293.8l1.7-4.6M315.6 319.5l0.2 0.2M315.6 482.5l7.2-0.7M316.2 144.5l-0.6 0M315.6 299.8l1.3 1.1M315.6 299.8l0.4-5.3M315.7 312.6l0-5M315.7 307.6l0.4-0.4M315.7 312.6l5.7 1.3M315.8 319.7l5.7-0.3M315.8 450.7l1.5 2.2M315.8 450.7l0.6-4.1M316 294.5l6.3-0.1M316 436.5l1.6 2.1M319.2 430.7l-3.2 5.8M316.1 307.2l6.2 0M316.1 307.2l0.8-6.3M326.7 145.2l-10.5-0.7M316.2 144.5l6.2 6.4M316.7 428.2l-0.5-4.5M316.2 423.7l1.5-1.5M316.4 446.6l8.2-1.2M316.7 428.2l2.5 2.5M316.8 458.6l6.8 2M316.8 458.6l0.5-5.7M316.9 300.9l5.6-0.4M318.5 289.2l-0.1 0l-1.2 0M317.2 186.3l3.7 5.3M317.2 186.3l1.1-4.4M317.3 452.9l7.6-0.6M317.6 438.6l5.9 0.4M325.4 423.9l-7.7-1.7M317.7 180.9l0.6 1M317.7 180.9l1.3-6.8M317.9 165.3l1 0.9M317.9 165.3l1.4-8.5M318.3 181.9l7.8 0.9M322.7 289.3l-4.2-0.1M318.5 289.2l0-5M318.5 284.2M318.5 284.2l1.1-5.8M318.5 284.2l7 0.9M318.6 195.2l2.9 3.1M318.6 195.2l0.1-1.5M318.6 227.3l1.3 1.6M322.4 221.9l-3.8 5.4M318.7 193.7l2.2 0.1M319.7 173.4l-0.8-7.2M318.9 166.2l7.4-1.2M319 174.1l0.7-0.7M319.2 430.7l5.2 0.2M319.3 156.8M326.3 160.8l-7-4M319.3 156.8l3.3-5.2M319.5 278.2l0.1 0.2M319.5 278.2l0.1-6.9M320.3 264.5l-0.7-6.3M319.6 258.2l0.2-0.3M319.6 278.4l6.2-0.2M319.6 271.3l0.3-0.3M319.6 236.2l1 0.8M319.6 236.2l0.3-7.3M319.7 173.4l6.7 0.5M319.8 257.9l6.5 0.3M319.8 257.9l0.4-5.7M319.9 228.9l7.7 1.5M319.9 271l6.1 0.7M319.9 271l0-6M319.9 265l0.4-0.5M320 240.4l0.3 0l0.3 0M320 240.4l0.6-3.4M320.2 252.2l0.2-0.2M320.3 264.5l4.9 0.2M320.4 252l0.1-6.6M320.4 252l5.1-0.3M320.5 245.4M320.5 245.4l6.6 0.1M320.5 245.4l0.1-5M320.6 240.4l1.4 0.1l5.6 1.4M320.6 237l6.4-0.3M320.9 218.2l1.5 3.7M323.1 213.1l-2.2 5.1M320.9 191.6l0 2.2M320.9 191.6l5.3-5.2M320.9 193.8l9.5 0.4M321 514.3l1 0.5l5.7 1M321 514.3l2.4-9.7M321.2 326.4l0.1 0.1M321.2 326.4l0.5-6.8M321.4 337.2l-0.2-4.8M321.2 332.4l0.2-0.2M321.4 332.2l-0.1-5.7M321.3 326.5l5.7-0.5M321.5 319.4l-0.1-5.5M321.4 313.9l0.6-0.6M321.4 332.2l6.3 0M321.4 337.2l5.9 0.2M321.5 319.4l0.2 0.2M321.5 198.3l8.8 0.7M322.4 205.9l-0.9-7.6M321.7 319.6l6.6 0.4M322.7 497.2l-0.8-7.4M321.9 489.8l1.6-1.3M322 313.3l6.8 0.4M322 313.3l0.6-5.6M323.1 213.1l-1-1.3M322.1 211.8l0.2-5.7M322.2 503l1.2 1.6M322.2 503l0.2-5.4M322.3 206.1l0.1-0.2M322.6 307.7l-0.3-0.5M322.3 307.2l1-5.7M322.3 294.4l0.8 1.1M322.3 294.4l0.4-5.1M322.4 205.9l7-1.1M322.4 221.9l5.5 0.7M322.6 151.6l-0.2-0.7M322.4 150.9l4.3-5.7M322.4 497.6l0.3-0.4M322.5 300.5l0.8 1M322.5 300.5l0.6-5M328.9 308.6l-6.3-0.9M322.6 151.6l3.6 1.1M324.6 289.4l-1.9-0.1M322.7 467.2l0.6 0.7M322.7 467.2l0.9-6.6M322.7 497.2l11-1.4M322.8 481.8l1 1.3M322.8 481.8l0.6-6.7M323.1 295.5l6.3-0.7M328.9 213.9l-5.8-0.8M323.6 475l-0.3-7.1M323.3 467.9l7.6-0.1M323.3 301.5l4.9 0.4M323.4 504.6l6.7 0.4M323.4 475.1l0.2-0.1M323.5 488.5l10.7 2.6M323.5 488.5l0.3-5.4M324.6 445.4l-1.1-6.4M323.5 439l0.9-1.1M323.6 475l7.4 0.7M323.6 460.6l0.7-0.5M323.8 483.1l7.6-0.9M324.3 460.1l7.5 1M324.3 460.1l0.9-7.5M324.4 437.9l8.3 0.3M324.4 437.9l0-7M324.4 430.9l0.7-0.6M328.6 289.5l-4-0.1M324.6 289.4l0.9-4.3M324.6 445.4l0.1 0.1M324.9 452.3l-0.2-6.8M324.7 445.5l7.5-0.7M324.9 452.3l0.3 0.3M325.1 430.3l7.7 1.3M325.1 430.3l0.3-6.4M325.2 452.6l7.7 0.6M325.2 264.7l1.8 1.3M325.2 264.7l1.1-6.5M326.3 422.9l-0.9 1M325.5 285.1M325.5 251.7l0.6 0.5M325.5 251.7l1.6-6.2M325.5 285.1l5.4 0.8M325.5 285.1l0.4-6.8M325.8 278.2l0.1 0.1M325.8 278.2l0.3-6.3M325.9 278.3l5.5 0.6M326 271.7l0.1 0.2M326 271.7l1-5.7M326.1 252.2l6.5 0M326.8 257.9l-0.7-5.7M326.2 186.4l-0.1-3.6M326.1 182.8l0.9-0.8M326.1 271.9l6.5 0.4M326.2 152.7l3.1 5M334.2 148.2l-8 4.5M326.2 186.4l4.2 4.6M326.3 165l0.6 0.5M326.3 165l0-4.2M326.3 258.2l0.5-0.3M326.3 422.9l6.9 0.3M333.6 422.9l0.5-6.4l-0.4-0.6l-7.7 0.5l0.3 6.5M329.3 157.7l-3 3.1M326.4 401.8l-0.1 6.7l7.8 1.2l1.4-1.1M334.2 400.4l0.2-5.8l-8.2-1l0 8.1l0.2 0.1M326.4 401.8l7.7-1.2M326.4 173.9l0.6 0.5M326.4 173.9l0.5-8.4M335.1 145.8l-8.4-0.6M326.8 257.9l5.1 0.7M326.9 165.5l6.7 0.5M327 266l4.6-0.9M327 182l7.1 0.4M327 182l0-7.6M327 326l1.8 2M327 326l1.3-6M327 174.4l6.8-1.1M327 236.7l0.9 1.1M327 236.7l1-5.8M327.1 245.5l3.5-2.9M327.3 337.4l6.4 0.3M327.3 337.4l1.4-3.8M327.6 230.4l0.4 0.5M327.6 230.4l0.3-7.8M327.6 241.9l0.4 0.1l2.6 0.6M327.6 241.9l0.3-4.1M327.7 332.2l1 1.4M327.7 332.2l1.1-4.2M327.7 515.8l8.1 1.4l0.9-4.9M327.7 515.8l2.4-2.7M327.9 237.8l7.2 0.2M327.9 222.6l0.9-0.6M328 230.9l7.2-0.8M328.2 301.9l1.3 6M328.2 301.9l1.4-1M328.3 320M328.3 320l0.5-6.2M328.3 320l5.9 1.4M331.2 289.6l-2.6-0.1M329.4 294.8l-0.8-5.3M328.7 333.6l3.7 0.6M328.8 313.7l0 0.1M328.8 313.7l0.1-5.1M328.8 328l5.7-1M328.8 313.8l5.6 0.2M328.8 222l6.8 1M328.8 222l0.1-8.1M329.5 307.9l-0.6 0.7M331.2 212.5l-2.3 1.4M329.3 157.7l5.2 0M329.4 204.8l1.8 2.4M329.4 204.8l0.9-5.8M329.4 294.8l1.1 0.8M329.5 307.9l5.6-0.6M329.6 300.9l5.6 1.6M329.6 300.9l0.9-5.3M330.1 513.1l0-8.1M330.1 513.1l6.6-0.8M330.1 505l3.5-3.1M330.3 199l3.3-3.2M330.4 194.2l0-3.2M330.4 191l6.1-6.2M330.4 194.2l3.2 0.1M330.5 295.6l4.5-0.9M330.6 242.6l0.7 0.2l1.4 0.3M331.2 289.6l-0.3-3.7M330.9 285.9l0.6-0.7M330.9 467.8l1 1.3M330.9 467.8l0.9-6.7M331 475.7l0.7 0.9M331 475.7l0.9-6.6M335.8 289.8l-4.6-0.2M331.2 207.2l0 5.3M331.2 207.2l5.7-2M336.2 214.3l-5-1.8M331.5 285.2l-0.1-6.3M331.4 278.9l0.1-0.1M331.4 482.2l3.5 5.7M331.4 482.2l0.3-5.6M331.5 285.2l6.3-0.1M331.5 278.8l5.7 0.4M331.5 278.8l1.1-6.5M333.2 271.7l-1.6-6.6M331.6 265.1l0.5-0.6M331.7 476.6l8.3-0.9M331.8 461.1l0.1-0.1M331.9 461l7.6 1.2M331.9 461l1-7.7M331.9 469.1l8.3-0.6M331.9 258.6l0.2 0.2M331.9 258.6l1.3-5.6M332.1 258.8l7.7 0.2M332.1 264.5l0-5.7M332.1 264.5l6.4 0.7M332.2 444.8l1.1 1.5M332.2 444.8l1.1-5.7M333.7 337.7l-1.3-3.5M332.4 334.2l2.6-2.7M332.6 272.3l0.6-0.6M332.6 252.2l0.6 0.8M332.6 252.2l0.1-9.1M332.7 243.1l2.2 0.6M332.7 438.2l0.6 0.9M332.7 438.2l0.1-6.6M332.8 431.6l0.1-0.1M332.9 453.2l0 0.1M332.9 453.2l0.4-6.9M332.9 453.3l8.2 0.9M332.9 431.5l0.3-8.3M332.9 431.5l7.5-0.7M333.2 253l6.3 0M333.2 423.2l0.4-0.3M333.2 271.7l5.1 0.3M333.3 439.1l6.2-0.2M333.3 446.3l6.3 0.1M336.7 512.3l0.3-1.3l-3.4-9.1M333.6 501.9l-0.4-0.9l0.5-5.2M333.6 166l0.9 1.1M333.6 166l0.9-8.3M333.6 195.8l3.7 3.5M333.6 195.8l0-1.5M333.6 194.3l5.6 0.3l3 0.1M340.1 424l-6.5-1.1M333.7 337.7l5.8 0.2M333.7 495.8l0.5-4.7M333.8 173.3l1.2 1.2M333.8 173.3l0.7-6.2M334.1 182.4l2.4 2.4M334.1 182.4l0.9-7.9M335.5 408.6l-1.4-8M334.1 400.6l0.1-0.2M334.6 157.7l-0.4-9.5M335.1 145.8l-0.9 2.4M334.9 326.4l-0.7-5M334.2 321.4l0.8-0.8M342 400.9l-7.8-0.5M334.2 491.1l0.3-2.6l0.4-0.6M334.4 314l1.2 1.3M334.4 314l1.4-6M335 331.5l-0.5-4.5M334.5 327l0.4-0.6M334.5 167.1l9.4-1M334.5 157.7l0.1 0M334.6 157.7l8.1 0.6M334.9 326.4l5.9 0.4M334.9 487.9l4.6-6.9l3.1-2.6M334.9 243.7l2.1 0.5l1.9 0.8M335.5 238.3l-0.6 5.4M335 320.6l0.6-5.3M335 320.6l6.6-0.1M335 331.5l4.5 2.1M335 174.5l5.8 0.4M336.1 301.5l-1.1-6.8M335 294.7l0.7-0.6M335.1 307.3l0.7 0.7M335.1 307.3l0.1-4.8M335.1 238l0.4 0.3M335.1 238l0.1-7.9M340.8 146.2l-5.7-0.4M335.2 302.5l0.9-1M335.2 230.1M335.2 230.1l0.4-7.1M335.2 230.1l6.8 1.2M335.5 408.6l5.7 0.4M335.5 238.3l7.1 0M335.6 223l0.4-0.3M335.6 315.3l6.2-1M335.7 294.1l5.5 1.3M335.7 294.1l0.1-4.3M341.2 289.9l-5.4-0.1M335.8 308l5.3 0.6M336 222.7l6.7 0.2M336 222.7l0.2-8.4M336.1 301.5l5.1-0.4M340 212.7l-3.8 1.6M336.5 184.8l1.5 0.4M336.9 205.2l3.1 2.7M336.9 205.2l0.4-5.9M337.8 285.1l-0.6-5.9M337.2 279.2l1-1M337.3 199.3l5.4 0.5M337.8 285.1l3.6 3.8M338 185.2l4.2 9.5M338 185.2l3.9-3.1M338.2 278.2l6.2 1.2M338.2 278.2l0.2-6.1M338.3 272l0.1 0.1M338.3 272l0.3-6.6M338.4 272.1l5.9 0M338.5 265.2l0.1 0.2M338.5 265.2l1.3-6.2M338.6 265.4l6.9 0.6M338.9 245l4.2 1.8M339.8 252.6l-0.9-7.6M339.5 333.6l0 4.3M339.5 333.6l4.2-3.9M339.5 337.9l7.2 0.3M341.5 442.2l-2-3.3M339.5 438.9l2.8-5.5M339.9 258.9l-0.4-5.9M339.5 253l0.3-0.4M340.5 468l-1-5.8M339.5 462.2l1.4-1.8M342.9 451.6l-3.3-5.2M339.6 446.4l1.9-4.2M339.8 252.6l6.1-0.4M339.8 259l0.1-0.1M339.9 258.9l6.1 0.9M340 475.7l2.6 2.7M340 475.7l0.2-7.2M340 212.7l0-4.8M340 207.9l3.8-2.9M342.3 213.8l-2.3-1.1M341.3 425.3l-1.2-1.3M342.1 415.9l-1.3 1l-0.7 7.1M340.2 468.5l0.3-0.5M340.4 430.8l1.9 2.6M340.4 430.8l0.9-5.5M340.5 468l7.9 0.3M340.8 326.8l2.9 2.9M340.8 326.8l1-6.1M348.1 146.2l-7.3 0M341.6 151.2l-0.8-5M341.9 182.1l-1.1-7.2M340.8 174.9l3.9-3.3M349.3 461.5l-8.4-1.1M340.9 460.4l0.2-6.2M342 314l-0.9-5.4M341.1 308.6M341.1 454.2l1.8-1.9l0-0.7M341.1 308.6l1.6-6.2M341.1 308.6l7.9-0.4M341.2 301.1l0-5.7M341.2 295.4l0.3-0.2M341.2 301.1l1.5 1.3M341.2 409l0.9 6.9M341.5 408.7l-0.3 0.3M342.8 290l-1.6-0.1M341.2 289.9l0.2-1M347.1 423.9l-5.8 1.4M341.4 288.9l1.5-1.7M341.5 295.2l7 0.6M341.5 295.2l1.3-5.2M341.5 408.7l0.6-7.6M350.2 408.3l-8.7 0.4M348.3 442.4l-6.8-0.2M347.8 153.1l-6.2-1.9M342.7 158.3l-0.5-2.8l-0.6-4.3M341.6 320.5l0.2 0.2M341.6 320.5l0.2-6.2M341.8 314.3l0.2-0.3M341.8 320.7l5 0.7M341.9 182.1l4.4 0.3M343 237.7l-1-6.4M342 231.3l1-1.1M342 400.9l0.1 0.2M342.8 397.8l-0.8 3.1M342 314l6.2 0.6M342.1 415.9l3.8 1M342.1 401.1l9.2 1.8M342.2 194.7l2 0.1M343.7 222.2l-1.4-8.4M348.8 212.4l-6.5 1.4M342.3 433.4l5 0.7M343.1 246.8l-0.5-8.5M342.6 238.3l0.4-0.6M342.6 478.4l4.4-3.6l3-1.9l-1.6-4.6M342.7 302.4l4.6-0.6M343.2 161.5l-0.5-3.2M343.8 205l-1.1-5.2M342.7 199.8l0.9-0.7M343 230.2l-0.3-7.3M342.7 222.9l1-0.7M348.3 290.1l-5-0.1l-0.5 0M348 391.8l-9.2-1.5l-0.8-0.2l4.8 7.7M347.8 395.6l-5 2.2M342.9 451.6l5.6-7.6M342.9 287.2l2-7.1M342.9 287.2l8.5-1.1M343 237.7l5.2-0.5M343 230.2l5.4-0.2M343.1 246.8l2.7 1.2M343.9 166.1l-0.2-1.5l-0.5-3.1M343.2 161.5l3.5-3M343.6 199.1l5 0.5M343.6 199.1l0.6-4.3M343.7 222.2l4.9 0M343.7 329.7l1 0M343.8 205l5.2 1.7M344.1 167.6l-0.2-1.5M344.7 171.6l-0.2-1.6l-0.4-2.4M344.1 167.6l8.5-2M344.2 194.8l4 0.2M344.3 272.1l1.1 1.2M344.3 272.1l1.2-6.1M344.4 279.4l0.5 0.7M344.4 279.4l1-6.1M344.7 329.7l2.7 4.9M344.7 329.7l1.5-1.3M344.9 172.5l-0.2-0.9M344.9 172.5l8.7 1M345.9 179.6l-0.2-1.2l-0.8-5.9M344.9 280.1l5.6 0.3M345.4 273.3l6.1-0.1M345.5 266l0.2-0.1M345.7 265.9l8.7 1.8M345.7 265.9l0.3-6.1M346.8 250.1l-1-2.1M345.8 248l2.4-5l0-2.2M346 259.8l-0.1-7.6M345.9 252.2l1.4-1.3M345.9 416.9l1.9 4.2M345.9 416.9l4.2-4.1M345.9 179.6l6.9 1.5M346.3 182.4l-0.4-2.8M346 259.8M346 259.8l5-0.6M346.2 328.4l1.3-6.2M346.2 328.4l7.6-0.1M347.1 187.9l-0.8-5.5M346.7 338.2l7.3 0.3l0.2-5.4M347.4 334.6l-0.7 3.6M346.7 158.5l6.1 2.2M346.7 158.5l1.1-5.4M346.8 321.4l0.7 0.8M346.8 321.4l1.4-6.8M347.3 250.9l-0.5-0.8M346.8 250.1l0.1 0M353.8 254.6l-6.9-4.5M346.9 250.1l5.7-2.4M349.5 426.4l-2.4-2.5M347.8 421.1l-0.7 2.8M348.2 195l-1.1-7.1M347.1 187.9l5.1-0.6M347.3 434.1l2.4 5.8M347.3 434.1l2.9-3.5M351 259.2l-1.5-3.7l-2.2-4.6M349 308.2l-1.7-6.4M347.3 301.8l0.1-0.1M347.4 334.6l6.8-1.5M347.4 301.7l7.8 0.6M347.4 301.7l1.1-5.9M347.5 322.2l5.9 0M348.2 152.8l-0.4 0.3M352.6 401.1l-4.8-5.5M348 391.8l-0.2 3.8M347.8 421.1l6.4-2.3M352.6 401.1l2.3-0.9l2.4-4.3l-2.1-6.6l-6.4 2.6l-0.8-0.1M354.2 146.2l-6.1 0M348.1 146.2l0.1 6.6M348.2 314.6M348.2 152.8l5.8-0.1M348.2 195l0.1 0.7M348.2 240.8l5.3 0.6M348.2 240.8l0-3l0-0.6M348.2 237.2l0.1-3.4M348.2 314.6l5.7 1.5M348.2 314.6l0.9-6.2M348.3 195.7l0.3 3.9M348.3 195.7l3.3-0.2M348.3 442.4l0.2 1.6M349.7 439.9l-1.4 2.5M348.4 230l-0.1 3.8M348.3 233.8l3.7-0.1M351.9 290.3l-3.6-0.2M348.5 295.8l-0.2-5.7M348.5 223.6l0 3.6l-0.1 2.8M348.4 468.3l2.7-4.8M348.5 295.8M348.5 295.8l5.6 0.4M348.5 444l2.3 2.5M348.5 223.6l3.9 0.2M348.6 222.2l-0.1 1.4M348.6 199.6l0.4 5.4l0 1.5M348.7 216.7l-0.1 5.5M348.8 212.4l-0.1 4.3M348.7 216.7l3.8-0.1M349 206.7l-0.1 4.4l-0.1 1.3M349 206.5l0 0.2M349 206.5l0.8 0.1M349 308.2l0.1 0.2M349.1 308.4l4.6-0.5M349.3 461.5l1.8 2M350.2 453.3l-1.5 0.7l0.6 7.5M350.2 430.6l-0.7-4.2M357.1 423.3l-7.6 3.1M349.7 439.9l6.9-0.6M349.8 206.6l2.5 2.9M349.8 206.6l3.9-3.5M354.2 418.8l-4.1-6M350.1 412.8l0.7-3.4l-0.6-1.1M350.2 453.3l5.6 0.4M350.8 446.5l-0.6 6.8M350.2 430.6l6.7 1.1M350.2 408.3l1.1-5.4M351.4 286.1l-0.9-5.7M350.5 280.4l0.4-0.4M350.8 446.5l6.8 1.1M350.9 280l8 0.1M350.9 280l0.6-6.8M351.3 260l-0.3-0.8M351.1 463.5l5.4-0.7M351.3 402.9l1.3-1.8M351.5 260.5l-0.1-0.3l-0.1-0.2M351.3 260l2.5-5.4M351.4 286.1l0.3 0.3M352.6 263.3l-0.7-1.8l-0.4-1M358.2 258.9l-6.7 1.6M351.5 273.2l3.8-3.1M353.7 203.1l-2.1-7.6M351.6 195.5l0.5-0.4M351.9 290.3l-0.2-3.9M351.7 286.4l7.6-1.2M355.5 290.4l-3.6-0.1M352 233.7l0.7-9.6M352 233.7l1.6-0.1M352.1 195.1l6.9 0.7M352.1 195.1l1.2-6.6M352.2 187.3l1.1 1.2M352.2 187.3l0.6-6.2M352.3 209.5l6.6 0.9M352.5 216.6l-0.2-7.1M352.4 223.8l0.3 0.3M352.4 223.8l0.1-7.2M352.5 216.6M352.5 216.6l5.8 0.1M352.6 247.7l4.9 5.9M352.6 247.7l0.1-0.1M358.7 264.9l-6.1-1.6M354.4 267.7l-1.8-4.4M352.6 165.6l2.1 1.6M352.6 165.6l0.2-4.9M352.7 247.6l0.8-6.2M352.7 247.6l6.8-1M352.7 224.1l5.2-0.3M352.8 181.1l0.6-0.5M352.8 160.7l2.3-1.9M353.3 188.5l5.9 0.3M353.8 328.3l0.6-0.9l-1-5.2M353.4 322.2l1-1.5M353.4 180.6l6.2 0.6M353.4 180.6l0.5-6.8M353.5 241.4l0.5-0.3M353.6 173.5l0.3 0.3M353.6 173.5l1.1-6.3M354 241.1l-0.4-7.5M353.6 233.6l1.5 0l3.3-0.1M353.7 203.1l4.4-0.6M353.7 307.9l0.7 0.7M353.7 307.9l1.5-5.6M354.2 333.1l-0.4-4.8M353.8 254.6l3.7-1M353.9 173.8l6.4 0.3M354.4 320.7l-0.5-4.6M353.9 316.1l0.9-0.9M354 241.1l4.2 0.4M355.1 158.8l-1.1-6.1M354 152.7l0.8-0.7M355.3 302.3l-1.2-6.1M354.1 296.2l1.5-1.5M357.1 423.3l-0.6-3.9l-2.3-0.6M361.1 146.2l-6.9 0M354.8 152l-0.6-5.8M354.4 308.6l6.2 0.5M354.8 315.2l-0.4-6.6M354.4 320.7l6.1 0.6M355 269.5l-0.5-1.5l-0.1-0.3M354.7 167.2l5-0.8M354.8 315.2l6-1M354.8 152l5.6-0.2M355.3 270.1l-0.3-0.6M355 269.5l3-0.6M355.1 158.8l4.5 1.2M355.2 302.3l0.1 0M357.7 276.9l-1.6-4.5l-0.8-2.3M355.3 302.3l5.3 0M358.4 290.5l-2.9-0.1M355.6 294.7l-0.1-4.3M355.6 294.7l6.2 1.5M355.8 453.7l1.2 1.8M355.8 453.7l1.8-6.1M356.5 462.8l4.2 2.9l3.8-2.9M356.5 462.8l0.5-7.3M356.9 439.6l-0.3-0.3M356.6 439.3l0.3-7.6M356.9 431.7l0.7-0.6l0.5-6.8l-1-1M358.2 447l-1.3-7.4M364.5 447.6l0.9-8.5l-0.3-0.5l-8.2 1M357 455.5l7.1-1.1M357.5 253.6l0.3 0.1M357.6 447.6l0.6-0.6M358.9 280.1l-0.8-2.1l-0.4-1.1M357.7 276.9l1.6-1.4M357.8 253.7l1 4.4M357.8 253.7l1.2-1.1M357.9 223.8l0.7 0.7M357.9 223.8l1.6-6M358 268.9l0.7 0.7M358 268.9l0.7-4M358.1 202.5l1 0.7M358.1 202.5l0.9-6.7M358.2 447l6.1 0.8M358.2 241.5l0.8 0.9M358.2 241.5l2.8-8.1M358.2 258.9l1 5.4M358.8 258.1l-0.6 0.8M358.3 216.7l1.2 1.1M358.3 216.7l0.6-6.3M362.1 290.6l-3.7-0.1M358.4 290.5l0.9-5.3M358.4 233.5l0.2-9M358.4 233.5l2.6-0.1M358.6 224.5l6.4 0.8M359.2 264.3l-0.5 0.6M358.7 269.6l5.2 0.2M359.3 275.5l-0.6-5.9M358.8 258.1l5.4 0.4M359.3 281.1l-0.4-1M358.9 210.4l1.1-0.9M359.6 246.6l-0.6-4.2M359 242.4l5.6-1.1M359 195.8l0.9-0.7M359 252.6l0.5-6M359 252.6l5.4 0M360 209.5l-0.9-6.3M359.1 203.2l5.9-0.8M359.2 188.8l0.1 0.1M359.2 188.8l0.8-7.2M359.2 264.3l4.8-0.2M360.2 284.3l-0.7-2.5l-0.2-0.7M359.3 281.1l4.9-0.2M359.3 275.5l4.1 0M359.9 195.1l-0.6-6.2M359.3 188.9l6.5-0.4M359.3 285.2l0.9-0.9M359.5 246.6l0.1 0M359.5 217.8l5.1 0M359.6 246.6l5 0.5M359.6 181.2l0.4 0.4M359.6 181.2l0.7-7.1M359.7 166.4l-0.1-6.4M359.6 160l1-0.7M359.7 166.4l0.7 0.6M359.9 195.1l6.2 1.1M360 209.5l5.4 0.9M360 181.6l5.7 0M361.6 288.9l-1.4-4.6M360.3 174.1M360.3 174.1l0.1-7.1M360.3 174.1l5.8 0.5M360.6 159.3l-0.2-7.5M360.4 151.8l0.1-0.1M360.4 167l5-0.1M360.5 151.7l6.1 0.9M360.5 151.7l0.6-5.5M360.5 321.3l0.8 1l5.9 0.3M360.5 321.3l1.2-6.1M360.6 302.3l0.1 0.1M360.6 302.3l1.2-6.1M360.6 159.3l5.2-0.2M360.6 309.1l0.6 0.8M360.6 309.1l0.1-6.7M360.7 302.4l6.3 1.1M360.8 314.2l0.9 1M360.8 314.2l0.4-4.3M361 233.4l0.5 0l0.4 0M362.3 144.6l-0.3 1.6l-0.9 0M361.2 309.9l5.3-1.1M362.1 290.6l-0.1-0.1l-0.4-1.6M364.9 294.2l5.9-0.2l-1.3-6.2l-7.9 1.1M361.7 315.2l5.6 0.9M361.8 296.2l2.9-2.3M361.9 233.4l2.7 3M361.9 233.4l1.8 0M364.7 293.9l-2.6-3.3M362.3 144.6l5.4 0.7M367.7 145.3l-0.7-5.3l-3.8 0l-0.9 4.6M364.2 280.9l-0.8-5.4M363.4 275.5l1.3-1M363.7 233.4l1.3-8.1M363.7 233.4l9.2-0.3M363.9 269.8l0.4 0.5M363.9 269.8l0.6-5.3M364 264.1l0.5 0.4M364 264.1l0.2-5.6M364.1 454.4l1.3 1.5M364.1 454.4l0.2-6.6M364.2 258.5l0.5-0.4M364.2 280.9l4.5-0.2M364.7 274.5l-0.4-4.2M364.3 270.3l5.8-1.2M364.3 447.8l0.2-0.2M364.4 252.6l0.7 0.7M364.4 252.6l0.4-5.3M372.4 454.9l-0.5-6.9l-7.4-0.4M364.5 264.5l4.7 0.1M364.5 462.8l0.9-6.9M364.5 462.8l2.5-1.8l6.8-4.6l-1.4-1.5M364.6 236.4l6.3 0.3M364.9 241l-0.3-4.6M364.6 247.1l0.2 0.2M364.6 247.1l0-5.8M365.7 224.5l-1.1-6.7M364.6 217.8l0.7-0.7M364.6 241.3l0.3-0.3M364.9 294.2l-0.2-0.3M364.7 258.1l4.8 1.1M364.7 258.1l0.4-4.8M364.7 274.5l4.9 1M364.8 247.3l4.6-0.4M364.9 241l5.2 1.2M369.9 301.6l-2.9-4.8l-2.1-2.6M365 225.3l0.7-0.8M365 202.4l1.7 1.9M365 202.4l1.1-6.2M365.1 253.3l5.1-0.5M365.3 217.1l7 1.1M365.3 217.1l0.8-5.8M365.4 455.9l7-1M365.4 210.4l0.7 0.9M365.4 210.4l1.3-6.1M366.7 174l-1.3-7.1M365.4 166.9l1.1-0.9M365.7 224.5l6.1 0.6M365.8 188.5l-0.1-6.9M365.7 181.6l1-0.7M365.8 159.1l1.5 1.6M365.8 159.1l1-6.2M365.8 188.5l0.3 0.3M366.1 196.2l0.1-0.1M366.1 211.3l6.3-0.2M366.2 196.1l-0.1-7.3M366.1 188.8l6-0.3M366.7 180.9l-0.6-6.3M366.1 174.6l0.6-0.6M366.2 196.1l5.7 0.1M372 339.2l-5.7-0.2M366.3 339l-3-0.1l-0.3 6.9l0.1 0.1l9.9 0.4l-1-7.1M366.9 334.9l-0.2 0.2l-0.4 3.9M366.5 308.8l0.8 0.7M366.5 308.8l0.5-5.3M366.5 166l6.5 2M366.5 166l0.8-5.3M366.6 152.6l0.2 0.3M366.6 152.6l1.2-6.7M366.7 174l6.1-1M366.7 180.9l5.2 0.8M366.7 204.3l5.1-0.4M366.8 152.9l6.1 0.7M366.9 334.9l5 0.3M367 328.6l-0.3 0.3l0.2 6M367 328.6l4.7 0.3M367.2 322.6l-0.2 6M367 303.5l2.9-1.9M367.2 322.6l0.5-0.6M367.7 315.8l-0.4-6.3M367.3 309.5l3.7-0.2M367.3 160.7l6.1-0.9M367.7 322l-0.4-5.9M367.3 316.1l0.4-0.3M367.7 315.8l3.5-0.6M367.7 322l3.7 0.3M367.8 145.9l-0.1-0.6M375.7 150.8l-7.5-2l-0.4-2.9M368.7 280.7l0.9-5.2M368.7 280.7l6.5-0.3l-0.7-4.3M370.1 269.1l-0.9-4.5M369.2 264.6l0.6-0.7M369.4 246.9l1.2 1.2M369.4 246.9l0.7-4.7M369.8 263.9l-0.3-4.7M369.5 259.2l0.5-0.5M369.6 275.5l0.1 0M369.7 275.5l4.8 0.6M369.7 275.5l0.9-5.9M369.8 263.9l5.5-0.3M370.8 304.5l0-1.5l-0.9-1.4M370 258.7l5.4 0.2M370 258.7l0.7-5.3M370.1 242.2l0.2-0.2M370.1 269.1l0.5 0.5M370.2 252.8l0.5 0.6M370.2 252.8l0.4-4.7M370.3 242l4.9 0.6M370.3 242l0.6-5.3M370.6 248.1l4.8-0.5M370.6 269.6l4.5-0.1M370.7 253.4l4.5 0.5M371 304.5l-0.2 0M371 309.3l-0.1-2.9l-0.1-1.9M370.9 236.7l2.5-2.3M373.4 307.4l-2.4-2.9M377.1 307.4l0.5-3.3l-3.6-1.6l-3 2M371.1 311.9l-0.1-2.6M371.2 315.2l0-1.4l-0.1-1.9M371.1 311.9l0.1-0.1M371.2 311.8l5.8 0M371.2 311.8l2.2-4.4M371.3 317.5l-0.1-2.3M371.4 322.3l-0.1-4.8M371.3 317.5l6.1-1.7l-0.4-4M371.7 328.9l-0.3-6.6M371.9 335.2l-0.2-6.3M371.8 225.1M371.8 225.1l1.3-6M372.9 233.1l-1.1-8M371.8 225.1l8.1-0.2M373.2 210.5l-1.4-6.6M371.8 203.9l0.6-0.6M372 339.2l-0.1-4M371.9 181.7l0.2 0.1M371.9 181.7l2.4-7.1M371.9 196.2l0.7 0.5M371.9 196.2l0.9-7M372.1 181.8l7.1 0.9M372.1 188.5l0-6.7M372.1 188.5l0.7 0.7M372.3 218.2l0.8 0.9M372.3 218.2l0.1-7.1M372.4 203.3l6.9 0.6M372.4 203.3l0.2-6.6M372.4 211.1l0.8-0.6M372.6 196.7l6.2 0M372.8 189.2l5.7-0.3M372.8 173l1.5 1.6M372.8 173l0.4-4.9M372.9 233.1l0.6 0M373.4 159.8l-0.5-6.2M372.9 153.6l2.8-2.8M373 168l0.2 0.1M373 168l0.4-8.2M373.1 219.1l5.2-1M373.2 168.1l6.4-1.4M373.2 210.5l5.4 0.3M373.4 159.8M373.4 307.4l3.7 0M373.4 159.8l5.3 0.7M373.4 234.4l2.2 2.1M373.4 234.4l0.1-1.3M373.5 233.1l5.6-0.2M374.3 174.6l4.5 0.5M374.5 276.1l0.8-0.7M375.1 269.5l0.4 0.6M375.1 269.5l1.2-4.6M375.4 258.9l-0.2-5M375.2 253.9l1.3-1M375.6 247.3l-0.4-4.7M375.2 242.6l1.1-1.1M375.3 263.6l1 1.3M375.3 263.6l0.6-4.2M375.3 275.4l4.4 0.2l0.9-0.8M375.3 275.4l0.2-5.3M376.5 252.9l-1.1-5.3M375.4 247.6l0.2-0.3M375.4 258.9l0.5 0.5M375.5 270.1l4.5 0.5M375.6 247.3l4.5-0.4M375.6 236.5l6.1 0.2M376.3 241.5l-0.7-5M380.8 152.2l-5.1-1.4M375.9 259.4l5.1-0.7M376.3 241.5l4.5 0.6M376.3 264.9l4.1 0M376.5 252.9l3.7 0.3M377 311.8l1.4-2.2l-1.3-2.2M378.3 218.1l0.1 0.1M378.3 218.1l0.3-7.3M379.9 224.9l-1.5-6.7M378.4 218.2l7.7-0.2M378.5 188.9l1.8 1.8M378.5 188.9l0.7-6.2M378.6 210.8l0.3-0.2M379.6 166.7l-0.9-6.2M378.7 160.5l1.5-1.3M379.3 203.9l-0.5-7.2M378.8 196.7l0.7-0.7M380.2 181.9l-1.4-6.8M378.8 175.1l1.9-1.4M378.9 210.6l6 1.1M378.9 210.6l0.9-6.2M379.1 232.9l1.3-7.5M379.1 232.9l0.2 0l1.9 0M379.2 182.7l1-0.8M379.3 203.9l0.5 0.5M379.5 196l6.3 1.7M379.5 196l0.8-5.3M379.6 166.7l0.7 0.5M379.8 204.4l5.8-1M379.9 224.9l0.5 0.5M380.6 274.8l-0.6-4.2M380 270.6l1.4-1.3M380.1 246.9l1.4 1.5M380.1 246.9l0.8-4.7M380.2 159.2l6.7 1.6M380.2 159.2l0.6-7M380.2 253.2l0.7 0.8M380.2 253.2l1.3-4.8M380.2 181.9l5.2 0.4M380.3 190.7l6-1.5M380.7 173.7l-0.4-6.5M380.3 167.2l5.9-1M381.4 269.3l-1-4.4M380.4 264.9l0.8-0.7M380.4 225.4l4.5-0.8M380.6 274.8l4.6 0.3l0.4-0.4M380.7 173.7l5.5 0.6M388.1 151.9l-6.1 0.6l-1.2-0.3M380.8 242.1l0.1 0.1M380.8 242.1l0.9-5.4M380.9 242.2l4.5 0.7M381 258.7l-0.1-4.7M380.9 254l5.6-0.6M381 258.7l0.2 0.3M381.8 236.6l-0.6-3.7M381.2 232.9l2.8-0.1l2.6-0.1M381.2 264.2l4.5 0.4M381.2 264.2l0-5.2M381.2 259l4.6 0.2M381.4 269.3l4.2 0.6M381.5 248.4l4.3-0.5M381.7 236.7l0.1-0.1M381.8 236.6l4.5 0.1M382.5 406.7l0.5 3.6M385.1 404.6l-0.1-1.1l-3 0l0.5 3.2M382.5 406.7l2.6-2.1M383 410.3l0.9 6.7l2.6-0.4M387.8 409.9l-4.8 0.4M383.9 367.9l5.7 0.6M383.9 367.9l-0.2 0.2l0.4 6.6l0.1 0.1l4.7 0.9M384.5 362.2l-0.9 1.2l0.3 4.5M389.6 356.4l-5.2-0.6l-1.1 1.2l1.2 5.2M384.5 362.2l5-0.6M386.1 218l-1.2-6.3M384.9 211.7l1.6-1.4M384.9 224.6l0.8 0.7M384.9 224.6l1.2-6.5M387.8 409.9l0.3-2.7l-3-2.6M386.3 189.2l-0.9-6.9M385.4 182.3l0.5-0.5M385.8 247.9l-0.4-5M385.4 242.9l1.4-1.3M385.5 328l-0.1 0.2l0.3 4.9M391 327.2l0.4-4.9l-0.2-0.3l-5.8-1l-0.7 0.7l0.8 6.3M385.5 328l5.5-0.8M385.6 274.7l4.4 0.8l0.5-0.2M385.6 274.7l0.1-4.8M386.5 210.3l-0.9-6.9M385.6 203.4l0.7-0.7M385.6 269.9l0.1 0M385.6 269.9l0.1-5.3M385.7 269.9l5-0.6M387 232.7l-1.3-7.4M385.7 225.3l6.6-0.4M385.7 333.1l5.5 1.2M385.7 333.1l-0.6 0.7l0.3 7.3l0.5 0.3M385.7 264.6l0.8-0.6M386.3 202.7l-0.5-5M385.8 197.7l1.3-1.3M385.8 247.9l0.6 0.5M386.5 264l-0.7-4.8M385.8 259.2l0.9-0.7M385.9 341.4l0 6M385.9 341.4l4.2-1.3M385.9 347.4l-4.1 0l0 0.2l2 2.2l6.4 1.1M385.9 347.4l1.6 0l6.6-0.1M385.9 181.8l0.3-7.5M385.9 181.8l7.2-0.3M386.1 218l0 0.1M386.1 218.1l6.4 0M386.2 174.3l1-0.7M386.2 166.2l1.1 1.2M386.2 166.2l0.8-5.3M386.3 236.7l0.3 0.3M386.3 236.7l0.3-4M386.3 202.7l4.6 0.7M386.3 189.2l0.6 0.3M386.5 253.4l-0.1-5M386.4 248.4l4.6-0.9M386.5 210.3l6.4 0M386.5 253.4l0.2 0.2M386.5 416.6l3.9 6.1l1.1-0.3l3.4-3.6l0-1.8l-1.1-1.4l-5.8-0.5M386.5 416.6l1.5-1.5M386.5 264l4.4 0.3M386.6 232.7l0.4 0M386.8 241.6l-0.2-4.6M386.6 237l5.3-0.4M386.7 258.5l5.1 0.8M386.7 258.5l0-4.9M386.7 253.6l4.7 0.2M386.8 241.6l4.4 1.3M387.1 196.4l-0.2-6.9M386.9 189.5l7.7-0.3M386.9 160.8l0.1 0.1M386.9 160.8l1.2-8.9M387 232.7l4.6-0.1M387 160.9l6.6 0.1M387.1 196.4l3.8 0.1M387.2 173.6l5.5 1.1M387.2 173.6l0.1-6.2M387.3 167.4l5.5-0.1M388 415.1l0-4.9l-0.2-0.3M393.1 153.6l-3-1.9l-2 0.2M388.9 375.7l0.8 4.3l1.3 1.2M388.9 375.7l1.3-1.5M389.5 361.6l0.8 1M389.5 361.6l0.6-4.6M389.6 368.5l1.1 1.1M389.6 368.5l0.7-5.9M389.6 356.4l0.5 0.6M390.2 350.9l-0.6 5.5M394.1 347.3l-4-7.2M390.1 340.1l1.1-1.2l0-4.6M390.1 357l6-0.3M395.1 375l-4.9-0.8M390.2 374.2l0.5-4.6M390.2 350.9l4.4-3.4M390.3 362.6l5.2 0.2M390.5 275.3l7.5 2.5M390.5 275.3l1.2-4.8M390.7 369.6l5.7-1.3M390.7 269.3l1 1.2M390.7 269.3l0.5-4.5M390.9 264.3l0.3 0.5M390.9 264.3l0.9-5M390.9 198.1l0-1.6M390.9 196.5l0-1.2l3.2-5.4M390.9 203.4l0-5.3M390.9 198.1l5.7-0.6M391.1 204.4l-0.2-0.7l0-0.3M391.2 334.3l0.8-0.7l-0.1-5.6l-0.9-0.8M391 247.5l0.7 0.6M391 247.5l0.2-4.6M391 381.2l0.2 4.1l5.2 1.4l1.7-1.3M391 381.2l6.3-1.6M391.1 204.4l4.5 0.6M392.9 210.3l-1.8-5.9M391.2 242.9l0.9-0.7M391.2 264.8l4.8 0.3M391.4 253.8l0.5 0.4M391.4 253.8l0.3-5.7M391.5 304.1l4.3 0.2M391.5 304.1l0 6.2l0.1 0.1M397.1 298.5l-4.8-0.5l-0.9 1l0 5l0.1 0.1M391.9 236.6l-0.3-4M391.6 232.6l0.8 0M391.6 310.4l0 5.7l0.4 0.4l4.7 0.1M391.6 310.4l5.6-0.1M391.7 248.1l4.3 0.1M391.7 270.5l4.9 0.2M391.8 259.3l0.5-0.4M392.3 258.9l-0.4-4.7M391.9 254.2l4.7-1.2M391.9 236.6l0.4 0.2M392.1 242.2l4.3 0.5M392.1 242.2l0.2-5.4M392.3 236.8l4.1-0.3M392.3 258.9l4.1 0.4M392.3 224.9l0.8 1.1M392.3 224.9l0.2-6.8M392.4 232.6l0.7-6.6M392.4 232.6l4.4-0.1M392.5 218.1l3.7-3M393.1 181.5l-0.4-6.8M392.7 174.7l0.1-0.1M392.8 167.3l1.4 1.3M392.8 167.3l0.8-6.3M392.8 174.6l7.3 0.1M392.8 174.6l1.4-6M394.1 212.8l-0.7-0.8l-0.5-1.7M400.3 156.1l-3.5-0.2l-3.7-2.3M394.3 160.6l-1.2-7M393.1 181.5l3.4 3M393.1 226l6.4-0.7M393.6 161l0.7-0.4M394.6 347.3l-0.5 0M396.2 215.1l-2.1-2.3M394.1 212.8l0.7-0.9M394.1 189.9l2.9 2.1M394.1 189.9l0.5-0.7M394.2 168.6l5.9-0.7M394.3 160.6l3.9 0.5M394.6 189.2l1.3-2.3l0.6-2.4M397.7 354.6l-3.1-7.1M394.6 347.5l0-0.2M395.3 347.3l-0.7 0M394.8 211.9l0.8-6.9M394.8 211.9l7-1.7M397.3 379.6l-2.2-4.6M395.1 375l2.1-2.6M404.2 347.2l-1.9-6.9l-4.2-0.5l-0.5 0.3l-2.3 7.2M395.3 347.3l8.7-0.1l0.2 0M396.8 367.7l-1.3-4.9M395.5 362.8l1-1.6M395.6 205l1.6-1.2M397.4 310.1l-1.6-5.8M395.8 304.3l1.3-1.1M397 270.1l-1-5M396 265.1l1.4-1.5M396.6 253l-0.6-4.8M396 248.2l1-0.9M396.5 361.2l-0.4-4.5M396.1 356.7l1.6-2.1M399.8 219.2l-1.3-1.5l-2.3-2.6M396.4 368.3l0.8 4.1M396.4 368.3l0.4-0.6M397 247.3l-0.6-4.6M396.4 242.7l1-1.1M396.4 259.3l0.9 0.8M396.4 259.3l1.2-5.5M396.4 236.5l0.2 0.1M396.4 236.5l0.4-4M396.5 361.2l6.6 0.7M396.5 184.5l1.1-4.3M397.4 241.6l-0.8-5M396.6 236.6l5.4-0.2M397.1 198.1l-0.5-0.6M396.6 197.5l0.4-5.5M396.6 253l1 0.8M398 277.8l-1.4-7.1M396.6 270.7l0.4-0.6M396.7 316.6l0.4 0.4l6-1.8l0-3M396.7 316.6l0.5-6.3M396.8 232.5l3.3-0.1M401.9 367.4l-5.1 0.3M397 192l4.8-2.2M397 247.3l5.1 0.4M397 270.1l5.1-1.4M397.1 298.5l0.1 0.1M398.1 293.3l-1 5.2M397.1 198.1l9.5 0M397.2 203.8l-0.1-5.7M397.1 303.2l3.4 0.8M397.1 303.2l0.1-4.6M397.2 372.4l4.8 2.5M397.2 310.3l0.2-0.2M397.2 298.6l5.8 0.4M401.9 205.8l-4.7-2M397.4 263.6l-0.1-3.5M397.3 260.1l5-1.2M398.1 379.8l-0.8-0.2M397.4 263.6l4.7 1.6M397.4 241.6l4.7 0.1M399.4 309.9l-2 0.2M397.6 253.8l4.5-0.2M397.6 287.7l-0.2 0.2l-0.1 4.4l0.8 1M398.8 279.4l-1.7 0.1l0.5 8.2M397.6 287.7l5.6-0.4M397.6 180.2l4.2-3M398.8 180.1l-1.2 0.1M400.8 354.9l-3.1-0.3M398 277.8l0.8 1M398.1 385.4l0-5.6M400.6 378.9l-2.5 0.9M398.1 385.4l4.5 1.6l0.1 0M398.1 293.3l4.9 0.1M400.1 167.9l-1.9-6.8M398.2 161.1l2.1-1.9M398.8 278.8l0 0.6M398.8 278.8l2.5-2.1M398.8 180.1l2.2 2.7M408.2 178.3l-3.1 1.1l-6.3 0.7M398.8 279.4l2.3-0.1l1.7-0.1M403.1 312.2l-3.7-2.3M401.5 305.9l-2.1 4M400.1 232.4l-0.6-7.1M399.5 225.3l2.7-3.3M402.2 222l-1.3-1.6l-1.1-1.2M399.8 219.2l2.2-1.8M400.1 174.7l1.7 2.5M400.1 174.7l0.4-6.6M400.1 232.4l1.4-0.1l1 0M400.1 167.9l0.4 0.2M400.3 159.2l5.9 1.4M400.3 159.2l0-3.1M410.6 156.9l-0.4-0.1l-9.9-0.7M400.5 304l1 1.9M400.5 304l2.8-4.6M400.5 168.1l5.5-0.9M400.6 378.9l2.9 2M402 374.9l-1.4 4M400.8 354.9l2.4 2.7M407.2 347.1l-6.4 7.8M401 182.8l7.9 1M401.8 189.8l-0.8-7M401.3 276.7l2.2-6.7M401.3 276.7l6.3-1.3M406.9 305.8l-5.4 0.1M401.8 189.8l4.3 2M401.8 210.2l1.2 1.5M401.8 210.2l0.1-4.4M401.8 177.2l1.7-1.2l7-5.9M406.8 202.8l-4.9 3M401.9 367.4l1.2 1.1M403.1 361.9l-1.2 5.5M402 374.9l0.3-0.3M402 236.4l0.3 0.3M402 236.4l0.5-4.1M402 217.4l6.4 0.5M402 217.4l1-5.7M402.1 247.7l0-6M402.1 241.7l0.3-0.3M402.3 258.9l-0.2-5.3M402.1 253.6l0.1-0.1M402.1 268.7l1.4 1.3M402.1 268.7l0-3.5M402.1 247.7l0.4 0.4M402.1 265.2l1.3-1.3M406.1 227l-3.9-5M402.2 253.5l5.4 0.5M402.2 253.5l0.3-5.4M402.3 258.9l0.3 0.3M402.3 236.7l5.1 0.1M402.4 241.4l-0.1-4.7M402.3 374.6l6.2 0.5M402.3 374.6l0.8-6.1M402.4 241.4l5.2 0.4M402.5 232.3l6.2-0.2M402.5 248.1l5.2-0.8M403.4 263.9l-0.8-4.7M402.6 259.2l5.9-0.5M403.5 380.9l-0.8 6.1M402.7 387l6-0.1l-0.1-5.7l-0.4-0.4M403.4 287.1l-0.6-7.9M402.8 279.2l1 0l3.8 1.8M403 299l0-5.6M403 293.4l0.1-0.1M403 299l0.3 0.4M403 211.7l5.5-0.2M403.1 368.5l5.6 0.3M403.1 293.3l4.7 0.2M403.1 293.3l0.1-6M403.1 312.2l4.6-2.9M403.1 361.9l0.1-0.1M403.2 287.3l0.2-0.2M403.2 361.8l0-4.2M403.2 357.6l5.4-1.5l-1.1-9l-0.3 0M408.7 368.8l0.7-0.9l-0.1-5.2l-6.1-0.9M403.3 299.4l3.8 1.4M403.4 287.1l6.1 0.4M403.4 263.9l4.7 0.3M403.5 380.9l4.7-0.1M403.5 270l3.7 0.4M407.2 347.1l-3 0.1M406 167.2l4.5 2.9M406 167.2l0.2-6.6M406.1 191.8l0.8 5.7M406.1 191.8l1.6-1.5M408.2 230.6l-0.6-1.8l-1.5-1.8M406.1 227l2.2-2.6M406.2 160.6l4.4-3.7M406.6 198.1l0.2 4.7M406.9 197.5l-0.3 0.6M406.8 202.8l1.1 0.9M406.9 197.5l7.2-0.7M406.9 305.8l0.8 3.5M407.8 303.5l-0.9 2.3M407.8 303.5l-0.7-2.7M407.1 300.8l1.7-2.2M407.6 275.4l-0.4-5M407.2 270.4l0.8-0.6M407.6 241.8l-0.2-5M407.4 236.8l2-2.4M407.6 281l1.8 6.2M408.1 280.8l-0.5 0.2M407.6 241.8l0.5 0.4M407.6 275.4l0.5 0.4M408.5 258.7l-0.9-4.7M407.6 254l0.5-0.5M407.7 309.3l0.1 0.2M407.7 247.3l0.2 0.2M407.7 247.3l0.4-5.1M407.7 190.3l7.3 0.4M407.7 190.3l1.5-6.2M413.8 309.7l0.6-5.6l-6.6-0.6M408.8 298.6l-1-5.1M407.8 293.5l3.1-3.2M407.8 309.5l6 0.2M407.8 309.5l1.8 6.2l5 0.2l0.2-5.2l-1-1M407.9 203.7l5.8 1.1M408.5 211.5l-0.6-7.8M407.9 247.5l4.6 0.6M408.1 253.5l-0.2-6M408 269.8l5.4 0.4M408 269.8l0.1-5.6M408.1 242.2l3.6-0.8M408.1 280.8l0-5M410.3 279.7l-0.6 0.6l-1.6 0.5M408.1 253.5l4.8-0.5M408.1 264.2l0.3-0.3M408.1 275.8l5.9-0.3M408.9 183.8l-0.7-5.5M415.7 182.5l-2.2-0.6l-2.5-4.7l-2.8 1.1M408.2 230.6l6.7 0.4M408.7 232.1l-0.5-1.5M408.2 380.8l0.3-5.7M408.3 224.4l0.5-6.1M408.3 224.4l6.7-0.6M408.4 263.9l4.9 0.4M408.4 263.9l0.1-5.2M408.4 217.9l0.4 0.4M408.4 217.9l0.3-6.3M408.5 258.7M408.5 258.7l4.9-0.4M408.5 375.1l1.1-1.1l-0.9-5.2M408.5 211.5l0.2 0.1M408.7 232.1l0.7 2.3M408.7 211.6l5.3-0.3M408.8 218.3l6.1-0.5M408.8 298.6l5.5-1l1.5-1.7M408.9 183.8l0.3 0.3M409.2 184.1l5.5-0.6M409.4 234.4l1.3 3.7M409.4 287.2l0.1 0.3M409.4 287.2l2-1.6M409.5 287.5l0.6 1.9l0.8 0.9M410.3 279.7l0.5 0.3M414 275.5l-0.6 1.1l-3.1 3.1M410.5 170.1l2.3-1.9M413.2 157.2l-2.6-0.3M410.7 238.1l1 3.3M410.7 238.1l4.5-0.1M411.4 285.6l-0.6-5.6M410.8 280l4.7-0.6M410.9 290.3l1.5 1.8l1.5 1.6M411.4 285.6l4.2 0.1M411.7 241.4l0.5 1.4l3.6 2.9M412.9 253l-0.4-4.9M412.5 248.1l3.3-2.4M412.8 168.2l0.4-11M412.8 168.2l0.7-0.6l10.9-8.8l-11.2-1.6M412.9 253l0.8 0.6M413.3 264.3l2 1.7M413.3 264.3l0.1-6M413.4 258.3l0.1-0.1M413.4 270.2l0 0.1l1.9 2.5l-0.4 0.8M413.9 267.3l-0.3 1.6l-0.2 1.3M413.5 258.2l4.9 0.8M413.5 258.2l0.2-4.6M413.7 253.6l5.4-1.2M414.7 210.6l-1-5.8M413.7 204.8l1.9-1.5M413.9 293.7l1.9 2.2M413.9 293.7l2.5-3.1M413.9 267.3l7.3 1.7M415.3 266l-1.3 0.6l-0.1 0.7M414.9 273.6l-0.9 1.9M414.9 217.8l-0.9-6.5M414 211.3l0.7-0.7M415.6 203.3l-1.5-6.5M414.1 196.8l0.9-0.8M414.7 210.6l5.9-0.1M415 190.7l-0.3-7.2M414.7 183.5l1-1M414.9 217.8l0.5 0.4M414.9 231l0.1 0.1M414.9 231l1-6.3M414.9 273.6l1.3 1.1M416 237.1l-1-6M415 231.1l6.2-0.6M415 190.7M415 223.8l0.9 0.9M415 223.8l0.4-5.6M415 196l0-5.3M415 190.7l6.3-0.7M415 196l5.9 0.9M416 245.9l-0.8-7.9M415.2 238l0.8-0.9M421.1 262.4l-1.4 1.7l-4.4 1.9M415.4 218.2l5.5-0.7M415.5 279.4l0.7 0.8M415.5 279.4l0.7-4.7M416.4 290.6l-0.8-4.9M415.6 285.7l0.3-0.3M415.6 203.3l4.8 0.1M419.8 183.1l-0.4 0.5l-1.3-0.4l-2.4-0.7M415.8 295.9l0.1 0.2l0.4 0.6M415.8 245.7l0.2 0.2M415.9 285.4l0.3-5.2M415.9 285.4l5.7-0.1M415.9 224.7l5.5 0M416 245.9l1.7 1.3M421.6 237.2l-5.6-0.1M416.2 280.2l5.3 0.2M416.2 274.7l5-0.5M416.3 296.7l4.8 6.7l0.7-0.8l-0.3-6.2M416.3 296.7l5.1-0.5M416.4 290.6l5.2-0.1M417.7 247.2l0.7 0.6l2.1 3.3M417.7 247.2l7-0.3M418.4 259l2.8 3.2M418.4 259l0.7-6.6M419.1 252.4l1.4-1.3M421.3 190l-1.5-6.9M427 184.2l-4.7-4.1l-2.5 3M420.4 203.4l0.6 0.7M420.4 203.4l0.5-6.5M420.5 251.1l0.6 1.1M420.9 217.5l-0.3-7M420.6 210.5l1-0.9M420.9 196.9M420.9 196.9l6.3 0.1M420.9 196.9l0.6-6.8M420.9 217.5l0.4 0.2M421.6 209.6l-0.6-5.5M421 204.1l6.8-1.7M421.1 262.4l1 0.8M421.2 262.2l-0.1 0.2M426.6 252.6l-5.5-0.4M421.1 252.2l0.4 0.6l2.6 3.8l-0.4 1.3M421.3 274.2l-0.1-5.2M421.2 269l0.5-0.5M422.1 279.7l-0.9-5.5M421.2 274.2l0.1 0M422.4 235.9l-1.2-5.4M421.2 230.5l0.4-0.5M423.7 257.9l-0.9 2.4l-1.6 1.9M421.3 274.2l5.8-0.5M421.7 224.3l-0.4-6.6M421.3 217.7l6.4-0.4M421.3 190l0.2 0.1M421.6 230l-0.2-5.3M421.4 224.7l0.3-0.4M421.4 296.2l0.1 0.2M421.4 296.2l0.6-5.2M421.5 190.1l4.6-0.3M421.5 296.4l4.8 0.5M421.6 285.3l-0.1-4.9M421.5 280.4l0.6-0.7M421.6 209.6l5.8 0.8M421.6 285.3l0.4 0.5M424.7 246.9l-3.1-9.7M421.6 237.2l0.8-1.3M421.6 230l7-0.1M421.6 290.5l0.4 0.5M421.6 290.5l0.4-4.7M421.7 224.3l5.5 0.1M421.7 268.5l4.8 0.1M421.7 268.5l0.4-5.3M422 291l5 0.3M422 285.8l5.2-0.4M422.1 263.2l4.5-0.3M422.1 279.7l5.7 0.1M427.1 235l-4.7 0.9M423.7 257.9l3 0.1M424.7 246.9l0.2 0l2.9-0.1M426.1 189.8l1.3 1.2M426.1 189.8l0.9-5.6M426.3 296.9l1.1 4.9l5.4-1.2M426.3 296.9l1.3-1.3M426.5 268.6l0.8 0.8M426.5 268.6l0.6-5.2M426.6 262.9l0.5 0.5M426.6 262.9l0.6-4.4M426.7 258l-0.1-5.4M427.6 251.9l-1 0.7M426.7 258l0.5 0.5M427 291.3l0.2 0.1M427 291.3l0.4-5.7M433.4 183.2l-6.4 1M427.1 235l2.5 2.9M428.8 230l-1.7 5M427.1 263.4l4.3 0.6M427.1 273.7l1.1 1.1M427.1 273.7l0.2-4.3M428.6 229.9l-1.4-5.5M427.2 224.4l1-1.5M427.2 285.4l0.2 0.2M427.2 285.4l0.6-5.6M427.8 202.4l-0.6-5.4M427.2 197l0.2-0.3M427.2 258.5l5-0.6M427.6 295.6l-0.4-4.2M427.2 291.4l5-0.8M427.3 269.4l4.5-0.9M427.4 196.7l0-5.7M427.4 191l5.6-1M427.4 196.7l6.6-0.4M427.7 217.3l-0.3-6.9M427.4 210.4l0.5-0.4M427.4 285.6l4.2 0.7M427.6 295.6l4.7 0.5M432.3 253.1l-4.7-1.2M427.8 246.8l-0.2 5.1M427.7 217.3l0.5 0.4M427.8 279.8l0.6-0.5M427.8 246.8l1.8-0.1M427.8 202.4l0.6 0.5M427.9 210l5.5 0.1M427.9 210l0.5-7.1M428.2 222.9l6.7 1.3M428.2 222.9l0-5.2M428.2 217.7l5.5-0.6M428.4 279.3l-0.2-4.5M428.2 274.8l4.1-1.3M428.4 202.9l5.2 0.1M428.8 279.4l-0.4-0.1M428.6 229.9l0.2 0.1M433.4 230.2l-4.6-0.2M434.2 284.1l-5.4-4.7M428.8 279.4l6-1.6M429.6 246.7l0-8.8M429.6 237.9l5.7-3.9M429.6 246.7l1.4 0l2.8-0.1M432 268.3l-0.6-4.3M431.4 264l1-0.8M432.2 290.6l-0.6-4.3M431.6 286.3l2.6-2.2M432.3 273.5l-0.5-5M431.8 268.5l0.2-0.2M432 268.3l5.5 0.3M432.2 257.9l0.5 0.6M432.2 257.9l0.1-4.8M432.2 290.6l1 0.8M432.3 273.5l3.7 1.4M433.9 252l-1.6 1.1M432.3 296.1l0.6 0.8M432.3 296.1l0.9-4.7M432.4 263.2l5 0.8M432.4 263.2l0.3-4.7M432.7 258.5l4.9 0M432.8 300.6l1.1 1.1l4.4 0M432.8 300.6l0.1-3.7M432.9 296.9l5.6-0.9M434 196.3l-1-6.3M433 190l0.5-0.6M433.2 291.4l4.3-0.6M433.4 210.1l0.8 0.9M433.4 210.1l1.2-6M433.5 189.4l-0.1-6.2M438.3 182.6l-4.4-0.1l-0.5 0.7M433.4 230.2l1 1.1M434.9 224.2l-1.5 6M433.5 189.4l6.8 1.3M433.6 203l1 1.1M433.6 203l1.3-6M433.7 217.1l0.5 0.3M433.7 217.1l0.5-6.1M437.2 235.7l-3.4 10.9M433.8 246.6l0.1 0M433.9 246.6l0 5.4M433.9 246.6l4.3-0.2l2.6-0.1M437.4 252.9l-3.5-0.9M434 196.3l0.9 0.7M435.2 223.9l-1-6.5M434.2 217.4l5.9-0.4M435.5 283.8l-1.3 0.3M434.2 211l6.4-0.2M435.3 234l-0.9-2.7M434.4 231.3l6.1-2.6M434.6 204.1l5.2 0.3M434.8 277.8l1.1 4.7M436 274.9l-1.2 2.9M434.9 323.4l3.6 1.4l1.7-1.4l-1-5.2l-1.3-0.7l-1.7 0.7M436.2 318.2l-2.8-1.1l-4.1 3l3 3.9l2.6-0.6M436.2 318.2l-1.3 5.2M434.9 197l4.9-0.7M434.9 224.2l0.3-0.3M435.2 223.9l5.1-0.1M437.2 235.7l-1.9-1.7M435.5 283.8l2.3 2M435.9 282.5l-0.4 1.3M441.7 278.9l-5.8 3.6M436 274.9l1.4-0.6M442.1 235.9l-4.9-0.2M437.9 258.2l-0.5-5.3M437.4 252.9l3.7-1.9M437.5 268.6l-0.1-4.6M437.4 264l0.5-0.5M437.4 274.3l3.3 1.4M437.4 274.3l0.3-5.4M437.5 268.6l0.2 0.3M438.5 296l-1-5.2M437.5 290.8l0.6-0.7M437.9 263.5l-0.3-5M437.6 258.5l0.3-0.3M437.7 268.9l5.5-0.6M438.1 290.1l-0.3-4.3M437.8 285.8l5.1-1.5M437.9 263.5l5-0.2M442.1 258l-4.2 0.2M438.1 290.1l5.7 0.7M438.3 301.7l0.1 0.1M438.3 301.7l0.8-5.2M441 190l-2.7-7.4M439.2 182l-0.9 0.6M438.4 301.8l4.9 0.9M438.4 301.8l-0.3 5.5l5.4-0.6l0.4-0.5M438.5 296l0.6 0.5M439.1 296.5l5.4-0.5M439.2 182l6.6 1.3M441.4 175.5l-2.2 6.5M440.6 210.8l-0.8-6.4M439.8 204.4l0.7-0.7M439.8 196.3l0.7 0.6M439.8 196.3l0.5-5.6M440.8 223.4l-0.7-6.4M440.1 217l0.9-1M440.5 228.7l-0.2-4.9M440.3 223.8l0.5-0.4M440.3 190.7l0.7-0.7M440.5 228.7l1.7 1.5M440.5 203.7l6 0.2M440.5 203.7l0-6.8M440.5 196.9l6.1 0.3M440.6 210.8l0.3 0.2M440.7 275.7l1 3.2M440.7 275.7l2.9-2.1M440.8 223.4l5.3 0M440.8 246.3l0.3 4.7M440.8 246.3l1-0.1M441 216l-0.1-5M440.9 211l5.3-0.9M441 216l6.2 1.7M441 190l3.7-0.9M441.1 251l1.7 1.3M442.7 174.4l-1.6-2.6l3.4-5.8l-5.9 1.6l-4.7 3.3l2.2 4.6l5.3 0M441.4 175.5l1.3-1.1M441.7 278.9l0.8 0.7M441.8 246.2l2.5-8.7M441.8 246.2l4.2-0.1l1.6-0.1M444.3 237.5l-2.2-1.6M442.2 230.2l-0.1 5.7M442.9 263.3l-0.8-5.3M442.1 258l0.6-0.5M442.2 230.2l7.4-2.9M442.9 284.3l-0.4-4.7M442.5 279.6l5.5-0.6M442.7 257.5l4.9 0.7M442.8 252.3l-0.1 5.2M446.4 177.4l-2.7-1.4l-1-1.6M442.8 252.3l4.6-0.3M443.2 268.3l-0.3-5M442.9 263.3M448.2 262.4l-5.3 0.9M442.9 284.3l1.3 0.9M443.2 268.3l0.3 0.2M443.9 306.2l-0.6-3.5M443.3 302.7l2.6-3.4M443.6 273.6l-0.1-5.1M443.5 268.5l3.4-0.3M443.6 273.6l4.9 0.9M443.8 290.8l1.8 1.9M443.8 290.8l0.4-5.6M443.9 306.2l5.6 0.8l1.8-1.8l-3.4-5.3l-2-0.6M444.2 285.2l4.4-0.7M444.3 237.5l5.7-1.3M445.9 299.3l-1.4-3.3M444.5 296l1.1-3.3M444.7 189.1l1.8 1.1M444.7 189.1l1.1-5.8M445.6 292.7l1.6-0.4M445.8 183.3l0.7-0.6M446.1 223.4l3.5 3.9M446.1 223.4l1.1-5.7M448.2 216.9l-2-6.8M446.2 210.1M446.2 210.1l0.3-6.2M446.2 210.1l7.4-0.5M455.6 179.4l-5.2 0l-4-2M446.5 182.7l-0.1-5.3M446.5 182.7l5.6 1M446.5 203.9l0.4-0.3M447.8 196.2l-1.3-6M446.5 190.2l6.4-1.8M446.9 203.6l-0.3-6.4M446.6 197.2l1.2-1M446.9 203.6l6.1 0.5M448.5 274.5l0.8-2.4l-2.4-3.9M446.9 268.2l1.7-2.3M447.2 292.3l4.5 3.3l2.3-2.4M447.2 292.3l2.4-2.3M447.2 217.7l1-0.8M447.4 252l0.2 0.2M447.4 252l0.2-6M447.6 258.2l0.6 4.2M447.6 258.2l0.7-1M447.6 246l4.7-0.2M448.3 257.2l-0.7-5M447.6 252.2l5.1-0.6M447.8 196.2l4.4 0.2M448.6 284.5l-0.6-5.5M448 279l1.6-2.2M448.2 262.4l0.4 0.4M448.2 216.9l3.4-0.3M448.3 257.2l5.3-0.3M449.6 276.8l-1.1-2.3M448.6 265.9l0-3.1M448.6 262.8l8-1M448.6 284.5l0.5 0.3M448.6 265.9l3.5 1.9l4.6-4l-0.1-2M449.6 290l-0.5-5.2M449.1 284.8l8.2-1.6M449.6 227.3l0.7 0.4M449.6 290l4.5 0.6M457.3 283.2l-0.1-1.3l-4.3-4.4l-3.3-0.7M452.3 245.8l-2.3-9.6M450 236.2l0-0.2l0.3-8.3M450.3 227.7l0.1-3.9l1.2-7.2M451.6 216.6l0.4-2.1l1.6-4.9M452.9 188.4l-0.8-4.7M452.1 183.7l3.5-4.3M453 204.1l-0.8-7.7M452.2 196.4l0.4-0.3M454 250.1l-1.2-2.1l-0.5-2.2M452.6 196.1l5.5 0.2M452.6 196.1l0.4-7.6M453.6 256.9l-0.9-5.3M452.7 251.6l1.3-1.5M452.9 188.4l0.1 0.1M453 204.1l1.8 1.5M453 188.5l5.4 0.7M453.6 256.9l2.9 2.5M453.6 209.6l0.9-2.6l0.3-1.4M456.5 259.4l-0.1-5.1l-2.4-4.2M454 293.2l3.7 3.4l-0.3-8.7M454 293.2l0.1-2.6M454.1 290.6l3.3-2.7M454.8 205.6l1.4-6.1l1.9-3.2M460.2 178.9l-1.5 0.5l-3.1 0M456.6 261.8l-0.1-2.4M457.3 283.7l0-0.5M457.4 287.2l-0.1-3.5M459.8 282.7l-2.5 1M457.4 287.2l4.2 1.3l2.7-0.9M457.4 287.9l0-0.7M458.1 196.3l2.3-4l0.8-0.5M458.4 189.2l2.8 2.6M458.4 189.2l1.8-10.3M459.4 277.3l1.8 1.5M459.9 274.2l-3-2.1l0.2 6.2l2.3-1M459.4 277.3l0.5-3.1M459.8 282.7l4.4 0.7M461.2 278.8l-1.4 3.9M463.4 273.9l-3.5 0.3M460.9 178.8l-0.7 0.1M460.9 178.8l4.3 3.5M471.6 175.5l-4.5 1.4l-6.2 1.9M461.2 191.8l4.1-2.8M461.2 278.8l3-0.7M462.1 352.1l0 4.4l0.2 0.1l3.2-1.2M462.9 347.1l-3.3-0.4l0.4 4.6l2.1 0.8M462.1 352.1l2.8-0.9M464.9 351.2l-2-4.1M465.7 351.1l2.6-3.5l-1.8-2.9l-3.6 2.4M464.2 278.1l-0.8-4.2M463.8 273.4l-0.4 0.5M463.8 273.4l5.3 1M469.1 274.4l0.4-1l-2-4.3l-3.5 1.7l-0.2 2.6M464.2 278.1l0.9 0.8M464.2 283.4l0.6 0.8M464.2 283.4l0.9-4.5M464.3 287.6l0.8 0.8l4.6 0.3M464.3 287.6l0.5-3.4M464.8 284.2l4.4-0.5M464.9 351.2l0.2 0.1M465 217.8l9.1 1.4M465 217.8l-0.3 5.1l6.3 1.6M465.5 213.6l-0.4 1.8l-0.1 2.4M465.1 351.3l0.4 4.1M465.1 351.3l0.6-0.2M465.1 278.9l3.9-0.5M465.2 256.8l-3.9 0l1.8 1.7l4.9 0.8M468 250.3l-2.8 6.5M468.3 256.6l-3.1 0.2M465.3 189l-0.1-6.7M465.2 182.3l5.3-0.4M465.3 189l0.1-0.1l7.3-2M465.5 355.4l2.3 1.2M467.4 206.4l-0.3 0.6l-1.6 6.6M465.5 213.6l7.6-1.6M469.4 353.1l-3.7-2M467.4 206.4l5 0.5M472.4 201.4l-0.6 1.4l-2.2-1.7l-2.2 5.3M467.8 356.6l0.7 1.8l0.8 0.6l2.9-1.1l1-2.6l-1.9-3l-1.9 0.8M467.8 356.6l1.6-3.5M467.8 264.5l-0.1 0.2l0.5 2.9l4 1.5l1.7-1.3M468 259.3l-0.2 5.2M467.8 264.5l4.6-0.8M468 259.3l0.1-0.1M468 250.3l1.6 1.4M469 247l0 1l-1 2.3M468.1 259.2l0.2-2.6M468.1 259.2l4.5 0M469.6 256.5l-1.3 0.1M468.7 236.2l0.8 1.8l-0.2 3.4M472.3 228.9l-5.9 1.8l2.3 5.5M468.7 236.2l5.7-1.2M469.4 283.4l-0.4-5M469 278.4l0.8-0.8M469.3 241.4l-0.3 5.6M469 247l6.7-0.8M469.8 277.6l-0.7-3.2M469.9 288.5l-0.7-4.8M469.2 283.7l0.2-0.3M469.2 431l-0.2 0l-0.1 0.5l3.3 2.4M478.8 430.2l-3-6.3l-0.5-0.3l-6.2 5.5l0.1 1.9M476.9 430.4l-7.7 0.6M469.3 241.4l5.7 0M469.4 283.4l4.3 0.1M469.6 256.5l0-4.8M472.9 256.2l-3.3 0.3M469.6 251.7l5.4 0.8M469.7 288.7l-0.1 3.9l0.5 0.6M469.7 288.7l0.2-0.2M469.8 297.4l-0.5 0.6l1.2 4.4l4-0.5l0.4-0.3M470.1 293.2l-0.3 4.2M469.8 297.4l4.7-0.2M473.1 278.1l-0.3-0.2l-3-0.3M469.9 288.5l3.9-0.5M470.1 293.2l3.9-0.2M470.5 181.9l0.7 0.5M470.5 181.9l1.1-6.4M471 224.5l1.3 4.4M471 224.5l3.2-2.8M472.7 186.9l-1.5-4.5M471.2 182.4l6.7-1.8M477.7 175.8l-2.2-1.5l-3.9 1.2M472.2 433.9l-0.6 4l0.8 0.8l4.2-1.7l-0.3-4.7M472.2 433.9l4.1-1.6M473.1 229.2l-0.8-0.3M473.9 205.1l-1.5-3.7M473.1 199.5l-0.7 1.9M473.4 211.6l-1-4.7M472.4 206.9l1.5-1.8M473.9 267.8l-1.5-4.1M472.4 263.7l0.6-0.7M473 263l-0.4-3.8M472.6 259.2l0.4-0.5M472.7 186.9l1.1-0.3l4.2-0.6M473 258.7l-0.1-2.5M475 256.1l-1.9 0.1l-0.2 0M473 258.7l4.5 0.3M473 263l4.3 0.1M474.4 235l-1.3-5.8M478.2 226.9l-5.1 2.3M474.4 218.9l-1.3-6.9M473.1 212l0.3-0.4M477 193.9l-3.2 3.9l-0.7 1.7M473.1 199.5l6.3-0.1M473.9 283.3l-0.8-5.2M477.7 278l-4.6 0.1M473.4 211.6l3.6-0.2M473.8 288l-0.1-4.5M473.7 283.5l0.2-0.2M473.8 288l0.4 0.3M473.9 205.1l4.4 0M473.9 267.8l3.4 0.5M473.9 283.3l4.4-0.4M474.5 297.2l-0.5-4.2M474 293l0.9-0.8M474.2 221.7l-0.1-2.5M474.1 219.2l0.3-0.3M474.9 292.2l-0.7-3.9M474.2 288.3l4.4-1M478.2 226.9l0-0.7l-4-4.5M474.4 235l0.7 0.4M474.4 218.9l4.3-1.3M474.5 297.2l0.8 0.7M474.9 292.2l3.8 0.6M474.9 301.6l4.5 1.1l1.2-1.1M474.9 301.6l0.4-3.7M475 256.1l0-3.6M477.6 255.9l-1.4 0.1l-1.2 0.1M475.8 246.2l-0.8-4.8M475 241.4l0.4-0.5M475 252.5l0.2-0.2M475.4 240.9l-0.3-5.5M475.1 235.4l4.1-1.1M475.2 252.3l5.1 0.1M475.2 252.3l0.5-6.1M475.3 297.9l3.9-1.2M475.4 240.9l5.6-0.3M475.7 246.2l0.1 0M475.8 246.2l4.3 0.2M476.3 432.3l0.7-0.9M476.9 430.4l0.1 1M478.8 430.2l-0.5 0.1l-1.4 0.1M477 431.4l5.3 2.6l1.9-0.4l0.1-3.8l-5.5 0.4M479.4 199.4l-2.4-5.5M477.9 192.1l-0.7 1.5l-0.2 0.3M478.7 217.6l-1.7-6.2M477 211.4l0.7-0.6M477.4 268.2l-0.1-5.1M477.3 263.1l0.5-0.5M477.3 268.3l0 4.2l1.7 1.6l3.3-1.8M477.3 268.3l0.1-0.1M477.4 268.2l4.9-0.6M477.8 262.6l-0.3-3.6M477.5 259l0.7-0.9M478.2 258.1l-0.6-2.2M480.9 255.6l-3.3 0.3M485.6 180.9l-5.1-3.2l-2.8-1.9M477.9 180.6l-0.2-4.8M477.7 210.8l5.1 0.8M477.7 210.8l0.6-5.7M478.8 282.3l-1.1-4.3M482.8 282.1l0-4.6l-3.7-1.5l-1.4 2M477.8 262.6l4.3 0.5M477.9 180.6l0.9 1.2M477.9 192.1l4.3 0.9M485.6 190.3l-3.4-0.9l-3.4 0.9l-0.9 1.8M478 186l0.8-4.2M478 186l2.5-0.4l4.2 0.2M478.2 258.1l4.4-0.1M479 227.7l-0.8-0.8M478.3 205.1l1.5-1.1M478.6 287.3l-0.3-4.4M478.3 282.9l0.5-0.6M478.6 287.3l0.6 0.5M479.3 296.5l-0.6-3.7M478.7 292.8l0.8-0.9M478.7 217.6l0.3 0.1l4.1-1.8l-0.3-4.3M482.6 282.3l-3.8 0M478.8 181.8l5.7 0.3M485.5 228.7l-0.4-0.5l-6.1-0.5M479.4 234.1l-0.4-6.4M480.6 301.6l-1.4-4.9M479.2 296.7l0.1-0.2M481.3 240.4l-2.1-6.1M479.2 234.3l0.2-0.2M479.5 291.9l-0.3-4.1M479.2 287.8l4.5-0.7M479.3 296.5l4.8-0.3M479.4 234.1l5.7-0.4M479.7 199.6l-0.3-0.2M479.5 291.9l4-0.1M480.2 201.2l-0.5-1.6M482.2 197.1l-2.5 2.5M481.5 205.2l-1.7-1.2M479.8 204l0.4-2.8M481 251.6l-0.9-5.2M480.1 246.4l0.7-0.7M480.2 201.2l6.6 0.1M480.9 255.6l-0.6-3.2M480.3 252.4l0.7-0.8M480.6 301.6l3.3 0l0.2-5.4M480.8 245.7l5.3 0.5M480.8 245.7l0.2-5.1M485.8 255.2l-1.3 0.1l-3.6 0.3M481 251.6l4.5-0.5M481 240.6l0.3-0.2M481.3 240.4l4-0.6M481.5 205.2l5.4 0.4l1.1-1.3M482.8 211.6l0.5-0.6l-1.8-5.8M482.1 263.1M482.1 263.1l0.5-5.1M482.3 267.6l-0.2-4.5M482.1 263.1l4.9-0.3M482.2 197.1l0-4.1M482.2 193l3.4-2.7M487.8 196.6l-5.6 0.5M482.3 267.6l0.3 0.3M482.3 272.3l3.8 1.6M482.3 272.3l0.3-4.4M483.7 287.1l-1.1-4.8M482.8 282.1l-0.2 0.2M482.6 258l3.2-2.8M482.6 267.9l4.2 0M487.6 281.4l-4.8 0.7M486.6 324.3l-3.5-2.7M483.1 321.6l-2.4 3.1l0.1 0.2l4.4 1.8l1.4-2.4M483.1 321.3l0 0.3M484.9 317l-1.7-1l-3.1 2.4l3 2.9M483.1 321.3l2.3-1.9M483.5 291.8l0.9 0.9M483.5 291.8l0.4-4.5M483.7 287.1l0.2 0.2M483.9 287.3l4.1-0.3M484.1 296.2l0.1-0.1M484.2 296.1l4.5 0.8l0.7-0.9M484.2 296.1l0.2-3.4M484.4 292.7l3.7-1.1M484.7 185.8l-0.2-3.7M484.5 182.1l1.1-1.2M484.7 185.8l4.2 0.3l5.8-1.7l-7.5-2.5l-1.6-1M485.4 319.4l-0.5-2.4M488.3 319.6l1.2-2.6l-2-1.6l-2.6 1.6M485.1 233.7l0.9 1.1M485.1 233.7l0.4-5M485.3 239.8l0.1 0.1M485.3 239.8l0.7-5M485.4 239.9l5.6 0.7M486.2 246.1l-0.8-6.2M485.4 319.4l1.8 0.6M491.6 233.4l-0.5-4.3l-0.7-0.6l-4.9 0.2M485.5 251.1l4 3.7M485.5 251.1l0.6-4.9M489.3 191.4l-0.4-0.3l-3.3-0.8M486.3 255.2l-0.4 0l-0.1 0M486 234.8l4.4-0.3M486.1 246.2l0.1-0.1M486.1 273.9l0.3 2.1l1.1 1.1M486.1 273.9l2.7-4M486.2 246.1l4.9-0.3M487 262.8l-0.7-7.6M489 255l-2.7 0.2M486.6 324.3l0.7-0.4M486.8 267.9l2 2M486.8 267.9l0.6-4.7M486.8 201.3l1.2 3M488.2 197.9l-1.4 3.4M487 262.8l0.4 0.4M487.2 320l0.1 3.9M488.3 319.6l-1.1 0.4M487.3 323.9l2.4 0.3l1-3l-2.4-1.6M487.4 263.2l2.3-0.1M487.5 277.1l0.1 4.3M487.5 277.1l3.4-0.7M487.6 281.4l0.8 0.7M487.8 196.6l0.4 1.3M489.3 191.4l-1.5 5.2M488 204.3l3.2 0.2l2.2-2.6l-0.9-2.1M488.3 291.4l-0.3-4.4M488 287l0.2-0.2M489.4 296l-1.3-4.4M488.1 291.6l0.2-0.2M488.2 197.9l4.3 1.9M488.2 286.8l3.7 0.4M488.2 286.8l0.2-4.7M488.3 291.4l4 0.1M488.4 282.1l3-0.4M488.8 269.9l1.5 0M489.6 261.9l-0.6-6.9M489 255l0.5-0.1M492.5 199.8l2.7-4.8l-5.9-3.6M489.4 296l3.3-0.7l-0.4-3.8M489.5 254.9l0-0.1M489.5 254.8l2.7-3.6l0.4-4.1M494.6 261.9l0.4-0.4l-1.7-7l-3.8 0.4M489.6 261.9l5 0M489.7 263.1l-0.1-1.2M490 266.7l-0.3-3.6M490.3 269.9l-0.3-3.2M490 266.7l4.4-0.9l0.2-3.9M490.5 271.4l-0.2-1.5M491.6 240l-1.2-5.5M490.4 234.5l1.2-1.1M495.2 271.7l-4.7-0.3M490.9 276.4l-0.2-2.2l-0.2-2.8M491 277.2l-0.1-0.8M491.4 281.7l-0.1-1.4l-0.3-3.1M491 277.2l4.8-1.1M491.1 245.8l-0.1-5.2M491 240.6l0.6-0.6M491.1 245.8l1.5 1.3M491.4 281.9l0-0.2M491.9 286.7l-0.5-4.8M491.4 281.9l4-0.7M496.5 239.3l0.5-0.7l-0.9-4.3l-4.5-0.9M491.6 240l4.9-0.7M491.9 286.7l4.4 0.8l0.3-0.2M491.9 287.2l0-0.5M492.3 291.5l-0.4-4.3M492.6 247.1l5.4-1.7l-1.5-6.1M497.1 316.8l-4.2-2.6M492.9 314.2l-0.2 0.1l-1.6 2.4l2.1 3.5l0.8 0.3l3.2-3.3M494.9 310.6l-2 3.6M494.9 310.6l4.3 1.7M499.2 312.3l1.1-4l-2.9-1.9l-3.2 2.2l0.7 2M495.2 271.7l0.2 0.3M501 271.3l-0.9-5.1l-4.2 1.1l-0.7 4.4M495.8 276.1l-0.4-4.1M495.4 272l5.3-0.5M495.4 281.2l1.5 1.1M495.4 281.2l0.7-4.9M495.8 380.9l1.5 4.4M496.7 375.4l-2.2 1.7l1.3 3.8M495.8 380.9l4.1-0.7M495.8 276.1l0.3 0.2M496.1 276.3l4.5 0.7M496.6 287.3l0.3-5M496.6 287.3l4.5-0.2l0.3-0.4M496.7 375.4l4.5 1.5M502.5 374.6l-2.3-3.6l-1-0.2l-2.2 1.7l-0.3 2.9M496.9 282.3l4-1M497.2 317.2l-0.1-0.4M497.1 316.8l2.5-3.5M497.2 346.3l3.5 0.8M497.2 346.3l-1.3 1.5l0.7 3.6l1.6 1.4l1.9-0.4l1.7-2.8M501.7 341.4l-0.9-0.4l-4.5 1.9l0.9 3.4M497.2 317.2l3.4 3l2.9-3.8l-0.9-2.5l-3-0.6M500.9 385.4l-3.6-0.1M497.3 385.3l1.1 3.1l0.5 1.6l2.4-0.7M499.6 313.3l-0.4-1M501.5 382.4l-1.6-2.2M499.9 380.2l1.3-3.3M500.6 277l0 0.1M500.6 277l0.1-5.5M500.9 281.3l-0.3-4.2M500.6 277.1l4.8-1M500.7 347.1l1.1 2.5M500.7 347.1l1.9-2.4M500.7 271.5l0.3-0.2M500.9 281.3l0.2 0.2M501.9 386.7l-1-1.3M500.9 385.4l0.6-3M505.2 271.5l-4.2-0.2M501.1 281.5l4.5 0.2M501.4 286.7l-0.3-5.2M501.2 376.9l1-0.6M501.3 389.3l1.8 3l3.5-1.9M501.9 386.7l-0.6 2.6M501.4 286.7l4.8-0.9l-0.6-4.1M501.5 382.4l4.2-1.1M502.6 344.7l-0.9-3.3M507.4 340.5l-1.8-1l-3.9 1.9M501.8 349.6l2.4 0.3M505.8 386.4l-3.9 0.3M502.2 376.3l2.8 1.7M502.2 376.3l0.3-1.7M509.1 373.7l-0.3-0.6l-2.7-0.7l-3.6 2.2M505.4 345.1l-2.8-0.4M504.2 349.9l2.5 4l0.5 0.1M504.2 349.9l1.8-1.8M505.7 381.3l-0.7-3.3M505 378l2.8-1.4M505.4 276.1l-0.2-4.6M509.9 270.8l-4.3 0.3l-0.4 0.4M505.4 276.1l0.4 0.3M505.4 260.9l0.5 4.2l4 0.1l0.4-0.3M508.8 252.9l-1.5 0.2l-3 3.2l0 3.7l1.1 0.9M505.4 260.9l4.7-1.1M506 348.1l-0.6-3M505.4 345.1l2.6-2M506.9 422.7l-1.3-4.3M505.6 418.4l-1.6 0.1l0.6 4.8l2.3-0.6M506.9 422.7l0.9 0.3l2.1-0.9l1-1.6l-3.4-3.2l-1.9 1.1M505.6 281.7l0.7-0.7M506.5 382l-0.8-0.7M505.8 386.4l0.8 4M507.4 384.9l-1.6 1.5M506.3 281l-0.5-4.6M505.8 276.4l5.1-0.4M508.9 348.6l-2.9-0.5M506.3 281l4.3 0M507.4 384.9l-0.9-2.9M506.5 382l3.6-2.3M506.6 390.4l2.5 1.1l1.4-2.2M506.9 440l-0.1 0.1l0.1 6.2l2.8-0.9l5-2M511.6 432l-5.1 0.2l-1.8 3l2.2 4.8M506.9 440l2.8-0.4M507.2 354l2.7 3M509.5 350.6l-2.3 3.4M509.1 385.3l-1.7-0.4M507.4 340.5l0.6 2.6M514.1 339.4l-3.4-1.2l-3.3 2.3M507.8 376.6l2.3 3.1M507.8 376.6l1.3-2.9M508 343.1l1.2 0.8M510.1 259.8l-1.3-6.9M514.4 255l-2.9 0.5l-2.6-2.6l-0.1 0M509.5 350.6l-0.6-2M508.9 348.6l1.5-2.2M511.9 374.6l-2.8-0.9M509.1 385.3l1.4 4M511.8 384.2l-2.7 1.1M509.2 343.9l1.2 2.5M509.2 343.9l5.7-2.4M510 358.1l-0.8-0.7M509.2 357.4l-2.5 1.8l-0.8 2.5l4.4-0.4M509.9 357l-0.7 0.4M513.9 351.4l-4.4-0.8M509.7 439.6l5 3.8M511.5 437.3l-1.8 2.3M514.8 353.5l-4.9 3.5M511.4 275.4l-1.5-4.6M515.9 269.5l-5.3 0.4l-0.7 0.9M510.3 361.3l-0.3-3.2M514.7 358.1l-4.7 0M510.1 379.7M512.7 382.2l-2.6-2.5M510.1 379.7l2.4-2.9M510.1 259.8l0.8 0.8M510.3 264.9l5.3 0.6M510.3 264.9l0.6-4.3M510.3 361.3l6.6-0.7M510.4 346.4l4.2 0.8M510.5 389.3l3.7-0.4l1-1.2M510.6 281l0.9 4.2l4.9-0.3M510.6 281l0.6-0.8M510.9 260.6l3.5-0.5M511.2 280.2l-0.3-4.2M510.9 276l0.5-0.6M511.2 280.2l5 0.2M511.4 275.4l4-0.4M511.5 437.3l0.1-5.3M516.5 436.6l-5 0.7M516.3 431.8l-4.7 0.2M515.2 387.7l-3.4-3.5M512.7 382.2l-0.9 2M512.5 376.8l-0.6-2.2M517.9 375l-0.5-2.1l-2-0.5l-3.5 2.2M512.5 376.8l2.1 1.4M513.6 381.8l-0.9 0.4M513.6 381.8l3.9 1M514.6 378.2l-1 3.6M513.9 351.4l0.9 2.1M514.6 347.2l-0.7 4.2M514.1 339.4l0.9 1.6M519.2 340.4l1.8-3.2l-4.6-3.1l-2.3 5.3M514.8 259.6l-0.4-4.6M519.1 254.1l-4.7 0.9M516.2 264.6l-1.8-4.5M514.4 260.1l0.4-0.5M516.6 377.7l-2 0.5M515.7 346.3l-1.1 0.9M514.7 443.4l1.1-0.5l2.7-4.4M514.7 358.1l2.2 2.5M515.6 352.8l-0.9 5.3M514.8 259.6l5-0.7M515.6 352.8l-0.6 0.6l-0.2 0.1M514.9 341.5l0.8 4.8M514.9 341.5l0.1-0.5M515 341l4.2-0.6M515.2 387.7l1.2-0.3M515.4 275l0.7 0.6M515.4 275l0.5-5.5M516.6 351.8l-0.5 0.5l-0.5 0.5M515.6 265.5l0.4 4M515.6 265.5l0.6-0.9M520.3 347.1l-4.6-0.8M516 269.5l-0.1 0M516 269.5l4.5 0.4M517 279.3l-0.9-3.7M516.1 275.6l4.8-1.5M516.4 284.9l-0.2-4.5M516.2 280.4l0.8-1.1M516.2 264.6l3.7-1M516.3 431.8l0.2 4.8M520.7 431.6l-4.4 0.2M516.4 284.9l0.3 0.3l4.8-0.2M516.4 387.4l2.1 1.2l2.2-0.8l1.6-3.7l-1.6-2.5M516.4 387.4l1.1-4.6M518.5 438.5l-2-1.9M516.6 351.8l2.7 1.7M520.4 348l-1.9 1.9l-1.9 1.9M519.2 381.7l-2.6-4M517.9 375l-1.3 2.7M516.9 360.6l1.1-0.1M517 279.3l4.5 0.4M517.5 382.8l1.7-1.1M520.7 381.6l1.6-2.2l-0.5-2.3l-3.9-2.1M518 360.5l2.5-3.4M518 360.5l3.7-0.4M519 428.1l-0.6-1.8M518.4 426.3l-5.2 0.5l0.5 2l2.8 1.6l2.3-1.6M522.1 428.1l1.7-2.9l-0.9-1.2l-4.4 2l-0.1 0.3M518.5 438.5l3.9-0.5l-1.7-6.4M518.8 428.8l1.9 2.8M519 428.1l-0.2 0.7M522.1 428.1l-3.1 0M519.9 258.9l-0.8-4.8M523.9 252.8l-1.1 0.7l-3.7 0.6M520.3 347.1l0.6-4.2l-1.7-2.5M519.2 381.7l1.5-0.1M520.5 357.1l-1.2-3.6M519.3 353.5l4.3-1.5M519.9 263.6l-0.1-4.7M519.8 258.9l0.1 0M519.9 258.9l5.1-0.1M519.9 263.6l1.1 0.8M520.8 347.6l-0.5-0.5M524.6 349.3l-4.2-1.3M520.8 347.6l-0.4 0.4M525.6 357.4l-5.1-0.3M520.5 269.9l0.1 0M520.5 269.9l0.5-5.5M520.9 274.1l-0.3-4.2M520.6 269.9l4.9-0.5M520.7 431.6M520.7 431.6l2.8-0.1l0.1-0.4l-1.5-3M524.5 344l-1.1 1l-2.6 2.6M520.9 274.1l1.1 0.9M521 264.4l4.3-0.4M522.1 284.1l-0.6-4.4M521.5 279.7l0.3-0.3M521.5 285l1.1 4l5.4 0.8l-0.5-6.1M521.5 285l0.6-0.9M521.7 360.1l3.4 6.6l0.6 0.6M521.7 360.1l3.2-2M521.8 279.4l0.2-4.4M521.8 279.4l5.4-0.4M522 275l4.2-0.8M522.1 284.1l5.3-0.5M523.6 352l2 4.2M523.6 352l1-2.7M523.9 252.8l0.3 0.4M529 253.8l0-4.1l-5.1 3.1M524.2 253.2l4.8 0.6M525 258.8l-0.8-5.6M524.5 344l1.2 4.5M526.6 342.2l-2.1 1.8M524.6 349.3l1-0.6M530 362.6l-5.1-4.5M524.9 358.1l0.8-0.5M525 258.8l0.5 0.4M525.3 264l0.1 0.1M525.3 264l0.2-4.8M525.4 264.1l4.5 0.1M525.7 269.2l-0.3-5.1M525.5 259.2l3.6-0.9M526.2 274.2l-0.7-4.8M525.5 269.4l0.2-0.2M525.7 357.6l-0.1-0.2M525.6 356.2l0 1.2M528.8 351.1l-3.2-2.4M525.6 348.7l0.1-0.2M529.1 352.6l-3.5 3.6M525.7 357.6l2.7-1.7l3.8-0.1M525.7 348.5l5.7-3.6M525.7 269.2l4.9-0.2M525.7 367.3l3.7 3.7M525.7 367.3l4.3-4.7M526.2 274.2l0 0.1M527.5 278.6l-1.3-4.3M526.2 274.3l4.4-1.1M531.2 343.7l-4.6-1.5M531 337.8l-0.9 1.4l-3.5 3M527.4 283.6l-0.2-4.6M527.2 279l0.3-0.4M527.4 283.6l0.1 0.1M527.5 278.6l3.4-0.4M527.5 283.7l4.5-0.4l0.5-3.9M528.8 351.1l0.3 1.5M532.1 349.3l-3.3 1.8M529.5 254.3l-0.5-0.5M529.1 258.3l0.4 0.3M529.1 258.3l0.4-4M532.6 355.2l-3.5-2.6M529.4 371l4.3 4.4M533.6 369.9l-4.2 1.1M534.7 257.7l0.1-0.1l-0.2-4.6l-5.1 1.3M531.1 262.9l-1.6-4.3M529.5 258.6l5.2-0.9M531.1 268.6l-1.2-4.4M529.9 264.2l1.2-1.3M530 362.6l2.4-0.3M530.6 273.2l1.2 1M530.6 273.2l0-4.2M530.6 269l0.5-0.4M530.9 278.2l1.6 1.2M530.9 278.2l0.9-4M531 337.8l0.2 5.9M532.1 336.3l-1.1 1.5M531.1 268.6l3.6-0.1M531.1 262.9l3.6-0.1M531.2 442.9l4.5 0M531.2 442.9l-1.9 4.2l2.1 1.6l3.6 1.6M536 437.1l-4.5-0.9l-2.1 4.3l1.8 2.4M531.7 344.2l-0.5-0.5M531.4 344.9l0.7 4.4M531.4 344.9l0.3-0.7M531.7 344.2l2.4-0.2M531.8 274.2l3.9-0.4M532.1 336.3l3.4 1M536.8 331.4l-1.7 0.3l-3 4.6M532.1 349.3l1.6 1M532.2 355.8l0.3 6.4M532.2 355.8l0.7-0.1M533.8 369.5l-1.4-7.2M532.4 362.3l0.1-0.1M532.5 279.4l4.3-1.1l-1.1-4.5M532.5 362.2l2.8-0.3M532.6 355.2l0.3 0.5M533.7 350.3l-1.1 4.9M532.9 355.7l4.2-0.1M536.5 376.6l-2.9-6.7M533.6 369.9l0.2-0.4M537.8 349.4l-4.1 0.9M533.7 375.4l1.4 1.4l1.2 1M533.7 375.4l-1.6 3.2l1.3 2.3l0.4 0.1l4.6-1.4M533.8 369.5l5.5-1.3M534.1 344l4.2 4.9M536.9 341.1l-2.8 2.9M535.7 273.8l0.6-0.9l-1.6-4.4M534.7 268.5l0.7-0.9l-0.7-4.8M534.7 262.8l0.6-0.6l-0.6-4.5M535 450.3l1.4 0.7M535.7 442.9l-0.7 7.4M535.3 361.9l4 2.8M535.3 361.9l3.3-4.1M536.9 341.1l-1.4-3.8M535.5 337.3l3.4-2.6M536.1 442.7l-0.4 0.2M536 437.1l0.1 5.6M537.2 436.3l-1.2 0.8M541.5 443.8l-5.4-1.1M536.3 377.8l0.2 0.1M536.5 376.6l-0.2 1.2M536.4 451l0.1 0l3.1 6.9M542.3 449.3l-5.9 1.7M536.5 377.9l1.9 1.7M536.5 377.9l9.1-0.3M541.1 371.5l-4.6 5.1M538.9 334.7l-2.1-3.3M541.8 330.6l-5 0.8M538.3 341.4l-1.4-0.3M537.1 355.6l0.7-6.2M537.1 355.6l0.9-0.1M537.2 436.3l1.3 0.1M543 430.4l-6 0.6l0.2 5.3M538.3 348.9l-0.5 0.5M538.6 357.8l-0.6-2.3M538 355.5l0.6 0l5.1-0.2M538.3 348.9l1.8-0.4M541 345.1l-2.7-3.7M541.9 339l-3.6 2.4M538.4 379.6l0.6 0.4M542.2 439.6l-3.7-3.2M538.5 436.4l4.1-2.6M542.2 359.2l-3.6-1.4M538.9 334.7l0.3 0M539 380l1.6 1.4l2.2 1.8M539 380l0.1 5.6l0.7 0.4l2.7 0.1l2.1-1.4M541.9 339l-2.7-4.3M539.2 334.7l2.6-1.5M539.3 368.2l0-3.5M539.3 364.7l1.7-1.1M539.3 368.2l1.5 1.4M539.6 457.9l1.4 3.1l1 5.5M539.6 457.9l2-0.2M541.8 349.5l-1.7-1M540.1 348.5l0.9-3.4M540.8 369.6l0.3 1.9M545.9 367.2l-5.1 2.4M543.8 343.5l-2.8 1.6M545.9 367.2l-0.6-2.4l-4.3-1.2M541 363.6l1.2-4.4M545.8 374.8l-4.7-3.3M543.2 445.9l-1.7-2.1M542.2 439.6l-0.7 4.2M543.8 459.5l-2.2-1.8M541.6 457.7l2.8-5.6M543.8 354.2l-2-4.7M541.8 349.5l6.1-2.2M541.8 333.2l3 1M541.8 330.6l0 2.6M547.6 329.7l-5.8 0.9M544.3 339.4l-2.4-0.4M542 466.5l0.8 4.5l1.8 3.5M542 466.5l2.6-0.7M546.3 437.3l-4.1 2.3M542.2 359.2l0.5-0.1M544.4 452.1l-2.1-2.8M542.3 449.3l0.9-3.4M546.3 437.3l-3.7-3.5M542.6 433.8l0.4-3.4M542.7 359.1l4 2.8l0.4-0.1l1.8-3.8M542.7 359.1l2.4-3.8M542.8 383.2l1.8 1.5M545.7 379.4l-2.9 3.8M548.4 429.9l-5.4 0.5M548.1 444.1l-4.9 1.8M543.7 355.3l0.1-1.1M543.7 355.3l1.4 0M543.8 459.5l0.8 6.3M547.9 458l-4.1 1.5M543.8 343.5l4.6 2.9M544.3 339.4l-0.5 4.1M547.9 351.7l-4.1 2.5M546 338.4l-1.7 1M544.4 452.1l2.9 0.8M544.6 474.5l3.2 6.5l0.1 0.2M547.4 471.9l-2.8 2.6M544.6 384.7l0.5 0.4l2.8 3.5M544.6 465.8l0.1 0M544.7 465.8l2.7 6.1M550.9 463.9l-6.2 1.9M544.8 334.2l1.2 4.2M547.8 331.2l-3 3M545.1 355.3l1.9-0.1M545.6 377.6l0.1 1.8M546 376.6l-0.4 1M545.7 379.4l4 4M545.8 374.8l0.2 1.8M548.2 370.9l-2.4 3.9M547.2 368l-1.3-0.8M546 338.4l4 0.7M552.8 376.8l-6.8-0.2M547.7 437.4l-1.4-0.1M547 355.2l1.9 2.8M547 355.2l3.1-0.1l1 1M548.2 370.9l-1-2.9M550.9 365.8l-3.7 2.2M547.3 452.9l0.6 5.1M547.3 452.9l4.9-1.7M547.4 471.9l3.6 0.8M551.4 425l-3.9-0.9M547.5 424.1l-1.7 1.4l3.6 3.5M551.3 420.5l0-0.1l-3 1l-0.8 2.7M547.6 329.7l0.2 1.5M554.1 328.6l-6.5 1.1M549 440.9l-1.3-3.5M548.8 435.9l-1.1 1.5M551.8 334.1l-4-2.9M547.9 351.7l0-4.4M547.9 347.3l0.5-0.9M552.2 354.2l-4.3-2.5M550.7 460.1l-2.8-2.1M547.9 481.2l5.8 9.3M547.9 481.2l4.2-2.1M547.9 388.6l3.9 4.8l1.3 2.2M547.9 388.6l1.6-1.3M552.6 448.2l-4.5-4.1M548.1 444.1l0.9-3.2M554.4 371.7l-6.2-0.8M548.4 429.9l0.3 0.5M549.4 429l-0.4 0.8l-0.6 0.1M548.4 346.4l0.2-0.1M548.6 346.3l3.6 2.9M548.6 346.3l1.8-2.7M553.9 431l-5.2-0.6M548.7 430.4l0.1 5.5M548.8 435.9l6.7-0.2M548.9 358l5.9 0.8l0.1-0.5l-1.5 0.1l-2.3-2.3M555.3 440.4l-6.3 0.5M549.4 429l1-2l0.6-1.3M549.5 387.3l4.7 0.9M549.7 383.4l-0.2 3.9M549.7 383.4l4.7-3.8M550.4 343.6l-0.4-4.5M550 339.1l0.6-0.5M556 344.7l-5.6-1.1M550.6 338.6l5.5 0.8M550.6 338.6l1.2-4.5M550.7 460.1l0.2 3.8M555.4 455l-4.7 5.1M554 466l-3.1-2.1M550.9 365.8l4.2 1.5M557.6 363.8l-2.8-4.7l-4.6 4l0.7 2.7M552.8 476.6l-1.8-3.9M551 472.7l3.1-5.9M551 425.7l4 0.9M551 425.7l0.4-0.7M551.1 356.1l1.1-1.9M551.3 420.5l0.2 4.4M554 423.5l0.7-3.4l-3.4 0.4M551.4 425l0.1-0.1M551.5 424.9l0-0.1l2.5-1.3M551.5 319l2.1 3.2M551.9 312.3l-3.3 3.3l1.1 2.9l1.8 0.5M551.5 319l2.4-2.1M552.7 333.6l-0.9 0.5M553.2 313.1l-1.3-0.8M555.5 306.9l-0.7 2.5l-2.9 2.9M555.7 481.8l-3.6-2.7M552.1 479.1l0.7-2.5M552.2 354.2l0-5M552.2 451.2l3.2 3.8M552.2 451.2l0.4-3M552.2 349.2l4.1-1.5M552.6 448.2l2.7-1.9M557.6 334.5l-4.9-0.9M552.7 333.6l1.4-5M552.8 476.6l7.2-3.2M554.4 379.6l-1.6-2.8M552.8 376.8l1.6-5.1M553.1 395.6l1.9 3M553.1 395.6l2-2.7M553.9 316.9l-0.7-3.8M556.2 312.7l-3 0.4M553.6 322.8l4.8 2M553.6 322.8l-0.3 0.4l-0.2 3.1l2.5 2.1M553.6 322.2l0 0.6M557.9 318.7l-4.3 3.5M553.7 490.5l0.3 0.5l2.7 2.7M557.3 485.9l-3.6 4.6M553.9 316.9l3.7 1.3M553.9 431l1.6 4.7M555.8 428.8l-1.9 2.2M554.1 466.8l-0.1-0.8M560.1 462.4l-6.1 3.6M555 426.6l-1-3.1M554.1 466.8l5.9 6.1M555.6 328.4l-1.5 0.2M555.1 392.9l-0.9-4.7M554.2 388.2l2.1-1.2M555.6 380.1l-1.2-0.5M554.4 371.7l0.7-0.6M555 398.6l0.9 1.5l4.3 2.1l2.9-3.4M561.2 396.3l-6.2 2.3M555.8 428.8l-0.8-2.2M555.1 392.9l5.8 0.7M555.1 371.1l3.4 1.3M555.1 367.3l0 3.8M555.1 367.3l2.5-3.5M560.2 447.6l-4.9-1.3M555.3 446.3l0.9-4.7M556.2 441.6l-0.9-1.2M555.7 435.8l-0.4 4.6M556.6 455.3l-1.2-0.3M555.5 306.9l1.9 1.6M556.5 303.2l-1 3.7M555.5 435.7l0.2 0.1M555.6 328.4l0.1 0l1.6-0.3M555.7 380.2l-0.1-0.1M559.2 376.1l-3.6 4M558.5 435l-2.8 0.8M555.7 380.2l4.8 1.2M556.3 387l-0.6-6.8M557.3 485.9l-1.6-4.1M562.8 477.6l-7.1 4.2M558.5 435l-2-4l-0.7-2.2M556 344.7l0.3 3M556.6 344l-0.6 0.7M556.1 339.4l0.5 4.6M556.1 339.4l2.6-2M556.2 441.6l5.5-0.3M558.3 314.2l-2.1-1.5M556.2 312.7l1.2-4.2M556.3 347.7l0.7 0.8l3.5 0.7l3.2-2.9l0.1-0.4M558.3 387.3l-2-0.3M561.5 304.5l-5-1.3M557.6 299.6l-1.1 3.6M556.6 344l5.3-0.8M556.6 455.3l3.5 7.1M561.3 452.4l-4.7 2.9M556.7 493.7l4.8 4.8l1 1M556.7 493.7l7.9-1.2M557.3 328.1l1.7 3.9M557.3 328.1M562.3 486.3l-5-0.4M557.3 328.1l1.2-3.2l-0.1-0.1M564.3 327l-7 1.1M557.4 308.5l2.6 0.1M557.6 299.6l4.3 0.7M559.8 295.4l-1.7 2.3l-0.5 1.9M557.6 334.5l1.1 2.9M559 332l-1.4 2.5M564.7 369.1l-2.8-5.1l-4.3-0.2M557.9 318.7l-0.3-0.5M557.6 318.2l0.7-4M558.4 324.8l0.9-5.2l-1.4-0.9M561.9 221.3l-3.7-1.7M558.2 219.6l-2.5 1.8l-0.1 4.9l4.1 1.3l3.8-2.5M565 216.8l-0.2 0l-6.7 0.5l0.1 2.3M558.3 314.2l2.4-0.9M558.3 387.3l3.4 4.6M561.1 384.9l-2.8 2.4M558.5 372.4l0.7 3.7M558.5 372.4l5.3-1.6M561.7 441.3l-3.2-6.3M558.7 337.4l3.6 1.3M562.3 331.7l-3.3 0.3M562.8 377.8l-3.6-1.7M563.5 296.6l-3.7-1.2M562.4 291.7l-2.6 3.7M560 473.4l2.8 4.2M560 472.9l0 0.5M560 472.9l3.5-4M560 308.6l0.7 4.7M561.2 307.8l-1.2 0.8M560.2 462.4l-0.1 0M560.2 462.4l3.2 3.6M566.2 457.6l-6 4.8M560.2 447.6l1.4 1.8M562 441.9l-1.8 5.7M560.5 381.4l0.6 3.5M562.9 379.4l-2.4 2M560.7 313.3l2 0.7M560.9 393.6l0.3 2.7M561.7 391.9l-0.8 1.7M561.1 384.9l3.3 0.7M563.1 398.8l-1.9-2.5M565.1 309.3l-3.9-1.5M561.5 304.5l-0.3 3.3M566.5 455.6l-5.2-3.2M561.3 452.4l0.3-3M563 303l-1.5 1.5M561.6 449.4l3.8-1.7M561.7 391.9l2.3-1M562 441.9l-0.3-0.6M561.9 300.3l1.1 2.7M563.5 296.6l-1.6 3.7M563.5 225.1l-1.6-3.8M561.9 221.3l3.1-4.5M561.9 343.2l1.9 2.7M562.3 338.7l-0.4 4.5M565.4 447.7l-2.6-4.2l-0.8-1.6M562.3 338.7l0.4-0.2M564.7 492.2l-2.4-5.9M565 482.8l-2.7 3.5M564.3 334.3l-2-2.6M562.3 331.7l2-4.7M562.4 291.7l2.5 1.6M566.9 289l-1.5-1.5l-1.4 1.9l-1.6 2.3M562.5 499.5l3.9 3.9M564.6 492.5l-2.1 7M567.1 339.3l-4.4-0.8M562.7 338.5l1.6-4.2M562.7 314l0.7 0.8l4.8-0.8M562.7 314l2.4-4.7M562.8 377.8l0.1 1.6M564.8 374.8l-2 3M562.8 477.6l1.9 1M565.4 380.9l-2.5-1.5M564 303.1l-1-0.1M563.1 398.8l3.4-4l1.8-1.6M563.5 468.9l-0.1-2.9M563.4 466l7.7-2.4M568.8 471.7l-5.3-2.8M564.1 296.3l-0.6 0.3M563.5 225.1l0.7 0.2M563.7 275.1l1.4 2.6M563.7 275.1l-4.7 0.7l2.1 3.4l2.6 0.1l1.4-1.6M568.9 274.4l-5.2 0.7M563.8 370.8l1 4M564.7 369.1l-0.9 1.7M563.8 345.9l5.2-2M566.9 306.4l-2.9-3.3M564 303.1l3.5-2.5M564 390.9l4.3 2.3M565.6 386.9l-1.6 4M566.4 297.6l-2.3-1.3M564.1 296.3l0.8-3M564.2 225.3l3.2 6.3M567.8 223.7l-3.6 1.6M565.4 326.8l-1.1 0.2M567.1 333.5l-2.8 0.8M565.6 386.9l-1.2-1.3M564.4 385.6l1-4.7M564.6 492.5M564.7 492.2l-0.1 0.3M564.6 492.5l4.8 3.4M564.7 478.6l0.3 4.2M564.7 478.6l1.2-0.7M570.2 488.7l-5.5 3.5M571.2 371.1l-2.1-2.3l-4.4 0.3M564.8 374.8l3.7 1.5M564.9 293.3l1.6-1.3M568.1 216l-3.1 0.8M565 482.8l5.2 2.2M565.1 277.7l3.8 0M565.1 309.3l1.2-0.3M565.4 380.9l2.3-0.4M568.3 330.6l-2.9-3.8M572 325.7l-6.6 1.1M569.1 453.7l-0.1-0.2l-3.6-5.8M569.6 386.3l-4 0.6M572.7 478.6l-6.8-0.7M565.9 477.9l2.9-6.2M566.1 242.9l0.5 5.8l0.4 0.3l4.8-1.2l1-2.3l-1.2-3.2M571.6 236.2l-5.3 1l-0.8 5.2l0.6 0.5M566.1 242.9l5.5-0.6M571.1 463.5l-4.9-5.9M566.2 457.6l0.3-2M567.7 310.1l-1.4-1.1M566.3 309l0.6-2.6M566.4 503.4l2.6 2.6l2.2 2.8M567.9 502.2l-1.5 1.2M567.5 300.6l-1.1-3M566.4 297.6l4.5-2.4M566.5 455.6l2.6-1.9M566.5 292l4.7 2.4M566.9 289l-0.4 3M569.2 305.1l-2.3 1.3M570.8 288.1l-3.9 0.9M569 343.9l-1.9-4.6M567.1 339.3l2.9-2.6M567.1 333.5l2.9 3.2M568.3 330.6l-1.2 2.9M567.4 231.6l-0.1 0.6l4.1 3.5M567.4 231.6l6.1-4.4M567.5 300.6l1.1 0.4M567.7 310.1l0.5 3.9M571.3 309.5l-3.6 0.6M567.7 380.5l2.2 5.2M569.6 378.3l-1.9 2.2M571.8 224.5l-4-0.8M568.1 216l-0.3 7.7M574 502.3l-6.1-0.1M567.9 502.2l1.5-6.3M568.3 215.9l-0.2 0.1M568.2 314l1 1l2.8-0.1M568.3 215.9l5.7 3.6M576.9 212.8l-2.1 1.5l-6.5 1.6M572.5 330.3l-4.2 0.3M568.3 393.2l3.1-2.7M569.6 378.3l-1.1-2M568.5 376.3l2.7-5.2M569.7 303.1l-1.1-2.1M568.6 301l3-2.2M570.6 471.1l-1.8 0.6M568.9 277.7l0.5 1.9l1 0.9M568.9 277.7l0.4-1M569.3 276.7l-0.4-2.3M570.6 274.2l-1.7 0.2M569 343.9l0.9 0.2l1.4-0.9M574.4 462.4l-5.3-8.7M569.2 305.1l2.6 2M569.7 303.1l-0.5 2M569.3 282.8l4.7 0.5M569.3 282.8l1.5 5.3M570.4 280.5l-1.4 2l0.3 0.3M574.5 275.7l-5.2 1M569.4 495.9l5.1-1M572.4 378.7l-2.8-0.4M569.6 386.3l1.8 4.2M569.9 385.7l-0.3 0.6M574.1 302.9l-4.4 0.2M572.1 384.5l-2.2 1.2M570 336.7l2.5 0.1M575.2 492.1l-5-3.4M570.2 485l0 3.7M573.4 483.2l-3.2 1.8M570.4 280.5l1.1-1.5l1.3-0.6M571.1 265.1l-2.9 4.5l2.4 4.6M570.6 274.2l4.5-0.7M570.6 471.1l3 1.5M571.1 463.6l-0.5 7.5M571.4 288.3l-0.6-0.2M571.6 298.8l-0.7-3.6M570.9 295.2l0.3-0.8M571.1 463.6l0-0.1M576.3 260.8l-6-5.2l-0.7 0.1l-2.2 5.8l3.7 3.6M573.4 264.7l-2.3 0.4M574.4 462.4l-3.3 1.1M571.2 294.4l0.2-0.1M575.1 373.8l-1-1.7l-2.9-1M571.2 508.8l2.8 3.4l5.3-1M571.2 508.8l5.2-2.4M572.9 311.2l-1.6-1.7M571.3 309.5l0.5-2.4M571.3 343.2l5.7 0.7l0.5-3.1M573 337.2l-1.7 6M571.4 294.3l2.6 0.2M571.9 289.1l-0.5 5.2M571.9 289.1l-0.5-0.8M574.8 284.5l-3.4 3.8M571.4 390.5l5.1-4.5M571.4 235.7l0.2 0.5M575.4 231.5l-4 4.2M572.3 236.1l-0.7 0.1M571.6 242.3l1.8-3.6M574.6 300.3l-3-1.5M571.8 307.1l2.5-1.3M573.5 227.2l-1.7-2.7M574 219.5l-2.2 5M575.3 289.8l-3.4-0.7M572 325.7l0.5 4.6M577.6 330.2l0.4-5.4l-6 0.9M572 314.9l0.5 0.4l5 0.2M572 314.9l0.9-3.7M576.5 386l-4.4-1.5M572.1 384.5l1.4-4.4M573.4 238.7l-1.1-2.6M579.4 234.8l-7.1 1.3M572.4 378.7l1.1 1.4M575.1 373.8l-2.7 4.9M572.5 330.3l0.7 0.5M572.5 336.8l0.5 0.4M573.2 330.8l-0.7 6M573.7 480l-1-1.4M573.6 472.6l-0.9 6M574.6 280.3l-1.8-1.9M572.8 278.4l0.2 0l1.9-0.8M576.6 310.1l-3.7 1.1M573 337.2l1.8 0.3M573.2 330.8l4.4-0.6M573.4 264.7l3.5 4.6M576.3 260.8l-2.9 3.9M573.4 238.7l3.8 1.2l3.5-2.6M578.1 486.8l-4.7-3.6M573.4 483.2l0.3-3.2M573.5 380.1l4 0.8M573.5 227.2l1.4 0.7M573.6 472.6l5.2-1.2M573.7 480l7.8-2.1M574 294.5l2.8 3M574 294.5l2.2-2.6M576.5 505l-2.5-2.7M575 495.6l-1 6.7M574 219.5l1.9-0.6M574 283.3l0.8 1.2M574 283.3l0.6-3M574.1 302.9l0.7 1.6M574.6 300.3l-0.5 2.6M574.3 305.8l2.3 4.3M574.8 304.5l-0.5 1.3M578.8 471.4l-2.3-5.4l-2.1-3.6M574.9 277.6l-0.4-1.9M575.2 274.5l-0.7 1.2M574.5 494.9l0.5 0.7M574.5 494.9l0.7-2.8M578.5 279.5l-3.9 0.8M576.9 298.7l-2.3 1.6M577.5 340.8l-2.7-3.3M574.8 337.5l3.7-2.8M574.8 284.5l0.2 0.1M579 304.6l-4.2-0.1M574.9 277.6l1.6-0.7l2 2.6M574.9 227.9l0.5 3.6M574.9 227.9l3.5-1.5M575 495.6l5.4 2.3M577 287.8l-2-3.2M575 284.6l4.8-1.9M577.5 380.9l0-0.1l1.7-2.7l-1.8-3.6l-2.3-0.7M575.1 273.5l0.1 1M575.1 273.5l0.5 0l0.8-0.1M575.2 492.1l3.5-3.3M575.2 274.5l4.8 1.4M576.2 291.9l-0.9-2.1M575.3 289.8l1.7-2M579.2 234.3l-3.8-2.8M579.3 220.9l-3.4-2M575.9 218.9l1.1-5.8M578.3 292.3l-2.1-0.4M578.7 259.9l-2.4 0.9M576.4 506.4l2.9 4.8M576.5 505l-0.1 1.4M576.4 273.4l0.5-4.1M576.4 273.4l2.6-0.4l2.2-0.1M576.5 386l1-5.1M581.7 501.6l-5.2 3.4M577.5 310.4l-0.9-0.3M576.8 297.5l0.1 1.2M576.8 297.5l2.2-2.8M577 213.1l-0.1-0.3M582.8 208.6l-5.9 4.2M576.9 269.3l5.6-2.6M577.4 299l-0.5-0.3M577 213.1l4.9 1.2M579 287.8l-2 0M579.7 302.9l-2.3-3.9M582.6 298.2l-5.2 0.8M577.5 340.8l2.6-1.2M577.5 315.5l0.1 0.2l3.5 0.5l2.5-4.2M577.5 315.5l0-5.1M577.5 310.4l1.7-0.9M577.7 330.3l-0.1-0.1M578.5 334.7l-0.8-4.4M583.2 333.1l-1.9-2.8l-3.6 0M578.7 488.8l-0.6-2M582.1 479.2l-4 7.6M578.3 292.3l0.7 2.4M580.5 290.2l-2.2 2.1M578.4 226.4l4 1.9M579.3 220.9l-0.9 5.5M578.5 279.5l0.5 0.7l0.6 0.2M580.8 335.9l-2.3-1.2M584.6 490.4l-5.9-1.6M578.7 259.9l4.6 4.8M589.1 258.7l-0.4-0.9l-8.1-1.9l-0.1 0l-1.8 4M581.5 477.9l-2.7-6.5M580.5 290.2l-1.5-2.4M580.9 284.3l-1.9 3.5M580.1 306.6l-1.1-2M579.7 302.9l-0.7 1.7M579 294.7l2.9 0.4M583.6 312l-4.4-2.5M579.2 309.5l0.9-2.9M579.2 234.3l0.2 0.5M582.4 229l-3.2 5.3M579.3 511.2l0.9-0.2l4.3-7.5l0.1-1M583.2 219.7l-3.9 1.2M580.3 234.6l-0.9 0.2M579.6 280.4l0.1 0M579.6 280.4l0.8-3.6M583.4 301.4l-3.7 1.5M579.7 280.4l3.5 1l1.6 0.5M579.7 280.4l0.1 2.3M579.8 282.7l1.1 1.6M580.4 276.8l-0.4-0.9M580 275.9l1.2-3M580.1 339.6l2.5 1.2l2.9-2.9l-0.2-0.7M580.1 339.6l0.7-3.7M580.1 306.6l4-0.6M580.3 234.6l0.4 2.7M586.3 233.5l-1.5 0.3l-4.5 0.8M580.4 276.8l4.6 0M580.4 497.9l1.3 3.7M584.9 491.8l-4.5 6.1M582.4 290.5l-1.9-0.3M580.7 237.3l4.4 2.2l1.4-0.9M582.7 335.4l-1.9 0.5M580.9 284.3l2 0.6M581.2 272.9l0.3 0l3-0.2M582.1 479.2l-0.6-1.3M581.7 501.6l2.9 0.9M581.9 295.1l0.9 2.7M583.3 292.7l-1.4 2.4M581.9 214.3l1.3 5.4M585.5 210.9l-3.6 3.4M584.6 490.4l-1.8-9.4l-0.7-1.8M582.4 228.3l0 0.7M582.4 228.3l2.5-2M582.4 290.5l0.9 2.2M583.7 289l-1.3 1.5M586.3 233.5l-3.9-4.5M582.5 266.7l2 6M582.5 266.7l0.8-2M583.4 301.4l-0.8-3.2M582.6 298.2l0.2-0.4M582.7 335.4l2.6 1.8M583.2 333.1l-0.5 2.3M582.8 297.8l3.5-1M585.5 210.9l-2.7-2.3M583.6 202.8l1.6 2.3l-2.1 3.3l-0.3 0.2M582.9 284.9l0.8 4.1M586.3 283.4l-3.4 1.5M583.2 219.7l3.2 1.2M585.3 337.2l2.2-2.8l-1.2-2.8l-3.1 1.5M583.3 264.7l0.5-0.1M586.3 293.5l-3-0.8M583.8 301.7l-0.4-0.3M583.6 312l1-0.3M584.3 194.6l-2.5 5.5l1.8 2.7M588.1 202.7l-4.5 0.1M583.7 289l3.6-0.2M590.3 267.2l-6.5-2.6M583.8 264.6l5.3-5.9M583.8 301.7l0.3 4.3M586.8 301.4l-3 0.3M584.1 306l0.7 0.5M584.3 194.6l3.2 1.7M588.6 187.8l-3.8 5.6l-0.5 1.2M584.5 272.7l1.9-0.1M584.6 502.5l0.6-9l-0.3-1.7M584.9 491.8l-0.3-1.4M584.6 311.7l2.7 4.1l2.8-0.9M584.7 311.7l-0.1 0M584.8 306.5l-0.1 5.2M584.7 311.7l5.4-1.7M584.8 281.9l1.8 1M586 279.3l-1.2 2.6M584.8 306.5l3.6-0.7M584.9 226.3l4.9 3.2M584.9 226.3l1.5-5.4M586 279.3l-1-2.5M585 276.8l1.5-4M589 364.3l-3.8-3.5M585.2 360.8l-2.1 0.7l-1.5 3.9l4.4 3l3-4.1M586.1 358.4l-0.9 2.4M588.2 210.9l-2.7 0M590.2 278.6l-4.2 0.7M588.4 353.1l-3 0.1l-1.3 2.9l2 2.3M589.4 357.3l-3.3 1.1M586.3 296.8l2.6 2M586.3 293.5l0 3.3M587.6 288.5l-1.3-5.1M586.3 283.4l0.3-0.5M587.2 292.9l-0.9 0.6M587.6 233.3l-0.8 0.1l-0.5 0.1M586.4 272.6l0.1 0.2M586.4 272.6l0.8-0.1M586.4 220.9l1.2-0.4M586.5 238.6l5.3 2.3l2.5-1.7M586.5 238.6l1.1-5.3M586.5 272.8l4.2 3.1M586.6 282.9l3.8 2.2M588.7 305.3l-1.9-3.9M588.9 298.8l-2.1 2.6M590.5 293.5l-3.3-0.6M587.3 288.8l-0.1 4.1M587.2 272.5l3.2-4.4M587.2 272.5l7.8-0.4M587.3 288.8l0.3-0.3M587.5 196.3l0.6 6.4M590.2 195.4l-2.7 0.9M590.2 288.4l-2.6 0.1M589.5 232.9l-1.9 0.4M589.8 229.5l3.4-3.5l-5.6-5.5M587.6 220.5l0.7-1M589.7 203.8l-1.6-1.1M589.7 213.4l-1.5-2.5M588.2 210.9l2.3-4.8l-0.8-2.3M588.3 219.5l1.4-6.1M588.3 219.5l7.7-0.3l-0.8-5.2l-5.5-0.6M588.4 353.1l1 4.2M595.2 354.2l-3.1-3.3l-2.3 0.2l-1.4 2M590.1 310l-1.7-4.2M588.4 305.8l0.3-0.5M592.1 190.8l-3.5-3M596.3 183.8l-0.1 0l-6.4 2.1l-1.2 1.9M592.8 303.3l-4.1 2M588.9 298.8l0.4-0.1M589 364.3l1-1.3l2-1.5M590 259.2l-0.9-0.5M592.5 300.5l-3.2-1.8M589.3 298.7l1.6-4.5M589.4 357.3l0.6 0.3M589.5 232.9l0.3-3.4M592.3 232.4l-2.8 0.5M589.7 203.8l5-5.1M596.2 259.2l-6.2 0M591.6 265.5l-1.6-6.3M592 361.5l-2-3.9M590 357.6l5.2-3.4M590.1 314.9l2 2.6l2.2-0.7M590.1 314.9l1.3-2.9M590.9 310.4l-0.8-0.4M591.6 290l-1.4-1.6M590.2 288.4l1.2-2.8M594.7 198.7l-4.5-3.3M590.2 195.4l1.9-4.6M590.2 278.6l1 1.3M590.7 275.9l-0.5 2.7M590.4 268.1l-0.1-0.9M590.3 267.2l1.3-1.7M595.5 272.1l-5.1-4M591 285.4l-0.6-0.3M590.4 285.1l0.8-5.2M590.9 294.2l-0.4-0.7M590.5 293.5l1.1-3.5M594.6 273.8l-3.9 2.1M590.9 294.2l3.6 0.7M591.4 312l-0.5-1.6M593.2 308.8l-2.3 1.6M591 285.4l0.4 0.2M596.3 282l-5.3 3.4M591.2 279.9l4.5-0.2M591.4 285.6l0.9 0.5l0.2 0.3M591.4 312l4 2M596.2 264.5l-4.6 1M594.6 289.9l-3 0.1M592 361.5l5.2-3.9M594.2 190.8l-2.1 0M594.3 239.2l-2-6.8M600.3 233.5l-0.3-1.2l-4.5-0.5l-3.2 0.6M592.5 286.4l3.3 0.6M592.5 286.4l2.1 3.5M592.8 303.3l-0.3-2.8M594.7 298.7l-2.2 1.8M593.9 304.2l-1.1-0.9M596.7 309.6l-3.5-0.8M593.2 308.8l0.7-4.6M597.1 304.5l-3.2-0.3M594.2 190.8l3.7 5.4M598.1 186.8l-3.9 4M594.3 239.2l3.3 0.4M594.3 316.8l2.5 2.5l3.2-2.3M594.3 316.8l1.1-2.8M594.5 294.9l0.2 3.8M594.5 294.9l0.2-0.2M596.7 277.8l-2.1-4M594.6 273.8l0.4-1.7M594.6 289.9l0.4 0.5l0.2 0.4M594.7 298.7l3.4 0.6M594.7 294.7l0.5-3.9M598.7 294.6l-4 0.1M594.7 198.7l2.6-0.5M595 272.1l0.5 0M595.2 354.2M597.2 357.6l2.8-2.1l3.1-2.3l-4.4-2l-3.5 3M595.2 354.2l2 3.4M595.2 290.8l0.2 0.3l0.8 0.8M595.4 314l1.2-0.5M595.5 272.1l2.9-0.2M595.7 279.7l0.6 2.3M595.7 279.7l1-1.9M595.8 287l1.2 3.5M598.7 284.2l-2.9 2.8M596.2 291.9l2.5 2.7M597 290.5l-0.8 1.4M605.1 262.5l0.2-0.8l-3.4-2.5l-5.7 0M596.2 264.5l0-5.3M598.2 266.1l-2-1.6M598.7 284.2l-2.4-2.2M596.3 183.8l1.8 3M604.2 181.5l-7.9 2.3M596.6 313.5l3.4 1.2M596.7 309.6l-0.1 3.9M598.6 308.1l-1.9 1.5M596.7 277.8l3.7-0.1M597 290.5l4.2-1.2M597.1 304.5l1.7 2.8M599.2 301.4l-2.1 3.1M597.3 198.2l1.6 2.5M597.9 196.2l-0.6 2M597.6 239.6l2.2 2.5l4.9-0.9M600.3 233.5l-2.7 6.1M597.9 196.2l4.1-2.8M598.1 186.8l3.3 0.8M598.1 299.3l1.1 1.6M599.6 295.6l-1.5 3.7M598.2 266.1l0.2 5.8M605.1 262.5l-6.9 3.6M598.4 271.9l1.6-0.1l0.5 0.4M601.3 311.6l-2.7-3.5M598.6 308.1l0.2-0.8M599.6 284.2l-0.9 0M598.7 294.6l0.7 0.8l0.2 0.2M598.8 307.3l3.7-1.1M603.1 201.3l-4.2-0.6M598.9 200.7l-1.7 6.4l0.8 1.1l6.7-0.7l0.8-1M599.2 301.4l0-0.5M599.2 300.9l2.6-1.3M603.4 304.4l-4.2-3M599.6 295.6M601.2 289.3l-1.6-5.1M599.6 284.2l1.1-0.7l0.3-5.3l-0.6-0.5M599.6 295.6l0.5 0.5l1.7 3.5M603.6 291.9l-4 3.7M600 314.7l0.4 0.8M600 314.7l1.3-3.1M600 317l2 3.9l2.5-0.4M600.4 315.5l-0.4 1.5M605.8 236.8l-5.5-3.3M600.4 315.5l3.7 0.3M600.4 277.7l0.6-5.1M600.5 272.2l0.5 0.4M600.5 272.2l4.6-2M601 272.6l4.1 3.4M603.6 291.9l0.2-0.9l-0.3-0.5l-2.3-1.2M603.9 310.5l-2.6 1.1M602 193.4l-0.6-5.8M601.4 187.6l2.1-1.3M601.8 299.6l0.2 0.3M607.3 195.7l-5.3-2.3M602 299.9l2 4.1M602 299.9l1.1-0.2M602.5 306.2l1.7 3.1M603.4 304.4l-0.9 1.8M605.5 206.5l-2.4-5.2M603.1 201.3l4.5-4.3M604.9 305.9l2.2-3.9l-4-2.3M603.1 299.7l2.7-3.1l-2.2-4.7M604 304l-0.6 0.4M603.5 186.3l4.9 1.6M603.5 186.3l0.7-4.8M605.8 312.7l-1.9-2.2M604.2 309.3l-0.3 1.2M604 304l0.2 0.4l0.7 1.5M605.5 317.4l-1.4-1.6M604.1 315.8l1.7-3.1M607.7 180.5l-3.5 1M604.2 309.3l1.9-0.7M604.5 320.5l1-3.1M604.5 320.5l3-0.5l2.5 0.5l-0.7-3.3M604.7 241.2l3.6 3.3M604.7 241.2l1.1-4.4M605.4 307.1l-0.5-1.2M607.4 275.1l-1-3.2l-1.3-1.7M605.1 270.2l-0.4-0.5l0.4 0.5l2-0.9l-2.1-6.3l0.1-0.5M605.1 276l0.7 0.5M605.1 276l-2.9 2.1l3.5 2.9l3.2-1.4l-0.2-0.2l-0.2-0.6M605.4 307.1l0.7 1.5M608.7 314.1l-0.8-3.3l0.4-3.9l-2.9 0.2M605.5 206.5l4.2-1M609.3 317.2l-3.8 0.2M605.8 312.7l2.2-0.1M605.8 276.5l2.7 2.3M607.4 275.1l-1.6 1.4M613.2 238.4l-5.5-2.7l-1.9 1.1M606.1 308.6l0.6 1.3l1.3 2.7M606.7 256.4l3.3 0.9M606.7 256.4l-1.3 5.2l3.5 0l1.5-2.5M607.3 253.7l-0.6 2.7M608.3 244.5l-5.6 6.2l4.6 3M607.3 253.7l0.2-0.7l1-2.6M607.3 195.7l0.3 1.3M608.2 194.4l-0.9 1.3M608.5 278.8l-1.1-3.7M607.6 197l2.2 2.1M607.7 180.5l3 2.7M611.2 179.5l-3.5 1M608 312.6l0.7 1.5M608.4 187.9l-0.2 6.5M614.4 192.7l-6.2 1.7M610.7 244.8l-2.4-0.3M608.9 187.6l-0.5 0.3M609.5 251l-1-0.6M608.5 250.4l1.1-2.7l0.3-1M609.3 317.2l-0.6-3.1M608.9 187.6l4.6 1.1M610.7 183.2l-1.8 4.4M611.1 255.6l-1.6-4.6M613.4 250.4l-3.9 0.6M609.7 205.5l2.3 1.2M609.8 199.1l-0.1 6.4M609.8 199.1l6-0.3M609.9 246.7l3.5 0.3M609.9 246.7l0.8-1.9M610.4 259.1l-0.4-1.8M610 257.3l1.1-1.7M610.4 259.1l2.8 1M610.7 244.8l0.9-2.2M610.7 183.2l1.3-0.4M612.3 255.3l-1.2 0.3M611.9 182.4l-0.7-2.9M615.6 177.2l-4.4 2.3M611.6 242.6l3 0.9M611.6 242.6l1.1-3l0.5-1.2M612 182.8l-0.1-0.4M614.7 181.3l-2.8 1.1M612 206.7l1.2 4.9l5.4-0.2M612 206.7l4.9-3.1M613.2 187.5l-1.2-4.7M616.3 256.9l-4-1.6M612.3 255.3l3-3.7M613.5 188.7l-0.3-1.2M613.2 187.5l4.8-1.1M613.3 238.2l-0.1 0.2M613.2 260.1l1.5 3.1l4.9-1.8l0-0.1M613.2 260.1l3.1-2.1M615.7 239.2l-2.4-1M615.2 233.8l-0.2 0l-1.7 4.4M613.4 250.4l1.9 1.2M613.4 247l0 3.4M615.3 245.3l-1.9 1.7M614.4 192.7l-0.9-4M614.5 192.9l-0.1-0.2M615.8 198.8l-0.8-3.8l-0.5-2.1M614.5 192.9l2.6-0.5M614.6 243.5l0.7 1.8M614.6 243.5l1.5-2.4M618 186.4l-3.3-5.1M614.7 181.3l1.2-3.6M615.2 233.8l0.6 0.1M619.6 228.6l-4.7-0.2l0.3 5.4M617.6 246.5l-2.3-1.2M615.3 251.6l1.1 0M615.6 177.2l0.3 0.5M624.1 172.7l-8.5 4.5M616.1 241.1l-0.4-1.9M615.7 239.2l1.7-2M615.8 233.9l4 0.4M617.4 237.2l-1.6-3.3M615.9 199l-0.1-0.2M616.9 203.6l-0.9-4.2l-0.1-0.4M620.7 196.2l-4.8 2.8M615.9 177.7l4 1.4M620.2 241.7l-4.1-0.6M616.3 258l0-1.1M616.3 256.9l0.4-0.6M619.6 261.3l-3.3-3.3M616.4 251.6l0.3 4.7M616.4 251.6l0.8-0.5M616.7 256.3l3.8-0.7M617.1 204.9l-0.2-1.3M617.1 192.4l3.3 2.7M618.2 186.5l-1.1 5.9M618.3 210.2l-1.2-5.3M617.1 204.9l3.7-0.9M617.2 251.1l3.6 1M617.2 251.1l0.4-4.6M620 237.3l-2.6-0.1M620.4 245.5l-2.8 1M618.2 186.5l-0.2-0.1M619.2 186.2l-1 0.3M618.3 210.2l5 1.3M618.6 211.4l-0.3-1.2M618.6 211.4l0.2 1.1l0.1 1.4M618.9 213.9l0.1 1.8M618.9 213.9l4.3-0.9M619 215.7l3.4 0.7M619 215.7l0.2 4.3M622.4 220.7l-3.2-0.7M619.2 220l0.2 4.3M622.3 187.8l-3.1-1.6M619.2 186.2l1.8-4.1M619.4 224.3l0.1 3.7M619.4 224.3l3.1-0.3M619.5 228l5 3.6M619.5 228l0.1 0.6M619.8 234.2l-0.1-2.4l-0.1-3.2M619.6 261.3l0.5-1.9l0.4-3.8M619.8 234.3l0-0.1M623.5 233.4l-3.7 0.8M619.8 234.3l0.2 3M621 182.1l-1.1-3M619.9 179.1l4-2.9M620 237.3l0.1 3.3l0.1 1.1M620.2 241.7l0 0.8M620.4 245.5l0.3-0.5l-1.9 0.5l1.4-3M620.2 242.5l2.3-4.7l1.6-0.5M620.7 196.2l-0.3-1.1M620.4 195.1l2.5-4.6M620.8 252.1l0.1-1.1l0.3 0l1.9-1l-2.7-4.5M620.5 255.6l0.3-3.5M621.7 196.9l-1-0.7M623.3 205.6l-2.5-1.6M620.8 204l1.7-5.6M626 181.9l-5 0.2M622.5 198.4l-0.8-1.5M626.4 194.3l-4.7 2.6M622.9 190.5l-0.6-2.7M627.4 185.5l-5.1 2.3M622.4 216.4l0.6 3.5M623.7 214.9l-1.3 1.5M622.5 224l-0.1-3.3M623 219.9l-0.6 0.8M622.5 198.4l4.1 1.6M622.5 224l3.2-0.3M622.9 190.5l4 1.7M623 219.9l5.3-0.6M623.7 214.9l-0.5-1.9M623.2 213l1.1-0.2M623.3 211.5l1 1.3M623.3 205.6l0 5.9M627 204.5l-3.7 1.1M624.1 237.3l-0.6-3.9M624.5 231.6l-1 1.8M628 215.4l-4.3-0.5M623.9 176.2l2.7 3.3M623.9 176.2l0.2-3.5M624.1 237.3l6.1-2M626 171.7l-1.9 1M624.3 212.8l3.3-0.7M624.5 231.6l0.6-0.2M625.9 231.4l-0.8 0M625.1 231.4l0.6-7.7M625.7 223.7l2-0.1M625.9 231.4l4.3 3.9M631.7 228.4l-5.8 3M626 181.9l1.4 3.6M626.6 179.5l-0.6 2.4M631.3 174.9l-5.3-3.2M633 168l-7 3.7M626.5 198.4l-0.3-3.4l0.2-0.7M626.4 194.3l0.3-1.2l0.2-0.9M626.5 198.4l6.1 2.9M626.6 200l-0.1-1.6M627 204.5l-0.4-4.5M626.6 179.5l3.8-1.1M626.9 192.2l0.3-1.1M627.6 212.1l-0.6-7.6M627.2 191.1l0.5-2.2l0.8-2.9M627.2 191.1l8.6-1.4M628.5 186l-1.1-0.5M627.6 212.1l0.7-0.1M627.7 223.6l4 4.7M627.7 223.6l2-0.2M628 215.4l1.1 1.7M628.3 212l-0.3 3.4M628.3 212l2.4-0.5M629.7 223.4l-1.4-4.1M628.3 219.3l0.8-2.2M628.5 186l1.5-6l0-0.1M629.1 217.1l4.4-0.9M629.7 223.4l1.3-0.1l3.2-0.2M633.5 181.1l-3.5-1.2M630 179.9l0.4-1.5M630.2 235.3l2.3-0.8l0.7-0.3M630.4 178.4l0.6-2.2l0.3-1.3M632.6 201.3l-1.9 10.2M630.7 211.5l2.1-0.4l0.3-0.1M631.3 174.9l0.8-3.5M633.2 234.2l-1.5-5.8M631.7 228.3l0 0.1M631.7 228.3l2.5-1.2M632.1 171.4l4.4 0.6M632.1 171.4l0.9-3.4M636.4 200.1l-3.8 1.2M634.9 165.5l-1.9 2.5M634.1 215l-1-4M633.1 211l0.3-0.1l4.8-0.9M633.2 234.2l5.1-2.3M635.7 219.9l-2.2-3.7M633.5 216.2l0.6-1.2M633.5 181.1l2.3 8.6M638.2 178.9l-4.7 2.2M634.1 215l5-1.1M635.7 219.9l-1.5 3.2M634.2 223.1l0.1 0M636.2 227.8l-2-0.7M634.2 227.1l0.1-4M634.3 223.1l6.2-0.5M636.5 172l-1.6-6.5M635.3 164.9l-0.4 0.6M635.3 164.9l9.7 1.6M638.1 156.7l-0.6 5.3l-2.2 2.9M639 219.4l-3.3 0.5M635.8 189.7l0.7 0.4M636.2 227.8l2.1 4.1M641 224.8l-4.8 3M636.4 200.1l1.9 0.7M636.5 190.1l-0.1 10M637.1 174.5l-0.6-2.5M636.5 190.1l5.1-1.1M638.2 178.9l-0.9-3.6l-0.2-0.8M637.1 174.5l8.7-1.1M640.1 144.3l-1.3 5.7l-0.7 6.7M643.7 155.6l-5.6 1.1M639.3 212.8l-1.1-2.8M638.2 210l2.3-0.5l0.4-0.1M638.6 180.7l-0.4-1.8M640.9 209.4l-2.6-8.6M638.3 200.8l7.2-2.1M638.3 231.9l1.7-0.7l0.5-0.5M645.8 181.4l-7.2-0.7M641.6 189l-2.3-5.6l-0.7-2.7M640.4 220.5l-1.4-1.1M639.9 215.3l-0.9 4.1M639.9 215.3l-0.8-1.4M639.1 213.9l0.2-1.1M639.3 212.8l4.7-1.8M643.4 215.9l-3.5-0.6M646.3 148.7l-6.2-4.4M641.7 137.9l-1.6 6.4M640.4 220.5l0.1 2.1M644.7 219.3l-4.3 1.2M640.5 222.6l0.7-0.1l-0.2 2.3M641 225l-0.5 5.7M640.5 230.7l4.4-4.4M640.9 209.4l2.5-0.5M641 224.8l0 0.2M641 225l3.1-0.1M641.7 189.2l-0.1-0.2M649.6 127.6l-5.8 1.2l-2.1 9.1M641.7 137.9l8-0.4M642.8 192.1l-1.1-2.9M641.7 189.2l4.5-5.7M649.3 192.7l-6.5-0.6M645.5 198.7l-2.7-6.6M643.4 215.9l1.3 3.4M644.6 214.3l-1.2 1.6M644.1 210.9l-0.7-2M643.4 208.9l0.4-0.1l4.9-2.1M643.7 155.6l4.4 4.5M646.3 148.7l-2.6 6.9M644 211l0.6 3.3M644 211l0.1-0.1M644.1 224.9l0.8 1.4M647 221.3l-2.9 3.6M644.1 210.9l4.4-0.4M647.6 214.8l-3-0.5M646.8 220.4l-2.1-1.1M644.9 226.3l0.1-0.1l5.7-0.7M645 166.5l2.1 4.4M648.1 160.1l-3.1 6.4M646.4 200.9l-0.9-2.2M647 179.2l-1.2-5.8M645.8 173.4l1.3-2.5M646.2 183.5l-0.4-2.1M647 179.2l-1.2 2.2M646.2 183.5l5.7 4.3M650.8 147.3l-4.5 1.4M648.7 206.7l0.1 0l-2.4-5.8M648.7 206.7l-2.3-5.8M646.4 200.9l2.5-7.5l0.4-0.7M647 221.3l-0.2-0.9M648.8 218.3l-2 2.1M654.5 179.1l-7.5 0.1M650.6 224.8l-3.6-3.5M647.1 170.9l6.3-0.3M648.8 218.3l-1.3-3.3l0.1-0.2M647.6 214.8l0.9-4.3M648.1 160.1l6.6-0.5M648.5 210.5l0.6-2.9l-0.4-0.9M654.3 220.6l-4.3 0.6l-1.2-2.9M649.3 192.7l2.6-4.9M651.7 134.1l-2.1-6.5M661.7 128l-0.5-0.5l-3.7 1.3l-5-1.8l-2.9 0.6M652.2 144.4l-2.5-6.9M649.7 137.5l2-3.4M650.7 225.5l-0.1-0.7M650.6 224.8l3.8-3.6M650.7 225.5l4.3-0.5l1.5-2M655.5 153l-4.7-5.7M650.8 147.3l1.4-2.9M651.7 134.1l6.6 0.4M651.9 187.8l1.5-2.8l2.8-1.7M652.2 144.4l7.2-1.9M653.4 170.6l3.2 3.4M656.6 161.7l-3.2 8.9M654.4 221.2l-0.1-0.6M656.5 223l2.1-3l-4.3 0.6M656.5 223l-2.1-1.8M654.5 179.1l1.7 4.2M656.6 174l-2.1 5.1M654.7 159.6l1.9 2.1M655.5 153l-0.8 6.6M664.8 149.7l-9.3 3.3M656.2 183.3l1.3-0.8l3.7-6.3l1.5-2M656.6 174l5.9-0.2M661.9 162.4l-5.3-0.7M658.3 134.5l2.5 3.8M661.7 128l-3.4 6.5M659.4 142.5l5.6 6.8M660.8 138.3l-1.4 4.2M660.8 138.3l6.5-1M667.3 137.3l-1.1-4.8l-4.5-4.5M665.7 167.2l-3.8-4.8M661.9 162.4l4.6-6.9M662.5 173.8l0.2 0.4M662.5 173.8l3.2-6.6M662.7 174.2l2.3-3l3.8 3.8l2.4-5l0.1-0.1M666.5 155.5l-1.7-5.8M665 149.3l-0.2 0.4M669.4 146.4l-4.4 2.9M668.2 167.2l-2.5 0M666.5 155.5l10 3.5M669.4 146.4l-2.1-9.1M671.3 169.9l-3.1-2.7M668.2 167.2l8.3-8.2M677.3 158.9l-3.5-3.9l-3.8-6.2l-0.6-2.4M671.3 169.9l4.9-3.7l2.6-5.7l-1.5-1.6M676.5 159l0.8-0.1M516.4 397.5l-1 2l2.6 2.9l1.6-0.2l0.1-0.2l-1.2-5.1l-2.1 0.6M604.2 345.6l-1.3 0.7l1.2 6.1l4.5-3.3l-4.4-3.5" fill="none" stroke="#5a4a3a" stroke-opacity="0.36" stroke-width="0.55"/>
<polygon points="427.6,160 431.8,157.8 436,156.3 436.5,157.5 432.6,159.5 428.4,161.3" fill="#b04f39" stroke="#3a444d" stroke-width="0.8"/>
<polygon points="654.5,227 657.5,226 658,228 655,228.8" fill="#f9e7b7" stroke="#3a444d" stroke-width="0.8"/>
<polygon points="661.2,226.5 663.8,226 664,227.8 661.8,228" fill="#f9e7b7" stroke="#3a444d" stroke-width="0.8"/>
<polygon points="68.8,113.8 72.5,117.5 70,125 66.2,132.5 61.2,133.8 60,130 65,122.5 67.5,116.2" fill="#fff" stroke="#3a444d" stroke-width="0.9"/>
<polygon points="460.4,192.3 457.7,197.3 456.4,199.8 453.5,205 448.5,212.4 446.3,211.4 448.3,205.7 451.2,202.3 453.7,199 456.2,194.4 458.4,191.3" fill="#fff" stroke="#3a444d" stroke-width="0.9"/>
<polygon points="597,273.5 599.2,279.4 599.6,286.1 600.6,291.1 603.7,296.1 606.2,302.7 607.7,310.8 608.7,314.1 605.4,311.1 602.1,301.9 597.9,293.6 593.9,285.2 593.4,277.7 594.7,273.5" fill="#fff" stroke="#3a444d" stroke-width="0.9"/>
<polygon points="610.1,322.5 613.1,326.7 616.7,332.5 617.6,337 615.1,340.9 610.1,343.7 607.6,341.7 611.7,339.2 614.7,335.9 613.7,332 610.1,328.7 606.7,326.7" fill="#fff" stroke="#3a444d" stroke-width="0.9"/>
<polygon points="432.6,445 438.5,444.7 439.3,447.5 433.5,448" fill="#fff" stroke="#3a444d" stroke-width="0.9"/>
<polygon points="368.7,456.7 371.7,455.9 372.5,460.1 369.7,460.9" fill="#fff" stroke="#3a444d" stroke-width="0.9"/>
<g fill="none" stroke="#3a444d" stroke-width="1.2" stroke-linejoin="round">
<polyline points="46.2,143.8 52.5,148.8 62.5,157.5 73.8,161.2 87.5,163 100,161.2 107.5,163.8 121.2,167.5"/>
<polyline points="130,120 121.2,167.5"/>
<polyline points="121.2,167.5 123.8,177.5 116.2,188.8 113.8,193.8 107.5,230"/>
<polyline points="22.5,210 107.5,230 176.2,237.8"/>
<polyline points="64.4,219.5 59.5,266.8 111.2,348"/>
<polyline points="141,234 125,318"/>
<polyline points="125,318 123.8,330.5 120,333.5 115.5,331.8 113,343 112,350.5 111.2,355.5 113.8,360.5 107.5,373 105,380.8 105,383.5"/>
<polyline points="125,318 190,329.2 212,331.8 278.2,335.5 372,339.2"/>
<polyline points="175,238 173,260.5 197.5,264.2 212,265 258.2,269.2"/>
<polyline points="197.5,264.2 190,329.2 180,381 175.5,418"/>
<polyline points="139.5,123.8 137.5,140 145,155 150,167.5 146.2,181.2 155,180 160,200 170,202.5 180,200"/>
<polyline points="183.8,197 176.2,237.8"/>
<polyline points="183.8,197 212,198.8 263.2,205"/>
<polyline points="268.2,141.2 263.2,205 260.8,238 258.2,269.2"/>
<polyline points="258.2,269.2 280.8,271.8 280,288 278.2,335.5"/>
<polyline points="280,288 359.5,290.5"/>
<polyline points="264.5,191.2 348.2,195"/>
<polyline points="340.8,146.2 344.5,170 348.2,195 349,205 348.2,237.8 348.2,243 345.8,248"/>
<polyline points="260.8,238 322,240.5 337,244.2 345.8,248 349.5,255.5 354.5,268 359.5,281.8 362,290.5 367,296.8 370.8,303 372,339.2 373.2,348 375.8,380.8 376.2,394.8 382,396 382,403.5 384.5,421 388.2,433.5 387,446 384.5,453.5"/>
<polyline points="348.2,233.8 384,232.8 409.7,232.1"/>
<polyline points="397.6,180.2 395.9,186.9 390.9,195.3 390.9,203.7 393.4,212 400.9,220.4 407.6,228.8 412.2,242.8 418.4,247.8 421.5,252.8 424.1,256.6 422.8,260.3 419.7,264.1 414,266.6 413.4,270.3 415.3,272.8 413.4,276.6 409.7,280.3 407.6,281 410.1,289.4 415.9,296.1 421.8,304.4 425.1,309.4 427.6,317.8 432.6,324.4 438.5,331.1 441.8,341.6 438.5,342 433.5,350.3 431.8,360.4 426.8,368.7 425.1,375.4 420.1,383.7 417.6,392.1 420.1,402.1 421.8,412.1 417.6,422.1 415.9,432.1 415.2,433.5 441.5,434 442.8,443.5"/>
<polyline points="362,281 403.8,279.2 407.6,281"/>
<polyline points="418.4,247.2 450.3,245.9"/>
<polyline points="419.4,183.9 428.6,188.6 437,191.1 442.8,195.3 447,200.3 448.3,205.3 453.7,201.1 458.7,193.6 460.7,191.9"/>
<polyline points="456.5,258 457.8,300.5 455.2,318 452.8,324.2"/>
<polyline points="541,263 539,279.2 534,288 526.5,296.8 522.8,305.5 514,301.8 505.2,300.5 500.2,298 494,298 492.8,303 486.5,305.5 479,313 471.5,315.5 466.5,320.5 461.5,318 457.8,323 452.8,324.2 449,329.2 441.5,334.2 439,335.5"/>
<polyline points="489,255.5 492.8,296.8"/>
<polyline points="465.2,256.8 489,255 507.8,253"/>
<polyline points="539,245 541,263 542.8,278 579,273 600,271.8 604.5,275.5"/>
<polyline points="441.5,338 465.2,340.5 480,338.4 535.1,331.7 607.5,320 610,320.5"/>
<polyline points="429,369.2 457.8,367.5 490.2,365.5 490,364.2 505.9,361.7 521.7,360.1"/>
<polyline points="535.1,331.7 530.1,339.2 523.4,345 515,353.4 506.7,359.2 505.9,361.7"/>
<polyline points="373.2,347.5 404,347.2 429,346.8 427.8,355.5 431.5,355.5"/>
<polyline points="265,336 264.5,344.2 302,346 301.3,376.1 305.4,381.1 312.1,383.6 322.1,384.4 328.8,387.7 338.8,390.3 348.8,391.9 356.7,388.7 365,388.7 373.4,392.1 380.1,394.6"/>
<polyline points="264.5,344.2 262,381 259.5,413.5"/>
<polyline points="212,415.2 259.5,414.8"/>
<polyline points="382,403.5 420.2,403"/>
<polyline points="457.8,367.5 456.5,418.5 458.5,442.2"/>
<polyline points="490,364.2 498.4,388.4 503.4,405.6 504,418.5 505.2,428.5"/>
<polyline points="467.8,437.2 469,431 500.2,428.5 505.2,428.5 506.5,432.2 536.5,431 549,429.8 551.5,424.8 554,423.5"/>
<polyline points="521.4,301.1 523.9,307.7 531.7,318.4 518.4,328.4 513.4,334.7"/>
<polyline points="531.7,318.4 546.4,317.8 554.8,309.4 558.1,297.7 564,289.4 571.5,279 576.5,276.9 579,280.2 584.8,281.9 592.3,286.1 595.4,291.1 600.1,296.1 604.2,304.4 608.7,314.1"/>
<polyline points="521.7,360.1 525.1,366.7 535.1,376.8 545.1,385.1 551.8,393.4 555.9,400.1 560.2,402.2"/>
<polyline points="521.7,360.1 528.4,355.9 550.1,355.1 553.4,358.4 570.1,357.6 583.5,366.7"/>
<polyline points="546.4,238.4 545.1,241.1 595.5,231.8 615,233.8"/>
<polyline points="611.2,179.5 615,195 618.8,212.5 620,237.8"/>
<polyline points="633,168 630,180 626.2,195 627.5,211.2"/>
<polyline points="635.1,166.3 639.3,183.4 646.4,200.9"/>
<polyline points="619.5,213.8 643.8,208.8 650,206.2"/>
<polyline points="620,224.2 641.2,222.5"/>
<polyline points="641.2,222.5 640.5,231.2"/>
<polyline points="615,233.8 607.5,253 605,263 607.5,270.5"/>
</g>
<polygon points="47.5,110.5 60,113 66.2,110 71.2,105.5 130,120 170,127 211.8,134.5 268.2,141.2 340.8,146.2 362,146.2 363.2,140 367,140 368.2,148.8 382,152.5 390.1,151.7 396.8,155.9 410.2,156.8 424.4,158.8 413.5,167.6 403.5,176 397.6,180.2 405.1,179.4 411,177.2 413.5,181.9 419.4,183.6 423.6,178.5 430.3,173.5 438.6,167.6 444.5,166 441.1,171.8 443.7,176 450.4,179.4 458.7,179.4 467.1,176.9 475.5,174.3 480.5,177.7 487.2,181.9 494.7,184.4 488.9,186.1 480.5,185.6 473.8,186.6 465.4,188.9 460.4,192.3 456.2,199.5 454.5,207 452,214.5 450.4,223.8 450,236 452.8,248 457.8,256.8 465.2,256.8 469,248 469.5,238 466.3,230.5 464.6,223.8 465.1,215.4 467.1,207 469.6,201.1 471.8,202.8 473.8,197.8 477.2,193.6 478.8,190.3 482.2,189.4 488.9,191.1 495.6,195.3 499.8,202 498.5,207.5 496.5,215 500.2,220 504,214.5 510.2,220 512.8,230 510.2,237.8 506.5,240.5 505.2,249.2 511.5,255.5 522.8,253.5 535.2,246 541.4,242.6 551.4,236.3 550.9,222.1 554.8,217.6 564.8,216.8 574.8,214.3 583.1,208.4 585.2,205.1 581.8,200.1 584.8,193.4 589.8,185.9 596.2,183.8 611.2,179.5 633,168 637.5,162 638.8,150 643.8,128.8 652.5,127 657.5,128.8 661.2,127.5 666.2,132.5 670,148.8 673.8,155 678.8,160.5 676.2,166.2 671.2,170 668.8,175 665,171.2 661.2,176.2 657.5,182.5 653.4,185 648.9,193.4 646.4,200.9 649.1,207.6 647.5,215 650,221.2 658.8,220 661.2,216.2 659.2,215 659.5,218.8 655,225 645,226.2 640,231.2 632.5,234.5 622.5,237.8 618.8,245.5 628.8,243 640.5,238 641.2,240 631.2,245.5 621.2,251 620.9,251 620.1,259.4 617.6,269.4 613.4,278 608.4,274.4 604.7,269.7 606.4,271.9 608.7,279.4 613.4,284.4 614.4,289.4 611.1,296.1 608.7,302.7 607.9,310.8 608.7,314.1 610,320.5 617.5,330.5 618.8,338 612.5,343 610,348 600,355.5 590,363 582.5,373 577.5,380.8 576.5,386 566.5,394.8 560.2,402.2 556.5,411 554,423.5 556.5,431 562.8,443.5 569,453.5 576.5,466 582.8,481 585.2,493.5 584.5,503.5 580.2,511 574,512.2 569,506 561.5,498.5 554,491 547.8,481 542.8,471 541,461 536.5,451 531.4,448.7 524.7,443.7 518.1,442 509.7,445.4 504,447.2 499,442.2 489,438 476.5,439.8 469.5,442.2 466.5,437.2 465.2,441 457.8,442.2 444,444.8 444,448.5 439,453.5 445.2,454.8 450.2,462.2 441.5,458.5 436.5,462.2 429,463.5 421.5,462.2 414,458.5 404,456 384.5,453.5 374.5,456 367,461 357,468.5 347,474.8 339.5,481 334.5,488.5 333.2,501 337,511 335.8,517.2 322,514.8 309.5,508.5 303.2,498.5 297,486 289.5,473.5 284.5,463.5 275.8,453.5 265.8,452.2 258.2,456 253.2,464.8 244.5,461 233.2,448.5 227,433.5 217,423.5 212,414.8 188,414.8 187.5,419 175,418 147.5,413.5 101.2,386 105,383.5 70,381 68.8,373 66.2,363 61.2,355.5 52.5,345.5 43.8,338 35,331.8 36.2,325.5 33.8,315.5 31.2,303 26.2,288 22.5,273 20,263 19,245 20,227.5 22.5,210 23,205 27.5,190 35,170 42.5,150 46.2,142.5 45,127.5" fill="none" stroke="#3a444d" stroke-width="1.2" stroke-linejoin="round"/>
</svg>
<div class="t" style="top:8.2px;letter-spacing:1.63px">Dartmouth Institute for Health Policy</div>
<div class="t" style="top:35px;letter-spacing:0.98px">Heart Disease Deaths Among Adults Ages 35+</div>
<div class="t" style="top:63.2px;letter-spacing:0.88px">Socioeconomic Factors in Heart Disease</div>
<div class="foot">CDC 2003-6, from Brown &amp; O’Connor, NEJM, June 10, 2010</div>
<div class="lt" style="top:389.5px">Age-Adjusted</div>
<div class="lt" style="top:405.5px">Average Annual</div>
<div class="lt" style="top:421.5px">Deaths per 100,000</div>
<div class="sw" style="top:444.9px;background:#fcf4e3"></div><div class="ll" style="top:442.1px">195–382</div><div class="sw" style="top:461.3px;background:#f9e7b7"></div><div class="ll" style="top:458.5px">383–430</div><div class="sw" style="top:477.4px;background:#eaa665"></div><div class="ll" style="top:474.6px">431–473</div><div class="sw" style="top:493.9px;background:#b04f39"></div><div class="ll" style="top:491.1px">474–522</div><div class="sw" style="top:510.3px;background:#85442a"></div><div class="ll" style="top:507.5px">523–747</div><div class="sw" style="top:527.9px;background:#b3b3b8"></div><div class="ll" style="top:525.1px">Insufficient data</div>
</body></html>
